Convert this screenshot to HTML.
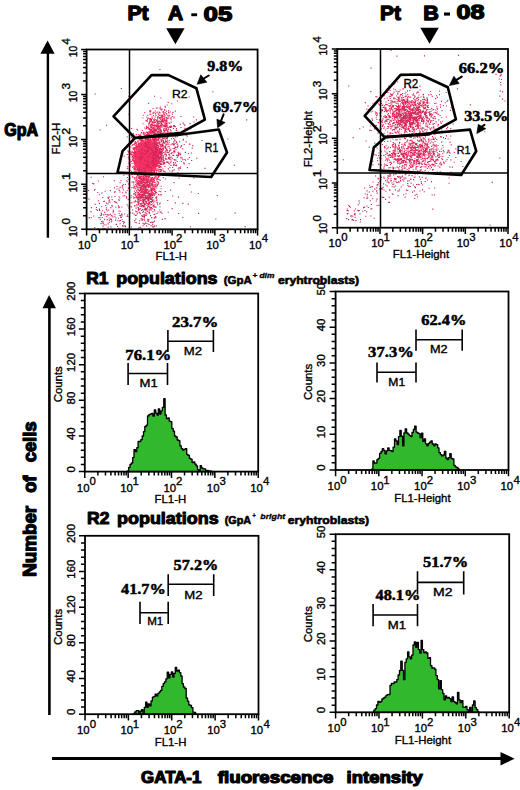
<!DOCTYPE html>
<html><head><meta charset="utf-8"><style>
html,body{margin:0;padding:0;background:#fff;overflow:hidden}
svg{display:block}
</style></head><body>
<svg width="520" height="790" viewBox="0 0 520 790">
<rect width="520" height="790" fill="#fff"/>
<text x="127.43" y="20.35" font-size="19.91" font-family='"Liberation Sans", sans-serif' fill="#000" font-weight="bold" stroke="#000" stroke-width="1.3" stroke-linejoin="round" textLength="21.17" lengthAdjust="spacingAndGlyphs">Pt</text>
<text x="168.03" y="20.35" font-size="20.64" font-family='"Liberation Sans", sans-serif' fill="#000" font-weight="bold" stroke="#000" stroke-width="1.3" stroke-linejoin="round" textLength="15.18" lengthAdjust="spacingAndGlyphs">A</text>
<rect x="191.3" y="13.3" width="5.8" height="2.9" fill="#000"/>
<text x="203.63" y="20.65" font-size="20.77" font-family='"Liberation Sans", sans-serif' fill="#000" font-weight="bold" stroke="#000" stroke-width="1.3" stroke-linejoin="round" textLength="28.74" lengthAdjust="spacingAndGlyphs">05</text>
<text x="380.06" y="19.55" font-size="20.49" font-family='"Liberation Sans", sans-serif' fill="#000" font-weight="bold" stroke="#000" stroke-width="1.3" stroke-linejoin="round" textLength="20.85" lengthAdjust="spacingAndGlyphs">Pt</text>
<text x="423.20" y="19.55" font-size="20.49" font-family='"Liberation Sans", sans-serif' fill="#000" font-weight="bold" stroke="#000" stroke-width="1.3" stroke-linejoin="round" textLength="15.63" lengthAdjust="spacingAndGlyphs">B</text>
<rect x="444" y="12.5" width="6" height="3.1" fill="#000"/>
<text x="456.56" y="19.15" font-size="19.91" font-family='"Liberation Sans", sans-serif' fill="#000" font-weight="bold" stroke="#000" stroke-width="1.3" stroke-linejoin="round" textLength="27.97" lengthAdjust="spacingAndGlyphs">08</text>
<polygon points="166.2,28.2 184.6,28.2 175.4,44.3" fill="#000"/>
<polygon points="420.3,27.7 438.8,27.7 429.5,43.8" fill="#000"/>
<line x1="47.90" y1="52.00" x2="47.90" y2="237.70" stroke="#000" stroke-width="2.4" stroke-linecap="butt"/>
<polygon points="40.4,53.7 54.6,53.7 47.6,40.6" fill="#000"/>
<text x="4.34" y="136.20" font-size="17.62" font-family='"Liberation Sans", sans-serif' fill="#000" font-weight="bold" stroke="#000" stroke-width="1.2" stroke-linejoin="round" textLength="33.88" lengthAdjust="spacingAndGlyphs">GpA</text>
<line x1="49.40" y1="306.00" x2="49.40" y2="715.00" stroke="#000" stroke-width="2.6" stroke-linecap="butt"/>
<polygon points="42.5,308.3 56,308.3 49.1,295" fill="#000"/>
<text transform="translate(36.15,576.81) rotate(-90)" font-size="18.90" font-family='"Liberation Sans", sans-serif' fill="#000" font-weight="bold" stroke="#000" stroke-width="1.3" stroke-linejoin="round" textLength="70.94" lengthAdjust="spacingAndGlyphs">Number</text>
<text transform="translate(36.15,492.76) rotate(-90)" font-size="18.90" font-family='"Liberation Sans", sans-serif' fill="#000" font-weight="bold" stroke="#000" stroke-width="1.3" stroke-linejoin="round" textLength="17.07" lengthAdjust="spacingAndGlyphs">of</text>
<text transform="translate(36.15,462.37) rotate(-90)" font-size="18.90" font-family='"Liberation Sans", sans-serif' fill="#000" font-weight="bold" stroke="#000" stroke-width="1.3" stroke-linejoin="round" textLength="40.98" lengthAdjust="spacingAndGlyphs">cells</text>
<line x1="52.00" y1="758.50" x2="502.00" y2="758.50" stroke="#000" stroke-width="2.8" stroke-linecap="butt"/>
<polygon points="500.5,752 500.5,765.4 514.6,758.7" fill="#000"/>
<text x="141.14" y="783.40" font-size="16.61" font-family='"Liberation Sans", sans-serif' fill="#000" font-weight="bold" stroke="#000" stroke-width="1.2" stroke-linejoin="round" textLength="60.21" lengthAdjust="spacingAndGlyphs">GATA-1</text>
<text x="217.78" y="783.40" font-size="16.61" font-family='"Liberation Sans", sans-serif' fill="#000" font-weight="bold" stroke="#000" stroke-width="1.2" stroke-linejoin="round" textLength="115.56" lengthAdjust="spacingAndGlyphs">fluorescence</text>
<text x="346.61" y="783.40" font-size="16.61" font-family='"Liberation Sans", sans-serif' fill="#000" font-weight="bold" stroke="#000" stroke-width="1.2" stroke-linejoin="round" textLength="76.19" lengthAdjust="spacingAndGlyphs">intensity</text>
<defs><filter id="bl" x="-50%" y="-50%" width="200%" height="200%"><feGaussianBlur stdDeviation="1.6"/></filter></defs><ellipse cx="146.5" cy="157" rx="12" ry="15" transform="rotate(8 146.5 157)" fill="rgb(246,48,100)" filter="url(#bl)"/>
<path d="M147.5 164.3h1.1v1.1h-1.1zM150.5 146.5h1.1v1.1h-1.1zM151.6 161.8h1.1v1.1h-1.1zM142.2 161.3h1.1v1.1h-1.1zM148.4 159.9h1.1v1.1h-1.1zM145.9 161.6h1.1v1.1h-1.1zM142.0 154.8h1.1v1.1h-1.1zM142.5 161.5h1.1v1.1h-1.1zM147.2 154.6h1.1v1.1h-1.1zM141.9 154.0h1.1v1.1h-1.1zM147.0 154.7h1.1v1.1h-1.1zM153.3 166.9h1.1v1.1h-1.1zM131.9 138.1h1.1v1.1h-1.1zM146.0 153.3h1.1v1.1h-1.1zM147.5 159.1h1.1v1.1h-1.1zM161.7 150.1h1.1v1.1h-1.1zM141.1 173.7h1.1v1.1h-1.1zM149.7 163.3h1.1v1.1h-1.1zM145.6 142.6h1.1v1.1h-1.1zM147.4 158.1h1.1v1.1h-1.1zM139.7 149.9h1.1v1.1h-1.1zM147.4 149.0h1.1v1.1h-1.1zM145.7 157.7h1.1v1.1h-1.1zM147.5 152.8h1.1v1.1h-1.1zM149.0 165.1h1.1v1.1h-1.1zM149.8 150.5h1.1v1.1h-1.1zM151.9 153.6h1.1v1.1h-1.1zM153.7 149.0h1.1v1.1h-1.1zM152.4 157.9h1.1v1.1h-1.1zM139.0 153.0h1.1v1.1h-1.1zM146.4 159.3h1.1v1.1h-1.1zM141.8 146.6h1.1v1.1h-1.1zM148.5 153.3h1.1v1.1h-1.1zM146.9 163.6h1.1v1.1h-1.1zM135.6 157.3h1.1v1.1h-1.1zM154.8 155.9h1.1v1.1h-1.1zM140.2 162.4h1.1v1.1h-1.1zM146.8 164.8h1.1v1.1h-1.1zM146.5 144.2h1.1v1.1h-1.1zM146.5 153.1h1.1v1.1h-1.1zM151.2 159.5h1.1v1.1h-1.1zM137.8 145.2h1.1v1.1h-1.1zM151.2 163.7h1.1v1.1h-1.1zM142.4 156.3h1.1v1.1h-1.1zM148.7 161.4h1.1v1.1h-1.1zM151.7 160.1h1.1v1.1h-1.1zM146.3 154.7h1.1v1.1h-1.1zM156.6 139.4h1.1v1.1h-1.1zM145.6 157.1h1.1v1.1h-1.1zM136.9 158.2h1.1v1.1h-1.1zM141.1 163.5h1.1v1.1h-1.1zM144.7 162.5h1.1v1.1h-1.1zM153.7 161.6h1.1v1.1h-1.1zM143.1 143.3h1.1v1.1h-1.1zM157.9 158.0h1.1v1.1h-1.1zM141.9 157.4h1.1v1.1h-1.1zM144.0 163.9h1.1v1.1h-1.1zM146.7 157.2h1.1v1.1h-1.1zM141.2 160.1h1.1v1.1h-1.1zM138.9 161.4h1.1v1.1h-1.1zM158.5 146.0h1.1v1.1h-1.1zM129.8 159.4h1.1v1.1h-1.1zM164.3 151.5h1.1v1.1h-1.1zM137.6 160.5h1.1v1.1h-1.1zM141.9 151.8h1.1v1.1h-1.1zM143.5 161.1h1.1v1.1h-1.1zM143.5 158.9h1.1v1.1h-1.1zM146.6 149.7h1.1v1.1h-1.1zM145.9 148.7h1.1v1.1h-1.1zM148.2 147.6h1.1v1.1h-1.1zM137.4 168.0h1.1v1.1h-1.1zM146.2 156.5h1.1v1.1h-1.1zM150.4 154.1h1.1v1.1h-1.1zM144.4 160.3h1.1v1.1h-1.1zM150.0 147.6h1.1v1.1h-1.1zM152.7 153.0h1.1v1.1h-1.1zM141.1 148.3h1.1v1.1h-1.1zM141.6 170.2h1.1v1.1h-1.1zM138.7 157.0h1.1v1.1h-1.1zM132.8 154.6h1.1v1.1h-1.1zM152.6 156.0h1.1v1.1h-1.1zM142.1 158.2h1.1v1.1h-1.1zM150.0 163.3h1.1v1.1h-1.1zM158.8 161.0h1.1v1.1h-1.1zM142.9 155.3h1.1v1.1h-1.1zM145.9 157.8h1.1v1.1h-1.1zM146.1 158.4h1.1v1.1h-1.1zM134.6 162.1h1.1v1.1h-1.1zM144.6 146.5h1.1v1.1h-1.1zM148.6 168.7h1.1v1.1h-1.1zM149.4 158.9h1.1v1.1h-1.1zM136.3 180.0h1.1v1.1h-1.1zM153.8 148.5h1.1v1.1h-1.1zM141.4 156.8h1.1v1.1h-1.1zM136.3 156.7h1.1v1.1h-1.1zM141.8 166.7h1.1v1.1h-1.1zM156.7 135.4h1.1v1.1h-1.1zM149.2 143.5h1.1v1.1h-1.1zM153.4 159.7h1.1v1.1h-1.1zM151.6 148.7h1.1v1.1h-1.1zM155.2 176.0h1.1v1.1h-1.1zM139.1 158.9h1.1v1.1h-1.1zM142.2 156.0h1.1v1.1h-1.1zM135.6 171.2h1.1v1.1h-1.1zM140.7 153.4h1.1v1.1h-1.1zM150.7 152.1h1.1v1.1h-1.1zM145.8 152.0h1.1v1.1h-1.1zM147.4 147.1h1.1v1.1h-1.1zM144.0 154.8h1.1v1.1h-1.1zM144.3 157.1h1.1v1.1h-1.1zM143.5 163.0h1.1v1.1h-1.1zM144.6 155.5h1.1v1.1h-1.1zM143.0 151.8h1.1v1.1h-1.1zM137.6 159.9h1.1v1.1h-1.1zM140.3 149.5h1.1v1.1h-1.1zM148.2 160.8h1.1v1.1h-1.1zM146.9 139.6h1.1v1.1h-1.1zM148.8 159.6h1.1v1.1h-1.1zM136.3 161.9h1.1v1.1h-1.1zM143.7 146.8h1.1v1.1h-1.1zM147.4 155.6h1.1v1.1h-1.1zM150.2 143.8h1.1v1.1h-1.1zM159.0 154.0h1.1v1.1h-1.1zM135.7 160.4h1.1v1.1h-1.1zM143.7 159.3h1.1v1.1h-1.1zM144.4 156.1h1.1v1.1h-1.1zM149.2 151.0h1.1v1.1h-1.1zM151.5 153.8h1.1v1.1h-1.1zM140.8 156.7h1.1v1.1h-1.1zM149.7 155.6h1.1v1.1h-1.1zM140.1 161.2h1.1v1.1h-1.1zM136.8 146.4h1.1v1.1h-1.1zM148.8 145.7h1.1v1.1h-1.1zM146.8 156.6h1.1v1.1h-1.1zM153.6 150.4h1.1v1.1h-1.1zM142.0 159.1h1.1v1.1h-1.1zM126.2 180.2h1.1v1.1h-1.1zM143.1 150.1h1.1v1.1h-1.1zM152.1 157.6h1.1v1.1h-1.1zM134.2 160.2h1.1v1.1h-1.1zM152.6 154.2h1.1v1.1h-1.1zM144.0 160.8h1.1v1.1h-1.1zM140.0 159.6h1.1v1.1h-1.1zM148.8 151.6h1.1v1.1h-1.1zM137.9 153.5h1.1v1.1h-1.1zM139.4 164.4h1.1v1.1h-1.1zM146.3 163.7h1.1v1.1h-1.1zM147.0 159.4h1.1v1.1h-1.1zM140.5 161.7h1.1v1.1h-1.1zM158.4 156.4h1.1v1.1h-1.1zM142.9 155.0h1.1v1.1h-1.1zM144.5 150.6h1.1v1.1h-1.1zM147.8 154.7h1.1v1.1h-1.1zM155.7 158.6h1.1v1.1h-1.1zM147.2 165.3h1.1v1.1h-1.1zM142.5 168.7h1.1v1.1h-1.1zM143.6 149.5h1.1v1.1h-1.1zM144.3 155.6h1.1v1.1h-1.1zM137.6 155.1h1.1v1.1h-1.1zM133.8 166.8h1.1v1.1h-1.1zM146.9 151.5h1.1v1.1h-1.1zM141.3 152.8h1.1v1.1h-1.1zM146.6 148.0h1.1v1.1h-1.1zM140.9 154.4h1.1v1.1h-1.1zM141.8 164.3h1.1v1.1h-1.1zM153.8 158.4h1.1v1.1h-1.1zM151.5 146.4h1.1v1.1h-1.1zM150.6 157.5h1.1v1.1h-1.1zM147.2 170.9h1.1v1.1h-1.1zM131.5 156.6h1.1v1.1h-1.1zM138.6 160.7h1.1v1.1h-1.1zM138.8 151.4h1.1v1.1h-1.1zM146.9 162.4h1.1v1.1h-1.1zM148.1 150.4h1.1v1.1h-1.1zM141.7 163.8h1.1v1.1h-1.1zM149.0 142.9h1.1v1.1h-1.1zM151.3 161.4h1.1v1.1h-1.1zM152.6 155.2h1.1v1.1h-1.1zM153.4 149.1h1.1v1.1h-1.1zM150.9 153.5h1.1v1.1h-1.1zM149.3 166.2h1.1v1.1h-1.1zM141.9 155.7h1.1v1.1h-1.1zM145.0 167.0h1.1v1.1h-1.1zM152.8 147.6h1.1v1.1h-1.1zM148.3 163.8h1.1v1.1h-1.1zM162.6 145.3h1.1v1.1h-1.1zM141.1 167.6h1.1v1.1h-1.1zM139.6 145.4h1.1v1.1h-1.1zM148.3 166.1h1.1v1.1h-1.1zM141.4 160.8h1.1v1.1h-1.1zM145.0 169.8h1.1v1.1h-1.1zM145.0 165.3h1.1v1.1h-1.1zM141.0 154.4h1.1v1.1h-1.1zM144.2 166.4h1.1v1.1h-1.1zM151.3 151.4h1.1v1.1h-1.1zM149.7 164.2h1.1v1.1h-1.1zM146.2 154.7h1.1v1.1h-1.1zM147.8 142.6h1.1v1.1h-1.1zM147.4 159.2h1.1v1.1h-1.1zM139.9 162.2h1.1v1.1h-1.1zM138.5 150.8h1.1v1.1h-1.1zM140.5 173.1h1.1v1.1h-1.1zM135.4 159.9h1.1v1.1h-1.1zM152.0 161.2h1.1v1.1h-1.1zM155.5 149.9h1.1v1.1h-1.1zM130.8 160.8h1.1v1.1h-1.1zM139.3 152.9h1.1v1.1h-1.1zM137.4 164.5h1.1v1.1h-1.1zM153.1 151.9h1.1v1.1h-1.1zM152.1 159.0h1.1v1.1h-1.1zM145.5 157.3h1.1v1.1h-1.1zM144.3 161.9h1.1v1.1h-1.1zM149.0 154.4h1.1v1.1h-1.1zM153.8 153.0h1.1v1.1h-1.1zM147.7 160.9h1.1v1.1h-1.1zM156.7 154.4h1.1v1.1h-1.1zM157.4 160.4h1.1v1.1h-1.1zM146.3 151.2h1.1v1.1h-1.1zM150.2 158.1h1.1v1.1h-1.1zM141.1 146.3h1.1v1.1h-1.1zM143.9 150.7h1.1v1.1h-1.1zM151.4 169.7h1.1v1.1h-1.1zM151.5 161.0h1.1v1.1h-1.1zM143.7 157.0h1.1v1.1h-1.1zM149.0 175.8h1.1v1.1h-1.1zM152.8 155.7h1.1v1.1h-1.1zM147.5 153.0h1.1v1.1h-1.1zM141.8 154.6h1.1v1.1h-1.1zM145.0 172.6h1.1v1.1h-1.1zM144.8 168.4h1.1v1.1h-1.1zM157.7 159.7h1.1v1.1h-1.1zM155.7 164.8h1.1v1.1h-1.1zM143.4 158.7h1.1v1.1h-1.1zM147.0 155.1h1.1v1.1h-1.1zM145.0 158.0h1.1v1.1h-1.1zM150.6 150.1h1.1v1.1h-1.1zM148.7 144.2h1.1v1.1h-1.1zM147.2 162.5h1.1v1.1h-1.1zM147.1 159.6h1.1v1.1h-1.1zM151.3 152.1h1.1v1.1h-1.1zM144.2 161.0h1.1v1.1h-1.1zM152.3 161.4h1.1v1.1h-1.1zM163.0 159.1h1.1v1.1h-1.1zM151.0 168.7h1.1v1.1h-1.1zM146.9 150.0h1.1v1.1h-1.1zM138.7 157.0h1.1v1.1h-1.1zM153.2 160.5h1.1v1.1h-1.1zM148.2 154.0h1.1v1.1h-1.1zM153.2 139.8h1.1v1.1h-1.1zM147.9 157.5h1.1v1.1h-1.1zM134.5 173.7h1.1v1.1h-1.1zM139.2 146.4h1.1v1.1h-1.1zM137.2 164.9h1.1v1.1h-1.1zM139.8 161.6h1.1v1.1h-1.1zM149.9 159.8h1.1v1.1h-1.1zM139.0 150.4h1.1v1.1h-1.1zM159.1 148.1h1.1v1.1h-1.1zM141.4 154.7h1.1v1.1h-1.1zM151.3 160.0h1.1v1.1h-1.1zM152.8 148.9h1.1v1.1h-1.1zM151.7 162.8h1.1v1.1h-1.1zM134.0 168.1h1.1v1.1h-1.1zM162.3 153.2h1.1v1.1h-1.1zM144.8 168.8h1.1v1.1h-1.1zM140.0 138.7h1.1v1.1h-1.1zM139.0 150.8h1.1v1.1h-1.1zM141.9 161.4h1.1v1.1h-1.1zM150.1 146.9h1.1v1.1h-1.1zM147.4 173.3h1.1v1.1h-1.1zM152.7 166.6h1.1v1.1h-1.1zM145.2 165.3h1.1v1.1h-1.1zM139.2 162.2h1.1v1.1h-1.1zM144.3 166.4h1.1v1.1h-1.1zM151.1 148.4h1.1v1.1h-1.1zM145.5 167.3h1.1v1.1h-1.1zM140.1 151.0h1.1v1.1h-1.1zM143.8 143.6h1.1v1.1h-1.1zM150.7 169.1h1.1v1.1h-1.1zM151.3 159.9h1.1v1.1h-1.1zM145.8 158.9h1.1v1.1h-1.1zM140.5 163.7h1.1v1.1h-1.1zM151.8 166.0h1.1v1.1h-1.1zM143.0 157.1h1.1v1.1h-1.1zM142.8 171.8h1.1v1.1h-1.1zM150.4 141.4h1.1v1.1h-1.1zM146.3 173.2h1.1v1.1h-1.1zM149.6 165.1h1.1v1.1h-1.1zM149.6 140.5h1.1v1.1h-1.1zM136.8 144.5h1.1v1.1h-1.1zM145.2 159.5h1.1v1.1h-1.1zM151.4 154.9h1.1v1.1h-1.1zM153.0 155.7h1.1v1.1h-1.1zM140.7 163.3h1.1v1.1h-1.1zM144.7 133.1h1.1v1.1h-1.1zM139.6 156.6h1.1v1.1h-1.1zM127.3 150.5h1.1v1.1h-1.1zM146.5 144.7h1.1v1.1h-1.1zM137.7 151.5h1.1v1.1h-1.1zM141.1 166.9h1.1v1.1h-1.1zM151.2 144.2h1.1v1.1h-1.1zM140.0 161.9h1.1v1.1h-1.1zM158.1 162.4h1.1v1.1h-1.1zM145.7 172.9h1.1v1.1h-1.1zM146.8 154.4h1.1v1.1h-1.1zM138.2 151.1h1.1v1.1h-1.1zM162.5 147.6h1.1v1.1h-1.1zM148.7 145.2h1.1v1.1h-1.1zM146.0 164.6h1.1v1.1h-1.1zM143.9 162.8h1.1v1.1h-1.1zM150.5 161.6h1.1v1.1h-1.1zM156.3 165.5h1.1v1.1h-1.1zM145.6 151.0h1.1v1.1h-1.1zM140.4 160.0h1.1v1.1h-1.1zM140.4 179.5h1.1v1.1h-1.1zM158.6 157.3h1.1v1.1h-1.1zM141.9 170.8h1.1v1.1h-1.1zM135.1 151.1h1.1v1.1h-1.1zM153.9 150.4h1.1v1.1h-1.1zM144.0 153.5h1.1v1.1h-1.1zM150.5 158.9h1.1v1.1h-1.1zM148.2 162.4h1.1v1.1h-1.1zM145.1 166.3h1.1v1.1h-1.1zM144.0 144.2h1.1v1.1h-1.1zM137.5 141.4h1.1v1.1h-1.1zM141.5 165.0h1.1v1.1h-1.1zM148.5 152.2h1.1v1.1h-1.1zM140.4 151.4h1.1v1.1h-1.1zM144.8 151.8h1.1v1.1h-1.1zM138.0 151.4h1.1v1.1h-1.1zM156.2 139.9h1.1v1.1h-1.1zM148.1 139.0h1.1v1.1h-1.1zM148.8 150.9h1.1v1.1h-1.1zM133.0 155.5h1.1v1.1h-1.1zM158.0 160.0h1.1v1.1h-1.1zM154.0 157.7h1.1v1.1h-1.1zM132.0 158.7h1.1v1.1h-1.1zM146.0 144.3h1.1v1.1h-1.1zM151.1 160.3h1.1v1.1h-1.1zM141.9 163.7h1.1v1.1h-1.1zM140.0 161.4h1.1v1.1h-1.1zM139.7 160.4h1.1v1.1h-1.1zM137.3 168.2h1.1v1.1h-1.1zM146.0 169.3h1.1v1.1h-1.1zM141.9 152.1h1.1v1.1h-1.1zM155.9 135.0h1.1v1.1h-1.1zM138.1 164.4h1.1v1.1h-1.1zM148.0 165.7h1.1v1.1h-1.1zM143.7 161.4h1.1v1.1h-1.1zM143.8 144.7h1.1v1.1h-1.1zM136.5 150.5h1.1v1.1h-1.1zM143.9 151.1h1.1v1.1h-1.1zM126.7 136.3h1.1v1.1h-1.1zM142.7 158.8h1.1v1.1h-1.1zM144.1 149.0h1.1v1.1h-1.1zM128.7 171.3h1.1v1.1h-1.1zM137.0 169.8h1.1v1.1h-1.1zM156.1 161.1h1.1v1.1h-1.1zM142.6 157.5h1.1v1.1h-1.1zM138.7 157.9h1.1v1.1h-1.1zM145.7 161.5h1.1v1.1h-1.1zM150.0 172.6h1.1v1.1h-1.1zM142.5 165.3h1.1v1.1h-1.1zM142.8 148.6h1.1v1.1h-1.1zM144.0 148.1h1.1v1.1h-1.1zM151.4 165.8h1.1v1.1h-1.1zM154.7 158.2h1.1v1.1h-1.1zM149.1 152.5h1.1v1.1h-1.1zM138.5 159.4h1.1v1.1h-1.1zM149.9 148.0h1.1v1.1h-1.1zM152.8 143.1h1.1v1.1h-1.1zM146.3 151.5h1.1v1.1h-1.1zM144.7 147.3h1.1v1.1h-1.1zM151.8 162.8h1.1v1.1h-1.1zM153.9 159.4h1.1v1.1h-1.1zM138.8 152.4h1.1v1.1h-1.1zM138.2 159.4h1.1v1.1h-1.1zM153.7 161.0h1.1v1.1h-1.1zM143.1 153.1h1.1v1.1h-1.1zM149.9 145.0h1.1v1.1h-1.1zM147.1 158.7h1.1v1.1h-1.1zM143.6 152.7h1.1v1.1h-1.1zM148.7 150.2h1.1v1.1h-1.1zM140.0 162.4h1.1v1.1h-1.1zM145.4 171.1h1.1v1.1h-1.1zM142.7 140.8h1.1v1.1h-1.1zM151.0 165.9h1.1v1.1h-1.1zM143.8 143.6h1.1v1.1h-1.1zM148.7 142.0h1.1v1.1h-1.1zM147.4 138.1h1.1v1.1h-1.1zM148.0 138.7h1.1v1.1h-1.1zM142.6 169.1h1.1v1.1h-1.1zM143.5 162.8h1.1v1.1h-1.1zM143.5 148.5h1.1v1.1h-1.1zM135.2 163.7h1.1v1.1h-1.1zM143.5 170.1h1.1v1.1h-1.1zM139.1 153.4h1.1v1.1h-1.1zM144.7 168.5h1.1v1.1h-1.1zM158.9 153.2h1.1v1.1h-1.1zM141.6 140.7h1.1v1.1h-1.1zM155.0 157.3h1.1v1.1h-1.1zM142.2 155.4h1.1v1.1h-1.1zM132.4 139.2h1.1v1.1h-1.1zM151.6 160.9h1.1v1.1h-1.1zM148.7 148.3h1.1v1.1h-1.1zM147.4 172.1h1.1v1.1h-1.1zM138.4 155.2h1.1v1.1h-1.1zM142.9 159.0h1.1v1.1h-1.1zM146.5 155.3h1.1v1.1h-1.1zM140.6 155.4h1.1v1.1h-1.1zM142.5 154.6h1.1v1.1h-1.1zM144.9 161.9h1.1v1.1h-1.1zM143.0 153.1h1.1v1.1h-1.1zM153.4 155.9h1.1v1.1h-1.1zM143.3 163.4h1.1v1.1h-1.1zM147.8 157.6h1.1v1.1h-1.1zM149.5 146.4h1.1v1.1h-1.1zM147.2 168.1h1.1v1.1h-1.1zM152.3 144.2h1.1v1.1h-1.1zM149.4 149.3h1.1v1.1h-1.1zM144.6 157.4h1.1v1.1h-1.1zM136.7 166.4h1.1v1.1h-1.1zM144.7 163.2h1.1v1.1h-1.1zM148.4 168.6h1.1v1.1h-1.1zM156.1 145.6h1.1v1.1h-1.1zM149.7 138.8h1.1v1.1h-1.1zM142.4 162.1h1.1v1.1h-1.1zM150.3 168.5h1.1v1.1h-1.1zM143.4 158.9h1.1v1.1h-1.1zM145.1 167.4h1.1v1.1h-1.1zM157.0 155.5h1.1v1.1h-1.1zM170.6 160.9h1.1v1.1h-1.1zM143.1 161.3h1.1v1.1h-1.1zM150.4 162.1h1.1v1.1h-1.1zM140.0 168.3h1.1v1.1h-1.1zM144.4 169.7h1.1v1.1h-1.1zM157.2 147.7h1.1v1.1h-1.1zM141.6 147.3h1.1v1.1h-1.1zM147.9 157.5h1.1v1.1h-1.1zM149.3 150.3h1.1v1.1h-1.1zM147.1 169.1h1.1v1.1h-1.1zM138.2 153.7h1.1v1.1h-1.1zM148.2 156.0h1.1v1.1h-1.1zM142.5 171.4h1.1v1.1h-1.1zM153.4 165.4h1.1v1.1h-1.1zM138.2 174.8h1.1v1.1h-1.1zM149.6 152.4h1.1v1.1h-1.1zM145.0 152.4h1.1v1.1h-1.1zM159.7 161.0h1.1v1.1h-1.1zM150.0 138.9h1.1v1.1h-1.1zM152.7 148.8h1.1v1.1h-1.1zM138.3 160.7h1.1v1.1h-1.1zM139.7 162.9h1.1v1.1h-1.1zM156.3 143.2h1.1v1.1h-1.1zM147.9 143.5h1.1v1.1h-1.1zM144.7 164.4h1.1v1.1h-1.1zM135.0 170.4h1.1v1.1h-1.1zM146.2 146.6h1.1v1.1h-1.1zM144.5 163.3h1.1v1.1h-1.1zM137.6 155.3h1.1v1.1h-1.1zM135.9 165.4h1.1v1.1h-1.1zM148.0 153.4h1.1v1.1h-1.1zM154.9 147.2h1.1v1.1h-1.1zM141.2 171.8h1.1v1.1h-1.1zM143.6 168.0h1.1v1.1h-1.1zM148.7 151.2h1.1v1.1h-1.1zM144.7 157.2h1.1v1.1h-1.1zM145.0 149.4h1.1v1.1h-1.1zM143.6 143.5h1.1v1.1h-1.1zM146.5 160.2h1.1v1.1h-1.1zM153.9 142.5h1.1v1.1h-1.1zM151.6 157.6h1.1v1.1h-1.1zM137.1 156.0h1.1v1.1h-1.1zM150.8 162.1h1.1v1.1h-1.1zM149.6 165.5h1.1v1.1h-1.1zM152.2 157.5h1.1v1.1h-1.1zM134.2 148.1h1.1v1.1h-1.1zM149.4 153.3h1.1v1.1h-1.1zM149.6 164.3h1.1v1.1h-1.1zM143.9 172.6h1.1v1.1h-1.1zM138.8 163.5h1.1v1.1h-1.1zM144.5 149.7h1.1v1.1h-1.1zM151.1 152.3h1.1v1.1h-1.1zM153.6 148.0h1.1v1.1h-1.1zM147.9 149.8h1.1v1.1h-1.1zM145.4 153.4h1.1v1.1h-1.1zM138.2 161.0h1.1v1.1h-1.1zM139.9 147.2h1.1v1.1h-1.1zM150.7 166.0h1.1v1.1h-1.1zM150.2 160.4h1.1v1.1h-1.1zM162.8 149.3h1.1v1.1h-1.1zM143.1 147.7h1.1v1.1h-1.1zM151.7 160.3h1.1v1.1h-1.1zM152.1 166.2h1.1v1.1h-1.1zM146.2 149.7h1.1v1.1h-1.1zM136.8 174.2h1.1v1.1h-1.1zM151.7 162.9h1.1v1.1h-1.1zM144.5 154.8h1.1v1.1h-1.1zM144.7 153.8h1.1v1.1h-1.1zM131.1 153.6h1.1v1.1h-1.1zM143.6 158.9h1.1v1.1h-1.1zM146.5 164.2h1.1v1.1h-1.1zM145.2 163.5h1.1v1.1h-1.1zM131.7 144.8h1.1v1.1h-1.1zM159.3 148.6h1.1v1.1h-1.1zM143.6 162.5h1.1v1.1h-1.1zM139.7 161.9h1.1v1.1h-1.1zM140.1 139.2h1.1v1.1h-1.1zM140.4 141.5h1.1v1.1h-1.1zM146.8 154.2h1.1v1.1h-1.1zM150.1 148.6h1.1v1.1h-1.1zM162.8 158.9h1.1v1.1h-1.1zM145.5 160.6h1.1v1.1h-1.1zM145.8 151.3h1.1v1.1h-1.1zM145.6 164.7h1.1v1.1h-1.1zM149.3 165.5h1.1v1.1h-1.1zM144.0 149.7h1.1v1.1h-1.1zM159.6 157.1h1.1v1.1h-1.1zM148.4 163.6h1.1v1.1h-1.1zM157.5 147.2h1.1v1.1h-1.1zM144.0 152.7h1.1v1.1h-1.1zM148.1 136.4h1.1v1.1h-1.1zM150.1 132.6h1.1v1.1h-1.1zM147.6 161.7h1.1v1.1h-1.1zM152.1 147.5h1.1v1.1h-1.1zM153.8 150.8h1.1v1.1h-1.1zM140.0 147.3h1.1v1.1h-1.1zM140.8 157.4h1.1v1.1h-1.1zM154.8 140.3h1.1v1.1h-1.1zM141.7 163.9h1.1v1.1h-1.1zM147.0 161.4h1.1v1.1h-1.1zM135.5 163.2h1.1v1.1h-1.1zM136.2 156.8h1.1v1.1h-1.1zM152.4 174.3h1.1v1.1h-1.1zM148.5 165.0h1.1v1.1h-1.1zM143.3 152.3h1.1v1.1h-1.1zM154.0 158.3h1.1v1.1h-1.1zM147.8 145.0h1.1v1.1h-1.1zM146.5 162.6h1.1v1.1h-1.1zM142.2 151.9h1.1v1.1h-1.1zM156.4 160.3h1.1v1.1h-1.1zM146.3 147.2h1.1v1.1h-1.1zM142.9 154.2h1.1v1.1h-1.1zM156.2 153.4h1.1v1.1h-1.1zM159.4 151.3h1.1v1.1h-1.1zM143.0 163.7h1.1v1.1h-1.1zM146.2 149.8h1.1v1.1h-1.1zM145.0 160.6h1.1v1.1h-1.1zM135.9 153.0h1.1v1.1h-1.1zM146.4 153.5h1.1v1.1h-1.1zM152.0 153.1h1.1v1.1h-1.1zM144.1 156.9h1.1v1.1h-1.1zM151.5 156.0h1.1v1.1h-1.1zM157.5 151.1h1.1v1.1h-1.1zM156.0 151.3h1.1v1.1h-1.1zM144.9 159.9h1.1v1.1h-1.1zM158.3 166.8h1.1v1.1h-1.1zM142.0 167.4h1.1v1.1h-1.1zM146.3 150.1h1.1v1.1h-1.1zM149.2 158.3h1.1v1.1h-1.1zM153.4 153.5h1.1v1.1h-1.1zM148.0 162.7h1.1v1.1h-1.1zM148.3 157.1h1.1v1.1h-1.1zM140.7 163.8h1.1v1.1h-1.1zM146.6 161.3h1.1v1.1h-1.1zM144.2 156.7h1.1v1.1h-1.1zM139.7 156.5h1.1v1.1h-1.1zM151.3 158.6h1.1v1.1h-1.1zM151.5 160.6h1.1v1.1h-1.1zM155.5 156.9h1.1v1.1h-1.1zM135.4 158.8h1.1v1.1h-1.1zM146.9 148.7h1.1v1.1h-1.1zM150.3 159.9h1.1v1.1h-1.1zM149.8 154.7h1.1v1.1h-1.1zM147.4 159.4h1.1v1.1h-1.1zM158.9 153.3h1.1v1.1h-1.1zM145.9 160.0h1.1v1.1h-1.1zM137.8 141.6h1.1v1.1h-1.1zM163.0 144.7h1.1v1.1h-1.1zM151.4 150.5h1.1v1.1h-1.1zM144.5 139.5h1.1v1.1h-1.1zM139.6 162.5h1.1v1.1h-1.1zM136.7 160.4h1.1v1.1h-1.1zM145.5 174.2h1.1v1.1h-1.1zM141.6 167.0h1.1v1.1h-1.1zM152.6 155.6h1.1v1.1h-1.1zM133.6 167.8h1.1v1.1h-1.1zM138.5 151.5h1.1v1.1h-1.1zM150.5 167.3h1.1v1.1h-1.1zM141.1 155.8h1.1v1.1h-1.1zM143.1 166.6h1.1v1.1h-1.1zM165.2 144.5h1.1v1.1h-1.1zM156.6 134.1h1.1v1.1h-1.1zM148.2 147.7h1.1v1.1h-1.1zM159.0 160.6h1.1v1.1h-1.1zM142.5 152.0h1.1v1.1h-1.1zM142.5 157.9h1.1v1.1h-1.1zM144.5 162.3h1.1v1.1h-1.1zM155.3 164.6h1.1v1.1h-1.1zM141.0 142.0h1.1v1.1h-1.1zM140.1 165.0h1.1v1.1h-1.1zM145.3 151.0h1.1v1.1h-1.1zM149.5 145.3h1.1v1.1h-1.1zM138.5 160.0h1.1v1.1h-1.1zM145.2 152.9h1.1v1.1h-1.1zM149.4 152.5h1.1v1.1h-1.1zM142.8 152.4h1.1v1.1h-1.1zM150.3 158.2h1.1v1.1h-1.1zM139.3 153.1h1.1v1.1h-1.1zM147.9 173.4h1.1v1.1h-1.1zM138.7 158.5h1.1v1.1h-1.1zM143.6 163.6h1.1v1.1h-1.1zM147.2 169.8h1.1v1.1h-1.1zM150.6 153.0h1.1v1.1h-1.1zM142.5 159.8h1.1v1.1h-1.1zM145.5 177.5h1.1v1.1h-1.1zM159.0 149.1h1.1v1.1h-1.1zM150.7 146.3h1.1v1.1h-1.1zM134.8 161.4h1.1v1.1h-1.1zM151.6 148.9h1.1v1.1h-1.1zM158.5 150.7h1.1v1.1h-1.1zM138.1 161.1h1.1v1.1h-1.1zM148.2 155.9h1.1v1.1h-1.1zM145.7 158.8h1.1v1.1h-1.1zM145.9 155.4h1.1v1.1h-1.1zM136.3 143.6h1.1v1.1h-1.1zM151.5 151.8h1.1v1.1h-1.1zM148.2 168.0h1.1v1.1h-1.1zM143.8 159.0h1.1v1.1h-1.1zM158.8 165.2h1.1v1.1h-1.1zM156.0 171.9h1.1v1.1h-1.1zM151.5 156.9h1.1v1.1h-1.1zM142.8 146.7h1.1v1.1h-1.1zM148.9 161.5h1.1v1.1h-1.1zM144.1 163.9h1.1v1.1h-1.1zM141.0 165.6h1.1v1.1h-1.1zM146.8 156.7h1.1v1.1h-1.1zM146.6 156.2h1.1v1.1h-1.1zM164.8 146.3h1.1v1.1h-1.1zM145.8 167.6h1.1v1.1h-1.1zM151.5 155.3h1.1v1.1h-1.1zM159.2 150.0h1.1v1.1h-1.1zM137.3 160.3h1.1v1.1h-1.1zM140.7 135.5h1.1v1.1h-1.1zM151.0 164.4h1.1v1.1h-1.1zM151.9 153.7h1.1v1.1h-1.1zM149.1 149.1h1.1v1.1h-1.1zM156.4 165.6h1.1v1.1h-1.1zM154.1 141.5h1.1v1.1h-1.1zM149.5 170.4h1.1v1.1h-1.1zM153.1 165.0h1.1v1.1h-1.1zM147.0 154.1h1.1v1.1h-1.1zM149.8 160.9h1.1v1.1h-1.1zM148.5 154.7h1.1v1.1h-1.1zM159.0 149.1h1.1v1.1h-1.1zM147.2 152.1h1.1v1.1h-1.1zM151.0 170.1h1.1v1.1h-1.1zM153.3 164.7h1.1v1.1h-1.1zM134.4 172.8h1.1v1.1h-1.1zM150.0 156.7h1.1v1.1h-1.1zM147.1 154.2h1.1v1.1h-1.1zM148.8 160.1h1.1v1.1h-1.1zM148.0 135.1h1.1v1.1h-1.1zM145.6 161.0h1.1v1.1h-1.1zM150.1 156.3h1.1v1.1h-1.1zM147.9 166.1h1.1v1.1h-1.1zM141.3 168.7h1.1v1.1h-1.1zM135.8 144.2h1.1v1.1h-1.1zM144.3 135.5h1.1v1.1h-1.1zM138.3 166.3h1.1v1.1h-1.1zM154.3 159.2h1.1v1.1h-1.1zM157.2 160.9h1.1v1.1h-1.1zM143.0 158.5h1.1v1.1h-1.1zM144.5 163.0h1.1v1.1h-1.1zM135.4 163.7h1.1v1.1h-1.1zM142.3 163.6h1.1v1.1h-1.1zM137.3 151.8h1.1v1.1h-1.1zM145.7 164.6h1.1v1.1h-1.1zM136.2 169.6h1.1v1.1h-1.1zM150.4 153.1h1.1v1.1h-1.1zM154.1 159.2h1.1v1.1h-1.1zM150.5 177.8h1.1v1.1h-1.1zM152.2 153.5h1.1v1.1h-1.1zM142.9 161.4h1.1v1.1h-1.1zM149.6 150.4h1.1v1.1h-1.1zM141.2 161.8h1.1v1.1h-1.1zM165.4 137.6h1.1v1.1h-1.1zM151.4 156.1h1.1v1.1h-1.1zM150.2 165.1h1.1v1.1h-1.1zM148.3 148.6h1.1v1.1h-1.1zM140.3 139.7h1.1v1.1h-1.1zM154.6 156.6h1.1v1.1h-1.1zM143.5 154.1h1.1v1.1h-1.1zM137.5 158.0h1.1v1.1h-1.1zM153.3 168.0h1.1v1.1h-1.1zM134.5 166.6h1.1v1.1h-1.1zM144.4 140.1h1.1v1.1h-1.1zM140.1 147.5h1.1v1.1h-1.1zM148.0 148.4h1.1v1.1h-1.1zM137.2 153.1h1.1v1.1h-1.1zM159.9 153.3h1.1v1.1h-1.1zM149.4 158.2h1.1v1.1h-1.1zM166.3 144.1h1.1v1.1h-1.1zM155.4 147.5h1.1v1.1h-1.1zM142.9 155.5h1.1v1.1h-1.1zM168.0 154.2h1.1v1.1h-1.1zM132.5 165.7h1.1v1.1h-1.1zM141.5 154.0h1.1v1.1h-1.1zM146.2 157.8h1.1v1.1h-1.1zM145.0 159.0h1.1v1.1h-1.1zM147.7 164.6h1.1v1.1h-1.1zM144.9 150.3h1.1v1.1h-1.1zM138.8 160.8h1.1v1.1h-1.1zM145.4 161.6h1.1v1.1h-1.1zM147.5 171.7h1.1v1.1h-1.1zM146.7 163.5h1.1v1.1h-1.1zM140.4 146.6h1.1v1.1h-1.1zM146.3 146.5h1.1v1.1h-1.1zM152.9 146.6h1.1v1.1h-1.1zM150.6 136.5h1.1v1.1h-1.1zM139.9 152.9h1.1v1.1h-1.1zM147.5 141.7h1.1v1.1h-1.1zM145.8 165.3h1.1v1.1h-1.1zM151.6 152.2h1.1v1.1h-1.1zM144.5 146.4h1.1v1.1h-1.1zM148.4 169.8h1.1v1.1h-1.1zM145.6 142.2h1.1v1.1h-1.1zM146.7 163.2h1.1v1.1h-1.1zM128.9 155.1h1.1v1.1h-1.1zM159.1 166.3h1.1v1.1h-1.1zM149.4 161.0h1.1v1.1h-1.1zM154.7 150.3h1.1v1.1h-1.1zM140.5 159.5h1.1v1.1h-1.1zM141.7 158.4h1.1v1.1h-1.1zM133.1 161.2h1.1v1.1h-1.1zM151.9 158.3h1.1v1.1h-1.1zM145.2 170.8h1.1v1.1h-1.1zM140.9 148.1h1.1v1.1h-1.1zM140.1 152.2h1.1v1.1h-1.1zM140.0 156.2h1.1v1.1h-1.1zM144.5 144.1h1.1v1.1h-1.1zM134.8 165.4h1.1v1.1h-1.1zM146.4 155.0h1.1v1.1h-1.1zM146.8 156.3h1.1v1.1h-1.1zM150.5 162.6h1.1v1.1h-1.1zM143.9 149.4h1.1v1.1h-1.1zM141.4 145.3h1.1v1.1h-1.1zM156.8 150.9h1.1v1.1h-1.1zM134.8 147.7h1.1v1.1h-1.1zM141.0 158.9h1.1v1.1h-1.1zM140.0 160.5h1.1v1.1h-1.1zM147.1 168.0h1.1v1.1h-1.1zM156.2 183.3h1.1v1.1h-1.1zM156.9 148.8h1.1v1.1h-1.1zM143.5 158.6h1.1v1.1h-1.1zM158.7 165.0h1.1v1.1h-1.1zM154.5 156.9h1.1v1.1h-1.1zM149.2 163.7h1.1v1.1h-1.1zM142.4 163.0h1.1v1.1h-1.1zM153.6 156.9h1.1v1.1h-1.1zM150.6 171.9h1.1v1.1h-1.1zM146.9 157.1h1.1v1.1h-1.1zM145.4 151.5h1.1v1.1h-1.1zM148.1 153.7h1.1v1.1h-1.1zM145.6 150.2h1.1v1.1h-1.1zM138.1 147.4h1.1v1.1h-1.1zM150.4 147.5h1.1v1.1h-1.1zM139.9 170.0h1.1v1.1h-1.1zM154.7 152.5h1.1v1.1h-1.1zM151.3 152.2h1.1v1.1h-1.1zM157.8 153.9h1.1v1.1h-1.1zM145.0 168.7h1.1v1.1h-1.1zM139.3 167.0h1.1v1.1h-1.1zM140.9 158.1h1.1v1.1h-1.1zM144.7 155.9h1.1v1.1h-1.1zM147.6 156.6h1.1v1.1h-1.1zM138.7 163.1h1.1v1.1h-1.1zM149.2 168.6h1.1v1.1h-1.1zM157.3 147.3h1.1v1.1h-1.1zM152.8 169.3h1.1v1.1h-1.1zM141.6 165.1h1.1v1.1h-1.1zM156.7 154.1h1.1v1.1h-1.1zM138.2 152.4h1.1v1.1h-1.1zM164.0 162.1h1.1v1.1h-1.1zM139.1 153.5h1.1v1.1h-1.1zM140.7 152.5h1.1v1.1h-1.1zM150.9 135.7h1.1v1.1h-1.1zM146.7 169.2h1.1v1.1h-1.1zM145.8 153.6h1.1v1.1h-1.1zM155.4 147.6h1.1v1.1h-1.1zM140.6 144.0h1.1v1.1h-1.1zM144.9 160.1h1.1v1.1h-1.1zM145.1 161.5h1.1v1.1h-1.1zM151.1 162.1h1.1v1.1h-1.1zM141.7 153.8h1.1v1.1h-1.1zM156.0 149.6h1.1v1.1h-1.1zM145.5 153.2h1.1v1.1h-1.1zM146.9 147.8h1.1v1.1h-1.1zM134.1 176.9h1.1v1.1h-1.1zM153.6 152.1h1.1v1.1h-1.1zM145.1 162.6h1.1v1.1h-1.1zM143.4 161.8h1.1v1.1h-1.1zM143.1 153.3h1.1v1.1h-1.1zM146.6 153.1h1.1v1.1h-1.1zM130.8 154.4h1.1v1.1h-1.1zM147.5 161.3h1.1v1.1h-1.1zM139.6 158.8h1.1v1.1h-1.1zM150.5 142.4h1.1v1.1h-1.1zM131.7 158.5h1.1v1.1h-1.1zM138.9 164.3h1.1v1.1h-1.1zM161.1 154.5h1.1v1.1h-1.1zM142.1 156.1h1.1v1.1h-1.1zM152.5 148.3h1.1v1.1h-1.1zM153.0 166.7h1.1v1.1h-1.1zM151.5 153.2h1.1v1.1h-1.1zM151.1 165.2h1.1v1.1h-1.1zM135.7 173.1h1.1v1.1h-1.1zM144.0 159.8h1.1v1.1h-1.1zM142.6 159.6h1.1v1.1h-1.1zM155.1 151.6h1.1v1.1h-1.1zM136.6 151.4h1.1v1.1h-1.1zM139.3 149.2h1.1v1.1h-1.1zM145.8 156.3h1.1v1.1h-1.1zM156.3 150.0h1.1v1.1h-1.1zM149.5 153.1h1.1v1.1h-1.1zM151.5 179.7h1.1v1.1h-1.1zM146.0 171.4h1.1v1.1h-1.1zM145.5 143.0h1.1v1.1h-1.1zM140.7 142.3h1.1v1.1h-1.1zM140.7 153.9h1.1v1.1h-1.1zM152.8 164.2h1.1v1.1h-1.1zM150.1 154.0h1.1v1.1h-1.1zM141.8 156.5h1.1v1.1h-1.1zM147.0 159.3h1.1v1.1h-1.1zM149.1 156.4h1.1v1.1h-1.1zM135.8 145.5h1.1v1.1h-1.1zM138.7 170.3h1.1v1.1h-1.1zM142.8 162.2h1.1v1.1h-1.1zM155.4 161.4h1.1v1.1h-1.1zM144.4 154.1h1.1v1.1h-1.1zM139.5 158.4h1.1v1.1h-1.1zM152.9 163.0h1.1v1.1h-1.1zM150.4 163.9h1.1v1.1h-1.1zM160.3 154.0h1.1v1.1h-1.1zM146.5 163.1h1.1v1.1h-1.1zM158.1 138.1h1.1v1.1h-1.1zM143.5 154.7h1.1v1.1h-1.1zM138.7 162.9h1.1v1.1h-1.1zM148.5 153.9h1.1v1.1h-1.1zM138.0 144.1h1.1v1.1h-1.1zM139.5 159.7h1.1v1.1h-1.1zM141.7 138.3h1.1v1.1h-1.1zM138.1 150.4h1.1v1.1h-1.1zM153.5 179.8h1.1v1.1h-1.1zM142.0 164.4h1.1v1.1h-1.1zM153.6 169.3h1.1v1.1h-1.1zM147.7 146.0h1.1v1.1h-1.1zM146.1 140.9h1.1v1.1h-1.1zM146.9 163.8h1.1v1.1h-1.1zM134.5 154.4h1.1v1.1h-1.1zM146.5 167.8h1.1v1.1h-1.1zM154.1 165.3h1.1v1.1h-1.1zM142.6 153.1h1.1v1.1h-1.1zM155.1 153.3h1.1v1.1h-1.1zM143.9 170.0h1.1v1.1h-1.1zM149.3 145.6h1.1v1.1h-1.1zM143.7 162.0h1.1v1.1h-1.1zM143.6 166.5h1.1v1.1h-1.1zM155.7 153.0h1.1v1.1h-1.1zM143.4 155.6h1.1v1.1h-1.1zM138.2 158.8h1.1v1.1h-1.1zM144.2 163.4h1.1v1.1h-1.1zM144.0 149.0h1.1v1.1h-1.1zM159.6 151.7h1.1v1.1h-1.1zM143.8 150.2h1.1v1.1h-1.1zM145.9 149.0h1.1v1.1h-1.1zM147.3 151.0h1.1v1.1h-1.1zM143.3 159.6h1.1v1.1h-1.1zM150.3 161.7h1.1v1.1h-1.1zM141.2 159.5h1.1v1.1h-1.1zM145.9 156.0h1.1v1.1h-1.1zM134.5 160.7h1.1v1.1h-1.1zM143.1 171.1h1.1v1.1h-1.1zM152.2 148.4h1.1v1.1h-1.1zM136.0 165.1h1.1v1.1h-1.1zM139.9 161.7h1.1v1.1h-1.1zM141.5 174.3h1.1v1.1h-1.1zM144.8 169.8h1.1v1.1h-1.1zM155.7 154.6h1.1v1.1h-1.1zM142.2 169.1h1.1v1.1h-1.1zM147.8 149.8h1.1v1.1h-1.1zM150.5 180.0h1.1v1.1h-1.1zM144.3 168.8h1.1v1.1h-1.1zM143.6 168.4h1.1v1.1h-1.1zM143.1 168.2h1.1v1.1h-1.1zM150.4 156.4h1.1v1.1h-1.1zM149.0 153.1h1.1v1.1h-1.1zM141.1 147.3h1.1v1.1h-1.1zM147.9 148.6h1.1v1.1h-1.1zM148.8 162.5h1.1v1.1h-1.1zM150.5 153.9h1.1v1.1h-1.1zM147.2 157.4h1.1v1.1h-1.1zM156.5 152.4h1.1v1.1h-1.1zM144.7 155.2h1.1v1.1h-1.1zM147.0 151.2h1.1v1.1h-1.1zM141.3 165.5h1.1v1.1h-1.1zM141.4 164.6h1.1v1.1h-1.1zM158.0 170.7h1.1v1.1h-1.1zM134.1 162.1h1.1v1.1h-1.1zM149.1 162.8h1.1v1.1h-1.1zM135.3 162.2h1.1v1.1h-1.1zM138.0 167.3h1.1v1.1h-1.1zM149.9 180.2h1.1v1.1h-1.1zM146.6 144.4h1.1v1.1h-1.1zM152.2 166.1h1.1v1.1h-1.1zM142.4 168.6h1.1v1.1h-1.1zM153.1 147.6h1.1v1.1h-1.1zM145.2 153.5h1.1v1.1h-1.1zM145.8 159.1h1.1v1.1h-1.1zM142.6 155.1h1.1v1.1h-1.1zM150.7 157.6h1.1v1.1h-1.1zM145.5 154.7h1.1v1.1h-1.1zM149.0 141.4h1.1v1.1h-1.1zM149.3 149.1h1.1v1.1h-1.1zM149.7 145.4h1.1v1.1h-1.1zM152.4 160.6h1.1v1.1h-1.1zM137.8 158.0h1.1v1.1h-1.1zM139.3 171.8h1.1v1.1h-1.1zM151.1 151.5h1.1v1.1h-1.1zM148.3 157.6h1.1v1.1h-1.1zM153.9 161.9h1.1v1.1h-1.1zM151.8 148.8h1.1v1.1h-1.1zM148.8 176.0h1.1v1.1h-1.1zM151.0 158.0h1.1v1.1h-1.1zM149.3 149.8h1.1v1.1h-1.1zM149.6 148.7h1.1v1.1h-1.1zM147.7 154.4h1.1v1.1h-1.1zM140.7 161.6h1.1v1.1h-1.1zM137.4 155.6h1.1v1.1h-1.1zM135.7 171.5h1.1v1.1h-1.1zM158.2 167.0h1.1v1.1h-1.1zM158.1 164.8h1.1v1.1h-1.1zM150.9 154.7h1.1v1.1h-1.1zM140.9 157.7h1.1v1.1h-1.1zM144.1 153.4h1.1v1.1h-1.1zM151.7 157.4h1.1v1.1h-1.1zM137.2 154.1h1.1v1.1h-1.1zM142.4 154.3h1.1v1.1h-1.1zM138.0 166.4h1.1v1.1h-1.1zM160.6 150.5h1.1v1.1h-1.1zM150.1 163.4h1.1v1.1h-1.1zM139.8 157.2h1.1v1.1h-1.1zM154.6 166.3h1.1v1.1h-1.1zM158.9 149.6h1.1v1.1h-1.1zM141.6 159.2h1.1v1.1h-1.1zM149.0 158.2h1.1v1.1h-1.1zM144.9 153.7h1.1v1.1h-1.1zM142.2 160.6h1.1v1.1h-1.1zM126.7 167.8h1.1v1.1h-1.1zM145.5 144.9h1.1v1.1h-1.1zM152.3 146.3h1.1v1.1h-1.1zM149.8 154.5h1.1v1.1h-1.1zM149.3 164.7h1.1v1.1h-1.1zM155.7 154.7h1.1v1.1h-1.1zM144.9 157.0h1.1v1.1h-1.1zM136.8 160.8h1.1v1.1h-1.1zM149.5 146.3h1.1v1.1h-1.1zM152.4 170.2h1.1v1.1h-1.1zM137.4 160.7h1.1v1.1h-1.1zM153.4 165.8h1.1v1.1h-1.1zM142.5 144.5h1.1v1.1h-1.1zM146.7 153.0h1.1v1.1h-1.1zM146.8 156.4h1.1v1.1h-1.1zM150.9 153.2h1.1v1.1h-1.1zM141.2 182.0h1.1v1.1h-1.1zM144.7 163.3h1.1v1.1h-1.1zM148.2 159.4h1.1v1.1h-1.1zM140.0 160.6h1.1v1.1h-1.1zM145.1 164.0h1.1v1.1h-1.1zM159.5 161.1h1.1v1.1h-1.1zM153.0 149.5h1.1v1.1h-1.1zM145.1 170.3h1.1v1.1h-1.1zM147.2 151.8h1.1v1.1h-1.1zM148.2 155.9h1.1v1.1h-1.1zM145.6 153.8h1.1v1.1h-1.1zM160.6 152.2h1.1v1.1h-1.1zM144.8 152.0h1.1v1.1h-1.1zM155.0 156.3h1.1v1.1h-1.1zM154.7 160.1h1.1v1.1h-1.1zM148.6 145.0h1.1v1.1h-1.1zM153.6 163.1h1.1v1.1h-1.1zM149.4 156.7h1.1v1.1h-1.1zM145.8 146.1h1.1v1.1h-1.1zM152.3 160.5h1.1v1.1h-1.1zM145.2 151.5h1.1v1.1h-1.1zM147.5 156.6h1.1v1.1h-1.1zM156.0 165.5h1.1v1.1h-1.1zM144.4 147.3h1.1v1.1h-1.1zM146.4 149.3h1.1v1.1h-1.1zM146.5 160.7h1.1v1.1h-1.1zM150.1 161.4h1.1v1.1h-1.1zM144.5 162.0h1.1v1.1h-1.1zM141.0 155.6h1.1v1.1h-1.1zM151.4 160.6h1.1v1.1h-1.1zM140.2 146.2h1.1v1.1h-1.1zM133.6 170.6h1.1v1.1h-1.1zM136.9 154.4h1.1v1.1h-1.1zM156.8 168.4h1.1v1.1h-1.1zM155.8 154.6h1.1v1.1h-1.1zM146.9 183.6h1.1v1.1h-1.1zM145.8 160.7h1.1v1.1h-1.1zM144.7 156.9h1.1v1.1h-1.1zM147.0 169.4h1.1v1.1h-1.1zM143.0 144.4h1.1v1.1h-1.1zM146.5 159.1h1.1v1.1h-1.1zM154.7 164.9h1.1v1.1h-1.1zM141.8 161.4h1.1v1.1h-1.1zM153.4 161.0h1.1v1.1h-1.1zM143.5 162.6h1.1v1.1h-1.1zM147.2 141.3h1.1v1.1h-1.1zM157.1 148.0h1.1v1.1h-1.1zM145.0 154.3h1.1v1.1h-1.1zM144.9 154.6h1.1v1.1h-1.1zM136.7 160.1h1.1v1.1h-1.1zM146.8 157.6h1.1v1.1h-1.1zM151.9 167.7h1.1v1.1h-1.1zM152.5 174.3h1.1v1.1h-1.1zM151.8 144.9h1.1v1.1h-1.1zM148.0 157.6h1.1v1.1h-1.1zM148.0 152.3h1.1v1.1h-1.1zM139.8 162.9h1.1v1.1h-1.1zM154.5 149.0h1.1v1.1h-1.1zM150.3 156.5h1.1v1.1h-1.1zM143.1 162.6h1.1v1.1h-1.1zM147.1 152.6h1.1v1.1h-1.1zM149.9 140.6h1.1v1.1h-1.1zM143.5 152.9h1.1v1.1h-1.1zM137.4 157.1h1.1v1.1h-1.1zM149.2 152.5h1.1v1.1h-1.1zM144.5 162.6h1.1v1.1h-1.1zM154.5 152.0h1.1v1.1h-1.1zM147.2 166.2h1.1v1.1h-1.1zM147.5 150.6h1.1v1.1h-1.1zM142.1 153.5h1.1v1.1h-1.1zM137.0 172.8h1.1v1.1h-1.1zM142.3 159.6h1.1v1.1h-1.1zM146.8 162.6h1.1v1.1h-1.1zM146.0 145.7h1.1v1.1h-1.1zM157.1 158.2h1.1v1.1h-1.1zM147.0 158.8h1.1v1.1h-1.1zM153.4 164.9h1.1v1.1h-1.1zM152.8 165.2h1.1v1.1h-1.1zM147.1 159.3h1.1v1.1h-1.1zM144.6 139.9h1.1v1.1h-1.1zM146.6 147.8h1.1v1.1h-1.1zM160.8 173.0h1.1v1.1h-1.1zM154.8 153.7h1.1v1.1h-1.1zM162.2 145.1h1.1v1.1h-1.1zM139.9 149.1h1.1v1.1h-1.1zM140.2 157.0h1.1v1.1h-1.1zM144.9 173.2h1.1v1.1h-1.1zM151.1 168.4h1.1v1.1h-1.1zM149.4 156.3h1.1v1.1h-1.1zM144.3 143.6h1.1v1.1h-1.1zM141.5 152.8h1.1v1.1h-1.1zM153.9 143.8h1.1v1.1h-1.1zM137.4 157.3h1.1v1.1h-1.1zM139.3 158.6h1.1v1.1h-1.1zM145.0 150.3h1.1v1.1h-1.1zM138.1 154.7h1.1v1.1h-1.1zM142.7 151.1h1.1v1.1h-1.1zM142.2 157.9h1.1v1.1h-1.1zM150.0 142.8h1.1v1.1h-1.1zM144.9 160.2h1.1v1.1h-1.1zM152.0 164.7h1.1v1.1h-1.1zM149.5 147.7h1.1v1.1h-1.1zM140.2 163.8h1.1v1.1h-1.1zM140.5 164.8h1.1v1.1h-1.1zM156.2 149.5h1.1v1.1h-1.1zM149.5 156.6h1.1v1.1h-1.1zM158.2 166.3h1.1v1.1h-1.1zM142.6 159.8h1.1v1.1h-1.1zM140.8 154.7h1.1v1.1h-1.1zM147.6 158.5h1.1v1.1h-1.1zM149.8 149.8h1.1v1.1h-1.1zM135.2 151.9h1.1v1.1h-1.1zM141.8 150.1h1.1v1.1h-1.1zM158.5 169.1h1.1v1.1h-1.1zM147.5 144.8h1.1v1.1h-1.1zM137.7 158.6h1.1v1.1h-1.1zM153.8 155.8h1.1v1.1h-1.1zM147.0 159.3h1.1v1.1h-1.1zM156.1 142.5h1.1v1.1h-1.1zM146.9 160.6h1.1v1.1h-1.1zM152.0 161.4h1.1v1.1h-1.1zM140.3 150.9h1.1v1.1h-1.1zM136.5 156.9h1.1v1.1h-1.1zM147.0 161.5h1.1v1.1h-1.1zM142.0 146.4h1.1v1.1h-1.1zM156.0 160.2h1.1v1.1h-1.1zM157.0 162.6h1.1v1.1h-1.1zM136.0 162.1h1.1v1.1h-1.1zM155.1 154.6h1.1v1.1h-1.1zM133.2 160.4h1.1v1.1h-1.1zM145.2 159.2h1.1v1.1h-1.1zM128.6 157.8h1.1v1.1h-1.1zM130.2 146.6h1.1v1.1h-1.1zM154.9 142.7h1.1v1.1h-1.1zM135.2 151.1h1.1v1.1h-1.1zM154.7 172.4h1.1v1.1h-1.1zM141.1 164.7h1.1v1.1h-1.1zM149.8 159.8h1.1v1.1h-1.1zM149.8 151.3h1.1v1.1h-1.1zM150.1 166.8h1.1v1.1h-1.1zM162.4 167.7h1.1v1.1h-1.1zM132.6 144.1h1.1v1.1h-1.1zM148.5 157.9h1.1v1.1h-1.1zM134.8 153.7h1.1v1.1h-1.1zM144.3 156.1h1.1v1.1h-1.1zM144.3 164.5h1.1v1.1h-1.1zM154.8 164.3h1.1v1.1h-1.1zM140.6 148.5h1.1v1.1h-1.1zM142.3 155.7h1.1v1.1h-1.1zM144.3 153.5h1.1v1.1h-1.1zM139.2 163.9h1.1v1.1h-1.1zM150.5 165.9h1.1v1.1h-1.1zM145.3 160.7h1.1v1.1h-1.1zM142.1 147.5h1.1v1.1h-1.1zM142.1 161.2h1.1v1.1h-1.1zM147.2 147.2h1.1v1.1h-1.1zM146.5 160.6h1.1v1.1h-1.1zM148.5 151.6h1.1v1.1h-1.1zM147.5 153.5h1.1v1.1h-1.1zM144.5 155.9h1.1v1.1h-1.1zM148.6 173.1h1.1v1.1h-1.1zM155.5 164.0h1.1v1.1h-1.1zM144.4 154.0h1.1v1.1h-1.1zM143.1 166.3h1.1v1.1h-1.1zM128.4 156.0h1.1v1.1h-1.1zM133.8 154.7h1.1v1.1h-1.1zM156.3 150.9h1.1v1.1h-1.1zM130.0 165.3h1.1v1.1h-1.1zM155.4 162.9h1.1v1.1h-1.1zM155.7 151.7h1.1v1.1h-1.1zM151.5 172.6h1.1v1.1h-1.1zM150.2 160.1h1.1v1.1h-1.1zM153.0 167.9h1.1v1.1h-1.1zM139.7 167.5h1.1v1.1h-1.1zM151.0 159.2h1.1v1.1h-1.1zM153.5 166.2h1.1v1.1h-1.1zM152.0 153.6h1.1v1.1h-1.1zM153.5 148.7h1.1v1.1h-1.1zM148.2 142.7h1.1v1.1h-1.1zM134.9 158.8h1.1v1.1h-1.1zM145.8 157.6h1.1v1.1h-1.1zM149.8 160.6h1.1v1.1h-1.1zM140.7 156.6h1.1v1.1h-1.1zM146.8 152.6h1.1v1.1h-1.1zM146.2 153.8h1.1v1.1h-1.1zM142.8 153.5h1.1v1.1h-1.1zM145.0 174.5h1.1v1.1h-1.1zM140.5 160.4h1.1v1.1h-1.1zM134.8 168.7h1.1v1.1h-1.1zM144.2 157.8h1.1v1.1h-1.1zM153.2 166.7h1.1v1.1h-1.1zM136.1 160.0h1.1v1.1h-1.1zM144.1 161.9h1.1v1.1h-1.1zM146.4 163.3h1.1v1.1h-1.1zM148.6 156.2h1.1v1.1h-1.1zM156.3 145.4h1.1v1.1h-1.1zM145.1 148.5h1.1v1.1h-1.1zM146.2 153.2h1.1v1.1h-1.1zM146.3 152.7h1.1v1.1h-1.1zM145.9 142.7h1.1v1.1h-1.1zM145.8 159.5h1.1v1.1h-1.1zM143.7 150.8h1.1v1.1h-1.1zM139.9 170.3h1.1v1.1h-1.1zM147.1 160.5h1.1v1.1h-1.1zM145.3 152.5h1.1v1.1h-1.1zM138.6 168.9h1.1v1.1h-1.1zM135.2 157.6h1.1v1.1h-1.1zM146.7 154.8h1.1v1.1h-1.1zM138.3 144.9h1.1v1.1h-1.1zM153.8 152.3h1.1v1.1h-1.1zM151.1 163.6h1.1v1.1h-1.1zM149.1 164.0h1.1v1.1h-1.1zM139.5 151.7h1.1v1.1h-1.1zM152.7 147.2h1.1v1.1h-1.1zM158.0 154.2h1.1v1.1h-1.1zM147.6 148.3h1.1v1.1h-1.1zM149.9 151.3h1.1v1.1h-1.1zM146.6 147.2h1.1v1.1h-1.1zM156.5 144.7h1.1v1.1h-1.1zM149.0 159.5h1.1v1.1h-1.1zM150.8 149.0h1.1v1.1h-1.1zM151.7 166.2h1.1v1.1h-1.1zM147.1 159.8h1.1v1.1h-1.1zM144.5 162.2h1.1v1.1h-1.1zM140.4 160.7h1.1v1.1h-1.1zM151.2 145.7h1.1v1.1h-1.1zM129.9 153.1h1.1v1.1h-1.1zM143.7 167.0h1.1v1.1h-1.1zM147.6 152.9h1.1v1.1h-1.1zM137.9 154.7h1.1v1.1h-1.1zM144.4 147.1h1.1v1.1h-1.1zM144.2 165.7h1.1v1.1h-1.1zM148.6 148.3h1.1v1.1h-1.1zM150.2 148.2h1.1v1.1h-1.1zM135.7 159.4h1.1v1.1h-1.1zM141.3 165.7h1.1v1.1h-1.1zM149.7 150.6h1.1v1.1h-1.1zM146.0 168.1h1.1v1.1h-1.1zM146.9 147.9h1.1v1.1h-1.1zM143.5 149.4h1.1v1.1h-1.1zM140.8 144.8h1.1v1.1h-1.1zM147.6 166.8h1.1v1.1h-1.1zM143.0 163.2h1.1v1.1h-1.1zM149.8 172.1h1.1v1.1h-1.1zM145.8 153.9h1.1v1.1h-1.1zM149.1 158.3h1.1v1.1h-1.1zM146.5 168.2h1.1v1.1h-1.1zM143.4 158.3h1.1v1.1h-1.1zM140.5 154.6h1.1v1.1h-1.1zM143.3 149.9h1.1v1.1h-1.1zM145.8 153.0h1.1v1.1h-1.1zM147.7 164.1h1.1v1.1h-1.1zM135.5 163.7h1.1v1.1h-1.1zM131.9 156.6h1.1v1.1h-1.1zM152.0 152.4h1.1v1.1h-1.1zM146.2 150.2h1.1v1.1h-1.1zM156.9 131.5h1.1v1.1h-1.1zM143.1 139.7h1.1v1.1h-1.1zM145.8 168.1h1.1v1.1h-1.1zM153.1 163.9h1.1v1.1h-1.1zM149.2 150.9h1.1v1.1h-1.1zM153.4 163.6h1.1v1.1h-1.1zM143.0 145.3h1.1v1.1h-1.1zM140.9 165.3h1.1v1.1h-1.1zM152.1 171.9h1.1v1.1h-1.1zM142.1 153.1h1.1v1.1h-1.1zM155.0 160.4h1.1v1.1h-1.1zM153.3 146.8h1.1v1.1h-1.1zM144.2 156.5h1.1v1.1h-1.1zM144.8 153.1h1.1v1.1h-1.1zM133.6 168.8h1.1v1.1h-1.1zM149.6 145.0h1.1v1.1h-1.1zM153.3 158.8h1.1v1.1h-1.1zM151.4 156.3h1.1v1.1h-1.1zM142.7 149.9h1.1v1.1h-1.1zM147.6 164.0h1.1v1.1h-1.1zM148.8 163.1h1.1v1.1h-1.1zM153.9 160.9h1.1v1.1h-1.1zM151.4 167.6h1.1v1.1h-1.1zM148.6 156.9h1.1v1.1h-1.1zM145.6 146.7h1.1v1.1h-1.1zM134.7 166.5h1.1v1.1h-1.1zM147.4 152.7h1.1v1.1h-1.1zM155.3 167.3h1.1v1.1h-1.1zM145.6 165.9h1.1v1.1h-1.1zM145.0 160.2h1.1v1.1h-1.1zM156.8 168.4h1.1v1.1h-1.1zM144.0 163.0h1.1v1.1h-1.1zM154.5 157.9h1.1v1.1h-1.1zM141.3 172.8h1.1v1.1h-1.1zM146.9 146.2h1.1v1.1h-1.1zM144.4 177.0h1.1v1.1h-1.1zM149.5 166.5h1.1v1.1h-1.1zM133.9 150.9h1.1v1.1h-1.1zM155.3 156.0h1.1v1.1h-1.1zM154.8 163.6h1.1v1.1h-1.1zM147.2 172.7h1.1v1.1h-1.1zM144.6 153.7h1.1v1.1h-1.1zM147.5 160.2h1.1v1.1h-1.1zM134.5 166.6h1.1v1.1h-1.1zM148.9 157.1h1.1v1.1h-1.1zM151.7 155.7h1.1v1.1h-1.1zM154.8 160.2h1.1v1.1h-1.1zM153.1 151.7h1.1v1.1h-1.1zM144.8 161.1h1.1v1.1h-1.1zM142.1 151.7h1.1v1.1h-1.1zM145.2 167.5h1.1v1.1h-1.1zM150.7 166.7h1.1v1.1h-1.1zM147.7 166.1h1.1v1.1h-1.1zM156.7 161.4h1.1v1.1h-1.1zM149.1 163.6h1.1v1.1h-1.1zM134.5 155.1h1.1v1.1h-1.1zM148.7 165.0h1.1v1.1h-1.1zM143.6 166.0h1.1v1.1h-1.1zM143.3 155.9h1.1v1.1h-1.1zM159.8 148.7h1.1v1.1h-1.1zM146.8 156.7h1.1v1.1h-1.1zM147.3 153.5h1.1v1.1h-1.1zM152.8 149.8h1.1v1.1h-1.1zM137.8 160.5h1.1v1.1h-1.1zM138.8 159.7h1.1v1.1h-1.1zM148.1 152.2h1.1v1.1h-1.1zM144.9 156.6h1.1v1.1h-1.1zM150.7 153.0h1.1v1.1h-1.1zM147.7 145.5h1.1v1.1h-1.1zM148.0 141.3h1.1v1.1h-1.1zM147.2 153.8h1.1v1.1h-1.1zM158.3 170.7h1.1v1.1h-1.1zM144.4 165.3h1.1v1.1h-1.1zM150.3 148.2h1.1v1.1h-1.1zM129.6 164.0h1.1v1.1h-1.1zM152.1 141.5h1.1v1.1h-1.1zM149.4 165.8h1.1v1.1h-1.1zM141.2 163.2h1.1v1.1h-1.1zM136.0 153.6h1.1v1.1h-1.1zM145.7 163.9h1.1v1.1h-1.1zM148.9 159.6h1.1v1.1h-1.1zM151.2 152.5h1.1v1.1h-1.1zM156.6 156.1h1.1v1.1h-1.1zM151.7 158.1h1.1v1.1h-1.1zM144.2 161.9h1.1v1.1h-1.1zM147.5 169.0h1.1v1.1h-1.1zM154.3 153.7h1.1v1.1h-1.1zM149.7 158.7h1.1v1.1h-1.1zM143.2 147.1h1.1v1.1h-1.1zM149.1 153.1h1.1v1.1h-1.1zM137.9 154.9h1.1v1.1h-1.1zM147.9 158.3h1.1v1.1h-1.1zM139.8 151.0h1.1v1.1h-1.1zM156.5 152.3h1.1v1.1h-1.1zM141.1 176.1h1.1v1.1h-1.1zM149.6 153.4h1.1v1.1h-1.1zM133.7 157.6h1.1v1.1h-1.1zM137.7 155.4h1.1v1.1h-1.1zM143.5 142.2h1.1v1.1h-1.1zM157.3 158.1h1.1v1.1h-1.1zM151.4 164.3h1.1v1.1h-1.1zM141.7 157.0h1.1v1.1h-1.1zM142.8 164.7h1.1v1.1h-1.1zM149.8 154.6h1.1v1.1h-1.1zM156.4 163.3h1.1v1.1h-1.1zM150.6 151.0h1.1v1.1h-1.1zM151.3 145.2h1.1v1.1h-1.1zM150.9 149.7h1.1v1.1h-1.1zM148.1 154.9h1.1v1.1h-1.1zM147.5 160.3h1.1v1.1h-1.1zM146.2 156.5h1.1v1.1h-1.1zM139.8 139.4h1.1v1.1h-1.1zM153.7 163.2h1.1v1.1h-1.1zM134.2 171.3h1.1v1.1h-1.1zM141.2 160.5h1.1v1.1h-1.1zM149.1 158.4h1.1v1.1h-1.1zM152.4 146.2h1.1v1.1h-1.1zM146.6 154.8h1.1v1.1h-1.1zM147.5 154.8h1.1v1.1h-1.1zM143.5 150.2h1.1v1.1h-1.1zM153.4 150.9h1.1v1.1h-1.1zM148.3 160.3h1.1v1.1h-1.1zM145.2 160.4h1.1v1.1h-1.1zM150.8 153.2h1.1v1.1h-1.1zM145.8 173.3h1.1v1.1h-1.1zM140.1 153.3h1.1v1.1h-1.1zM138.7 172.8h1.1v1.1h-1.1zM137.5 155.5h1.1v1.1h-1.1zM153.7 150.8h1.1v1.1h-1.1zM146.7 150.9h1.1v1.1h-1.1zM138.0 154.9h1.1v1.1h-1.1zM150.2 154.2h1.1v1.1h-1.1zM146.5 162.9h1.1v1.1h-1.1zM156.0 148.0h1.1v1.1h-1.1zM151.3 152.5h1.1v1.1h-1.1zM135.6 148.4h1.1v1.1h-1.1zM150.1 160.3h1.1v1.1h-1.1zM137.1 169.2h1.1v1.1h-1.1zM149.2 156.9h1.1v1.1h-1.1zM142.4 159.9h1.1v1.1h-1.1zM142.3 166.0h1.1v1.1h-1.1zM147.6 162.5h1.1v1.1h-1.1zM146.7 144.3h1.1v1.1h-1.1zM151.4 149.2h1.1v1.1h-1.1zM145.8 156.8h1.1v1.1h-1.1zM140.2 163.5h1.1v1.1h-1.1zM135.2 167.8h1.1v1.1h-1.1zM141.3 164.4h1.1v1.1h-1.1zM156.0 151.3h1.1v1.1h-1.1zM140.4 164.0h1.1v1.1h-1.1zM147.6 157.9h1.1v1.1h-1.1zM137.3 141.3h1.1v1.1h-1.1zM147.8 169.6h1.1v1.1h-1.1zM143.3 149.0h1.1v1.1h-1.1zM147.2 161.1h1.1v1.1h-1.1zM150.7 154.0h1.1v1.1h-1.1zM132.0 167.0h1.1v1.1h-1.1zM141.5 166.9h1.1v1.1h-1.1zM133.3 157.9h1.1v1.1h-1.1zM144.9 147.4h1.1v1.1h-1.1zM150.8 168.8h1.1v1.1h-1.1zM141.8 161.7h1.1v1.1h-1.1zM140.6 150.7h1.1v1.1h-1.1zM145.4 153.8h1.1v1.1h-1.1zM152.3 147.7h1.1v1.1h-1.1zM151.2 166.1h1.1v1.1h-1.1zM146.9 146.9h1.1v1.1h-1.1zM131.5 153.8h1.1v1.1h-1.1zM141.8 157.0h1.1v1.1h-1.1zM139.8 155.8h1.1v1.1h-1.1zM146.1 157.0h1.1v1.1h-1.1zM147.9 159.7h1.1v1.1h-1.1zM153.8 151.6h1.1v1.1h-1.1zM150.8 159.1h1.1v1.1h-1.1zM145.3 148.3h1.1v1.1h-1.1zM155.4 160.6h1.1v1.1h-1.1zM143.1 157.0h1.1v1.1h-1.1zM147.3 152.7h1.1v1.1h-1.1zM137.5 156.8h1.1v1.1h-1.1zM145.9 154.5h1.1v1.1h-1.1zM154.7 147.3h1.1v1.1h-1.1zM140.2 157.3h1.1v1.1h-1.1zM150.9 163.0h1.1v1.1h-1.1zM154.3 139.6h1.1v1.1h-1.1zM149.1 161.0h1.1v1.1h-1.1zM151.8 152.1h1.1v1.1h-1.1zM148.3 165.9h1.1v1.1h-1.1zM156.3 160.9h1.1v1.1h-1.1zM138.0 156.0h1.1v1.1h-1.1zM149.9 162.0h1.1v1.1h-1.1zM158.9 157.5h1.1v1.1h-1.1zM141.0 150.7h1.1v1.1h-1.1zM151.9 151.2h1.1v1.1h-1.1zM141.2 149.0h1.1v1.1h-1.1zM153.8 160.4h1.1v1.1h-1.1zM143.2 163.7h1.1v1.1h-1.1zM152.3 149.8h1.1v1.1h-1.1zM151.5 160.0h1.1v1.1h-1.1zM135.2 145.0h1.1v1.1h-1.1zM147.5 161.4h1.1v1.1h-1.1zM146.2 148.5h1.1v1.1h-1.1zM150.8 142.3h1.1v1.1h-1.1zM150.3 156.5h1.1v1.1h-1.1zM147.3 151.7h1.1v1.1h-1.1zM155.2 138.8h1.1v1.1h-1.1zM140.2 161.0h1.1v1.1h-1.1zM140.0 168.5h1.1v1.1h-1.1zM150.4 151.3h1.1v1.1h-1.1zM153.7 157.7h1.1v1.1h-1.1zM151.2 152.8h1.1v1.1h-1.1zM141.8 162.5h1.1v1.1h-1.1zM148.4 151.2h1.1v1.1h-1.1zM140.2 161.7h1.1v1.1h-1.1zM159.0 152.4h1.1v1.1h-1.1zM155.2 134.1h1.1v1.1h-1.1zM137.0 161.5h1.1v1.1h-1.1zM156.7 159.7h1.1v1.1h-1.1zM149.8 160.2h1.1v1.1h-1.1zM154.7 149.6h1.1v1.1h-1.1zM151.4 154.6h1.1v1.1h-1.1zM144.6 157.0h1.1v1.1h-1.1zM146.6 150.9h1.1v1.1h-1.1zM146.5 149.4h1.1v1.1h-1.1zM155.1 164.9h1.1v1.1h-1.1zM141.8 170.2h1.1v1.1h-1.1zM154.2 163.0h1.1v1.1h-1.1zM143.0 159.0h1.1v1.1h-1.1zM148.3 169.6h1.1v1.1h-1.1zM146.4 152.6h1.1v1.1h-1.1zM159.2 171.5h1.1v1.1h-1.1zM150.1 150.2h1.1v1.1h-1.1zM148.2 167.3h1.1v1.1h-1.1zM150.3 165.2h1.1v1.1h-1.1zM145.4 167.0h1.1v1.1h-1.1zM143.6 153.2h1.1v1.1h-1.1zM144.5 151.6h1.1v1.1h-1.1zM161.6 145.6h1.1v1.1h-1.1zM149.7 149.6h1.1v1.1h-1.1zM138.7 156.9h1.1v1.1h-1.1zM136.9 154.9h1.1v1.1h-1.1zM161.4 159.1h1.1v1.1h-1.1zM150.9 150.9h1.1v1.1h-1.1zM151.9 145.6h1.1v1.1h-1.1zM148.1 156.5h1.1v1.1h-1.1zM160.6 159.0h1.1v1.1h-1.1zM145.2 152.2h1.1v1.1h-1.1zM137.9 162.3h1.1v1.1h-1.1zM156.4 155.7h1.1v1.1h-1.1zM151.6 155.0h1.1v1.1h-1.1zM148.5 161.4h1.1v1.1h-1.1zM138.6 149.1h1.1v1.1h-1.1zM155.3 142.3h1.1v1.1h-1.1zM147.1 154.3h1.1v1.1h-1.1zM140.6 156.5h1.1v1.1h-1.1zM147.7 162.0h1.1v1.1h-1.1zM127.3 168.2h1.1v1.1h-1.1zM142.0 165.3h1.1v1.1h-1.1zM146.6 152.1h1.1v1.1h-1.1zM141.5 183.5h1.1v1.1h-1.1zM157.0 155.9h1.1v1.1h-1.1zM146.3 166.7h1.1v1.1h-1.1zM150.1 158.4h1.1v1.1h-1.1zM146.9 147.9h1.1v1.1h-1.1zM149.7 167.1h1.1v1.1h-1.1zM161.6 155.0h1.1v1.1h-1.1zM150.7 157.5h1.1v1.1h-1.1zM154.7 157.6h1.1v1.1h-1.1zM144.9 142.2h1.1v1.1h-1.1zM150.9 159.2h1.1v1.1h-1.1zM154.5 153.7h1.1v1.1h-1.1zM164.2 154.0h1.1v1.1h-1.1zM149.2 161.1h1.1v1.1h-1.1zM153.8 156.9h1.1v1.1h-1.1zM142.1 147.7h1.1v1.1h-1.1zM151.6 158.8h1.1v1.1h-1.1zM149.9 150.6h1.1v1.1h-1.1zM147.1 159.0h1.1v1.1h-1.1zM152.6 145.5h1.1v1.1h-1.1zM139.0 170.6h1.1v1.1h-1.1zM144.1 155.9h1.1v1.1h-1.1zM146.2 144.0h1.1v1.1h-1.1zM139.1 158.9h1.1v1.1h-1.1zM139.2 173.2h1.1v1.1h-1.1zM139.8 139.0h1.1v1.1h-1.1zM145.8 146.4h1.1v1.1h-1.1zM156.0 155.0h1.1v1.1h-1.1zM151.9 145.7h1.1v1.1h-1.1zM149.8 163.0h1.1v1.1h-1.1zM154.1 160.2h1.1v1.1h-1.1zM149.5 158.9h1.1v1.1h-1.1zM153.0 154.5h1.1v1.1h-1.1zM150.8 152.8h1.1v1.1h-1.1zM151.4 155.4h1.1v1.1h-1.1zM143.3 150.5h1.1v1.1h-1.1zM158.2 145.5h1.1v1.1h-1.1zM136.0 160.6h1.1v1.1h-1.1zM140.8 151.9h1.1v1.1h-1.1zM139.9 175.4h1.1v1.1h-1.1zM143.2 150.1h1.1v1.1h-1.1zM143.6 158.4h1.1v1.1h-1.1zM151.8 145.2h1.1v1.1h-1.1zM146.4 173.8h1.1v1.1h-1.1zM134.2 159.7h1.1v1.1h-1.1zM151.2 159.1h1.1v1.1h-1.1zM148.7 137.0h1.1v1.1h-1.1zM154.6 155.6h1.1v1.1h-1.1zM143.3 167.0h1.1v1.1h-1.1zM131.6 153.7h1.1v1.1h-1.1zM149.2 163.6h1.1v1.1h-1.1zM147.4 174.7h1.1v1.1h-1.1zM146.8 165.8h1.1v1.1h-1.1zM153.6 145.4h1.1v1.1h-1.1zM138.5 173.5h1.1v1.1h-1.1zM144.8 156.1h1.1v1.1h-1.1zM138.6 152.6h1.1v1.1h-1.1zM139.0 150.4h1.1v1.1h-1.1zM151.3 150.7h1.1v1.1h-1.1zM140.6 167.5h1.1v1.1h-1.1zM148.7 161.8h1.1v1.1h-1.1zM153.7 153.5h1.1v1.1h-1.1zM147.0 139.3h1.1v1.1h-1.1zM151.5 156.1h1.1v1.1h-1.1zM148.1 147.9h1.1v1.1h-1.1zM149.5 162.9h1.1v1.1h-1.1zM150.0 143.9h1.1v1.1h-1.1zM141.2 155.8h1.1v1.1h-1.1zM140.6 159.3h1.1v1.1h-1.1zM154.1 151.8h1.1v1.1h-1.1zM146.3 151.1h1.1v1.1h-1.1zM151.8 165.7h1.1v1.1h-1.1zM163.5 160.1h1.1v1.1h-1.1zM139.9 159.4h1.1v1.1h-1.1zM144.7 158.3h1.1v1.1h-1.1zM154.9 156.0h1.1v1.1h-1.1zM154.3 140.1h1.1v1.1h-1.1zM153.1 159.3h1.1v1.1h-1.1zM145.7 152.6h1.1v1.1h-1.1zM156.3 154.4h1.1v1.1h-1.1zM155.4 154.2h1.1v1.1h-1.1zM146.3 160.1h1.1v1.1h-1.1zM159.1 161.4h1.1v1.1h-1.1zM148.2 156.8h1.1v1.1h-1.1zM145.5 151.7h1.1v1.1h-1.1zM156.0 171.5h1.1v1.1h-1.1zM141.9 157.7h1.1v1.1h-1.1zM137.6 163.7h1.1v1.1h-1.1zM150.8 158.9h1.1v1.1h-1.1zM140.3 162.6h1.1v1.1h-1.1zM150.8 156.3h1.1v1.1h-1.1zM153.3 146.7h1.1v1.1h-1.1zM144.1 148.5h1.1v1.1h-1.1zM144.8 171.2h1.1v1.1h-1.1zM145.2 166.7h1.1v1.1h-1.1zM147.0 153.7h1.1v1.1h-1.1zM152.2 162.8h1.1v1.1h-1.1zM154.2 166.9h1.1v1.1h-1.1zM145.1 134.9h1.1v1.1h-1.1zM149.2 147.4h1.1v1.1h-1.1zM139.7 143.1h1.1v1.1h-1.1zM142.7 154.7h1.1v1.1h-1.1zM143.6 174.2h1.1v1.1h-1.1zM138.8 155.6h1.1v1.1h-1.1zM140.0 147.3h1.1v1.1h-1.1zM146.3 160.6h1.1v1.1h-1.1zM136.6 165.2h1.1v1.1h-1.1zM139.2 164.0h1.1v1.1h-1.1zM144.9 164.6h1.1v1.1h-1.1zM150.6 155.3h1.1v1.1h-1.1zM151.6 146.3h1.1v1.1h-1.1zM138.7 152.6h1.1v1.1h-1.1zM156.4 152.3h1.1v1.1h-1.1zM140.2 170.3h1.1v1.1h-1.1zM146.8 157.1h1.1v1.1h-1.1zM139.7 156.3h1.1v1.1h-1.1zM150.4 157.2h1.1v1.1h-1.1zM150.9 160.6h1.1v1.1h-1.1zM152.0 165.1h1.1v1.1h-1.1zM144.4 164.2h1.1v1.1h-1.1zM157.6 161.6h1.1v1.1h-1.1zM138.4 157.2h1.1v1.1h-1.1zM141.4 178.5h1.1v1.1h-1.1zM153.0 148.6h1.1v1.1h-1.1zM143.1 169.0h1.1v1.1h-1.1zM139.8 151.5h1.1v1.1h-1.1zM146.7 155.7h1.1v1.1h-1.1zM142.5 157.4h1.1v1.1h-1.1zM138.3 150.5h1.1v1.1h-1.1zM143.1 153.7h1.1v1.1h-1.1zM144.5 156.5h1.1v1.1h-1.1zM144.8 153.0h1.1v1.1h-1.1zM147.4 164.8h1.1v1.1h-1.1zM154.3 148.3h1.1v1.1h-1.1zM146.9 163.4h1.1v1.1h-1.1zM144.0 160.4h1.1v1.1h-1.1zM144.4 159.7h1.1v1.1h-1.1zM136.0 158.9h1.1v1.1h-1.1zM144.4 150.1h1.1v1.1h-1.1zM143.0 164.7h1.1v1.1h-1.1zM152.1 159.9h1.1v1.1h-1.1zM152.5 154.3h1.1v1.1h-1.1zM141.2 139.8h1.1v1.1h-1.1zM146.4 155.5h1.1v1.1h-1.1zM146.5 157.4h1.1v1.1h-1.1zM155.5 150.4h1.1v1.1h-1.1zM138.6 171.9h1.1v1.1h-1.1zM151.7 155.1h1.1v1.1h-1.1zM134.6 147.3h1.1v1.1h-1.1zM144.2 155.6h1.1v1.1h-1.1zM147.9 155.0h1.1v1.1h-1.1zM155.4 148.1h1.1v1.1h-1.1zM145.5 150.7h1.1v1.1h-1.1zM151.0 159.0h1.1v1.1h-1.1zM151.3 158.2h1.1v1.1h-1.1zM169.3 166.9h1.1v1.1h-1.1zM141.5 155.8h1.1v1.1h-1.1zM142.6 162.6h1.1v1.1h-1.1zM152.0 161.0h1.1v1.1h-1.1zM146.2 150.9h1.1v1.1h-1.1zM155.0 167.9h1.1v1.1h-1.1zM127.5 154.0h1.1v1.1h-1.1zM141.6 152.7h1.1v1.1h-1.1zM158.9 149.2h1.1v1.1h-1.1zM136.1 176.2h1.1v1.1h-1.1zM143.7 154.4h1.1v1.1h-1.1zM154.5 153.9h1.1v1.1h-1.1zM146.3 159.0h1.1v1.1h-1.1zM157.9 145.0h1.1v1.1h-1.1zM141.3 155.0h1.1v1.1h-1.1zM153.3 152.6h1.1v1.1h-1.1zM150.2 153.2h1.1v1.1h-1.1zM142.1 167.2h1.1v1.1h-1.1zM140.6 181.5h1.1v1.1h-1.1zM147.1 166.8h1.1v1.1h-1.1zM153.5 144.8h1.1v1.1h-1.1zM135.9 159.3h1.1v1.1h-1.1zM140.2 151.2h1.1v1.1h-1.1zM145.7 148.9h1.1v1.1h-1.1zM152.9 164.9h1.1v1.1h-1.1zM146.8 161.9h1.1v1.1h-1.1zM139.4 163.3h1.1v1.1h-1.1zM138.8 169.1h1.1v1.1h-1.1zM143.0 151.6h1.1v1.1h-1.1zM153.0 163.7h1.1v1.1h-1.1zM139.5 161.0h1.1v1.1h-1.1zM146.5 157.2h1.1v1.1h-1.1zM149.6 162.9h1.1v1.1h-1.1zM152.3 162.2h1.1v1.1h-1.1zM148.8 156.5h1.1v1.1h-1.1zM157.2 152.2h1.1v1.1h-1.1zM155.5 177.5h1.1v1.1h-1.1zM160.6 158.3h1.1v1.1h-1.1zM158.3 169.0h1.1v1.1h-1.1zM148.5 185.8h1.1v1.1h-1.1zM147.0 162.1h1.1v1.1h-1.1zM141.8 137.1h1.1v1.1h-1.1zM147.8 161.0h1.1v1.1h-1.1zM150.6 160.4h1.1v1.1h-1.1zM133.2 158.0h1.1v1.1h-1.1zM151.4 171.5h1.1v1.1h-1.1zM141.8 148.6h1.1v1.1h-1.1zM143.0 150.9h1.1v1.1h-1.1zM137.2 149.5h1.1v1.1h-1.1zM158.2 150.0h1.1v1.1h-1.1zM134.9 152.6h1.1v1.1h-1.1zM142.3 162.1h1.1v1.1h-1.1zM142.0 154.6h1.1v1.1h-1.1zM142.6 147.9h1.1v1.1h-1.1zM148.7 158.4h1.1v1.1h-1.1zM145.4 161.3h1.1v1.1h-1.1zM141.2 156.2h1.1v1.1h-1.1zM146.0 167.1h1.1v1.1h-1.1zM134.9 151.9h1.1v1.1h-1.1zM150.2 152.6h1.1v1.1h-1.1zM146.0 162.8h1.1v1.1h-1.1zM152.1 143.0h1.1v1.1h-1.1zM142.9 131.9h1.1v1.1h-1.1zM150.3 159.5h1.1v1.1h-1.1zM155.0 158.9h1.1v1.1h-1.1zM137.5 164.6h1.1v1.1h-1.1zM138.0 155.4h1.1v1.1h-1.1zM144.0 163.2h1.1v1.1h-1.1zM152.9 154.4h1.1v1.1h-1.1zM141.8 155.7h1.1v1.1h-1.1zM141.3 164.3h1.1v1.1h-1.1zM146.8 169.1h1.1v1.1h-1.1zM164.5 152.6h1.1v1.1h-1.1zM141.9 160.3h1.1v1.1h-1.1zM149.6 154.5h1.1v1.1h-1.1zM131.7 176.4h1.1v1.1h-1.1zM148.7 147.2h1.1v1.1h-1.1zM129.0 166.0h1.1v1.1h-1.1zM148.6 157.4h1.1v1.1h-1.1zM139.9 154.9h1.1v1.1h-1.1zM147.7 135.5h1.1v1.1h-1.1zM163.0 163.7h1.1v1.1h-1.1zM145.7 148.4h1.1v1.1h-1.1zM139.0 176.7h1.1v1.1h-1.1zM151.0 146.1h1.1v1.1h-1.1zM151.5 162.1h1.1v1.1h-1.1zM150.1 156.4h1.1v1.1h-1.1zM145.0 158.5h1.1v1.1h-1.1zM147.2 144.8h1.1v1.1h-1.1zM140.0 155.8h1.1v1.1h-1.1zM136.3 153.9h1.1v1.1h-1.1zM143.3 162.7h1.1v1.1h-1.1zM147.9 154.6h1.1v1.1h-1.1zM143.9 160.2h1.1v1.1h-1.1zM154.1 148.9h1.1v1.1h-1.1zM137.7 148.9h1.1v1.1h-1.1zM132.7 147.6h1.1v1.1h-1.1zM150.4 166.1h1.1v1.1h-1.1zM156.3 159.2h1.1v1.1h-1.1zM148.3 152.1h1.1v1.1h-1.1zM142.6 158.7h1.1v1.1h-1.1zM151.7 161.6h1.1v1.1h-1.1zM132.6 158.8h1.1v1.1h-1.1zM147.3 151.9h1.1v1.1h-1.1zM146.0 164.6h1.1v1.1h-1.1zM148.4 150.9h1.1v1.1h-1.1zM169.0 155.3h1.1v1.1h-1.1zM147.5 168.0h1.1v1.1h-1.1zM140.0 160.5h1.1v1.1h-1.1zM141.3 153.6h1.1v1.1h-1.1zM138.9 170.8h1.1v1.1h-1.1zM136.7 159.6h1.1v1.1h-1.1zM149.6 140.1h1.1v1.1h-1.1zM158.5 154.0h1.1v1.1h-1.1zM144.4 158.3h1.1v1.1h-1.1zM141.7 149.2h1.1v1.1h-1.1zM147.5 149.3h1.1v1.1h-1.1zM145.1 167.6h1.1v1.1h-1.1zM142.2 142.3h1.1v1.1h-1.1zM144.9 160.0h1.1v1.1h-1.1zM152.4 148.3h1.1v1.1h-1.1zM129.9 161.5h1.1v1.1h-1.1zM148.7 170.4h1.1v1.1h-1.1zM139.3 160.4h1.1v1.1h-1.1zM155.6 142.4h1.1v1.1h-1.1zM151.1 170.0h1.1v1.1h-1.1zM149.3 162.0h1.1v1.1h-1.1zM151.6 155.4h1.1v1.1h-1.1zM138.5 147.4h1.1v1.1h-1.1zM146.5 149.4h1.1v1.1h-1.1zM153.6 154.5h1.1v1.1h-1.1zM148.3 141.8h1.1v1.1h-1.1zM150.0 151.3h1.1v1.1h-1.1zM158.7 144.0h1.1v1.1h-1.1zM149.1 153.7h1.1v1.1h-1.1zM141.5 170.7h1.1v1.1h-1.1zM153.8 150.7h1.1v1.1h-1.1zM156.3 152.9h1.1v1.1h-1.1zM154.1 143.1h1.1v1.1h-1.1zM144.7 154.0h1.1v1.1h-1.1zM146.6 143.1h1.1v1.1h-1.1zM134.2 154.5h1.1v1.1h-1.1zM150.2 157.8h1.1v1.1h-1.1zM146.4 143.8h1.1v1.1h-1.1zM145.5 151.8h1.1v1.1h-1.1zM141.5 157.5h1.1v1.1h-1.1zM146.9 160.4h1.1v1.1h-1.1zM146.0 149.5h1.1v1.1h-1.1zM145.6 154.0h1.1v1.1h-1.1zM136.4 152.0h1.1v1.1h-1.1zM138.7 138.4h1.1v1.1h-1.1zM142.1 150.5h1.1v1.1h-1.1zM151.3 155.0h1.1v1.1h-1.1zM147.6 169.5h1.1v1.1h-1.1zM146.6 160.1h1.1v1.1h-1.1zM140.7 162.9h1.1v1.1h-1.1zM146.7 157.4h1.1v1.1h-1.1zM140.5 147.6h1.1v1.1h-1.1zM141.9 156.9h1.1v1.1h-1.1zM155.6 145.3h1.1v1.1h-1.1zM144.5 153.7h1.1v1.1h-1.1zM161.2 157.6h1.1v1.1h-1.1zM141.8 162.4h1.1v1.1h-1.1zM138.5 160.0h1.1v1.1h-1.1zM132.6 171.8h1.1v1.1h-1.1zM146.7 153.1h1.1v1.1h-1.1zM138.2 154.0h1.1v1.1h-1.1zM148.0 150.7h1.1v1.1h-1.1zM154.5 155.3h1.1v1.1h-1.1zM146.5 159.2h1.1v1.1h-1.1zM155.6 155.1h1.1v1.1h-1.1zM146.4 159.3h1.1v1.1h-1.1zM153.0 142.1h1.1v1.1h-1.1zM153.9 157.1h1.1v1.1h-1.1zM141.8 155.7h1.1v1.1h-1.1zM135.2 148.2h1.1v1.1h-1.1zM145.6 168.4h1.1v1.1h-1.1zM145.3 160.0h1.1v1.1h-1.1zM143.3 163.7h1.1v1.1h-1.1zM143.2 160.2h1.1v1.1h-1.1zM145.7 148.4h1.1v1.1h-1.1zM141.0 150.3h1.1v1.1h-1.1zM149.1 184.9h1.1v1.1h-1.1zM146.2 150.5h1.1v1.1h-1.1zM149.1 161.6h1.1v1.1h-1.1zM140.2 172.4h1.1v1.1h-1.1zM150.7 165.8h1.1v1.1h-1.1zM146.7 158.1h1.1v1.1h-1.1zM154.8 146.4h1.1v1.1h-1.1zM141.2 156.8h1.1v1.1h-1.1zM134.7 169.1h1.1v1.1h-1.1zM143.1 152.7h1.1v1.1h-1.1zM146.3 170.0h1.1v1.1h-1.1zM147.4 150.5h1.1v1.1h-1.1zM140.2 157.9h1.1v1.1h-1.1zM139.3 176.2h1.1v1.1h-1.1zM159.2 131.9h1.1v1.1h-1.1zM140.0 158.9h1.1v1.1h-1.1zM164.3 142.7h1.1v1.1h-1.1zM141.9 166.6h1.1v1.1h-1.1zM142.0 156.8h1.1v1.1h-1.1zM142.3 162.1h1.1v1.1h-1.1zM139.4 156.0h1.1v1.1h-1.1zM135.7 163.5h1.1v1.1h-1.1zM150.4 157.4h1.1v1.1h-1.1zM146.7 157.3h1.1v1.1h-1.1zM143.9 157.9h1.1v1.1h-1.1zM148.9 156.8h1.1v1.1h-1.1zM143.3 152.9h1.1v1.1h-1.1zM142.9 160.3h1.1v1.1h-1.1zM144.6 173.7h1.1v1.1h-1.1zM145.3 157.4h1.1v1.1h-1.1zM142.3 157.1h1.1v1.1h-1.1zM144.9 149.3h1.1v1.1h-1.1zM145.2 170.5h1.1v1.1h-1.1zM141.9 150.6h1.1v1.1h-1.1zM145.9 159.1h1.1v1.1h-1.1zM155.8 153.0h1.1v1.1h-1.1zM146.8 150.2h1.1v1.1h-1.1zM141.6 152.0h1.1v1.1h-1.1zM138.7 159.4h1.1v1.1h-1.1zM153.9 153.7h1.1v1.1h-1.1zM140.0 167.1h1.1v1.1h-1.1zM142.8 169.0h1.1v1.1h-1.1zM128.1 152.1h1.1v1.1h-1.1zM140.7 151.2h1.1v1.1h-1.1zM149.9 166.7h1.1v1.1h-1.1zM143.9 164.4h1.1v1.1h-1.1zM138.8 157.8h1.1v1.1h-1.1zM147.9 142.3h1.1v1.1h-1.1zM153.1 152.1h1.1v1.1h-1.1zM150.3 150.8h1.1v1.1h-1.1zM146.6 162.1h1.1v1.1h-1.1zM147.1 152.8h1.1v1.1h-1.1zM149.9 159.2h1.1v1.1h-1.1zM143.6 156.7h1.1v1.1h-1.1zM146.4 153.9h1.1v1.1h-1.1zM149.6 172.4h1.1v1.1h-1.1zM143.3 155.3h1.1v1.1h-1.1zM142.4 144.6h1.1v1.1h-1.1zM154.7 152.5h1.1v1.1h-1.1zM150.6 145.9h1.1v1.1h-1.1zM141.6 160.1h1.1v1.1h-1.1zM149.1 159.3h1.1v1.1h-1.1zM148.7 159.1h1.1v1.1h-1.1zM150.3 172.2h1.1v1.1h-1.1zM150.2 156.5h1.1v1.1h-1.1zM140.6 151.6h1.1v1.1h-1.1zM142.2 168.5h1.1v1.1h-1.1zM137.7 148.4h1.1v1.1h-1.1zM138.5 162.9h1.1v1.1h-1.1zM144.7 140.7h1.1v1.1h-1.1zM132.8 157.1h1.1v1.1h-1.1zM134.3 164.1h1.1v1.1h-1.1zM154.8 148.4h1.1v1.1h-1.1zM144.2 156.5h1.1v1.1h-1.1zM138.6 144.7h1.1v1.1h-1.1zM142.3 155.6h1.1v1.1h-1.1zM150.8 141.2h1.1v1.1h-1.1zM148.0 155.9h1.1v1.1h-1.1zM145.3 152.4h1.1v1.1h-1.1zM150.6 170.8h1.1v1.1h-1.1zM143.6 154.6h1.1v1.1h-1.1zM136.7 151.4h1.1v1.1h-1.1zM150.8 156.5h1.1v1.1h-1.1zM148.7 156.1h1.1v1.1h-1.1zM145.9 162.3h1.1v1.1h-1.1zM154.1 141.2h1.1v1.1h-1.1zM149.3 132.1h1.1v1.1h-1.1zM147.3 152.2h1.1v1.1h-1.1zM140.3 169.2h1.1v1.1h-1.1zM147.0 166.7h1.1v1.1h-1.1zM148.0 171.7h1.1v1.1h-1.1zM145.3 154.5h1.1v1.1h-1.1zM142.3 177.3h1.1v1.1h-1.1zM143.6 156.7h1.1v1.1h-1.1zM153.9 166.3h1.1v1.1h-1.1zM140.7 171.0h1.1v1.1h-1.1zM147.4 169.6h1.1v1.1h-1.1zM149.2 164.2h1.1v1.1h-1.1zM139.7 168.0h1.1v1.1h-1.1zM141.9 156.9h1.1v1.1h-1.1zM154.0 155.4h1.1v1.1h-1.1zM147.3 157.2h1.1v1.1h-1.1zM146.6 162.1h1.1v1.1h-1.1zM137.7 150.9h1.1v1.1h-1.1zM162.6 143.0h1.1v1.1h-1.1zM141.2 163.0h1.1v1.1h-1.1zM136.0 147.7h1.1v1.1h-1.1zM139.0 169.2h1.1v1.1h-1.1zM140.0 161.3h1.1v1.1h-1.1zM142.5 156.4h1.1v1.1h-1.1zM141.4 143.4h1.1v1.1h-1.1zM145.5 145.0h1.1v1.1h-1.1zM145.2 157.8h1.1v1.1h-1.1zM146.9 170.2h1.1v1.1h-1.1zM157.2 149.4h1.1v1.1h-1.1zM139.2 170.3h1.1v1.1h-1.1zM146.7 153.7h1.1v1.1h-1.1zM154.3 153.0h1.1v1.1h-1.1zM152.9 155.5h1.1v1.1h-1.1zM155.0 157.2h1.1v1.1h-1.1zM150.2 166.8h1.1v1.1h-1.1zM158.0 152.1h1.1v1.1h-1.1zM146.1 144.7h1.1v1.1h-1.1zM136.2 150.9h1.1v1.1h-1.1zM145.7 167.7h1.1v1.1h-1.1zM141.0 172.5h1.1v1.1h-1.1zM146.4 164.6h1.1v1.1h-1.1zM146.7 146.2h1.1v1.1h-1.1zM157.1 156.3h1.1v1.1h-1.1zM154.2 155.1h1.1v1.1h-1.1zM150.5 156.3h1.1v1.1h-1.1zM144.5 155.3h1.1v1.1h-1.1zM152.6 147.6h1.1v1.1h-1.1zM138.8 164.1h1.1v1.1h-1.1zM141.5 157.6h1.1v1.1h-1.1zM138.2 153.6h1.1v1.1h-1.1zM153.4 158.9h1.1v1.1h-1.1zM148.4 153.8h1.1v1.1h-1.1zM149.7 142.1h1.1v1.1h-1.1zM135.4 158.4h1.1v1.1h-1.1zM133.2 165.8h1.1v1.1h-1.1zM153.6 147.7h1.1v1.1h-1.1zM136.0 134.1h1.1v1.1h-1.1zM148.5 156.4h1.1v1.1h-1.1zM154.3 162.3h1.1v1.1h-1.1zM155.1 165.9h1.1v1.1h-1.1zM140.6 154.2h1.1v1.1h-1.1zM141.4 153.2h1.1v1.1h-1.1zM143.4 154.2h1.1v1.1h-1.1zM155.9 153.6h1.1v1.1h-1.1zM139.6 150.1h1.1v1.1h-1.1zM144.2 151.3h1.1v1.1h-1.1zM145.9 152.9h1.1v1.1h-1.1zM152.2 165.7h1.1v1.1h-1.1zM140.0 164.2h1.1v1.1h-1.1zM155.4 158.4h1.1v1.1h-1.1zM140.4 159.5h1.1v1.1h-1.1zM145.4 159.6h1.1v1.1h-1.1zM136.5 173.2h1.1v1.1h-1.1zM144.4 161.1h1.1v1.1h-1.1zM142.4 157.5h1.1v1.1h-1.1zM133.7 143.5h1.1v1.1h-1.1zM129.2 162.5h1.1v1.1h-1.1zM139.9 142.4h1.1v1.1h-1.1zM154.4 154.2h1.1v1.1h-1.1zM143.9 165.9h1.1v1.1h-1.1zM149.2 160.3h1.1v1.1h-1.1zM153.6 141.5h1.1v1.1h-1.1zM152.9 169.7h1.1v1.1h-1.1zM161.5 141.7h1.1v1.1h-1.1zM142.0 151.5h1.1v1.1h-1.1zM156.7 163.8h1.1v1.1h-1.1zM157.3 163.0h1.1v1.1h-1.1zM144.4 145.6h1.1v1.1h-1.1zM140.9 168.3h1.1v1.1h-1.1zM143.8 141.4h1.1v1.1h-1.1zM146.4 169.1h1.1v1.1h-1.1zM160.4 170.5h1.1v1.1h-1.1zM155.5 143.4h1.1v1.1h-1.1zM144.8 153.7h1.1v1.1h-1.1zM148.9 149.6h1.1v1.1h-1.1zM149.9 168.6h1.1v1.1h-1.1zM147.8 154.9h1.1v1.1h-1.1zM147.3 160.6h1.1v1.1h-1.1zM153.0 150.9h1.1v1.1h-1.1zM155.8 159.1h1.1v1.1h-1.1zM144.5 162.8h1.1v1.1h-1.1zM140.8 163.7h1.1v1.1h-1.1zM159.7 163.2h1.1v1.1h-1.1zM148.6 153.4h1.1v1.1h-1.1zM154.5 168.3h1.1v1.1h-1.1zM135.4 163.6h1.1v1.1h-1.1zM144.0 146.4h1.1v1.1h-1.1zM147.0 151.4h1.1v1.1h-1.1zM155.8 147.7h1.1v1.1h-1.1zM139.6 147.6h1.1v1.1h-1.1zM144.7 161.8h1.1v1.1h-1.1zM140.6 149.7h1.1v1.1h-1.1zM136.7 153.5h1.1v1.1h-1.1zM136.7 174.0h1.1v1.1h-1.1zM160.2 151.3h1.1v1.1h-1.1zM146.7 160.6h1.1v1.1h-1.1zM143.5 153.0h1.1v1.1h-1.1zM151.0 155.4h1.1v1.1h-1.1zM144.6 156.3h1.1v1.1h-1.1zM154.7 156.1h1.1v1.1h-1.1zM148.6 159.3h1.1v1.1h-1.1zM151.3 156.1h1.1v1.1h-1.1zM144.3 150.6h1.1v1.1h-1.1zM147.8 158.3h1.1v1.1h-1.1zM144.5 158.5h1.1v1.1h-1.1zM160.4 166.2h1.1v1.1h-1.1zM132.8 165.7h1.1v1.1h-1.1zM148.9 148.6h1.1v1.1h-1.1zM155.2 157.8h1.1v1.1h-1.1zM153.9 152.9h1.1v1.1h-1.1zM153.6 155.8h1.1v1.1h-1.1zM151.4 164.9h1.1v1.1h-1.1zM138.5 158.7h1.1v1.1h-1.1zM149.6 157.0h1.1v1.1h-1.1zM134.6 157.3h1.1v1.1h-1.1zM142.6 166.6h1.1v1.1h-1.1zM138.2 163.9h1.1v1.1h-1.1zM143.6 178.4h1.1v1.1h-1.1zM138.6 163.8h1.1v1.1h-1.1zM144.4 148.4h1.1v1.1h-1.1zM152.5 163.2h1.1v1.1h-1.1zM155.5 144.6h1.1v1.1h-1.1zM137.9 160.5h1.1v1.1h-1.1zM139.1 167.0h1.1v1.1h-1.1zM157.3 157.8h1.1v1.1h-1.1zM146.7 157.2h1.1v1.1h-1.1zM144.7 156.4h1.1v1.1h-1.1zM144.4 160.3h1.1v1.1h-1.1zM145.1 152.3h1.1v1.1h-1.1zM145.5 151.5h1.1v1.1h-1.1zM145.2 161.4h1.1v1.1h-1.1zM162.1 145.7h1.1v1.1h-1.1zM137.8 154.9h1.1v1.1h-1.1zM146.8 156.7h1.1v1.1h-1.1zM161.2 143.8h1.1v1.1h-1.1zM147.4 146.2h1.1v1.1h-1.1zM143.8 161.0h1.1v1.1h-1.1zM135.7 163.9h1.1v1.1h-1.1zM142.6 147.3h1.1v1.1h-1.1zM137.0 149.3h1.1v1.1h-1.1zM140.5 163.1h1.1v1.1h-1.1zM136.2 157.0h1.1v1.1h-1.1zM152.3 155.8h1.1v1.1h-1.1zM152.4 152.1h1.1v1.1h-1.1zM149.6 154.7h1.1v1.1h-1.1zM160.7 157.1h1.1v1.1h-1.1zM144.0 160.0h1.1v1.1h-1.1zM143.4 154.8h1.1v1.1h-1.1zM147.4 164.7h1.1v1.1h-1.1zM142.6 156.8h1.1v1.1h-1.1zM144.4 162.6h1.1v1.1h-1.1zM151.2 161.3h1.1v1.1h-1.1zM145.6 172.3h1.1v1.1h-1.1zM138.5 169.7h1.1v1.1h-1.1zM152.2 144.8h1.1v1.1h-1.1zM149.4 145.3h1.1v1.1h-1.1zM148.7 139.9h1.1v1.1h-1.1zM152.3 151.2h1.1v1.1h-1.1zM158.1 152.8h1.1v1.1h-1.1zM148.9 145.7h1.1v1.1h-1.1zM145.6 157.2h1.1v1.1h-1.1zM146.1 178.3h1.1v1.1h-1.1zM155.9 165.5h1.1v1.1h-1.1zM144.9 154.3h1.1v1.1h-1.1zM145.8 149.6h1.1v1.1h-1.1zM150.9 157.4h1.1v1.1h-1.1zM150.3 155.7h1.1v1.1h-1.1zM146.4 172.4h1.1v1.1h-1.1zM147.5 165.4h1.1v1.1h-1.1zM141.4 155.1h1.1v1.1h-1.1zM143.5 161.1h1.1v1.1h-1.1zM149.6 152.1h1.1v1.1h-1.1zM148.8 158.9h1.1v1.1h-1.1zM136.8 155.6h1.1v1.1h-1.1zM155.7 151.5h1.1v1.1h-1.1zM152.8 164.8h1.1v1.1h-1.1zM147.3 161.7h1.1v1.1h-1.1zM140.7 162.8h1.1v1.1h-1.1zM139.5 146.8h1.1v1.1h-1.1zM152.0 149.2h1.1v1.1h-1.1zM159.3 163.0h1.1v1.1h-1.1zM151.3 167.1h1.1v1.1h-1.1zM144.4 157.7h1.1v1.1h-1.1zM150.0 158.6h1.1v1.1h-1.1zM155.6 168.5h1.1v1.1h-1.1zM146.6 168.9h1.1v1.1h-1.1zM146.4 164.7h1.1v1.1h-1.1zM148.5 156.0h1.1v1.1h-1.1zM142.1 151.0h1.1v1.1h-1.1zM146.7 161.6h1.1v1.1h-1.1zM134.0 152.1h1.1v1.1h-1.1zM150.9 157.2h1.1v1.1h-1.1zM141.4 148.1h1.1v1.1h-1.1zM160.0 146.3h1.1v1.1h-1.1zM143.5 164.3h1.1v1.1h-1.1zM133.1 161.1h1.1v1.1h-1.1zM135.4 164.3h1.1v1.1h-1.1zM165.7 150.2h1.1v1.1h-1.1zM145.9 160.6h1.1v1.1h-1.1zM142.4 161.6h1.1v1.1h-1.1zM143.1 152.1h1.1v1.1h-1.1zM141.7 156.3h1.1v1.1h-1.1zM148.4 166.3h1.1v1.1h-1.1zM147.7 148.5h1.1v1.1h-1.1zM144.5 152.7h1.1v1.1h-1.1zM143.4 162.0h1.1v1.1h-1.1zM145.8 158.2h1.1v1.1h-1.1zM147.2 156.8h1.1v1.1h-1.1zM142.7 163.1h1.1v1.1h-1.1zM146.3 156.4h1.1v1.1h-1.1zM140.6 150.3h1.1v1.1h-1.1zM142.0 161.5h1.1v1.1h-1.1zM134.4 161.5h1.1v1.1h-1.1zM148.5 151.5h1.1v1.1h-1.1zM140.4 160.6h1.1v1.1h-1.1zM150.9 140.9h1.1v1.1h-1.1zM143.6 148.8h1.1v1.1h-1.1zM147.1 151.8h1.1v1.1h-1.1zM150.3 153.4h1.1v1.1h-1.1zM143.0 167.3h1.1v1.1h-1.1zM145.8 152.8h1.1v1.1h-1.1zM148.8 146.4h1.1v1.1h-1.1zM136.4 155.2h1.1v1.1h-1.1zM144.9 144.5h1.1v1.1h-1.1zM151.5 163.9h1.1v1.1h-1.1zM148.8 152.9h1.1v1.1h-1.1zM146.1 152.0h1.1v1.1h-1.1zM154.1 146.0h1.1v1.1h-1.1zM148.2 157.5h1.1v1.1h-1.1zM138.4 160.9h1.1v1.1h-1.1zM141.6 172.3h1.1v1.1h-1.1zM154.1 157.9h1.1v1.1h-1.1zM145.1 150.9h1.1v1.1h-1.1zM141.4 158.8h1.1v1.1h-1.1zM135.9 163.5h1.1v1.1h-1.1zM151.2 156.7h1.1v1.1h-1.1zM147.9 177.1h1.1v1.1h-1.1zM145.9 171.7h1.1v1.1h-1.1zM145.5 151.6h1.1v1.1h-1.1zM155.7 142.1h1.1v1.1h-1.1zM152.6 158.1h1.1v1.1h-1.1zM143.3 157.2h1.1v1.1h-1.1zM145.4 167.6h1.1v1.1h-1.1zM151.6 159.6h1.1v1.1h-1.1zM146.5 148.8h1.1v1.1h-1.1zM151.6 135.7h1.1v1.1h-1.1zM152.7 158.1h1.1v1.1h-1.1zM135.0 159.9h1.1v1.1h-1.1zM141.5 152.1h1.1v1.1h-1.1zM136.2 148.7h1.1v1.1h-1.1zM147.6 156.5h1.1v1.1h-1.1zM149.4 151.2h1.1v1.1h-1.1zM152.3 145.2h1.1v1.1h-1.1zM146.7 134.1h1.1v1.1h-1.1zM145.3 152.0h1.1v1.1h-1.1zM144.4 161.5h1.1v1.1h-1.1zM156.6 148.5h1.1v1.1h-1.1zM147.8 140.2h1.1v1.1h-1.1zM156.2 169.8h1.1v1.1h-1.1zM147.6 167.6h1.1v1.1h-1.1zM152.9 152.6h1.1v1.1h-1.1zM149.3 167.6h1.1v1.1h-1.1zM151.8 157.2h1.1v1.1h-1.1zM140.5 176.4h1.1v1.1h-1.1zM147.4 161.9h1.1v1.1h-1.1zM136.5 161.1h1.1v1.1h-1.1zM149.4 150.1h1.1v1.1h-1.1zM154.8 158.4h1.1v1.1h-1.1zM150.0 161.6h1.1v1.1h-1.1zM141.6 158.6h1.1v1.1h-1.1zM157.0 149.3h1.1v1.1h-1.1zM141.2 148.2h1.1v1.1h-1.1zM151.9 154.0h1.1v1.1h-1.1zM146.7 166.9h1.1v1.1h-1.1zM137.1 168.1h1.1v1.1h-1.1zM146.9 155.6h1.1v1.1h-1.1zM155.6 162.5h1.1v1.1h-1.1zM138.2 155.0h1.1v1.1h-1.1zM141.2 158.3h1.1v1.1h-1.1zM144.0 153.6h1.1v1.1h-1.1zM155.1 143.9h1.1v1.1h-1.1zM148.6 155.3h1.1v1.1h-1.1zM152.1 137.5h1.1v1.1h-1.1zM141.0 152.5h1.1v1.1h-1.1zM158.9 148.3h1.1v1.1h-1.1zM139.6 154.1h1.1v1.1h-1.1zM149.4 152.2h1.1v1.1h-1.1zM149.5 143.4h1.1v1.1h-1.1zM157.8 156.1h1.1v1.1h-1.1zM143.3 179.8h1.1v1.1h-1.1zM144.7 146.0h1.1v1.1h-1.1zM137.7 169.9h1.1v1.1h-1.1zM146.4 150.2h1.1v1.1h-1.1zM146.3 156.5h1.1v1.1h-1.1zM151.9 164.2h1.1v1.1h-1.1zM148.2 161.5h1.1v1.1h-1.1zM143.2 145.6h1.1v1.1h-1.1zM148.3 161.9h1.1v1.1h-1.1zM147.2 159.6h1.1v1.1h-1.1zM152.2 148.2h1.1v1.1h-1.1zM145.6 149.4h1.1v1.1h-1.1zM133.8 159.4h1.1v1.1h-1.1zM144.4 160.2h1.1v1.1h-1.1zM151.9 150.2h1.1v1.1h-1.1zM155.7 161.3h1.1v1.1h-1.1zM150.5 172.3h1.1v1.1h-1.1zM144.4 151.3h1.1v1.1h-1.1zM146.0 166.5h1.1v1.1h-1.1zM156.7 141.8h1.1v1.1h-1.1zM156.4 154.9h1.1v1.1h-1.1zM151.6 146.5h1.1v1.1h-1.1zM140.3 159.1h1.1v1.1h-1.1zM133.9 161.7h1.1v1.1h-1.1zM142.6 158.7h1.1v1.1h-1.1zM148.3 152.5h1.1v1.1h-1.1zM151.5 178.1h1.1v1.1h-1.1zM153.1 143.4h1.1v1.1h-1.1zM147.6 155.2h1.1v1.1h-1.1zM152.2 158.5h1.1v1.1h-1.1zM159.2 165.2h1.1v1.1h-1.1zM150.8 154.8h1.1v1.1h-1.1zM140.9 155.3h1.1v1.1h-1.1zM147.1 161.2h1.1v1.1h-1.1zM148.2 154.9h1.1v1.1h-1.1zM147.5 153.2h1.1v1.1h-1.1zM141.4 148.6h1.1v1.1h-1.1zM148.6 163.6h1.1v1.1h-1.1zM145.3 155.6h1.1v1.1h-1.1zM150.2 156.5h1.1v1.1h-1.1zM166.4 161.6h1.1v1.1h-1.1zM145.8 141.3h1.1v1.1h-1.1zM146.3 165.8h1.1v1.1h-1.1zM144.3 167.3h1.1v1.1h-1.1zM142.9 155.5h1.1v1.1h-1.1zM146.4 150.5h1.1v1.1h-1.1zM138.4 147.4h1.1v1.1h-1.1zM133.2 161.2h1.1v1.1h-1.1zM145.6 155.9h1.1v1.1h-1.1zM141.4 164.3h1.1v1.1h-1.1zM138.6 170.1h1.1v1.1h-1.1zM154.5 152.4h1.1v1.1h-1.1zM144.3 162.0h1.1v1.1h-1.1zM155.7 151.8h1.1v1.1h-1.1zM139.6 177.4h1.1v1.1h-1.1zM151.1 165.5h1.1v1.1h-1.1zM158.2 162.9h1.1v1.1h-1.1zM146.1 142.0h1.1v1.1h-1.1zM153.7 148.5h1.1v1.1h-1.1zM153.7 141.2h1.1v1.1h-1.1zM143.5 156.3h1.1v1.1h-1.1zM139.3 151.0h1.1v1.1h-1.1zM141.0 157.1h1.1v1.1h-1.1zM138.8 153.4h1.1v1.1h-1.1zM153.2 170.3h1.1v1.1h-1.1zM158.0 162.6h1.1v1.1h-1.1zM143.4 159.3h1.1v1.1h-1.1zM150.6 160.1h1.1v1.1h-1.1zM156.8 153.1h1.1v1.1h-1.1zM147.4 144.0h1.1v1.1h-1.1zM142.0 166.9h1.1v1.1h-1.1zM145.7 163.3h1.1v1.1h-1.1zM147.8 165.6h1.1v1.1h-1.1zM140.4 160.5h1.1v1.1h-1.1zM149.1 167.5h1.1v1.1h-1.1zM156.2 154.4h1.1v1.1h-1.1zM138.3 150.0h1.1v1.1h-1.1zM156.4 150.2h1.1v1.1h-1.1zM139.6 144.5h1.1v1.1h-1.1zM137.1 161.6h1.1v1.1h-1.1zM142.5 150.9h1.1v1.1h-1.1zM152.4 166.1h1.1v1.1h-1.1zM153.3 151.6h1.1v1.1h-1.1zM135.1 158.0h1.1v1.1h-1.1zM158.3 156.0h1.1v1.1h-1.1zM149.6 129.5h1.1v1.1h-1.1zM157.9 157.3h1.1v1.1h-1.1zM135.4 154.5h1.1v1.1h-1.1zM141.8 161.6h1.1v1.1h-1.1zM161.5 152.7h1.1v1.1h-1.1zM148.1 154.0h1.1v1.1h-1.1zM141.6 160.1h1.1v1.1h-1.1zM155.8 162.4h1.1v1.1h-1.1zM143.0 160.9h1.1v1.1h-1.1zM146.8 164.1h1.1v1.1h-1.1zM142.8 157.5h1.1v1.1h-1.1zM157.0 159.0h1.1v1.1h-1.1zM152.8 158.0h1.1v1.1h-1.1zM148.0 150.9h1.1v1.1h-1.1zM163.0 170.2h1.1v1.1h-1.1zM152.3 168.0h1.1v1.1h-1.1zM141.1 149.5h1.1v1.1h-1.1zM147.8 142.7h1.1v1.1h-1.1zM139.5 162.9h1.1v1.1h-1.1zM134.2 147.1h1.1v1.1h-1.1zM146.0 156.1h1.1v1.1h-1.1zM147.4 150.5h1.1v1.1h-1.1zM155.8 138.2h1.1v1.1h-1.1zM151.4 144.8h1.1v1.1h-1.1zM141.9 155.5h1.1v1.1h-1.1zM158.1 151.1h1.1v1.1h-1.1zM135.8 163.5h1.1v1.1h-1.1zM145.9 157.0h1.1v1.1h-1.1zM148.6 166.0h1.1v1.1h-1.1zM150.6 139.5h1.1v1.1h-1.1zM145.1 156.9h1.1v1.1h-1.1zM140.6 147.1h1.1v1.1h-1.1zM150.2 159.8h1.1v1.1h-1.1zM139.9 160.7h1.1v1.1h-1.1zM149.3 146.3h1.1v1.1h-1.1zM146.7 145.7h1.1v1.1h-1.1zM140.5 158.5h1.1v1.1h-1.1zM140.5 145.1h1.1v1.1h-1.1zM150.4 148.9h1.1v1.1h-1.1zM145.1 154.6h1.1v1.1h-1.1zM144.9 160.0h1.1v1.1h-1.1zM144.9 150.0h1.1v1.1h-1.1zM141.8 166.2h1.1v1.1h-1.1zM152.5 157.6h1.1v1.1h-1.1zM153.3 164.3h1.1v1.1h-1.1zM137.4 168.5h1.1v1.1h-1.1zM163.9 163.2h1.1v1.1h-1.1zM133.9 167.8h1.1v1.1h-1.1zM150.6 156.8h1.1v1.1h-1.1zM133.6 153.8h1.1v1.1h-1.1zM145.0 154.0h1.1v1.1h-1.1zM142.4 164.6h1.1v1.1h-1.1zM143.2 160.1h1.1v1.1h-1.1zM135.7 146.6h1.1v1.1h-1.1zM147.8 149.5h1.1v1.1h-1.1zM146.8 156.6h1.1v1.1h-1.1zM148.2 154.5h1.1v1.1h-1.1zM152.6 146.3h1.1v1.1h-1.1zM141.7 169.4h1.1v1.1h-1.1zM141.6 169.4h1.1v1.1h-1.1zM149.1 155.4h1.1v1.1h-1.1zM144.7 170.6h1.1v1.1h-1.1zM146.1 147.4h1.1v1.1h-1.1zM148.7 163.6h1.1v1.1h-1.1zM154.3 145.2h1.1v1.1h-1.1zM149.0 158.1h1.1v1.1h-1.1zM145.6 152.8h1.1v1.1h-1.1zM149.6 157.0h1.1v1.1h-1.1zM143.3 173.7h1.1v1.1h-1.1zM148.6 147.4h1.1v1.1h-1.1zM141.7 149.6h1.1v1.1h-1.1zM134.6 164.3h1.1v1.1h-1.1zM159.3 153.8h1.1v1.1h-1.1zM153.4 151.7h1.1v1.1h-1.1zM144.7 141.5h1.1v1.1h-1.1zM144.3 167.2h1.1v1.1h-1.1zM153.8 162.8h1.1v1.1h-1.1zM143.0 166.8h1.1v1.1h-1.1zM158.8 152.5h1.1v1.1h-1.1zM148.3 156.9h1.1v1.1h-1.1zM144.1 146.4h1.1v1.1h-1.1zM141.0 157.0h1.1v1.1h-1.1zM147.9 158.5h1.1v1.1h-1.1zM155.7 152.7h1.1v1.1h-1.1zM140.2 145.7h1.1v1.1h-1.1zM149.8 152.9h1.1v1.1h-1.1zM134.6 162.9h1.1v1.1h-1.1zM155.2 160.1h1.1v1.1h-1.1zM152.7 146.0h1.1v1.1h-1.1zM137.2 156.8h1.1v1.1h-1.1zM148.1 155.6h1.1v1.1h-1.1zM145.6 151.4h1.1v1.1h-1.1zM157.0 151.5h1.1v1.1h-1.1zM144.1 165.5h1.1v1.1h-1.1zM139.8 157.1h1.1v1.1h-1.1zM144.9 162.0h1.1v1.1h-1.1zM131.3 151.8h1.1v1.1h-1.1zM139.9 165.2h1.1v1.1h-1.1zM147.0 152.2h1.1v1.1h-1.1zM151.2 163.4h1.1v1.1h-1.1zM151.4 167.2h1.1v1.1h-1.1zM152.3 153.1h1.1v1.1h-1.1zM148.0 159.8h1.1v1.1h-1.1zM148.3 160.2h1.1v1.1h-1.1zM147.7 153.6h1.1v1.1h-1.1zM147.5 148.7h1.1v1.1h-1.1zM139.7 162.0h1.1v1.1h-1.1zM144.3 157.4h1.1v1.1h-1.1zM145.5 142.7h1.1v1.1h-1.1zM141.5 170.1h1.1v1.1h-1.1zM146.8 151.2h1.1v1.1h-1.1zM151.7 153.7h1.1v1.1h-1.1zM144.9 143.2h1.1v1.1h-1.1zM134.9 158.5h1.1v1.1h-1.1zM147.3 157.5h1.1v1.1h-1.1zM151.6 153.9h1.1v1.1h-1.1zM147.9 149.7h1.1v1.1h-1.1zM142.1 149.7h1.1v1.1h-1.1zM151.6 164.0h1.1v1.1h-1.1zM140.5 153.2h1.1v1.1h-1.1zM148.4 150.4h1.1v1.1h-1.1zM152.0 151.2h1.1v1.1h-1.1zM144.8 153.8h1.1v1.1h-1.1zM137.3 140.2h1.1v1.1h-1.1zM139.2 165.9h1.1v1.1h-1.1zM149.5 161.4h1.1v1.1h-1.1zM143.2 152.3h1.1v1.1h-1.1zM146.4 159.3h1.1v1.1h-1.1zM137.8 149.3h1.1v1.1h-1.1zM139.6 167.1h1.1v1.1h-1.1zM144.2 149.5h1.1v1.1h-1.1zM152.3 154.2h1.1v1.1h-1.1zM153.8 149.9h1.1v1.1h-1.1zM158.6 158.4h1.1v1.1h-1.1zM147.7 155.1h1.1v1.1h-1.1zM146.1 157.0h1.1v1.1h-1.1zM142.5 166.9h1.1v1.1h-1.1zM133.8 144.2h1.1v1.1h-1.1zM144.3 155.4h1.1v1.1h-1.1zM154.9 163.2h1.1v1.1h-1.1zM147.6 150.2h1.1v1.1h-1.1zM157.7 166.4h1.1v1.1h-1.1zM165.0 147.3h1.1v1.1h-1.1zM157.6 158.1h1.1v1.1h-1.1zM140.8 157.1h1.1v1.1h-1.1zM147.7 154.5h1.1v1.1h-1.1zM137.7 152.4h1.1v1.1h-1.1zM138.1 156.3h1.1v1.1h-1.1zM137.4 157.3h1.1v1.1h-1.1zM142.4 164.5h1.1v1.1h-1.1zM143.4 144.7h1.1v1.1h-1.1zM137.1 157.5h1.1v1.1h-1.1zM173.7 149.8h1.1v1.1h-1.1zM140.2 169.1h1.1v1.1h-1.1zM148.7 168.2h1.1v1.1h-1.1zM147.7 161.2h1.1v1.1h-1.1zM148.4 147.5h1.1v1.1h-1.1zM149.2 148.8h1.1v1.1h-1.1zM154.4 134.5h1.1v1.1h-1.1zM133.2 153.0h1.1v1.1h-1.1zM144.1 172.0h1.1v1.1h-1.1zM140.0 160.7h1.1v1.1h-1.1zM131.1 174.1h1.1v1.1h-1.1zM127.2 165.9h1.1v1.1h-1.1zM146.4 140.4h1.1v1.1h-1.1zM141.0 162.6h1.1v1.1h-1.1zM146.2 148.6h1.1v1.1h-1.1zM147.0 155.9h1.1v1.1h-1.1zM150.7 162.4h1.1v1.1h-1.1zM143.9 148.6h1.1v1.1h-1.1zM146.3 154.3h1.1v1.1h-1.1zM149.0 147.3h1.1v1.1h-1.1zM147.8 148.8h1.1v1.1h-1.1zM149.0 158.4h1.1v1.1h-1.1zM146.5 142.1h1.1v1.1h-1.1zM154.2 149.7h1.1v1.1h-1.1zM142.8 154.3h1.1v1.1h-1.1zM149.2 151.5h1.1v1.1h-1.1zM144.5 143.0h1.1v1.1h-1.1zM153.2 152.7h1.1v1.1h-1.1zM145.9 137.7h1.1v1.1h-1.1zM140.7 162.3h1.1v1.1h-1.1zM154.1 148.2h1.1v1.1h-1.1zM145.3 161.0h1.1v1.1h-1.1zM137.2 150.9h1.1v1.1h-1.1zM148.7 165.7h1.1v1.1h-1.1zM138.2 144.8h1.1v1.1h-1.1zM153.9 153.7h1.1v1.1h-1.1zM149.9 146.4h1.1v1.1h-1.1zM152.7 160.3h1.1v1.1h-1.1zM156.3 149.4h1.1v1.1h-1.1zM144.1 144.9h1.1v1.1h-1.1zM139.9 143.1h1.1v1.1h-1.1zM148.2 147.8h1.1v1.1h-1.1zM146.5 149.3h1.1v1.1h-1.1zM146.6 162.4h1.1v1.1h-1.1zM149.4 163.2h1.1v1.1h-1.1zM143.5 160.8h1.1v1.1h-1.1zM145.0 148.0h1.1v1.1h-1.1zM137.6 153.3h1.1v1.1h-1.1zM144.9 169.2h1.1v1.1h-1.1zM140.3 167.1h1.1v1.1h-1.1zM135.8 152.8h1.1v1.1h-1.1zM161.2 155.3h1.1v1.1h-1.1zM141.4 145.9h1.1v1.1h-1.1zM158.2 168.6h1.1v1.1h-1.1zM142.9 151.2h1.1v1.1h-1.1zM130.1 151.3h1.1v1.1h-1.1zM158.6 141.2h1.1v1.1h-1.1zM151.8 162.2h1.1v1.1h-1.1zM156.8 153.1h1.1v1.1h-1.1zM145.6 167.6h1.1v1.1h-1.1zM148.1 162.5h1.1v1.1h-1.1zM144.2 154.2h1.1v1.1h-1.1zM142.1 156.4h1.1v1.1h-1.1zM146.6 154.0h1.1v1.1h-1.1zM134.4 141.8h1.1v1.1h-1.1zM143.9 165.9h1.1v1.1h-1.1zM141.1 150.7h1.1v1.1h-1.1zM144.3 164.2h1.1v1.1h-1.1zM156.3 160.4h1.1v1.1h-1.1zM147.3 149.5h1.1v1.1h-1.1zM149.0 154.2h1.1v1.1h-1.1zM148.4 148.9h1.1v1.1h-1.1zM153.7 154.0h1.1v1.1h-1.1zM136.2 154.1h1.1v1.1h-1.1zM138.1 159.4h1.1v1.1h-1.1zM153.8 162.3h1.1v1.1h-1.1zM146.3 149.0h1.1v1.1h-1.1zM139.8 173.6h1.1v1.1h-1.1zM154.4 149.0h1.1v1.1h-1.1zM139.5 158.4h1.1v1.1h-1.1zM146.6 157.5h1.1v1.1h-1.1zM151.8 148.1h1.1v1.1h-1.1zM139.6 164.1h1.1v1.1h-1.1zM148.7 154.9h1.1v1.1h-1.1zM144.8 162.0h1.1v1.1h-1.1zM149.3 151.4h1.1v1.1h-1.1zM137.7 162.1h1.1v1.1h-1.1zM135.6 172.5h1.1v1.1h-1.1zM139.9 150.3h1.1v1.1h-1.1zM151.2 170.1h1.1v1.1h-1.1zM150.8 134.5h1.1v1.1h-1.1zM148.7 139.1h1.1v1.1h-1.1zM141.9 163.3h1.1v1.1h-1.1zM151.3 158.7h1.1v1.1h-1.1zM147.1 162.3h1.1v1.1h-1.1zM144.4 153.2h1.1v1.1h-1.1zM153.4 162.2h1.1v1.1h-1.1zM153.6 161.6h1.1v1.1h-1.1zM147.7 164.2h1.1v1.1h-1.1zM148.5 172.0h1.1v1.1h-1.1zM150.9 153.6h1.1v1.1h-1.1zM145.3 148.5h1.1v1.1h-1.1zM148.9 151.2h1.1v1.1h-1.1zM137.1 160.8h1.1v1.1h-1.1zM158.2 145.2h1.1v1.1h-1.1zM152.3 159.7h1.1v1.1h-1.1zM140.9 149.9h1.1v1.1h-1.1zM141.8 175.8h1.1v1.1h-1.1zM145.6 170.4h1.1v1.1h-1.1zM141.0 165.1h1.1v1.1h-1.1zM152.6 152.1h1.1v1.1h-1.1zM142.0 160.3h1.1v1.1h-1.1zM136.4 154.9h1.1v1.1h-1.1zM138.1 155.4h1.1v1.1h-1.1zM148.1 163.1h1.1v1.1h-1.1zM149.3 155.8h1.1v1.1h-1.1zM144.3 149.2h1.1v1.1h-1.1zM143.2 152.6h1.1v1.1h-1.1zM142.9 157.8h1.1v1.1h-1.1zM144.4 142.8h1.1v1.1h-1.1zM151.8 151.3h1.1v1.1h-1.1zM137.1 147.2h1.1v1.1h-1.1zM144.5 154.6h1.1v1.1h-1.1zM144.9 173.1h1.1v1.1h-1.1zM135.6 168.8h1.1v1.1h-1.1zM148.0 154.4h1.1v1.1h-1.1zM132.5 151.9h1.1v1.1h-1.1zM152.1 148.7h1.1v1.1h-1.1zM138.5 144.1h1.1v1.1h-1.1zM147.4 157.3h1.1v1.1h-1.1zM157.3 154.5h1.1v1.1h-1.1zM153.3 147.4h1.1v1.1h-1.1zM143.3 165.7h1.1v1.1h-1.1zM143.7 160.8h1.1v1.1h-1.1zM139.6 147.4h1.1v1.1h-1.1zM144.5 146.6h1.1v1.1h-1.1zM141.2 168.5h1.1v1.1h-1.1zM144.5 158.6h1.1v1.1h-1.1zM156.4 158.7h1.1v1.1h-1.1zM146.2 152.6h1.1v1.1h-1.1zM152.2 165.7h1.1v1.1h-1.1zM156.5 176.5h1.1v1.1h-1.1zM135.7 161.7h1.1v1.1h-1.1zM159.6 162.1h1.1v1.1h-1.1zM149.3 147.6h1.1v1.1h-1.1zM155.4 149.9h1.1v1.1h-1.1zM148.2 154.5h1.1v1.1h-1.1zM150.2 154.0h1.1v1.1h-1.1zM142.3 165.3h1.1v1.1h-1.1zM145.0 164.7h1.1v1.1h-1.1zM140.1 168.8h1.1v1.1h-1.1zM148.1 168.0h1.1v1.1h-1.1zM153.9 144.8h1.1v1.1h-1.1zM128.5 163.1h1.1v1.1h-1.1zM144.1 153.2h1.1v1.1h-1.1zM142.0 151.5h1.1v1.1h-1.1zM147.2 164.8h1.1v1.1h-1.1zM147.9 138.4h1.1v1.1h-1.1zM149.9 160.2h1.1v1.1h-1.1zM144.5 145.4h1.1v1.1h-1.1zM136.1 166.0h1.1v1.1h-1.1zM140.8 166.4h1.1v1.1h-1.1zM143.6 164.1h1.1v1.1h-1.1zM142.4 145.3h1.1v1.1h-1.1zM147.8 142.2h1.1v1.1h-1.1zM137.2 159.4h1.1v1.1h-1.1zM156.3 160.3h1.1v1.1h-1.1zM137.4 146.5h1.1v1.1h-1.1zM147.8 156.0h1.1v1.1h-1.1zM159.1 175.6h1.1v1.1h-1.1zM141.5 174.3h1.1v1.1h-1.1zM141.8 148.0h1.1v1.1h-1.1zM157.3 149.8h1.1v1.1h-1.1zM140.5 169.9h1.1v1.1h-1.1zM141.8 168.0h1.1v1.1h-1.1zM151.7 154.3h1.1v1.1h-1.1zM149.0 167.3h1.1v1.1h-1.1zM153.1 150.9h1.1v1.1h-1.1zM156.1 138.4h1.1v1.1h-1.1zM144.5 157.1h1.1v1.1h-1.1zM150.5 169.6h1.1v1.1h-1.1zM138.6 150.7h1.1v1.1h-1.1zM146.3 152.7h1.1v1.1h-1.1zM147.9 162.7h1.1v1.1h-1.1zM151.4 154.8h1.1v1.1h-1.1zM168.8 150.7h1.1v1.1h-1.1zM142.8 169.9h1.1v1.1h-1.1zM150.6 164.7h1.1v1.1h-1.1zM155.0 157.0h1.1v1.1h-1.1zM145.6 166.9h1.1v1.1h-1.1zM159.0 148.3h1.1v1.1h-1.1zM143.3 156.9h1.1v1.1h-1.1zM154.4 148.1h1.1v1.1h-1.1zM153.8 152.8h1.1v1.1h-1.1zM151.2 160.5h1.1v1.1h-1.1zM157.9 150.6h1.1v1.1h-1.1zM150.9 155.8h1.1v1.1h-1.1zM140.8 164.7h1.1v1.1h-1.1zM139.4 162.6h1.1v1.1h-1.1zM141.8 146.3h1.1v1.1h-1.1zM148.0 176.3h1.1v1.1h-1.1zM151.1 149.9h1.1v1.1h-1.1zM149.3 155.1h1.1v1.1h-1.1zM142.0 158.3h1.1v1.1h-1.1zM148.9 164.7h1.1v1.1h-1.1zM137.6 169.8h1.1v1.1h-1.1zM147.1 143.3h1.1v1.1h-1.1zM140.9 157.2h1.1v1.1h-1.1zM140.7 157.8h1.1v1.1h-1.1zM139.2 164.6h1.1v1.1h-1.1zM148.0 155.0h1.1v1.1h-1.1zM154.2 150.1h1.1v1.1h-1.1zM144.6 161.6h1.1v1.1h-1.1zM148.7 157.7h1.1v1.1h-1.1zM152.8 153.4h1.1v1.1h-1.1zM147.6 149.4h1.1v1.1h-1.1zM147.7 146.9h1.1v1.1h-1.1zM138.9 155.3h1.1v1.1h-1.1zM138.7 162.0h1.1v1.1h-1.1zM151.7 162.7h1.1v1.1h-1.1zM150.4 161.9h1.1v1.1h-1.1zM138.3 145.7h1.1v1.1h-1.1zM150.1 148.0h1.1v1.1h-1.1zM142.0 155.6h1.1v1.1h-1.1zM150.7 143.8h1.1v1.1h-1.1zM145.3 163.9h1.1v1.1h-1.1zM146.6 169.7h1.1v1.1h-1.1zM141.5 166.9h1.1v1.1h-1.1zM159.2 165.2h1.1v1.1h-1.1zM151.3 166.4h1.1v1.1h-1.1zM133.5 148.5h1.1v1.1h-1.1zM155.3 147.3h1.1v1.1h-1.1zM147.5 161.7h1.1v1.1h-1.1zM154.7 157.1h1.1v1.1h-1.1zM152.0 157.6h1.1v1.1h-1.1zM157.5 153.2h1.1v1.1h-1.1zM142.4 159.5h1.1v1.1h-1.1zM156.7 160.8h1.1v1.1h-1.1zM147.1 151.5h1.1v1.1h-1.1zM154.1 152.1h1.1v1.1h-1.1zM145.2 154.1h1.1v1.1h-1.1zM154.8 150.8h1.1v1.1h-1.1zM140.7 157.5h1.1v1.1h-1.1zM148.8 144.4h1.1v1.1h-1.1zM141.6 150.3h1.1v1.1h-1.1zM147.8 149.7h1.1v1.1h-1.1zM158.6 161.2h1.1v1.1h-1.1zM153.6 160.8h1.1v1.1h-1.1zM146.8 163.1h1.1v1.1h-1.1zM146.8 141.1h1.1v1.1h-1.1zM150.3 150.9h1.1v1.1h-1.1zM156.1 150.6h1.1v1.1h-1.1zM147.3 157.1h1.1v1.1h-1.1zM143.3 152.9h1.1v1.1h-1.1zM145.0 158.0h1.1v1.1h-1.1zM147.9 157.4h1.1v1.1h-1.1zM149.6 138.1h1.1v1.1h-1.1zM154.2 164.1h1.1v1.1h-1.1zM139.5 148.3h1.1v1.1h-1.1zM137.1 129.6h1.1v1.1h-1.1zM140.9 170.2h1.1v1.1h-1.1zM147.0 158.8h1.1v1.1h-1.1zM146.0 161.8h1.1v1.1h-1.1zM147.4 149.9h1.1v1.1h-1.1zM141.6 162.0h1.1v1.1h-1.1zM146.7 140.4h1.1v1.1h-1.1zM149.6 159.5h1.1v1.1h-1.1zM154.9 159.3h1.1v1.1h-1.1zM146.7 156.1h1.1v1.1h-1.1zM141.0 158.3h1.1v1.1h-1.1zM144.7 147.7h1.1v1.1h-1.1zM145.7 157.6h1.1v1.1h-1.1zM147.8 163.0h1.1v1.1h-1.1zM160.9 157.2h1.1v1.1h-1.1zM155.1 158.5h1.1v1.1h-1.1zM146.1 163.9h1.1v1.1h-1.1zM141.1 155.3h1.1v1.1h-1.1zM153.0 145.6h1.1v1.1h-1.1zM141.1 152.1h1.1v1.1h-1.1zM145.1 163.3h1.1v1.1h-1.1zM136.2 167.1h1.1v1.1h-1.1zM150.1 162.8h1.1v1.1h-1.1zM133.4 157.4h1.1v1.1h-1.1zM140.4 162.2h1.1v1.1h-1.1zM146.5 153.2h1.1v1.1h-1.1zM140.9 153.9h1.1v1.1h-1.1zM153.2 143.9h1.1v1.1h-1.1zM142.0 153.9h1.1v1.1h-1.1zM145.8 152.7h1.1v1.1h-1.1zM147.6 157.7h1.1v1.1h-1.1zM131.5 163.0h1.1v1.1h-1.1zM135.6 165.0h1.1v1.1h-1.1zM154.0 143.0h1.1v1.1h-1.1zM145.1 168.4h1.1v1.1h-1.1zM155.1 160.0h1.1v1.1h-1.1zM139.7 166.2h1.1v1.1h-1.1zM139.0 142.7h1.1v1.1h-1.1zM153.2 147.6h1.1v1.1h-1.1zM151.6 148.6h1.1v1.1h-1.1zM140.7 165.9h1.1v1.1h-1.1zM145.0 162.2h1.1v1.1h-1.1zM145.9 152.9h1.1v1.1h-1.1zM143.4 148.4h1.1v1.1h-1.1zM148.4 161.2h1.1v1.1h-1.1zM156.7 161.2h1.1v1.1h-1.1zM144.1 160.9h1.1v1.1h-1.1zM157.9 146.5h1.1v1.1h-1.1zM158.4 152.1h1.1v1.1h-1.1zM137.5 177.6h1.1v1.1h-1.1zM154.3 153.7h1.1v1.1h-1.1zM150.0 169.3h1.1v1.1h-1.1zM149.3 167.0h1.1v1.1h-1.1zM148.0 161.8h1.1v1.1h-1.1zM140.7 147.1h1.1v1.1h-1.1zM149.7 146.0h1.1v1.1h-1.1zM150.9 157.1h1.1v1.1h-1.1zM152.8 165.8h1.1v1.1h-1.1zM147.8 134.0h1.1v1.1h-1.1zM137.2 155.4h1.1v1.1h-1.1zM159.6 159.5h1.1v1.1h-1.1zM150.3 157.5h1.1v1.1h-1.1zM128.6 159.1h1.1v1.1h-1.1zM147.1 144.1h1.1v1.1h-1.1zM151.0 157.4h1.1v1.1h-1.1zM168.7 141.7h1.1v1.1h-1.1zM141.3 156.5h1.1v1.1h-1.1zM143.1 162.0h1.1v1.1h-1.1zM151.5 162.0h1.1v1.1h-1.1zM148.0 151.3h1.1v1.1h-1.1zM146.4 164.7h1.1v1.1h-1.1zM150.4 139.6h1.1v1.1h-1.1zM158.0 154.8h1.1v1.1h-1.1zM152.9 153.9h1.1v1.1h-1.1zM153.9 155.5h1.1v1.1h-1.1zM154.1 169.7h1.1v1.1h-1.1zM146.7 131.9h1.1v1.1h-1.1zM150.2 149.2h1.1v1.1h-1.1zM152.3 161.3h1.1v1.1h-1.1zM145.5 148.7h1.1v1.1h-1.1zM138.9 168.4h1.1v1.1h-1.1zM153.0 156.3h1.1v1.1h-1.1zM147.2 165.1h1.1v1.1h-1.1zM148.0 141.7h1.1v1.1h-1.1zM157.6 156.2h1.1v1.1h-1.1zM142.6 156.6h1.1v1.1h-1.1zM142.0 146.9h1.1v1.1h-1.1zM149.0 151.4h1.1v1.1h-1.1zM148.7 161.0h1.1v1.1h-1.1zM159.6 157.1h1.1v1.1h-1.1zM147.9 152.7h1.1v1.1h-1.1zM153.5 162.6h1.1v1.1h-1.1zM146.2 173.4h1.1v1.1h-1.1zM148.0 159.8h1.1v1.1h-1.1zM140.8 141.1h1.1v1.1h-1.1zM143.2 157.4h1.1v1.1h-1.1zM141.0 147.9h1.1v1.1h-1.1zM152.3 153.3h1.1v1.1h-1.1zM143.4 153.7h1.1v1.1h-1.1zM138.3 163.2h1.1v1.1h-1.1zM154.2 167.5h1.1v1.1h-1.1zM159.4 142.4h1.1v1.1h-1.1zM152.6 157.1h1.1v1.1h-1.1zM156.4 153.4h1.1v1.1h-1.1zM149.2 173.1h1.1v1.1h-1.1zM150.4 159.2h1.1v1.1h-1.1zM144.9 161.7h1.1v1.1h-1.1zM147.3 147.5h1.1v1.1h-1.1zM148.3 172.2h1.1v1.1h-1.1zM147.7 167.1h1.1v1.1h-1.1zM154.6 159.4h1.1v1.1h-1.1zM147.6 150.8h1.1v1.1h-1.1zM147.6 162.2h1.1v1.1h-1.1zM141.3 154.2h1.1v1.1h-1.1zM154.6 153.3h1.1v1.1h-1.1zM151.1 161.7h1.1v1.1h-1.1zM143.6 164.8h1.1v1.1h-1.1zM150.9 157.9h1.1v1.1h-1.1zM146.9 161.1h1.1v1.1h-1.1zM149.4 161.9h1.1v1.1h-1.1zM152.2 154.4h1.1v1.1h-1.1zM156.5 158.6h1.1v1.1h-1.1zM143.8 168.5h1.1v1.1h-1.1zM156.0 143.3h1.1v1.1h-1.1zM145.7 164.2h1.1v1.1h-1.1zM152.8 144.4h1.1v1.1h-1.1zM143.5 150.5h1.1v1.1h-1.1zM149.6 165.7h1.1v1.1h-1.1zM149.3 157.9h1.1v1.1h-1.1zM140.1 165.8h1.1v1.1h-1.1zM132.0 159.8h1.1v1.1h-1.1zM150.3 161.0h1.1v1.1h-1.1zM146.6 158.9h1.1v1.1h-1.1zM152.1 152.9h1.1v1.1h-1.1zM151.6 158.6h1.1v1.1h-1.1zM151.4 135.5h1.1v1.1h-1.1zM138.7 154.3h1.1v1.1h-1.1zM141.3 164.5h1.1v1.1h-1.1zM135.5 166.0h1.1v1.1h-1.1zM151.7 160.3h1.1v1.1h-1.1zM145.4 147.3h1.1v1.1h-1.1zM140.1 150.2h1.1v1.1h-1.1zM145.7 163.1h1.1v1.1h-1.1zM149.7 167.4h1.1v1.1h-1.1zM154.4 152.9h1.1v1.1h-1.1zM141.8 165.9h1.1v1.1h-1.1zM140.1 165.2h1.1v1.1h-1.1zM149.2 146.1h1.1v1.1h-1.1zM149.3 160.0h1.1v1.1h-1.1zM145.2 136.6h1.1v1.1h-1.1zM147.9 161.6h1.1v1.1h-1.1zM151.5 162.1h1.1v1.1h-1.1zM144.7 142.8h1.1v1.1h-1.1zM144.6 165.5h1.1v1.1h-1.1zM148.0 147.3h1.1v1.1h-1.1zM140.0 133.7h1.1v1.1h-1.1zM147.4 161.6h1.1v1.1h-1.1zM133.8 150.0h1.1v1.1h-1.1zM159.0 141.3h1.1v1.1h-1.1zM154.6 169.0h1.1v1.1h-1.1zM151.6 162.8h1.1v1.1h-1.1zM149.1 163.6h1.1v1.1h-1.1zM159.0 150.3h1.1v1.1h-1.1zM138.5 139.1h1.1v1.1h-1.1zM146.8 166.5h1.1v1.1h-1.1zM141.6 160.4h1.1v1.1h-1.1zM146.5 167.7h1.1v1.1h-1.1zM150.9 162.0h1.1v1.1h-1.1zM143.2 153.7h1.1v1.1h-1.1zM152.3 160.1h1.1v1.1h-1.1zM156.2 153.9h1.1v1.1h-1.1zM153.2 157.2h1.1v1.1h-1.1zM152.0 143.7h1.1v1.1h-1.1zM152.5 150.8h1.1v1.1h-1.1zM153.1 166.1h1.1v1.1h-1.1zM140.6 169.2h1.1v1.1h-1.1zM153.9 173.9h1.1v1.1h-1.1zM155.3 156.1h1.1v1.1h-1.1zM158.0 149.1h1.1v1.1h-1.1zM144.4 160.3h1.1v1.1h-1.1zM134.9 166.1h1.1v1.1h-1.1zM151.1 157.5h1.1v1.1h-1.1zM134.3 149.9h1.1v1.1h-1.1zM151.1 164.2h1.1v1.1h-1.1zM143.1 146.0h1.1v1.1h-1.1zM148.8 148.2h1.1v1.1h-1.1zM134.4 168.0h1.1v1.1h-1.1zM146.4 160.8h1.1v1.1h-1.1zM143.9 165.4h1.1v1.1h-1.1zM153.3 157.5h1.1v1.1h-1.1zM144.7 153.9h1.1v1.1h-1.1zM152.4 159.8h1.1v1.1h-1.1zM137.3 167.5h1.1v1.1h-1.1zM146.3 161.9h1.1v1.1h-1.1zM155.2 163.5h1.1v1.1h-1.1zM152.2 157.9h1.1v1.1h-1.1zM149.4 165.9h1.1v1.1h-1.1zM149.5 157.4h1.1v1.1h-1.1zM146.2 155.3h1.1v1.1h-1.1zM149.2 154.0h1.1v1.1h-1.1zM151.1 154.5h1.1v1.1h-1.1zM153.0 159.7h1.1v1.1h-1.1zM142.1 160.5h1.1v1.1h-1.1zM135.6 181.3h1.1v1.1h-1.1zM142.6 155.7h1.1v1.1h-1.1zM156.5 154.6h1.1v1.1h-1.1zM142.4 148.5h1.1v1.1h-1.1zM155.6 149.5h1.1v1.1h-1.1zM156.6 164.6h1.1v1.1h-1.1zM144.3 166.8h1.1v1.1h-1.1zM147.2 155.2h1.1v1.1h-1.1zM140.9 144.2h1.1v1.1h-1.1zM151.2 141.0h1.1v1.1h-1.1zM139.1 142.9h1.1v1.1h-1.1zM148.3 145.7h1.1v1.1h-1.1zM141.7 177.8h1.1v1.1h-1.1zM144.1 171.5h1.1v1.1h-1.1zM149.0 147.9h1.1v1.1h-1.1zM143.8 150.7h1.1v1.1h-1.1zM148.1 162.9h1.1v1.1h-1.1zM148.0 153.6h1.1v1.1h-1.1zM142.0 152.3h1.1v1.1h-1.1zM141.8 149.0h1.1v1.1h-1.1zM160.7 166.7h1.1v1.1h-1.1zM139.6 155.5h1.1v1.1h-1.1zM148.4 156.5h1.1v1.1h-1.1zM141.4 158.7h1.1v1.1h-1.1zM146.4 160.6h1.1v1.1h-1.1zM154.1 153.1h1.1v1.1h-1.1zM148.1 152.7h1.1v1.1h-1.1zM141.5 151.0h1.1v1.1h-1.1zM148.3 152.0h1.1v1.1h-1.1zM141.2 149.3h1.1v1.1h-1.1zM145.1 168.4h1.1v1.1h-1.1zM156.7 144.9h1.1v1.1h-1.1zM143.5 161.0h1.1v1.1h-1.1zM143.9 154.9h1.1v1.1h-1.1zM140.1 156.9h1.1v1.1h-1.1zM146.7 149.3h1.1v1.1h-1.1zM148.1 165.8h1.1v1.1h-1.1zM151.0 147.7h1.1v1.1h-1.1zM146.9 163.4h1.1v1.1h-1.1zM151.6 167.9h1.1v1.1h-1.1zM152.5 156.2h1.1v1.1h-1.1zM148.6 163.1h1.1v1.1h-1.1zM146.6 159.6h1.1v1.1h-1.1zM139.5 158.1h1.1v1.1h-1.1zM143.8 155.0h1.1v1.1h-1.1zM156.8 160.5h1.1v1.1h-1.1zM149.2 151.9h1.1v1.1h-1.1zM138.8 145.1h1.1v1.1h-1.1zM144.6 154.5h1.1v1.1h-1.1zM136.0 149.2h1.1v1.1h-1.1zM147.6 150.0h1.1v1.1h-1.1zM143.8 157.3h1.1v1.1h-1.1zM153.5 160.8h1.1v1.1h-1.1zM157.9 147.0h1.1v1.1h-1.1zM154.7 156.7h1.1v1.1h-1.1zM149.7 174.2h1.1v1.1h-1.1zM151.8 161.3h1.1v1.1h-1.1zM157.1 154.6h1.1v1.1h-1.1zM152.4 161.2h1.1v1.1h-1.1zM149.7 152.3h1.1v1.1h-1.1zM148.0 160.2h1.1v1.1h-1.1zM145.8 159.6h1.1v1.1h-1.1zM136.3 163.0h1.1v1.1h-1.1zM144.5 158.6h1.1v1.1h-1.1zM142.9 153.3h1.1v1.1h-1.1zM140.5 166.5h1.1v1.1h-1.1zM142.3 149.8h1.1v1.1h-1.1zM147.1 146.6h1.1v1.1h-1.1zM139.7 157.4h1.1v1.1h-1.1zM147.1 163.4h1.1v1.1h-1.1zM150.5 150.2h1.1v1.1h-1.1zM138.3 164.2h1.1v1.1h-1.1zM132.4 155.6h1.1v1.1h-1.1zM149.0 167.2h1.1v1.1h-1.1zM153.4 167.2h1.1v1.1h-1.1zM161.1 144.0h1.1v1.1h-1.1zM144.1 159.3h1.1v1.1h-1.1zM133.2 148.0h1.1v1.1h-1.1zM154.8 152.7h1.1v1.1h-1.1zM151.8 163.2h1.1v1.1h-1.1zM152.7 165.0h1.1v1.1h-1.1zM148.9 163.2h1.1v1.1h-1.1zM138.5 169.8h1.1v1.1h-1.1zM146.2 150.1h1.1v1.1h-1.1zM151.4 146.0h1.1v1.1h-1.1zM156.2 179.0h1.1v1.1h-1.1zM155.4 150.8h1.1v1.1h-1.1zM149.1 160.0h1.1v1.1h-1.1zM143.7 154.3h1.1v1.1h-1.1zM150.2 153.7h1.1v1.1h-1.1zM146.4 157.7h1.1v1.1h-1.1zM139.2 153.4h1.1v1.1h-1.1zM141.8 170.5h1.1v1.1h-1.1zM147.1 161.3h1.1v1.1h-1.1zM148.4 157.9h1.1v1.1h-1.1zM147.6 156.9h1.1v1.1h-1.1zM133.5 155.7h1.1v1.1h-1.1zM143.4 154.6h1.1v1.1h-1.1zM142.2 149.1h1.1v1.1h-1.1zM147.6 153.9h1.1v1.1h-1.1zM146.9 159.7h1.1v1.1h-1.1zM146.7 158.6h1.1v1.1h-1.1zM143.4 155.2h1.1v1.1h-1.1zM151.1 157.0h1.1v1.1h-1.1zM150.5 158.9h1.1v1.1h-1.1zM154.7 150.8h1.1v1.1h-1.1zM147.4 165.0h1.1v1.1h-1.1zM141.8 158.1h1.1v1.1h-1.1zM149.2 157.1h1.1v1.1h-1.1zM152.2 161.6h1.1v1.1h-1.1zM144.1 164.3h1.1v1.1h-1.1zM145.1 181.4h1.1v1.1h-1.1zM136.7 157.2h1.1v1.1h-1.1zM146.5 157.5h1.1v1.1h-1.1zM134.0 156.0h1.1v1.1h-1.1zM142.1 162.7h1.1v1.1h-1.1zM137.3 170.2h1.1v1.1h-1.1zM147.1 153.2h1.1v1.1h-1.1zM150.7 145.6h1.1v1.1h-1.1zM139.2 160.8h1.1v1.1h-1.1zM144.5 157.4h1.1v1.1h-1.1zM134.3 143.1h1.1v1.1h-1.1zM133.3 168.5h1.1v1.1h-1.1zM143.5 167.0h1.1v1.1h-1.1zM143.0 164.9h1.1v1.1h-1.1zM143.5 152.0h1.1v1.1h-1.1zM145.2 156.9h1.1v1.1h-1.1zM133.5 153.9h1.1v1.1h-1.1zM141.1 149.5h1.1v1.1h-1.1zM144.9 152.5h1.1v1.1h-1.1zM144.1 165.0h1.1v1.1h-1.1zM150.6 171.9h1.1v1.1h-1.1zM142.1 154.6h1.1v1.1h-1.1zM144.9 152.3h1.1v1.1h-1.1zM148.9 163.3h1.1v1.1h-1.1zM145.4 157.7h1.1v1.1h-1.1zM154.4 157.0h1.1v1.1h-1.1zM153.3 158.2h1.1v1.1h-1.1zM146.8 172.9h1.1v1.1h-1.1zM142.6 159.6h1.1v1.1h-1.1zM154.3 159.9h1.1v1.1h-1.1zM151.3 180.0h1.1v1.1h-1.1zM155.8 158.7h1.1v1.1h-1.1zM141.5 158.5h1.1v1.1h-1.1zM144.5 150.8h1.1v1.1h-1.1zM150.5 164.0h1.1v1.1h-1.1zM137.3 151.6h1.1v1.1h-1.1zM139.5 162.0h1.1v1.1h-1.1zM147.9 166.0h1.1v1.1h-1.1zM146.0 162.1h1.1v1.1h-1.1zM151.4 158.2h1.1v1.1h-1.1zM155.1 143.9h1.1v1.1h-1.1zM155.3 147.9h1.1v1.1h-1.1zM144.3 159.3h1.1v1.1h-1.1zM149.7 146.4h1.1v1.1h-1.1zM150.2 139.4h1.1v1.1h-1.1zM145.9 153.2h1.1v1.1h-1.1zM156.6 156.4h1.1v1.1h-1.1zM143.0 150.5h1.1v1.1h-1.1zM141.2 156.1h1.1v1.1h-1.1zM145.5 170.6h1.1v1.1h-1.1zM137.6 160.4h1.1v1.1h-1.1zM138.1 153.0h1.1v1.1h-1.1zM151.8 168.3h1.1v1.1h-1.1zM152.7 153.3h1.1v1.1h-1.1zM150.4 170.6h1.1v1.1h-1.1zM138.7 151.0h1.1v1.1h-1.1zM146.8 159.3h1.1v1.1h-1.1zM148.9 155.9h1.1v1.1h-1.1zM141.7 160.8h1.1v1.1h-1.1zM142.3 155.0h1.1v1.1h-1.1zM148.9 161.5h1.1v1.1h-1.1zM150.8 165.9h1.1v1.1h-1.1zM148.9 170.7h1.1v1.1h-1.1zM138.0 157.7h1.1v1.1h-1.1zM148.4 155.9h1.1v1.1h-1.1zM146.2 160.6h1.1v1.1h-1.1zM141.7 174.0h1.1v1.1h-1.1zM160.1 155.9h1.1v1.1h-1.1zM152.2 165.8h1.1v1.1h-1.1zM148.6 156.5h1.1v1.1h-1.1zM149.9 159.6h1.1v1.1h-1.1zM142.2 164.4h1.1v1.1h-1.1zM146.4 167.2h1.1v1.1h-1.1zM139.9 149.9h1.1v1.1h-1.1zM127.9 150.8h1.1v1.1h-1.1zM138.8 161.1h1.1v1.1h-1.1zM153.0 159.5h1.1v1.1h-1.1zM153.5 152.7h1.1v1.1h-1.1zM137.0 167.4h1.1v1.1h-1.1zM151.9 164.6h1.1v1.1h-1.1zM143.1 165.5h1.1v1.1h-1.1zM146.8 179.8h1.1v1.1h-1.1zM131.7 144.4h1.1v1.1h-1.1zM151.0 164.5h1.1v1.1h-1.1zM149.0 156.3h1.1v1.1h-1.1zM140.2 170.2h1.1v1.1h-1.1zM153.4 161.5h1.1v1.1h-1.1zM146.9 171.9h1.1v1.1h-1.1zM142.1 146.8h1.1v1.1h-1.1zM147.5 148.8h1.1v1.1h-1.1zM151.2 164.3h1.1v1.1h-1.1zM151.6 156.3h1.1v1.1h-1.1zM142.4 160.2h1.1v1.1h-1.1zM135.8 142.3h1.1v1.1h-1.1zM142.3 144.7h1.1v1.1h-1.1zM148.4 147.8h1.1v1.1h-1.1zM151.0 157.1h1.1v1.1h-1.1zM139.7 134.9h1.1v1.1h-1.1zM157.9 161.7h1.1v1.1h-1.1zM150.0 153.4h1.1v1.1h-1.1zM138.4 167.0h1.1v1.1h-1.1zM139.6 152.2h1.1v1.1h-1.1zM147.8 149.6h1.1v1.1h-1.1zM143.8 151.8h1.1v1.1h-1.1zM141.0 169.1h1.1v1.1h-1.1zM145.3 165.2h1.1v1.1h-1.1zM141.7 151.3h1.1v1.1h-1.1zM144.7 143.0h1.1v1.1h-1.1zM148.6 145.0h1.1v1.1h-1.1zM139.0 155.5h1.1v1.1h-1.1zM149.4 150.5h1.1v1.1h-1.1zM145.6 166.9h1.1v1.1h-1.1zM154.3 166.0h1.1v1.1h-1.1zM142.6 167.1h1.1v1.1h-1.1zM145.1 154.0h1.1v1.1h-1.1zM152.0 161.1h1.1v1.1h-1.1zM150.9 150.6h1.1v1.1h-1.1zM144.3 159.3h1.1v1.1h-1.1zM149.0 162.2h1.1v1.1h-1.1zM131.9 173.7h1.1v1.1h-1.1zM152.8 151.1h1.1v1.1h-1.1zM154.2 157.3h1.1v1.1h-1.1zM141.7 170.4h1.1v1.1h-1.1zM141.0 147.5h1.1v1.1h-1.1zM141.9 151.4h1.1v1.1h-1.1zM167.9 157.1h1.1v1.1h-1.1zM139.9 157.5h1.1v1.1h-1.1zM149.5 168.6h1.1v1.1h-1.1zM138.3 172.6h1.1v1.1h-1.1zM149.1 150.3h1.1v1.1h-1.1zM141.0 160.5h1.1v1.1h-1.1zM147.4 153.8h1.1v1.1h-1.1zM144.2 177.0h1.1v1.1h-1.1zM156.6 154.8h1.1v1.1h-1.1zM140.7 164.9h1.1v1.1h-1.1zM142.6 140.7h1.1v1.1h-1.1zM142.4 145.0h1.1v1.1h-1.1zM137.5 153.4h1.1v1.1h-1.1zM141.9 153.2h1.1v1.1h-1.1zM149.6 152.9h1.1v1.1h-1.1zM138.5 147.5h1.1v1.1h-1.1zM153.5 148.8h1.1v1.1h-1.1zM138.6 159.2h1.1v1.1h-1.1zM141.9 148.0h1.1v1.1h-1.1zM148.3 156.1h1.1v1.1h-1.1zM143.5 152.8h1.1v1.1h-1.1zM152.9 161.0h1.1v1.1h-1.1zM142.6 152.6h1.1v1.1h-1.1zM157.0 156.9h1.1v1.1h-1.1zM148.3 160.0h1.1v1.1h-1.1zM143.0 157.9h1.1v1.1h-1.1zM140.9 153.8h1.1v1.1h-1.1zM154.2 157.1h1.1v1.1h-1.1zM156.1 160.6h1.1v1.1h-1.1zM149.7 158.8h1.1v1.1h-1.1zM139.4 165.2h1.1v1.1h-1.1zM155.2 161.4h1.1v1.1h-1.1zM147.0 155.2h1.1v1.1h-1.1zM148.2 166.8h1.1v1.1h-1.1zM152.0 160.5h1.1v1.1h-1.1zM146.6 158.5h1.1v1.1h-1.1zM147.2 148.1h1.1v1.1h-1.1zM160.8 152.7h1.1v1.1h-1.1zM138.4 168.1h1.1v1.1h-1.1zM149.0 162.3h1.1v1.1h-1.1zM143.2 156.5h1.1v1.1h-1.1zM147.5 181.2h1.1v1.1h-1.1zM149.8 159.0h1.1v1.1h-1.1zM150.8 158.4h1.1v1.1h-1.1zM144.2 141.4h1.1v1.1h-1.1zM151.9 145.6h1.1v1.1h-1.1zM155.0 154.0h1.1v1.1h-1.1zM145.3 146.4h1.1v1.1h-1.1zM140.6 150.1h1.1v1.1h-1.1zM149.0 152.9h1.1v1.1h-1.1zM146.1 151.9h1.1v1.1h-1.1zM149.0 160.4h1.1v1.1h-1.1zM150.8 148.5h1.1v1.1h-1.1zM143.1 144.6h1.1v1.1h-1.1zM154.6 135.2h1.1v1.1h-1.1zM156.4 155.6h1.1v1.1h-1.1zM141.8 157.2h1.1v1.1h-1.1zM145.0 153.1h1.1v1.1h-1.1zM147.8 161.8h1.1v1.1h-1.1zM140.5 169.3h1.1v1.1h-1.1zM136.5 162.1h1.1v1.1h-1.1zM149.4 148.2h1.1v1.1h-1.1zM149.8 168.5h1.1v1.1h-1.1zM135.3 159.7h1.1v1.1h-1.1zM145.3 158.3h1.1v1.1h-1.1zM134.7 159.8h1.1v1.1h-1.1zM153.3 160.2h1.1v1.1h-1.1zM142.4 152.9h1.1v1.1h-1.1zM148.6 155.2h1.1v1.1h-1.1zM139.3 145.1h1.1v1.1h-1.1zM136.7 155.2h1.1v1.1h-1.1zM156.1 169.7h1.1v1.1h-1.1zM145.1 154.6h1.1v1.1h-1.1zM151.2 163.3h1.1v1.1h-1.1zM153.7 161.7h1.1v1.1h-1.1zM142.9 161.1h1.1v1.1h-1.1zM157.1 160.9h1.1v1.1h-1.1zM160.8 151.7h1.1v1.1h-1.1zM144.1 158.3h1.1v1.1h-1.1zM144.3 164.3h1.1v1.1h-1.1zM147.4 162.6h1.1v1.1h-1.1zM157.7 148.5h1.1v1.1h-1.1zM141.6 173.1h1.1v1.1h-1.1zM145.8 147.5h1.1v1.1h-1.1zM142.7 146.1h1.1v1.1h-1.1zM145.0 158.7h1.1v1.1h-1.1zM147.4 163.4h1.1v1.1h-1.1zM144.2 163.3h1.1v1.1h-1.1zM155.5 146.3h1.1v1.1h-1.1zM139.3 159.5h1.1v1.1h-1.1zM137.2 164.4h1.1v1.1h-1.1zM143.4 150.7h1.1v1.1h-1.1zM143.8 176.3h1.1v1.1h-1.1zM139.2 155.0h1.1v1.1h-1.1zM140.7 160.6h1.1v1.1h-1.1zM145.5 156.0h1.1v1.1h-1.1zM149.6 155.2h1.1v1.1h-1.1zM145.7 161.0h1.1v1.1h-1.1zM146.5 154.5h1.1v1.1h-1.1zM140.1 159.2h1.1v1.1h-1.1zM147.3 155.6h1.1v1.1h-1.1zM143.0 151.9h1.1v1.1h-1.1zM137.5 170.3h1.1v1.1h-1.1zM147.3 174.1h1.1v1.1h-1.1zM137.7 141.4h1.1v1.1h-1.1zM148.4 155.4h1.1v1.1h-1.1zM144.2 151.0h1.1v1.1h-1.1zM148.5 134.8h1.1v1.1h-1.1zM162.4 156.6h1.1v1.1h-1.1zM143.6 164.3h1.1v1.1h-1.1zM144.7 159.3h1.1v1.1h-1.1zM149.8 164.1h1.1v1.1h-1.1zM148.2 166.7h1.1v1.1h-1.1zM153.4 159.5h1.1v1.1h-1.1zM150.9 153.6h1.1v1.1h-1.1zM153.8 147.5h1.1v1.1h-1.1zM139.0 149.5h1.1v1.1h-1.1zM150.8 153.2h1.1v1.1h-1.1zM142.9 167.7h1.1v1.1h-1.1zM154.1 177.7h1.1v1.1h-1.1zM153.0 164.7h1.1v1.1h-1.1zM151.9 149.6h1.1v1.1h-1.1zM148.1 157.3h1.1v1.1h-1.1zM153.0 163.7h1.1v1.1h-1.1zM141.5 154.5h1.1v1.1h-1.1zM150.2 160.1h1.1v1.1h-1.1zM141.8 164.4h1.1v1.1h-1.1zM134.1 160.4h1.1v1.1h-1.1zM143.6 144.4h1.1v1.1h-1.1zM143.0 166.6h1.1v1.1h-1.1zM136.9 154.1h1.1v1.1h-1.1zM147.3 153.5h1.1v1.1h-1.1zM144.2 155.7h1.1v1.1h-1.1zM145.7 169.5h1.1v1.1h-1.1zM128.7 156.2h1.1v1.1h-1.1zM154.8 143.5h1.1v1.1h-1.1zM149.1 165.8h1.1v1.1h-1.1zM143.6 158.7h1.1v1.1h-1.1zM144.6 146.1h1.1v1.1h-1.1zM144.1 150.7h1.1v1.1h-1.1zM153.4 152.8h1.1v1.1h-1.1zM149.4 165.2h1.1v1.1h-1.1zM154.0 158.8h1.1v1.1h-1.1zM150.9 151.1h1.1v1.1h-1.1zM137.7 169.2h1.1v1.1h-1.1zM154.9 149.8h1.1v1.1h-1.1zM138.5 170.4h1.1v1.1h-1.1zM146.7 167.2h1.1v1.1h-1.1zM156.3 157.6h1.1v1.1h-1.1zM154.1 148.5h1.1v1.1h-1.1zM145.2 163.7h1.1v1.1h-1.1zM155.4 158.8h1.1v1.1h-1.1zM151.2 150.8h1.1v1.1h-1.1zM154.4 147.3h1.1v1.1h-1.1zM144.5 155.5h1.1v1.1h-1.1zM141.5 151.0h1.1v1.1h-1.1zM143.2 164.7h1.1v1.1h-1.1zM150.1 160.6h1.1v1.1h-1.1zM148.3 160.7h1.1v1.1h-1.1zM141.0 153.2h1.1v1.1h-1.1zM144.0 163.1h1.1v1.1h-1.1zM147.7 162.0h1.1v1.1h-1.1zM136.8 168.9h1.1v1.1h-1.1zM143.9 148.1h1.1v1.1h-1.1zM146.3 159.3h1.1v1.1h-1.1zM143.1 169.0h1.1v1.1h-1.1zM143.7 152.3h1.1v1.1h-1.1zM136.1 166.3h1.1v1.1h-1.1zM144.7 153.2h1.1v1.1h-1.1zM136.1 147.7h1.1v1.1h-1.1zM142.5 159.4h1.1v1.1h-1.1zM150.6 167.1h1.1v1.1h-1.1zM141.3 157.7h1.1v1.1h-1.1zM155.1 163.9h1.1v1.1h-1.1zM149.8 168.6h1.1v1.1h-1.1zM149.9 158.6h1.1v1.1h-1.1zM164.8 147.9h1.1v1.1h-1.1zM147.2 163.3h1.1v1.1h-1.1zM147.5 157.8h1.1v1.1h-1.1zM142.7 166.3h1.1v1.1h-1.1zM137.1 146.1h1.1v1.1h-1.1zM138.9 150.1h1.1v1.1h-1.1zM142.7 159.8h1.1v1.1h-1.1zM154.2 151.6h1.1v1.1h-1.1zM143.9 174.8h1.1v1.1h-1.1zM154.0 145.1h1.1v1.1h-1.1zM151.4 159.1h1.1v1.1h-1.1zM146.6 160.5h1.1v1.1h-1.1zM151.7 160.9h1.1v1.1h-1.1zM152.6 161.7h1.1v1.1h-1.1zM151.7 163.3h1.1v1.1h-1.1zM143.5 144.2h1.1v1.1h-1.1zM160.0 152.5h1.1v1.1h-1.1zM138.3 164.9h1.1v1.1h-1.1zM154.1 157.2h1.1v1.1h-1.1zM155.7 154.5h1.1v1.1h-1.1zM146.3 145.7h1.1v1.1h-1.1zM159.6 160.8h1.1v1.1h-1.1zM153.7 145.0h1.1v1.1h-1.1zM152.6 143.2h1.1v1.1h-1.1zM141.5 162.5h1.1v1.1h-1.1zM153.7 172.7h1.1v1.1h-1.1zM148.6 146.9h1.1v1.1h-1.1zM150.0 154.5h1.1v1.1h-1.1zM150.8 162.7h1.1v1.1h-1.1zM157.2 165.2h1.1v1.1h-1.1zM145.4 161.6h1.1v1.1h-1.1zM145.8 153.7h1.1v1.1h-1.1zM143.6 155.2h1.1v1.1h-1.1zM142.9 157.5h1.1v1.1h-1.1zM138.1 152.2h1.1v1.1h-1.1zM151.8 151.9h1.1v1.1h-1.1zM137.7 171.5h1.1v1.1h-1.1zM140.9 171.7h1.1v1.1h-1.1zM145.6 161.7h1.1v1.1h-1.1zM153.4 153.3h1.1v1.1h-1.1zM141.7 157.4h1.1v1.1h-1.1zM145.3 163.9h1.1v1.1h-1.1zM144.8 151.6h1.1v1.1h-1.1zM149.4 151.7h1.1v1.1h-1.1zM140.5 159.0h1.1v1.1h-1.1zM146.2 146.0h1.1v1.1h-1.1zM152.6 156.5h1.1v1.1h-1.1zM133.6 148.5h1.1v1.1h-1.1zM153.1 158.5h1.1v1.1h-1.1zM142.1 158.4h1.1v1.1h-1.1zM142.9 153.6h1.1v1.1h-1.1zM150.5 149.7h1.1v1.1h-1.1zM162.0 137.6h1.1v1.1h-1.1zM135.4 162.9h1.1v1.1h-1.1zM146.0 173.3h1.1v1.1h-1.1zM149.1 167.5h1.1v1.1h-1.1zM151.3 156.5h1.1v1.1h-1.1zM135.7 153.0h1.1v1.1h-1.1zM149.1 160.0h1.1v1.1h-1.1zM139.4 164.3h1.1v1.1h-1.1zM145.5 148.7h1.1v1.1h-1.1zM147.3 157.0h1.1v1.1h-1.1zM140.6 148.0h1.1v1.1h-1.1zM145.2 172.3h1.1v1.1h-1.1zM134.4 134.5h1.1v1.1h-1.1zM142.8 152.9h1.1v1.1h-1.1zM154.2 144.7h1.1v1.1h-1.1zM147.9 160.5h1.1v1.1h-1.1zM153.4 153.2h1.1v1.1h-1.1zM141.9 154.5h1.1v1.1h-1.1zM144.1 152.6h1.1v1.1h-1.1zM142.5 162.9h1.1v1.1h-1.1zM145.5 155.6h1.1v1.1h-1.1zM151.0 156.0h1.1v1.1h-1.1zM150.4 145.6h1.1v1.1h-1.1zM147.3 158.1h1.1v1.1h-1.1zM143.6 152.4h1.1v1.1h-1.1zM139.8 166.5h1.1v1.1h-1.1zM147.0 151.7h1.1v1.1h-1.1zM144.2 149.0h1.1v1.1h-1.1zM148.0 159.0h1.1v1.1h-1.1zM142.7 150.6h1.1v1.1h-1.1zM150.1 148.3h1.1v1.1h-1.1zM155.8 160.1h1.1v1.1h-1.1zM142.9 158.8h1.1v1.1h-1.1zM134.4 159.9h1.1v1.1h-1.1zM141.5 164.6h1.1v1.1h-1.1zM153.4 151.9h1.1v1.1h-1.1zM156.4 156.5h1.1v1.1h-1.1zM143.4 165.8h1.1v1.1h-1.1zM153.7 153.3h1.1v1.1h-1.1zM148.7 152.7h1.1v1.1h-1.1zM141.8 150.8h1.1v1.1h-1.1zM151.8 142.9h1.1v1.1h-1.1zM149.3 151.0h1.1v1.1h-1.1zM143.1 167.1h1.1v1.1h-1.1zM149.9 154.7h1.1v1.1h-1.1zM160.2 146.2h1.1v1.1h-1.1zM145.5 165.1h1.1v1.1h-1.1zM137.6 159.6h1.1v1.1h-1.1zM142.6 170.4h1.1v1.1h-1.1zM151.3 162.7h1.1v1.1h-1.1zM137.5 153.2h1.1v1.1h-1.1zM155.9 165.6h1.1v1.1h-1.1zM142.4 154.6h1.1v1.1h-1.1zM135.1 156.1h1.1v1.1h-1.1zM142.3 144.2h1.1v1.1h-1.1zM139.1 162.4h1.1v1.1h-1.1zM140.9 132.0h1.1v1.1h-1.1zM160.7 155.6h1.1v1.1h-1.1zM145.3 146.9h1.1v1.1h-1.1zM152.8 164.0h1.1v1.1h-1.1zM150.6 161.8h1.1v1.1h-1.1zM151.6 161.5h1.1v1.1h-1.1zM143.9 165.2h1.1v1.1h-1.1zM148.8 152.8h1.1v1.1h-1.1zM151.6 141.5h1.1v1.1h-1.1zM148.4 151.6h1.1v1.1h-1.1zM136.2 160.1h1.1v1.1h-1.1zM157.3 169.7h1.1v1.1h-1.1zM151.5 151.3h1.1v1.1h-1.1zM138.1 152.6h1.1v1.1h-1.1zM141.8 158.2h1.1v1.1h-1.1zM156.3 165.9h1.1v1.1h-1.1zM148.3 160.7h1.1v1.1h-1.1zM135.8 161.4h1.1v1.1h-1.1zM148.8 151.2h1.1v1.1h-1.1zM146.4 155.4h1.1v1.1h-1.1zM151.1 153.7h1.1v1.1h-1.1zM153.7 158.8h1.1v1.1h-1.1zM141.4 168.3h1.1v1.1h-1.1zM145.6 157.0h1.1v1.1h-1.1zM138.2 165.8h1.1v1.1h-1.1zM145.6 161.7h1.1v1.1h-1.1zM144.4 159.2h1.1v1.1h-1.1zM139.1 151.9h1.1v1.1h-1.1zM138.9 153.1h1.1v1.1h-1.1zM152.0 153.7h1.1v1.1h-1.1zM145.8 158.6h1.1v1.1h-1.1zM156.0 165.7h1.1v1.1h-1.1zM134.2 166.4h1.1v1.1h-1.1zM138.0 142.9h1.1v1.1h-1.1zM145.6 170.2h1.1v1.1h-1.1zM143.2 146.1h1.1v1.1h-1.1zM144.2 157.9h1.1v1.1h-1.1zM155.0 159.1h1.1v1.1h-1.1zM144.6 153.0h1.1v1.1h-1.1zM146.6 161.0h1.1v1.1h-1.1zM140.4 154.2h1.1v1.1h-1.1zM147.9 176.1h1.1v1.1h-1.1zM152.7 138.9h1.1v1.1h-1.1zM142.1 159.5h1.1v1.1h-1.1zM142.5 166.2h1.1v1.1h-1.1zM143.9 161.0h1.1v1.1h-1.1zM150.2 153.5h1.1v1.1h-1.1zM143.6 153.2h1.1v1.1h-1.1zM139.4 155.9h1.1v1.1h-1.1zM142.0 156.0h1.1v1.1h-1.1zM137.2 168.9h1.1v1.1h-1.1zM147.7 168.9h1.1v1.1h-1.1zM142.9 153.0h1.1v1.1h-1.1zM149.0 160.2h1.1v1.1h-1.1zM147.2 163.9h1.1v1.1h-1.1zM147.9 166.9h1.1v1.1h-1.1zM141.6 164.6h1.1v1.1h-1.1zM123.6 155.6h1.1v1.1h-1.1zM145.5 152.5h1.1v1.1h-1.1zM146.4 156.0h1.1v1.1h-1.1zM150.3 148.9h1.1v1.1h-1.1zM142.1 159.3h1.1v1.1h-1.1zM143.7 152.7h1.1v1.1h-1.1zM149.4 159.1h1.1v1.1h-1.1zM144.0 149.7h1.1v1.1h-1.1zM148.7 163.7h1.1v1.1h-1.1zM149.6 161.8h1.1v1.1h-1.1zM145.8 149.8h1.1v1.1h-1.1zM146.2 155.4h1.1v1.1h-1.1zM142.1 158.1h1.1v1.1h-1.1zM165.4 155.8h1.1v1.1h-1.1zM143.2 162.2h1.1v1.1h-1.1zM142.4 152.5h1.1v1.1h-1.1zM143.7 155.7h1.1v1.1h-1.1zM150.8 162.0h1.1v1.1h-1.1zM137.8 152.5h1.1v1.1h-1.1zM139.6 158.2h1.1v1.1h-1.1zM141.7 165.0h1.1v1.1h-1.1zM159.0 156.4h1.1v1.1h-1.1zM146.4 163.2h1.1v1.1h-1.1zM144.2 143.8h1.1v1.1h-1.1zM148.9 159.8h1.1v1.1h-1.1zM134.6 153.8h1.1v1.1h-1.1zM144.0 150.7h1.1v1.1h-1.1zM148.5 144.6h1.1v1.1h-1.1zM135.6 165.2h1.1v1.1h-1.1zM150.3 156.5h1.1v1.1h-1.1zM146.5 159.1h1.1v1.1h-1.1zM143.0 175.9h1.1v1.1h-1.1zM141.7 160.8h1.1v1.1h-1.1zM138.1 160.4h1.1v1.1h-1.1zM157.4 158.0h1.1v1.1h-1.1zM143.8 142.4h1.1v1.1h-1.1zM154.3 152.2h1.1v1.1h-1.1zM146.7 162.6h1.1v1.1h-1.1zM140.3 156.1h1.1v1.1h-1.1zM156.0 151.3h1.1v1.1h-1.1zM144.5 156.6h1.1v1.1h-1.1zM136.8 151.4h1.1v1.1h-1.1zM149.1 174.4h1.1v1.1h-1.1zM140.4 156.2h1.1v1.1h-1.1zM149.1 154.8h1.1v1.1h-1.1zM142.9 154.4h1.1v1.1h-1.1zM144.8 149.5h1.1v1.1h-1.1zM145.1 155.4h1.1v1.1h-1.1zM131.9 155.4h1.1v1.1h-1.1zM145.1 157.2h1.1v1.1h-1.1zM131.0 170.9h1.1v1.1h-1.1zM148.8 143.5h1.1v1.1h-1.1zM152.3 163.2h1.1v1.1h-1.1zM141.2 166.4h1.1v1.1h-1.1zM151.4 149.2h1.1v1.1h-1.1zM141.6 159.6h1.1v1.1h-1.1zM157.4 155.1h1.1v1.1h-1.1zM155.1 159.9h1.1v1.1h-1.1zM140.0 167.1h1.1v1.1h-1.1zM141.1 154.3h1.1v1.1h-1.1zM133.6 151.8h1.1v1.1h-1.1zM153.4 147.4h1.1v1.1h-1.1zM134.5 168.1h1.1v1.1h-1.1zM151.6 151.5h1.1v1.1h-1.1zM143.2 172.8h1.1v1.1h-1.1zM137.6 163.7h1.1v1.1h-1.1zM149.4 160.6h1.1v1.1h-1.1zM144.8 163.4h1.1v1.1h-1.1zM140.5 156.7h1.1v1.1h-1.1zM155.4 157.2h1.1v1.1h-1.1zM146.2 164.6h1.1v1.1h-1.1zM139.1 137.7h1.1v1.1h-1.1zM154.9 161.2h1.1v1.1h-1.1zM150.3 154.0h1.1v1.1h-1.1zM145.8 163.7h1.1v1.1h-1.1zM146.8 152.3h1.1v1.1h-1.1zM143.0 143.4h1.1v1.1h-1.1zM131.6 150.8h1.1v1.1h-1.1zM140.0 176.9h1.1v1.1h-1.1zM144.1 146.7h1.1v1.1h-1.1zM159.5 152.9h1.1v1.1h-1.1zM142.8 164.8h1.1v1.1h-1.1zM151.4 166.6h1.1v1.1h-1.1zM152.2 150.0h1.1v1.1h-1.1zM143.1 152.6h1.1v1.1h-1.1zM151.0 155.8h1.1v1.1h-1.1zM153.2 160.7h1.1v1.1h-1.1zM152.1 139.3h1.1v1.1h-1.1zM149.3 149.0h1.1v1.1h-1.1zM152.7 157.1h1.1v1.1h-1.1zM150.5 163.9h1.1v1.1h-1.1zM144.3 151.0h1.1v1.1h-1.1zM151.7 170.0h1.1v1.1h-1.1zM144.1 143.3h1.1v1.1h-1.1zM154.5 146.6h1.1v1.1h-1.1zM149.6 140.3h1.1v1.1h-1.1zM153.2 162.1h1.1v1.1h-1.1zM146.1 146.9h1.1v1.1h-1.1zM129.1 153.8h1.1v1.1h-1.1zM150.8 160.3h1.1v1.1h-1.1zM137.4 162.4h1.1v1.1h-1.1zM151.4 144.8h1.1v1.1h-1.1zM137.4 147.6h1.1v1.1h-1.1zM155.6 153.8h1.1v1.1h-1.1zM156.3 170.2h1.1v1.1h-1.1zM136.5 153.7h1.1v1.1h-1.1zM168.2 161.5h1.1v1.1h-1.1zM151.0 161.7h1.1v1.1h-1.1zM146.3 151.3h1.1v1.1h-1.1zM148.1 161.8h1.1v1.1h-1.1zM149.5 165.6h1.1v1.1h-1.1zM141.2 148.7h1.1v1.1h-1.1zM151.6 160.0h1.1v1.1h-1.1zM136.0 147.5h1.1v1.1h-1.1zM162.7 157.4h1.1v1.1h-1.1zM144.6 160.4h1.1v1.1h-1.1zM152.0 146.5h1.1v1.1h-1.1zM140.0 169.9h1.1v1.1h-1.1zM140.5 157.0h1.1v1.1h-1.1zM156.2 158.4h1.1v1.1h-1.1zM147.7 149.9h1.1v1.1h-1.1zM140.2 166.3h1.1v1.1h-1.1zM150.2 160.5h1.1v1.1h-1.1zM141.2 170.9h1.1v1.1h-1.1zM158.0 161.0h1.1v1.1h-1.1zM143.0 147.5h1.1v1.1h-1.1zM157.6 182.0h1.1v1.1h-1.1zM142.3 158.5h1.1v1.1h-1.1zM135.0 148.4h1.1v1.1h-1.1zM158.0 166.4h1.1v1.1h-1.1zM152.7 155.7h1.1v1.1h-1.1zM140.6 153.7h1.1v1.1h-1.1zM153.4 162.1h1.1v1.1h-1.1zM150.0 163.8h1.1v1.1h-1.1zM141.8 157.7h1.1v1.1h-1.1zM142.5 147.5h1.1v1.1h-1.1zM151.9 146.9h1.1v1.1h-1.1zM156.1 161.0h1.1v1.1h-1.1zM138.9 151.0h1.1v1.1h-1.1zM138.3 164.2h1.1v1.1h-1.1zM150.3 158.5h1.1v1.1h-1.1zM157.4 159.8h1.1v1.1h-1.1zM146.5 149.4h1.1v1.1h-1.1zM138.4 159.3h1.1v1.1h-1.1zM152.1 157.6h1.1v1.1h-1.1zM148.5 158.3h1.1v1.1h-1.1zM157.4 161.3h1.1v1.1h-1.1zM154.5 157.3h1.1v1.1h-1.1zM143.5 143.3h1.1v1.1h-1.1zM139.0 159.6h1.1v1.1h-1.1zM138.6 165.3h1.1v1.1h-1.1zM146.9 141.0h1.1v1.1h-1.1zM148.4 153.1h1.1v1.1h-1.1zM157.6 165.0h1.1v1.1h-1.1zM139.9 156.7h1.1v1.1h-1.1zM139.6 142.3h1.1v1.1h-1.1zM145.2 161.4h1.1v1.1h-1.1zM141.6 166.1h1.1v1.1h-1.1zM133.9 159.6h1.1v1.1h-1.1zM150.3 144.7h1.1v1.1h-1.1zM149.7 154.9h1.1v1.1h-1.1zM156.5 145.2h1.1v1.1h-1.1zM151.3 155.3h1.1v1.1h-1.1zM152.5 180.4h1.1v1.1h-1.1zM144.5 154.2h1.1v1.1h-1.1zM146.0 156.2h1.1v1.1h-1.1zM153.8 153.4h1.1v1.1h-1.1zM141.7 155.6h1.1v1.1h-1.1zM144.3 169.1h1.1v1.1h-1.1zM143.9 151.2h1.1v1.1h-1.1zM149.4 162.0h1.1v1.1h-1.1zM140.4 152.7h1.1v1.1h-1.1zM136.5 161.7h1.1v1.1h-1.1zM142.1 150.1h1.1v1.1h-1.1zM145.1 148.5h1.1v1.1h-1.1zM145.4 164.1h1.1v1.1h-1.1zM145.0 174.9h1.1v1.1h-1.1zM149.7 142.7h1.1v1.1h-1.1zM147.0 151.5h1.1v1.1h-1.1zM152.7 155.9h1.1v1.1h-1.1zM150.7 145.3h1.1v1.1h-1.1zM141.5 157.0h1.1v1.1h-1.1zM144.1 156.4h1.1v1.1h-1.1zM158.6 148.0h1.1v1.1h-1.1zM136.6 166.3h1.1v1.1h-1.1zM148.8 151.1h1.1v1.1h-1.1zM147.4 164.9h1.1v1.1h-1.1zM140.3 163.7h1.1v1.1h-1.1zM143.3 168.4h1.1v1.1h-1.1zM129.5 170.0h1.1v1.1h-1.1zM144.0 166.6h1.1v1.1h-1.1zM141.9 160.4h1.1v1.1h-1.1zM153.4 159.0h1.1v1.1h-1.1zM145.0 150.4h1.1v1.1h-1.1zM140.7 162.8h1.1v1.1h-1.1zM139.3 161.8h1.1v1.1h-1.1zM147.1 155.1h1.1v1.1h-1.1zM142.7 152.3h1.1v1.1h-1.1zM132.6 159.9h1.1v1.1h-1.1zM141.7 166.7h1.1v1.1h-1.1zM142.7 149.2h1.1v1.1h-1.1zM146.7 153.5h1.1v1.1h-1.1zM142.1 138.5h1.1v1.1h-1.1zM141.9 150.6h1.1v1.1h-1.1zM149.8 163.9h1.1v1.1h-1.1zM138.7 162.2h1.1v1.1h-1.1zM140.9 149.9h1.1v1.1h-1.1zM145.0 148.9h1.1v1.1h-1.1zM149.0 170.8h1.1v1.1h-1.1zM139.3 159.0h1.1v1.1h-1.1zM145.7 161.0h1.1v1.1h-1.1zM140.9 166.8h1.1v1.1h-1.1zM149.9 162.3h1.1v1.1h-1.1zM160.8 153.5h1.1v1.1h-1.1zM145.1 162.9h1.1v1.1h-1.1zM153.0 158.9h1.1v1.1h-1.1zM148.7 170.1h1.1v1.1h-1.1zM145.7 154.8h1.1v1.1h-1.1zM150.7 136.5h1.1v1.1h-1.1zM149.5 162.4h1.1v1.1h-1.1zM161.3 147.8h1.1v1.1h-1.1zM147.9 161.0h1.1v1.1h-1.1zM152.8 147.9h1.1v1.1h-1.1zM126.7 154.0h1.1v1.1h-1.1zM147.8 159.6h1.1v1.1h-1.1zM143.4 149.3h1.1v1.1h-1.1zM147.3 149.0h1.1v1.1h-1.1zM140.1 158.2h1.1v1.1h-1.1zM151.7 148.4h1.1v1.1h-1.1zM136.3 146.4h1.1v1.1h-1.1zM151.4 155.1h1.1v1.1h-1.1zM150.0 163.0h1.1v1.1h-1.1zM154.5 155.4h1.1v1.1h-1.1zM146.0 164.4h1.1v1.1h-1.1zM145.2 148.3h1.1v1.1h-1.1zM151.3 170.9h1.1v1.1h-1.1zM140.2 160.5h1.1v1.1h-1.1zM149.1 159.4h1.1v1.1h-1.1zM145.3 149.6h1.1v1.1h-1.1zM137.5 163.8h1.1v1.1h-1.1zM145.6 161.9h1.1v1.1h-1.1zM133.4 163.2h1.1v1.1h-1.1zM152.2 160.6h1.1v1.1h-1.1zM159.4 161.1h1.1v1.1h-1.1zM148.9 149.3h1.1v1.1h-1.1zM141.7 160.3h1.1v1.1h-1.1zM146.8 167.2h1.1v1.1h-1.1zM142.0 160.5h1.1v1.1h-1.1zM140.9 154.4h1.1v1.1h-1.1zM145.7 137.6h1.1v1.1h-1.1zM152.8 150.2h1.1v1.1h-1.1zM140.6 157.1h1.1v1.1h-1.1zM140.4 147.6h1.1v1.1h-1.1zM130.0 153.7h1.1v1.1h-1.1zM151.1 153.8h1.1v1.1h-1.1zM151.3 170.3h1.1v1.1h-1.1zM151.2 154.9h1.1v1.1h-1.1zM149.9 163.7h1.1v1.1h-1.1zM145.6 166.3h1.1v1.1h-1.1zM151.0 147.2h1.1v1.1h-1.1zM144.6 157.3h1.1v1.1h-1.1zM140.6 143.3h1.1v1.1h-1.1zM146.1 160.9h1.1v1.1h-1.1zM139.1 159.8h1.1v1.1h-1.1zM142.0 145.3h1.1v1.1h-1.1zM151.9 158.9h1.1v1.1h-1.1zM137.1 140.9h1.1v1.1h-1.1zM148.1 149.3h1.1v1.1h-1.1zM142.8 143.9h1.1v1.1h-1.1zM141.1 175.5h1.1v1.1h-1.1zM133.3 168.5h1.1v1.1h-1.1zM142.3 145.4h1.1v1.1h-1.1zM152.1 155.4h1.1v1.1h-1.1zM142.8 165.5h1.1v1.1h-1.1zM158.4 161.9h1.1v1.1h-1.1zM140.9 146.1h1.1v1.1h-1.1zM144.0 164.6h1.1v1.1h-1.1zM148.4 159.2h1.1v1.1h-1.1zM156.6 139.1h1.1v1.1h-1.1zM151.7 158.0h1.1v1.1h-1.1zM145.6 159.9h1.1v1.1h-1.1zM145.9 147.0h1.1v1.1h-1.1zM132.8 157.0h1.1v1.1h-1.1zM138.5 154.3h1.1v1.1h-1.1zM135.3 154.2h1.1v1.1h-1.1zM149.9 153.8h1.1v1.1h-1.1zM149.9 150.8h1.1v1.1h-1.1zM142.8 157.6h1.1v1.1h-1.1zM145.6 160.6h1.1v1.1h-1.1zM145.7 165.1h1.1v1.1h-1.1zM156.0 164.1h1.1v1.1h-1.1zM152.0 161.0h1.1v1.1h-1.1zM138.5 162.9h1.1v1.1h-1.1zM153.7 148.7h1.1v1.1h-1.1zM147.7 143.8h1.1v1.1h-1.1zM146.4 169.9h1.1v1.1h-1.1zM148.5 151.3h1.1v1.1h-1.1zM152.7 162.7h1.1v1.1h-1.1zM146.6 164.2h1.1v1.1h-1.1zM143.5 165.9h1.1v1.1h-1.1zM132.2 159.1h1.1v1.1h-1.1zM140.7 159.2h1.1v1.1h-1.1zM143.9 142.4h1.1v1.1h-1.1zM151.7 146.2h1.1v1.1h-1.1zM131.2 152.2h1.1v1.1h-1.1z" fill="rgb(246,48,100)"/>
<path d="M159.6 146.4h1.1v1.1h-1.1zM172.4 111.8h1.1v1.1h-1.1zM159.6 117.3h1.1v1.1h-1.1zM164.1 109.0h1.1v1.1h-1.1zM160.2 129.9h1.1v1.1h-1.1zM161.1 140.9h1.1v1.1h-1.1zM162.5 111.6h1.1v1.1h-1.1zM162.6 121.6h1.1v1.1h-1.1zM153.5 138.1h1.1v1.1h-1.1zM145.9 120.1h1.1v1.1h-1.1zM150.1 126.8h1.1v1.1h-1.1zM158.7 130.7h1.1v1.1h-1.1zM162.0 119.8h1.1v1.1h-1.1zM153.5 124.6h1.1v1.1h-1.1zM158.5 126.0h1.1v1.1h-1.1zM152.1 121.6h1.1v1.1h-1.1zM161.5 116.1h1.1v1.1h-1.1zM149.6 129.4h1.1v1.1h-1.1zM170.6 132.8h1.1v1.1h-1.1zM145.1 139.6h1.1v1.1h-1.1zM163.5 118.0h1.1v1.1h-1.1zM157.4 131.2h1.1v1.1h-1.1zM166.2 119.9h1.1v1.1h-1.1zM164.7 125.1h1.1v1.1h-1.1zM162.5 115.7h1.1v1.1h-1.1zM163.9 131.3h1.1v1.1h-1.1zM150.1 129.1h1.1v1.1h-1.1zM158.4 137.3h1.1v1.1h-1.1zM168.0 110.4h1.1v1.1h-1.1zM150.4 123.7h1.1v1.1h-1.1zM161.9 115.1h1.1v1.1h-1.1zM162.1 133.1h1.1v1.1h-1.1zM149.5 111.1h1.1v1.1h-1.1zM169.9 111.4h1.1v1.1h-1.1zM164.7 146.3h1.1v1.1h-1.1zM147.8 127.7h1.1v1.1h-1.1zM167.6 115.1h1.1v1.1h-1.1zM140.2 136.8h1.1v1.1h-1.1zM160.5 109.2h1.1v1.1h-1.1zM160.2 138.5h1.1v1.1h-1.1zM159.6 125.9h1.1v1.1h-1.1zM155.8 107.6h1.1v1.1h-1.1zM159.9 131.9h1.1v1.1h-1.1zM150.4 113.7h1.1v1.1h-1.1zM152.9 119.3h1.1v1.1h-1.1zM151.4 139.2h1.1v1.1h-1.1zM153.5 136.1h1.1v1.1h-1.1zM154.1 135.1h1.1v1.1h-1.1zM152.8 134.1h1.1v1.1h-1.1zM157.3 107.4h1.1v1.1h-1.1zM167.2 115.2h1.1v1.1h-1.1zM144.7 137.5h1.1v1.1h-1.1zM154.2 125.6h1.1v1.1h-1.1zM156.7 131.0h1.1v1.1h-1.1zM163.7 125.0h1.1v1.1h-1.1zM147.6 133.0h1.1v1.1h-1.1zM157.5 120.4h1.1v1.1h-1.1zM158.4 133.7h1.1v1.1h-1.1zM164.5 105.8h1.1v1.1h-1.1zM169.8 129.3h1.1v1.1h-1.1zM146.0 128.0h1.1v1.1h-1.1zM161.2 139.6h1.1v1.1h-1.1zM157.6 131.1h1.1v1.1h-1.1zM154.0 95.7h1.1v1.1h-1.1zM163.8 130.5h1.1v1.1h-1.1zM162.9 111.1h1.1v1.1h-1.1zM169.1 123.0h1.1v1.1h-1.1zM166.2 113.5h1.1v1.1h-1.1zM142.4 123.2h1.1v1.1h-1.1zM163.4 115.6h1.1v1.1h-1.1zM173.6 125.4h1.1v1.1h-1.1zM161.8 139.4h1.1v1.1h-1.1zM146.1 127.4h1.1v1.1h-1.1zM150.6 126.1h1.1v1.1h-1.1zM152.8 135.3h1.1v1.1h-1.1zM150.4 129.9h1.1v1.1h-1.1zM158.0 138.6h1.1v1.1h-1.1zM149.5 131.4h1.1v1.1h-1.1zM158.1 138.2h1.1v1.1h-1.1zM148.1 102.8h1.1v1.1h-1.1zM146.1 116.7h1.1v1.1h-1.1zM150.1 119.0h1.1v1.1h-1.1zM151.7 135.4h1.1v1.1h-1.1zM164.0 122.7h1.1v1.1h-1.1zM161.2 108.4h1.1v1.1h-1.1zM153.5 122.4h1.1v1.1h-1.1zM147.3 143.5h1.1v1.1h-1.1zM142.7 114.7h1.1v1.1h-1.1zM153.8 133.8h1.1v1.1h-1.1zM164.2 109.9h1.1v1.1h-1.1zM149.0 128.3h1.1v1.1h-1.1zM153.9 136.6h1.1v1.1h-1.1zM160.9 124.8h1.1v1.1h-1.1zM152.2 131.8h1.1v1.1h-1.1zM153.1 121.7h1.1v1.1h-1.1zM165.2 123.9h1.1v1.1h-1.1zM167.6 101.8h1.1v1.1h-1.1zM151.6 124.1h1.1v1.1h-1.1zM160.5 125.3h1.1v1.1h-1.1zM159.7 117.7h1.1v1.1h-1.1zM153.8 133.0h1.1v1.1h-1.1zM155.0 110.5h1.1v1.1h-1.1zM157.2 145.2h1.1v1.1h-1.1zM167.5 122.3h1.1v1.1h-1.1zM156.3 121.2h1.1v1.1h-1.1zM157.7 134.7h1.1v1.1h-1.1zM150.2 130.4h1.1v1.1h-1.1zM154.5 140.9h1.1v1.1h-1.1zM154.7 128.9h1.1v1.1h-1.1zM147.1 118.4h1.1v1.1h-1.1zM164.7 115.2h1.1v1.1h-1.1zM151.7 123.9h1.1v1.1h-1.1zM157.5 116.5h1.1v1.1h-1.1zM151.6 130.1h1.1v1.1h-1.1zM162.7 137.8h1.1v1.1h-1.1zM154.4 139.8h1.1v1.1h-1.1zM143.7 134.0h1.1v1.1h-1.1zM157.6 125.5h1.1v1.1h-1.1zM152.8 124.8h1.1v1.1h-1.1zM161.6 120.8h1.1v1.1h-1.1zM149.6 128.4h1.1v1.1h-1.1zM162.8 140.3h1.1v1.1h-1.1zM165.8 122.2h1.1v1.1h-1.1zM155.0 121.6h1.1v1.1h-1.1zM170.0 125.8h1.1v1.1h-1.1zM161.6 136.6h1.1v1.1h-1.1zM150.2 129.0h1.1v1.1h-1.1zM163.2 135.9h1.1v1.1h-1.1zM155.1 137.6h1.1v1.1h-1.1zM149.7 118.9h1.1v1.1h-1.1zM154.9 133.7h1.1v1.1h-1.1zM166.6 123.3h1.1v1.1h-1.1zM153.5 138.5h1.1v1.1h-1.1zM166.0 123.2h1.1v1.1h-1.1zM152.3 121.4h1.1v1.1h-1.1zM166.6 104.4h1.1v1.1h-1.1zM166.3 127.5h1.1v1.1h-1.1zM158.7 142.9h1.1v1.1h-1.1zM158.9 111.8h1.1v1.1h-1.1zM141.3 139.0h1.1v1.1h-1.1zM152.9 124.9h1.1v1.1h-1.1zM150.0 118.8h1.1v1.1h-1.1zM157.0 132.1h1.1v1.1h-1.1zM159.9 116.7h1.1v1.1h-1.1zM156.4 123.4h1.1v1.1h-1.1zM166.2 123.3h1.1v1.1h-1.1zM147.9 127.9h1.1v1.1h-1.1zM147.2 137.2h1.1v1.1h-1.1zM166.2 125.6h1.1v1.1h-1.1zM152.4 132.0h1.1v1.1h-1.1zM143.5 133.2h1.1v1.1h-1.1zM164.4 131.5h1.1v1.1h-1.1zM159.5 120.7h1.1v1.1h-1.1zM150.4 128.6h1.1v1.1h-1.1zM160.6 121.8h1.1v1.1h-1.1zM164.3 125.3h1.1v1.1h-1.1zM166.0 119.3h1.1v1.1h-1.1zM157.0 133.4h1.1v1.1h-1.1zM164.0 126.0h1.1v1.1h-1.1zM156.8 128.1h1.1v1.1h-1.1zM166.6 120.6h1.1v1.1h-1.1zM161.1 109.4h1.1v1.1h-1.1zM166.5 132.0h1.1v1.1h-1.1zM155.2 125.0h1.1v1.1h-1.1zM162.7 125.3h1.1v1.1h-1.1zM163.1 113.6h1.1v1.1h-1.1zM145.5 135.4h1.1v1.1h-1.1zM162.3 111.5h1.1v1.1h-1.1zM155.2 134.4h1.1v1.1h-1.1zM169.0 122.4h1.1v1.1h-1.1zM160.5 119.4h1.1v1.1h-1.1zM149.5 113.8h1.1v1.1h-1.1zM158.2 121.5h1.1v1.1h-1.1zM156.9 121.3h1.1v1.1h-1.1zM151.2 148.5h1.1v1.1h-1.1zM157.3 137.5h1.1v1.1h-1.1zM173.5 117.4h1.1v1.1h-1.1zM151.9 116.5h1.1v1.1h-1.1zM145.5 134.4h1.1v1.1h-1.1zM151.6 117.9h1.1v1.1h-1.1zM165.5 120.6h1.1v1.1h-1.1zM156.0 135.1h1.1v1.1h-1.1zM149.1 136.8h1.1v1.1h-1.1zM159.7 132.2h1.1v1.1h-1.1zM159.1 117.3h1.1v1.1h-1.1zM170.7 125.4h1.1v1.1h-1.1zM155.7 125.3h1.1v1.1h-1.1zM154.2 132.0h1.1v1.1h-1.1zM152.3 125.1h1.1v1.1h-1.1zM166.3 118.6h1.1v1.1h-1.1zM160.7 114.8h1.1v1.1h-1.1zM155.3 128.8h1.1v1.1h-1.1zM145.9 143.2h1.1v1.1h-1.1zM144.6 135.2h1.1v1.1h-1.1zM155.0 129.6h1.1v1.1h-1.1zM149.0 130.7h1.1v1.1h-1.1zM164.7 112.1h1.1v1.1h-1.1zM156.6 124.3h1.1v1.1h-1.1zM166.0 116.9h1.1v1.1h-1.1zM160.5 131.5h1.1v1.1h-1.1zM170.6 117.3h1.1v1.1h-1.1zM171.3 103.2h1.1v1.1h-1.1zM149.9 121.1h1.1v1.1h-1.1zM147.5 131.6h1.1v1.1h-1.1zM153.5 126.6h1.1v1.1h-1.1zM154.5 133.3h1.1v1.1h-1.1zM149.4 135.1h1.1v1.1h-1.1zM154.4 130.5h1.1v1.1h-1.1zM159.1 133.0h1.1v1.1h-1.1zM153.8 120.0h1.1v1.1h-1.1zM152.6 128.0h1.1v1.1h-1.1zM164.9 106.6h1.1v1.1h-1.1zM141.8 130.0h1.1v1.1h-1.1zM148.5 128.8h1.1v1.1h-1.1zM150.8 128.9h1.1v1.1h-1.1zM161.9 117.3h1.1v1.1h-1.1zM160.5 140.4h1.1v1.1h-1.1zM166.0 110.6h1.1v1.1h-1.1zM150.9 130.0h1.1v1.1h-1.1zM165.3 120.9h1.1v1.1h-1.1zM144.2 111.9h1.1v1.1h-1.1zM163.6 120.5h1.1v1.1h-1.1zM166.9 126.7h1.1v1.1h-1.1zM170.5 119.2h1.1v1.1h-1.1zM154.3 134.0h1.1v1.1h-1.1zM140.8 157.9h1.1v1.1h-1.1zM165.9 125.3h1.1v1.1h-1.1zM161.0 124.6h1.1v1.1h-1.1zM151.6 139.0h1.1v1.1h-1.1zM152.9 143.4h1.1v1.1h-1.1zM153.9 135.2h1.1v1.1h-1.1zM157.1 139.4h1.1v1.1h-1.1zM153.6 130.6h1.1v1.1h-1.1zM164.0 113.9h1.1v1.1h-1.1zM161.1 131.5h1.1v1.1h-1.1zM149.9 132.0h1.1v1.1h-1.1zM164.1 124.8h1.1v1.1h-1.1zM155.7 141.2h1.1v1.1h-1.1zM159.0 128.3h1.1v1.1h-1.1zM158.8 117.6h1.1v1.1h-1.1zM163.9 127.7h1.1v1.1h-1.1zM160.3 97.4h1.1v1.1h-1.1zM158.9 120.5h1.1v1.1h-1.1zM155.6 126.4h1.1v1.1h-1.1zM154.2 130.3h1.1v1.1h-1.1zM164.4 124.7h1.1v1.1h-1.1zM160.5 122.3h1.1v1.1h-1.1zM162.6 126.2h1.1v1.1h-1.1zM154.4 129.2h1.1v1.1h-1.1zM158.9 121.2h1.1v1.1h-1.1zM156.3 133.9h1.1v1.1h-1.1zM158.3 121.3h1.1v1.1h-1.1zM164.0 129.9h1.1v1.1h-1.1zM154.6 116.4h1.1v1.1h-1.1zM152.1 137.3h1.1v1.1h-1.1zM162.3 135.9h1.1v1.1h-1.1zM150.7 120.9h1.1v1.1h-1.1zM162.5 137.3h1.1v1.1h-1.1zM156.0 135.1h1.1v1.1h-1.1zM154.2 129.9h1.1v1.1h-1.1zM162.5 120.4h1.1v1.1h-1.1zM164.4 125.6h1.1v1.1h-1.1zM164.1 119.2h1.1v1.1h-1.1zM159.1 150.9h1.1v1.1h-1.1zM151.5 132.7h1.1v1.1h-1.1zM145.6 143.1h1.1v1.1h-1.1zM150.0 121.4h1.1v1.1h-1.1zM148.7 142.4h1.1v1.1h-1.1zM149.6 128.5h1.1v1.1h-1.1zM162.8 132.2h1.1v1.1h-1.1zM153.3 129.1h1.1v1.1h-1.1zM151.9 132.3h1.1v1.1h-1.1zM159.8 130.4h1.1v1.1h-1.1zM164.0 124.8h1.1v1.1h-1.1zM154.4 128.8h1.1v1.1h-1.1zM161.7 123.9h1.1v1.1h-1.1zM158.6 133.9h1.1v1.1h-1.1zM157.9 125.7h1.1v1.1h-1.1zM150.1 138.3h1.1v1.1h-1.1zM147.5 140.8h1.1v1.1h-1.1zM159.5 112.3h1.1v1.1h-1.1zM160.6 129.6h1.1v1.1h-1.1zM154.6 124.6h1.1v1.1h-1.1zM153.5 132.7h1.1v1.1h-1.1zM152.9 114.9h1.1v1.1h-1.1zM162.7 134.3h1.1v1.1h-1.1zM151.1 140.6h1.1v1.1h-1.1zM147.4 145.5h1.1v1.1h-1.1zM151.6 128.2h1.1v1.1h-1.1zM153.8 141.4h1.1v1.1h-1.1zM159.3 132.9h1.1v1.1h-1.1zM158.0 137.4h1.1v1.1h-1.1zM165.3 123.5h1.1v1.1h-1.1zM153.1 128.4h1.1v1.1h-1.1zM152.5 108.0h1.1v1.1h-1.1zM157.6 131.4h1.1v1.1h-1.1zM157.1 118.7h1.1v1.1h-1.1zM150.9 126.8h1.1v1.1h-1.1zM168.6 126.8h1.1v1.1h-1.1zM159.7 126.7h1.1v1.1h-1.1zM152.9 133.6h1.1v1.1h-1.1zM149.1 118.4h1.1v1.1h-1.1zM158.6 128.4h1.1v1.1h-1.1zM141.9 139.9h1.1v1.1h-1.1zM173.6 125.8h1.1v1.1h-1.1zM161.2 133.1h1.1v1.1h-1.1zM161.6 114.4h1.1v1.1h-1.1zM160.2 131.6h1.1v1.1h-1.1zM148.3 134.2h1.1v1.1h-1.1zM149.8 136.1h1.1v1.1h-1.1zM159.1 123.1h1.1v1.1h-1.1zM165.3 144.5h1.1v1.1h-1.1zM164.1 119.8h1.1v1.1h-1.1zM152.9 131.5h1.1v1.1h-1.1zM155.7 119.8h1.1v1.1h-1.1zM158.8 130.6h1.1v1.1h-1.1zM146.5 132.2h1.1v1.1h-1.1zM150.9 146.5h1.1v1.1h-1.1zM157.1 125.7h1.1v1.1h-1.1zM150.7 131.5h1.1v1.1h-1.1zM154.6 127.4h1.1v1.1h-1.1zM159.3 142.3h1.1v1.1h-1.1zM159.4 125.0h1.1v1.1h-1.1zM159.3 117.0h1.1v1.1h-1.1zM163.4 135.7h1.1v1.1h-1.1zM152.7 113.2h1.1v1.1h-1.1zM148.2 140.7h1.1v1.1h-1.1zM148.7 123.3h1.1v1.1h-1.1zM161.2 117.1h1.1v1.1h-1.1zM150.5 140.6h1.1v1.1h-1.1zM168.5 115.7h1.1v1.1h-1.1zM159.5 127.7h1.1v1.1h-1.1zM167.5 117.6h1.1v1.1h-1.1zM155.4 133.6h1.1v1.1h-1.1zM150.3 124.2h1.1v1.1h-1.1zM155.3 130.7h1.1v1.1h-1.1zM145.3 150.3h1.1v1.1h-1.1zM164.2 118.2h1.1v1.1h-1.1zM155.5 115.0h1.1v1.1h-1.1zM157.4 127.6h1.1v1.1h-1.1zM160.5 131.3h1.1v1.1h-1.1zM154.2 121.3h1.1v1.1h-1.1zM158.3 135.1h1.1v1.1h-1.1zM150.6 119.6h1.1v1.1h-1.1zM164.0 122.7h1.1v1.1h-1.1zM160.3 119.1h1.1v1.1h-1.1zM164.9 126.3h1.1v1.1h-1.1zM152.8 130.5h1.1v1.1h-1.1zM155.3 129.5h1.1v1.1h-1.1zM164.6 129.7h1.1v1.1h-1.1zM153.0 141.9h1.1v1.1h-1.1zM156.8 125.4h1.1v1.1h-1.1zM166.5 117.8h1.1v1.1h-1.1zM164.9 128.5h1.1v1.1h-1.1zM154.5 122.0h1.1v1.1h-1.1zM150.5 132.7h1.1v1.1h-1.1zM159.8 106.6h1.1v1.1h-1.1zM151.0 132.3h1.1v1.1h-1.1zM157.5 120.5h1.1v1.1h-1.1zM146.9 135.6h1.1v1.1h-1.1zM151.6 131.4h1.1v1.1h-1.1zM145.6 120.1h1.1v1.1h-1.1zM152.4 122.4h1.1v1.1h-1.1zM159.2 123.1h1.1v1.1h-1.1zM155.9 138.2h1.1v1.1h-1.1zM161.1 116.1h1.1v1.1h-1.1zM165.1 122.2h1.1v1.1h-1.1zM153.6 136.9h1.1v1.1h-1.1zM158.1 125.6h1.1v1.1h-1.1zM159.4 114.9h1.1v1.1h-1.1zM158.2 114.4h1.1v1.1h-1.1zM161.0 123.3h1.1v1.1h-1.1zM153.7 136.7h1.1v1.1h-1.1zM161.0 131.4h1.1v1.1h-1.1zM159.9 135.3h1.1v1.1h-1.1zM155.0 132.9h1.1v1.1h-1.1zM166.3 127.2h1.1v1.1h-1.1zM163.4 112.5h1.1v1.1h-1.1zM151.5 126.3h1.1v1.1h-1.1zM153.7 128.3h1.1v1.1h-1.1zM155.8 124.7h1.1v1.1h-1.1zM158.6 121.0h1.1v1.1h-1.1zM163.3 121.5h1.1v1.1h-1.1zM153.4 139.0h1.1v1.1h-1.1zM159.6 121.4h1.1v1.1h-1.1zM152.1 131.3h1.1v1.1h-1.1zM163.3 121.7h1.1v1.1h-1.1zM147.0 144.6h1.1v1.1h-1.1zM147.2 139.6h1.1v1.1h-1.1zM160.1 121.3h1.1v1.1h-1.1zM156.6 123.1h1.1v1.1h-1.1zM153.7 129.8h1.1v1.1h-1.1zM143.3 133.6h1.1v1.1h-1.1zM162.3 120.3h1.1v1.1h-1.1zM142.2 139.8h1.1v1.1h-1.1zM146.2 126.6h1.1v1.1h-1.1zM164.1 116.7h1.1v1.1h-1.1zM169.1 114.7h1.1v1.1h-1.1zM149.9 111.4h1.1v1.1h-1.1zM147.5 138.4h1.1v1.1h-1.1zM143.6 142.3h1.1v1.1h-1.1zM155.0 136.7h1.1v1.1h-1.1zM162.5 120.7h1.1v1.1h-1.1zM153.7 130.6h1.1v1.1h-1.1zM153.4 146.6h1.1v1.1h-1.1zM155.5 112.2h1.1v1.1h-1.1zM153.5 111.8h1.1v1.1h-1.1zM154.8 129.5h1.1v1.1h-1.1zM168.6 131.7h1.1v1.1h-1.1zM152.7 126.9h1.1v1.1h-1.1zM170.9 126.0h1.1v1.1h-1.1zM150.0 129.7h1.1v1.1h-1.1zM159.2 135.3h1.1v1.1h-1.1zM157.7 137.7h1.1v1.1h-1.1zM162.6 148.2h1.1v1.1h-1.1zM162.2 132.7h1.1v1.1h-1.1zM153.9 119.4h1.1v1.1h-1.1zM150.3 118.7h1.1v1.1h-1.1zM155.4 135.2h1.1v1.1h-1.1zM145.3 137.5h1.1v1.1h-1.1zM161.6 108.7h1.1v1.1h-1.1zM161.9 118.7h1.1v1.1h-1.1zM151.8 124.4h1.1v1.1h-1.1zM149.9 125.1h1.1v1.1h-1.1zM154.6 137.8h1.1v1.1h-1.1zM154.9 113.3h1.1v1.1h-1.1zM174.8 126.1h1.1v1.1h-1.1zM165.6 128.2h1.1v1.1h-1.1zM148.0 146.6h1.1v1.1h-1.1zM163.6 124.5h1.1v1.1h-1.1zM153.2 133.4h1.1v1.1h-1.1zM154.4 131.8h1.1v1.1h-1.1zM155.4 125.0h1.1v1.1h-1.1zM159.2 125.9h1.1v1.1h-1.1zM148.3 125.3h1.1v1.1h-1.1zM152.1 121.3h1.1v1.1h-1.1zM157.5 116.0h1.1v1.1h-1.1zM173.5 116.4h1.1v1.1h-1.1zM168.2 117.5h1.1v1.1h-1.1zM151.2 134.4h1.1v1.1h-1.1zM156.5 128.9h1.1v1.1h-1.1zM166.7 137.1h1.1v1.1h-1.1zM164.1 131.4h1.1v1.1h-1.1zM157.3 127.5h1.1v1.1h-1.1zM176.9 100.4h1.1v1.1h-1.1zM157.9 132.7h1.1v1.1h-1.1zM145.8 125.8h1.1v1.1h-1.1zM158.5 117.3h1.1v1.1h-1.1zM161.7 116.5h1.1v1.1h-1.1zM170.1 117.6h1.1v1.1h-1.1zM150.9 120.2h1.1v1.1h-1.1zM154.9 133.0h1.1v1.1h-1.1zM158.6 128.1h1.1v1.1h-1.1zM142.3 117.4h1.1v1.1h-1.1zM153.5 135.6h1.1v1.1h-1.1zM149.3 128.4h1.1v1.1h-1.1zM157.0 118.4h1.1v1.1h-1.1zM157.5 124.7h1.1v1.1h-1.1zM158.0 126.4h1.1v1.1h-1.1zM160.0 136.3h1.1v1.1h-1.1zM145.7 139.1h1.1v1.1h-1.1zM162.8 137.9h1.1v1.1h-1.1zM152.2 145.7h1.1v1.1h-1.1zM154.0 128.6h1.1v1.1h-1.1zM150.5 127.0h1.1v1.1h-1.1zM165.6 125.5h1.1v1.1h-1.1zM164.9 119.7h1.1v1.1h-1.1zM155.1 144.0h1.1v1.1h-1.1zM155.8 125.9h1.1v1.1h-1.1zM160.7 139.2h1.1v1.1h-1.1zM156.0 129.4h1.1v1.1h-1.1zM154.4 136.4h1.1v1.1h-1.1zM160.2 131.3h1.1v1.1h-1.1zM157.2 111.6h1.1v1.1h-1.1zM144.1 127.5h1.1v1.1h-1.1zM174.0 139.3h1.1v1.1h-1.1zM162.9 128.6h1.1v1.1h-1.1zM162.8 118.2h1.1v1.1h-1.1zM161.4 116.3h1.1v1.1h-1.1zM164.6 116.7h1.1v1.1h-1.1zM163.4 129.4h1.1v1.1h-1.1zM160.1 132.8h1.1v1.1h-1.1zM152.4 112.6h1.1v1.1h-1.1zM162.4 133.7h1.1v1.1h-1.1zM155.8 149.1h1.1v1.1h-1.1zM156.5 144.6h1.1v1.1h-1.1zM158.2 121.3h1.1v1.1h-1.1zM158.0 129.3h1.1v1.1h-1.1zM156.7 136.0h1.1v1.1h-1.1zM158.5 141.8h1.1v1.1h-1.1zM156.8 120.8h1.1v1.1h-1.1zM157.6 136.6h1.1v1.1h-1.1zM158.3 131.2h1.1v1.1h-1.1zM167.3 136.4h1.1v1.1h-1.1zM152.3 120.9h1.1v1.1h-1.1zM164.8 139.2h1.1v1.1h-1.1zM151.3 116.4h1.1v1.1h-1.1zM160.6 125.1h1.1v1.1h-1.1zM163.5 118.3h1.1v1.1h-1.1zM156.1 130.4h1.1v1.1h-1.1zM160.7 129.8h1.1v1.1h-1.1zM157.1 126.7h1.1v1.1h-1.1zM158.4 135.2h1.1v1.1h-1.1zM155.3 119.0h1.1v1.1h-1.1zM161.2 117.4h1.1v1.1h-1.1zM148.2 149.5h1.1v1.1h-1.1zM161.6 124.0h1.1v1.1h-1.1zM156.0 119.9h1.1v1.1h-1.1zM151.4 122.5h1.1v1.1h-1.1zM158.7 137.7h1.1v1.1h-1.1zM168.1 110.1h1.1v1.1h-1.1zM161.0 120.4h1.1v1.1h-1.1zM158.2 126.6h1.1v1.1h-1.1zM158.7 114.5h1.1v1.1h-1.1zM156.5 126.5h1.1v1.1h-1.1zM159.8 128.4h1.1v1.1h-1.1zM146.8 139.4h1.1v1.1h-1.1zM168.0 127.4h1.1v1.1h-1.1zM141.7 146.4h1.1v1.1h-1.1zM164.7 137.5h1.1v1.1h-1.1zM142.0 140.3h1.1v1.1h-1.1zM165.8 123.3h1.1v1.1h-1.1zM137.7 136.1h1.1v1.1h-1.1zM152.8 127.2h1.1v1.1h-1.1zM157.8 139.4h1.1v1.1h-1.1zM153.7 133.2h1.1v1.1h-1.1zM159.5 126.6h1.1v1.1h-1.1zM161.2 126.6h1.1v1.1h-1.1zM156.3 125.6h1.1v1.1h-1.1zM149.5 118.0h1.1v1.1h-1.1zM148.0 131.6h1.1v1.1h-1.1zM141.6 142.4h1.1v1.1h-1.1zM158.1 127.1h1.1v1.1h-1.1zM150.7 119.7h1.1v1.1h-1.1zM167.0 130.9h1.1v1.1h-1.1zM144.5 132.0h1.1v1.1h-1.1zM168.7 125.8h1.1v1.1h-1.1zM151.9 141.6h1.1v1.1h-1.1zM138.2 133.9h1.1v1.1h-1.1zM151.6 129.6h1.1v1.1h-1.1zM162.1 137.4h1.1v1.1h-1.1zM156.3 140.5h1.1v1.1h-1.1zM152.4 127.6h1.1v1.1h-1.1zM151.3 128.9h1.1v1.1h-1.1zM156.9 117.2h1.1v1.1h-1.1zM148.3 134.3h1.1v1.1h-1.1zM150.3 110.6h1.1v1.1h-1.1zM149.3 111.1h1.1v1.1h-1.1zM149.5 109.9h1.1v1.1h-1.1zM144.6 138.5h1.1v1.1h-1.1zM159.7 118.4h1.1v1.1h-1.1zM147.2 114.9h1.1v1.1h-1.1zM166.5 124.8h1.1v1.1h-1.1zM161.0 130.8h1.1v1.1h-1.1zM157.9 123.3h1.1v1.1h-1.1zM156.9 122.0h1.1v1.1h-1.1zM152.2 124.8h1.1v1.1h-1.1zM161.3 133.2h1.1v1.1h-1.1zM145.3 128.4h1.1v1.1h-1.1zM160.8 121.3h1.1v1.1h-1.1zM149.6 193.3h1.1v1.1h-1.1zM155.7 165.7h1.1v1.1h-1.1zM149.0 176.2h1.1v1.1h-1.1zM145.3 192.4h1.1v1.1h-1.1zM153.4 189.3h1.1v1.1h-1.1zM139.7 195.4h1.1v1.1h-1.1zM147.6 198.9h1.1v1.1h-1.1zM128.4 187.8h1.1v1.1h-1.1zM126.6 189.9h1.1v1.1h-1.1zM144.3 178.9h1.1v1.1h-1.1zM147.1 189.3h1.1v1.1h-1.1zM151.0 201.6h1.1v1.1h-1.1zM145.3 185.3h1.1v1.1h-1.1zM140.0 199.9h1.1v1.1h-1.1zM144.2 185.2h1.1v1.1h-1.1zM148.5 181.5h1.1v1.1h-1.1zM143.3 187.5h1.1v1.1h-1.1zM150.5 176.9h1.1v1.1h-1.1zM137.6 181.3h1.1v1.1h-1.1zM140.5 179.5h1.1v1.1h-1.1zM149.1 182.4h1.1v1.1h-1.1zM155.6 197.2h1.1v1.1h-1.1zM144.9 186.3h1.1v1.1h-1.1zM148.8 211.6h1.1v1.1h-1.1zM147.4 178.0h1.1v1.1h-1.1zM145.0 221.5h1.1v1.1h-1.1zM139.2 184.7h1.1v1.1h-1.1zM145.1 182.1h1.1v1.1h-1.1zM152.9 181.1h1.1v1.1h-1.1zM144.2 192.8h1.1v1.1h-1.1zM148.3 185.3h1.1v1.1h-1.1zM145.7 186.9h1.1v1.1h-1.1zM124.2 195.1h1.1v1.1h-1.1zM146.1 186.2h1.1v1.1h-1.1zM150.3 169.7h1.1v1.1h-1.1zM152.4 181.8h1.1v1.1h-1.1zM139.0 177.3h1.1v1.1h-1.1zM147.1 181.3h1.1v1.1h-1.1zM149.2 173.4h1.1v1.1h-1.1zM152.1 185.6h1.1v1.1h-1.1zM155.9 191.9h1.1v1.1h-1.1zM142.3 185.1h1.1v1.1h-1.1zM133.4 185.3h1.1v1.1h-1.1zM137.2 181.0h1.1v1.1h-1.1zM157.7 177.0h1.1v1.1h-1.1zM148.3 193.1h1.1v1.1h-1.1zM143.0 186.6h1.1v1.1h-1.1zM140.8 206.0h1.1v1.1h-1.1zM148.3 198.2h1.1v1.1h-1.1zM134.1 186.1h1.1v1.1h-1.1zM138.1 198.9h1.1v1.1h-1.1zM143.1 179.9h1.1v1.1h-1.1zM145.4 189.4h1.1v1.1h-1.1zM144.3 203.8h1.1v1.1h-1.1zM150.8 189.8h1.1v1.1h-1.1zM148.5 184.2h1.1v1.1h-1.1zM136.3 187.5h1.1v1.1h-1.1zM130.4 197.1h1.1v1.1h-1.1zM142.2 168.4h1.1v1.1h-1.1zM145.6 214.7h1.1v1.1h-1.1zM140.7 186.4h1.1v1.1h-1.1zM147.8 175.7h1.1v1.1h-1.1zM154.2 183.9h1.1v1.1h-1.1zM146.9 196.5h1.1v1.1h-1.1zM144.2 195.2h1.1v1.1h-1.1zM135.4 173.7h1.1v1.1h-1.1zM146.1 181.0h1.1v1.1h-1.1zM141.1 188.0h1.1v1.1h-1.1zM148.7 201.3h1.1v1.1h-1.1zM156.7 202.6h1.1v1.1h-1.1zM150.9 179.7h1.1v1.1h-1.1zM139.8 175.8h1.1v1.1h-1.1zM142.7 190.9h1.1v1.1h-1.1zM157.5 181.2h1.1v1.1h-1.1zM149.3 183.1h1.1v1.1h-1.1zM145.0 170.6h1.1v1.1h-1.1zM160.2 191.1h1.1v1.1h-1.1zM145.3 189.3h1.1v1.1h-1.1zM136.7 197.6h1.1v1.1h-1.1zM147.8 198.1h1.1v1.1h-1.1zM155.4 197.1h1.1v1.1h-1.1zM142.7 186.1h1.1v1.1h-1.1zM136.9 213.2h1.1v1.1h-1.1zM137.2 201.7h1.1v1.1h-1.1zM140.3 192.0h1.1v1.1h-1.1zM145.7 179.3h1.1v1.1h-1.1zM151.4 196.9h1.1v1.1h-1.1zM146.6 198.3h1.1v1.1h-1.1zM156.6 177.7h1.1v1.1h-1.1zM142.7 175.5h1.1v1.1h-1.1zM141.1 186.2h1.1v1.1h-1.1zM144.0 189.9h1.1v1.1h-1.1zM155.7 198.1h1.1v1.1h-1.1zM143.3 194.7h1.1v1.1h-1.1zM142.1 199.0h1.1v1.1h-1.1zM143.0 187.5h1.1v1.1h-1.1zM137.0 183.6h1.1v1.1h-1.1zM157.7 162.8h1.1v1.1h-1.1zM144.7 181.9h1.1v1.1h-1.1zM141.9 201.2h1.1v1.1h-1.1zM140.5 172.4h1.1v1.1h-1.1zM143.8 186.7h1.1v1.1h-1.1zM149.0 202.3h1.1v1.1h-1.1zM149.4 196.7h1.1v1.1h-1.1zM141.0 179.1h1.1v1.1h-1.1zM146.7 193.4h1.1v1.1h-1.1zM150.0 193.2h1.1v1.1h-1.1zM141.5 180.7h1.1v1.1h-1.1zM152.3 196.9h1.1v1.1h-1.1zM133.5 193.1h1.1v1.1h-1.1zM147.6 179.6h1.1v1.1h-1.1zM137.3 196.5h1.1v1.1h-1.1zM147.6 174.0h1.1v1.1h-1.1zM144.5 200.1h1.1v1.1h-1.1zM142.3 205.0h1.1v1.1h-1.1zM136.6 201.2h1.1v1.1h-1.1zM143.6 178.2h1.1v1.1h-1.1zM143.0 196.7h1.1v1.1h-1.1zM137.0 199.3h1.1v1.1h-1.1zM149.2 163.8h1.1v1.1h-1.1zM146.7 200.2h1.1v1.1h-1.1zM140.5 160.8h1.1v1.1h-1.1zM149.9 198.6h1.1v1.1h-1.1zM154.3 178.0h1.1v1.1h-1.1zM138.3 182.0h1.1v1.1h-1.1zM152.7 177.9h1.1v1.1h-1.1zM145.3 170.7h1.1v1.1h-1.1zM154.0 187.6h1.1v1.1h-1.1zM145.6 222.8h1.1v1.1h-1.1zM151.3 193.9h1.1v1.1h-1.1zM145.0 186.0h1.1v1.1h-1.1zM135.6 197.1h1.1v1.1h-1.1zM143.6 185.9h1.1v1.1h-1.1zM135.2 200.9h1.1v1.1h-1.1zM145.9 189.8h1.1v1.1h-1.1zM142.0 193.9h1.1v1.1h-1.1zM150.5 194.2h1.1v1.1h-1.1zM138.4 169.9h1.1v1.1h-1.1zM144.3 193.1h1.1v1.1h-1.1zM129.4 178.3h1.1v1.1h-1.1zM141.6 188.2h1.1v1.1h-1.1zM151.8 183.5h1.1v1.1h-1.1zM150.5 184.5h1.1v1.1h-1.1zM150.9 181.1h1.1v1.1h-1.1zM144.8 196.9h1.1v1.1h-1.1zM144.8 162.9h1.1v1.1h-1.1zM142.8 192.4h1.1v1.1h-1.1zM145.0 176.4h1.1v1.1h-1.1zM141.6 195.1h1.1v1.1h-1.1zM150.3 192.5h1.1v1.1h-1.1zM140.4 178.0h1.1v1.1h-1.1zM158.0 176.0h1.1v1.1h-1.1zM152.2 189.0h1.1v1.1h-1.1zM148.4 191.5h1.1v1.1h-1.1zM143.2 194.3h1.1v1.1h-1.1zM138.9 183.9h1.1v1.1h-1.1zM146.0 160.7h1.1v1.1h-1.1zM153.2 185.8h1.1v1.1h-1.1zM143.0 176.5h1.1v1.1h-1.1zM143.4 172.7h1.1v1.1h-1.1zM138.0 179.9h1.1v1.1h-1.1zM144.5 186.6h1.1v1.1h-1.1zM140.2 181.8h1.1v1.1h-1.1zM148.1 179.4h1.1v1.1h-1.1zM153.8 193.7h1.1v1.1h-1.1zM140.4 173.2h1.1v1.1h-1.1zM145.2 197.8h1.1v1.1h-1.1zM145.3 188.1h1.1v1.1h-1.1zM135.3 195.4h1.1v1.1h-1.1zM137.7 203.1h1.1v1.1h-1.1zM144.8 204.0h1.1v1.1h-1.1zM148.7 167.0h1.1v1.1h-1.1zM144.0 193.4h1.1v1.1h-1.1zM153.3 185.9h1.1v1.1h-1.1zM147.7 170.0h1.1v1.1h-1.1zM145.8 185.2h1.1v1.1h-1.1zM148.4 186.4h1.1v1.1h-1.1zM143.2 186.0h1.1v1.1h-1.1zM148.5 202.1h1.1v1.1h-1.1zM150.3 198.9h1.1v1.1h-1.1zM138.6 173.0h1.1v1.1h-1.1zM138.0 176.5h1.1v1.1h-1.1zM148.0 186.2h1.1v1.1h-1.1zM143.0 210.9h1.1v1.1h-1.1zM143.1 196.8h1.1v1.1h-1.1zM145.1 176.5h1.1v1.1h-1.1zM134.4 181.5h1.1v1.1h-1.1zM147.4 193.2h1.1v1.1h-1.1zM152.7 193.3h1.1v1.1h-1.1zM156.4 180.6h1.1v1.1h-1.1zM140.6 196.1h1.1v1.1h-1.1zM144.1 199.0h1.1v1.1h-1.1zM154.9 191.9h1.1v1.1h-1.1zM143.0 162.6h1.1v1.1h-1.1zM143.5 191.1h1.1v1.1h-1.1zM136.8 192.6h1.1v1.1h-1.1zM146.7 190.1h1.1v1.1h-1.1zM150.9 204.1h1.1v1.1h-1.1zM138.8 186.6h1.1v1.1h-1.1zM147.1 204.4h1.1v1.1h-1.1zM145.7 195.0h1.1v1.1h-1.1zM146.0 190.7h1.1v1.1h-1.1zM146.8 200.2h1.1v1.1h-1.1zM148.6 198.0h1.1v1.1h-1.1zM146.1 185.5h1.1v1.1h-1.1zM144.9 198.6h1.1v1.1h-1.1zM145.9 172.6h1.1v1.1h-1.1zM148.1 176.3h1.1v1.1h-1.1zM131.3 187.1h1.1v1.1h-1.1zM155.5 196.8h1.1v1.1h-1.1zM148.8 179.5h1.1v1.1h-1.1zM138.2 177.2h1.1v1.1h-1.1zM142.4 180.1h1.1v1.1h-1.1zM145.4 190.1h1.1v1.1h-1.1zM139.3 193.1h1.1v1.1h-1.1zM131.4 181.6h1.1v1.1h-1.1zM141.4 179.9h1.1v1.1h-1.1zM143.4 185.2h1.1v1.1h-1.1zM146.3 191.7h1.1v1.1h-1.1zM134.1 196.9h1.1v1.1h-1.1zM147.5 200.5h1.1v1.1h-1.1zM153.7 205.8h1.1v1.1h-1.1zM152.9 187.9h1.1v1.1h-1.1zM154.1 188.5h1.1v1.1h-1.1zM142.9 189.2h1.1v1.1h-1.1zM156.4 199.3h1.1v1.1h-1.1zM146.3 188.7h1.1v1.1h-1.1zM139.9 197.8h1.1v1.1h-1.1zM123.0 189.5h1.1v1.1h-1.1zM143.1 182.0h1.1v1.1h-1.1zM150.5 185.3h1.1v1.1h-1.1zM154.4 175.4h1.1v1.1h-1.1zM158.2 182.2h1.1v1.1h-1.1zM149.6 182.5h1.1v1.1h-1.1zM141.5 188.6h1.1v1.1h-1.1zM149.7 182.9h1.1v1.1h-1.1zM140.7 182.7h1.1v1.1h-1.1zM136.9 175.0h1.1v1.1h-1.1zM146.1 196.5h1.1v1.1h-1.1zM149.9 187.3h1.1v1.1h-1.1zM146.1 162.1h1.1v1.1h-1.1zM139.8 183.2h1.1v1.1h-1.1zM147.4 192.2h1.1v1.1h-1.1zM144.2 188.2h1.1v1.1h-1.1zM158.3 179.1h1.1v1.1h-1.1zM145.4 183.2h1.1v1.1h-1.1zM140.9 184.5h1.1v1.1h-1.1zM145.8 180.2h1.1v1.1h-1.1zM156.3 186.0h1.1v1.1h-1.1zM143.8 203.7h1.1v1.1h-1.1zM154.3 201.2h1.1v1.1h-1.1zM152.0 168.9h1.1v1.1h-1.1zM141.7 185.0h1.1v1.1h-1.1zM140.3 203.0h1.1v1.1h-1.1zM150.7 178.9h1.1v1.1h-1.1zM136.4 171.5h1.1v1.1h-1.1zM137.1 189.2h1.1v1.1h-1.1zM148.5 181.8h1.1v1.1h-1.1zM154.0 185.4h1.1v1.1h-1.1zM147.3 175.9h1.1v1.1h-1.1zM143.0 174.5h1.1v1.1h-1.1zM144.9 195.9h1.1v1.1h-1.1zM143.6 186.3h1.1v1.1h-1.1zM152.0 183.3h1.1v1.1h-1.1zM151.6 191.0h1.1v1.1h-1.1zM140.8 178.8h1.1v1.1h-1.1zM146.1 197.3h1.1v1.1h-1.1zM143.6 174.5h1.1v1.1h-1.1zM141.6 197.3h1.1v1.1h-1.1zM146.8 185.5h1.1v1.1h-1.1zM144.5 208.1h1.1v1.1h-1.1zM128.7 174.8h1.1v1.1h-1.1zM151.5 194.5h1.1v1.1h-1.1zM147.4 179.5h1.1v1.1h-1.1zM150.5 179.7h1.1v1.1h-1.1zM141.3 178.6h1.1v1.1h-1.1zM148.3 175.2h1.1v1.1h-1.1zM148.2 182.0h1.1v1.1h-1.1zM148.9 183.1h1.1v1.1h-1.1zM154.9 184.6h1.1v1.1h-1.1zM144.1 182.1h1.1v1.1h-1.1zM141.3 187.0h1.1v1.1h-1.1zM145.7 171.3h1.1v1.1h-1.1zM140.3 188.6h1.1v1.1h-1.1zM140.0 187.1h1.1v1.1h-1.1zM149.8 196.7h1.1v1.1h-1.1zM152.3 193.4h1.1v1.1h-1.1zM153.3 171.2h1.1v1.1h-1.1zM140.9 177.7h1.1v1.1h-1.1zM141.2 195.1h1.1v1.1h-1.1zM144.2 167.8h1.1v1.1h-1.1zM156.2 196.7h1.1v1.1h-1.1zM145.2 182.7h1.1v1.1h-1.1zM139.0 176.2h1.1v1.1h-1.1zM137.5 194.6h1.1v1.1h-1.1zM135.3 193.9h1.1v1.1h-1.1zM152.4 186.9h1.1v1.1h-1.1zM152.1 194.8h1.1v1.1h-1.1zM144.9 187.5h1.1v1.1h-1.1zM155.3 206.2h1.1v1.1h-1.1zM137.2 189.2h1.1v1.1h-1.1zM135.2 183.9h1.1v1.1h-1.1zM152.6 190.0h1.1v1.1h-1.1zM140.6 195.8h1.1v1.1h-1.1zM149.3 194.3h1.1v1.1h-1.1zM150.9 190.8h1.1v1.1h-1.1zM146.6 193.2h1.1v1.1h-1.1zM149.0 213.0h1.1v1.1h-1.1zM138.4 178.2h1.1v1.1h-1.1zM139.2 169.0h1.1v1.1h-1.1zM138.7 175.4h1.1v1.1h-1.1zM149.2 196.9h1.1v1.1h-1.1zM135.9 185.8h1.1v1.1h-1.1zM136.2 179.5h1.1v1.1h-1.1zM145.6 184.1h1.1v1.1h-1.1zM142.8 201.1h1.1v1.1h-1.1zM147.1 179.1h1.1v1.1h-1.1zM139.2 171.5h1.1v1.1h-1.1zM143.4 200.3h1.1v1.1h-1.1zM150.8 184.0h1.1v1.1h-1.1zM137.5 181.2h1.1v1.1h-1.1zM135.2 160.8h1.1v1.1h-1.1zM128.6 187.9h1.1v1.1h-1.1zM139.3 170.5h1.1v1.1h-1.1zM148.7 193.9h1.1v1.1h-1.1zM152.5 186.9h1.1v1.1h-1.1zM139.9 193.9h1.1v1.1h-1.1zM137.4 182.7h1.1v1.1h-1.1zM151.1 175.0h1.1v1.1h-1.1zM144.6 182.6h1.1v1.1h-1.1zM136.4 204.0h1.1v1.1h-1.1zM136.6 179.2h1.1v1.1h-1.1zM143.4 197.4h1.1v1.1h-1.1zM146.6 178.7h1.1v1.1h-1.1zM139.0 193.9h1.1v1.1h-1.1zM143.7 184.9h1.1v1.1h-1.1zM144.4 189.7h1.1v1.1h-1.1zM142.7 199.6h1.1v1.1h-1.1zM156.8 178.1h1.1v1.1h-1.1zM142.1 195.0h1.1v1.1h-1.1zM146.8 182.2h1.1v1.1h-1.1zM139.0 180.5h1.1v1.1h-1.1zM148.6 196.1h1.1v1.1h-1.1zM138.8 190.0h1.1v1.1h-1.1zM137.6 199.4h1.1v1.1h-1.1zM142.3 181.6h1.1v1.1h-1.1zM138.4 192.9h1.1v1.1h-1.1zM150.4 173.3h1.1v1.1h-1.1zM151.4 179.1h1.1v1.1h-1.1zM142.1 179.6h1.1v1.1h-1.1zM150.6 206.7h1.1v1.1h-1.1zM140.3 197.6h1.1v1.1h-1.1zM143.1 204.9h1.1v1.1h-1.1zM146.3 182.1h1.1v1.1h-1.1zM154.4 189.6h1.1v1.1h-1.1zM147.3 197.3h1.1v1.1h-1.1zM142.4 191.6h1.1v1.1h-1.1zM147.6 191.8h1.1v1.1h-1.1zM134.2 187.5h1.1v1.1h-1.1zM150.1 196.2h1.1v1.1h-1.1zM142.2 188.8h1.1v1.1h-1.1zM141.3 181.8h1.1v1.1h-1.1zM137.3 189.1h1.1v1.1h-1.1zM149.4 189.6h1.1v1.1h-1.1zM149.5 189.6h1.1v1.1h-1.1zM146.9 188.8h1.1v1.1h-1.1zM146.2 176.9h1.1v1.1h-1.1zM143.4 177.3h1.1v1.1h-1.1zM137.9 207.2h1.1v1.1h-1.1zM140.0 177.1h1.1v1.1h-1.1zM122.0 186.4h1.1v1.1h-1.1zM144.8 166.4h1.1v1.1h-1.1zM143.4 192.8h1.1v1.1h-1.1zM138.0 196.9h1.1v1.1h-1.1zM144.0 192.4h1.1v1.1h-1.1zM139.7 188.5h1.1v1.1h-1.1zM148.0 195.5h1.1v1.1h-1.1zM141.2 182.3h1.1v1.1h-1.1zM151.8 181.7h1.1v1.1h-1.1zM141.4 187.1h1.1v1.1h-1.1zM138.5 198.5h1.1v1.1h-1.1zM135.5 180.2h1.1v1.1h-1.1zM147.8 187.1h1.1v1.1h-1.1zM138.4 194.3h1.1v1.1h-1.1zM147.3 188.9h1.1v1.1h-1.1zM139.4 191.0h1.1v1.1h-1.1zM132.8 196.3h1.1v1.1h-1.1zM148.7 169.5h1.1v1.1h-1.1zM135.7 178.0h1.1v1.1h-1.1zM144.1 203.3h1.1v1.1h-1.1zM143.0 200.0h1.1v1.1h-1.1zM147.6 186.6h1.1v1.1h-1.1zM138.6 197.2h1.1v1.1h-1.1zM147.9 173.6h1.1v1.1h-1.1zM140.5 199.8h1.1v1.1h-1.1zM139.9 197.1h1.1v1.1h-1.1zM146.9 191.7h1.1v1.1h-1.1zM142.8 188.2h1.1v1.1h-1.1zM152.5 194.7h1.1v1.1h-1.1zM127.6 179.0h1.1v1.1h-1.1zM151.5 174.3h1.1v1.1h-1.1zM141.9 179.5h1.1v1.1h-1.1zM152.3 177.3h1.1v1.1h-1.1zM148.4 193.2h1.1v1.1h-1.1zM155.4 193.5h1.1v1.1h-1.1zM145.9 191.4h1.1v1.1h-1.1zM144.7 186.8h1.1v1.1h-1.1zM150.4 168.1h1.1v1.1h-1.1zM138.0 191.9h1.1v1.1h-1.1zM154.3 188.7h1.1v1.1h-1.1zM142.6 184.7h1.1v1.1h-1.1zM136.4 190.9h1.1v1.1h-1.1zM151.4 195.3h1.1v1.1h-1.1zM148.0 200.0h1.1v1.1h-1.1zM143.9 193.7h1.1v1.1h-1.1zM145.7 178.3h1.1v1.1h-1.1zM143.3 187.4h1.1v1.1h-1.1zM154.0 190.9h1.1v1.1h-1.1zM145.9 202.1h1.1v1.1h-1.1zM135.9 172.2h1.1v1.1h-1.1zM144.8 192.9h1.1v1.1h-1.1zM146.8 193.2h1.1v1.1h-1.1zM147.2 164.2h1.1v1.1h-1.1zM144.4 177.7h1.1v1.1h-1.1zM150.1 195.8h1.1v1.1h-1.1zM138.6 183.8h1.1v1.1h-1.1zM138.6 205.2h1.1v1.1h-1.1zM147.5 203.1h1.1v1.1h-1.1zM151.5 187.4h1.1v1.1h-1.1zM146.5 176.0h1.1v1.1h-1.1zM144.8 185.5h1.1v1.1h-1.1zM139.8 171.3h1.1v1.1h-1.1zM147.8 178.5h1.1v1.1h-1.1zM124.8 184.0h1.1v1.1h-1.1zM151.3 198.3h1.1v1.1h-1.1zM147.0 181.7h1.1v1.1h-1.1zM144.7 191.8h1.1v1.1h-1.1zM139.3 178.4h1.1v1.1h-1.1zM140.2 185.4h1.1v1.1h-1.1zM143.4 179.1h1.1v1.1h-1.1zM146.7 188.8h1.1v1.1h-1.1zM149.6 173.4h1.1v1.1h-1.1zM152.9 164.7h1.1v1.1h-1.1zM145.2 192.9h1.1v1.1h-1.1zM150.5 193.7h1.1v1.1h-1.1zM156.9 184.9h1.1v1.1h-1.1zM135.4 162.5h1.1v1.1h-1.1zM142.1 184.5h1.1v1.1h-1.1zM135.9 195.8h1.1v1.1h-1.1zM150.7 188.9h1.1v1.1h-1.1zM145.4 174.4h1.1v1.1h-1.1zM147.5 199.0h1.1v1.1h-1.1zM142.3 184.5h1.1v1.1h-1.1zM138.2 193.2h1.1v1.1h-1.1zM139.2 190.7h1.1v1.1h-1.1zM138.0 183.2h1.1v1.1h-1.1zM147.0 184.6h1.1v1.1h-1.1zM145.0 183.0h1.1v1.1h-1.1zM136.3 196.1h1.1v1.1h-1.1zM133.3 183.5h1.1v1.1h-1.1zM148.5 184.1h1.1v1.1h-1.1zM146.6 176.1h1.1v1.1h-1.1zM147.8 200.2h1.1v1.1h-1.1zM145.9 174.2h1.1v1.1h-1.1zM140.1 203.6h1.1v1.1h-1.1zM149.0 183.7h1.1v1.1h-1.1zM141.7 189.4h1.1v1.1h-1.1zM144.9 195.6h1.1v1.1h-1.1zM146.9 193.1h1.1v1.1h-1.1zM154.6 183.8h1.1v1.1h-1.1zM136.5 182.3h1.1v1.1h-1.1zM151.6 188.1h1.1v1.1h-1.1zM142.8 184.7h1.1v1.1h-1.1zM133.0 187.3h1.1v1.1h-1.1zM138.0 203.8h1.1v1.1h-1.1zM139.0 177.6h1.1v1.1h-1.1zM141.2 194.5h1.1v1.1h-1.1zM137.9 188.7h1.1v1.1h-1.1zM138.7 211.8h1.1v1.1h-1.1zM150.1 186.4h1.1v1.1h-1.1zM143.0 191.2h1.1v1.1h-1.1zM136.0 189.7h1.1v1.1h-1.1zM154.1 172.7h1.1v1.1h-1.1zM136.9 174.5h1.1v1.1h-1.1zM146.3 181.8h1.1v1.1h-1.1zM145.7 200.9h1.1v1.1h-1.1zM147.2 184.1h1.1v1.1h-1.1zM151.8 174.2h1.1v1.1h-1.1zM141.6 196.1h1.1v1.1h-1.1zM144.6 208.0h1.1v1.1h-1.1zM135.4 177.3h1.1v1.1h-1.1zM144.9 188.5h1.1v1.1h-1.1zM150.7 192.1h1.1v1.1h-1.1zM149.4 194.3h1.1v1.1h-1.1zM138.2 185.0h1.1v1.1h-1.1zM141.9 208.9h1.1v1.1h-1.1zM145.7 198.5h1.1v1.1h-1.1zM143.8 190.5h1.1v1.1h-1.1zM148.4 180.5h1.1v1.1h-1.1zM141.2 192.2h1.1v1.1h-1.1zM147.8 199.0h1.1v1.1h-1.1zM141.8 196.4h1.1v1.1h-1.1zM151.1 184.1h1.1v1.1h-1.1zM140.4 180.8h1.1v1.1h-1.1zM147.3 167.3h1.1v1.1h-1.1zM153.5 166.6h1.1v1.1h-1.1zM139.7 183.2h1.1v1.1h-1.1zM144.6 180.4h1.1v1.1h-1.1zM136.2 183.5h1.1v1.1h-1.1zM154.7 185.9h1.1v1.1h-1.1zM150.7 177.7h1.1v1.1h-1.1zM147.9 204.3h1.1v1.1h-1.1zM146.2 177.3h1.1v1.1h-1.1zM151.7 200.8h1.1v1.1h-1.1zM151.5 184.6h1.1v1.1h-1.1zM144.1 184.1h1.1v1.1h-1.1zM141.8 163.9h1.1v1.1h-1.1zM148.6 186.7h1.1v1.1h-1.1zM135.0 194.2h1.1v1.1h-1.1zM134.9 192.3h1.1v1.1h-1.1zM149.1 201.9h1.1v1.1h-1.1zM135.6 185.9h1.1v1.1h-1.1zM147.4 178.6h1.1v1.1h-1.1zM149.5 182.1h1.1v1.1h-1.1zM151.6 189.2h1.1v1.1h-1.1zM150.9 193.2h1.1v1.1h-1.1zM141.1 190.4h1.1v1.1h-1.1zM147.8 191.6h1.1v1.1h-1.1zM150.9 192.8h1.1v1.1h-1.1zM150.9 181.0h1.1v1.1h-1.1zM153.1 193.0h1.1v1.1h-1.1zM142.6 188.8h1.1v1.1h-1.1zM139.3 181.0h1.1v1.1h-1.1zM150.2 198.1h1.1v1.1h-1.1zM143.5 168.1h1.1v1.1h-1.1zM138.9 194.9h1.1v1.1h-1.1zM147.4 192.3h1.1v1.1h-1.1zM138.1 184.6h1.1v1.1h-1.1zM146.8 192.9h1.1v1.1h-1.1zM142.3 185.7h1.1v1.1h-1.1zM147.0 180.4h1.1v1.1h-1.1zM139.0 194.5h1.1v1.1h-1.1zM145.4 175.2h1.1v1.1h-1.1zM152.1 203.4h1.1v1.1h-1.1zM148.3 185.6h1.1v1.1h-1.1zM145.8 192.5h1.1v1.1h-1.1zM142.1 191.7h1.1v1.1h-1.1zM139.9 186.9h1.1v1.1h-1.1zM136.8 182.2h1.1v1.1h-1.1zM142.7 166.9h1.1v1.1h-1.1zM145.1 190.9h1.1v1.1h-1.1zM149.0 193.3h1.1v1.1h-1.1zM145.0 175.8h1.1v1.1h-1.1zM152.1 185.0h1.1v1.1h-1.1zM133.9 178.3h1.1v1.1h-1.1zM143.6 191.0h1.1v1.1h-1.1zM145.4 201.5h1.1v1.1h-1.1zM135.6 185.3h1.1v1.1h-1.1zM136.4 176.3h1.1v1.1h-1.1zM150.8 187.8h1.1v1.1h-1.1zM155.7 200.1h1.1v1.1h-1.1zM150.2 194.9h1.1v1.1h-1.1zM140.2 182.0h1.1v1.1h-1.1zM143.2 181.2h1.1v1.1h-1.1zM144.2 205.8h1.1v1.1h-1.1zM147.2 184.8h1.1v1.1h-1.1zM142.0 189.4h1.1v1.1h-1.1zM153.0 189.3h1.1v1.1h-1.1zM142.8 202.4h1.1v1.1h-1.1zM143.0 178.8h1.1v1.1h-1.1zM141.4 182.9h1.1v1.1h-1.1zM139.7 189.8h1.1v1.1h-1.1zM154.9 186.3h1.1v1.1h-1.1zM134.8 192.1h1.1v1.1h-1.1zM148.8 180.5h1.1v1.1h-1.1zM139.7 195.7h1.1v1.1h-1.1zM157.7 183.3h1.1v1.1h-1.1zM157.1 204.1h1.1v1.1h-1.1zM147.5 184.4h1.1v1.1h-1.1zM133.9 190.6h1.1v1.1h-1.1zM139.1 200.2h1.1v1.1h-1.1zM142.8 198.6h1.1v1.1h-1.1zM141.2 194.4h1.1v1.1h-1.1zM142.5 196.6h1.1v1.1h-1.1zM137.5 181.8h1.1v1.1h-1.1zM140.2 187.0h1.1v1.1h-1.1zM158.6 190.8h1.1v1.1h-1.1zM142.9 179.6h1.1v1.1h-1.1zM159.2 209.4h1.1v1.1h-1.1zM145.1 176.5h1.1v1.1h-1.1zM133.3 198.0h1.1v1.1h-1.1zM153.4 179.0h1.1v1.1h-1.1zM144.9 192.0h1.1v1.1h-1.1zM149.0 177.5h1.1v1.1h-1.1zM141.7 181.3h1.1v1.1h-1.1zM136.5 191.9h1.1v1.1h-1.1zM141.4 202.8h1.1v1.1h-1.1zM147.5 183.8h1.1v1.1h-1.1zM144.0 183.5h1.1v1.1h-1.1zM160.7 185.7h1.1v1.1h-1.1zM139.6 184.5h1.1v1.1h-1.1zM141.7 179.5h1.1v1.1h-1.1zM148.8 191.0h1.1v1.1h-1.1zM146.2 197.6h1.1v1.1h-1.1zM151.3 183.9h1.1v1.1h-1.1zM152.0 192.1h1.1v1.1h-1.1zM144.4 192.4h1.1v1.1h-1.1zM145.3 176.1h1.1v1.1h-1.1zM143.9 170.9h1.1v1.1h-1.1zM148.2 176.8h1.1v1.1h-1.1zM145.7 189.6h1.1v1.1h-1.1zM139.2 198.4h1.1v1.1h-1.1zM141.7 190.2h1.1v1.1h-1.1zM140.2 196.8h1.1v1.1h-1.1zM154.4 192.9h1.1v1.1h-1.1zM148.5 181.1h1.1v1.1h-1.1zM147.0 184.7h1.1v1.1h-1.1zM154.0 181.8h1.1v1.1h-1.1zM148.6 190.4h1.1v1.1h-1.1zM153.8 194.9h1.1v1.1h-1.1zM133.5 201.6h1.1v1.1h-1.1zM139.3 196.3h1.1v1.1h-1.1zM134.9 188.3h1.1v1.1h-1.1zM148.5 162.9h1.1v1.1h-1.1zM135.8 211.2h1.1v1.1h-1.1zM143.4 206.6h1.1v1.1h-1.1zM146.2 181.9h1.1v1.1h-1.1zM142.4 184.6h1.1v1.1h-1.1zM144.2 193.8h1.1v1.1h-1.1zM145.0 201.1h1.1v1.1h-1.1zM145.0 179.6h1.1v1.1h-1.1zM147.9 184.7h1.1v1.1h-1.1zM151.4 190.4h1.1v1.1h-1.1zM141.6 192.2h1.1v1.1h-1.1zM140.8 187.8h1.1v1.1h-1.1zM138.1 210.0h1.1v1.1h-1.1zM143.2 177.2h1.1v1.1h-1.1zM131.4 202.2h1.1v1.1h-1.1zM154.6 191.0h1.1v1.1h-1.1zM140.4 189.9h1.1v1.1h-1.1zM141.5 179.1h1.1v1.1h-1.1zM147.9 194.8h1.1v1.1h-1.1zM140.0 197.9h1.1v1.1h-1.1zM142.0 157.1h1.1v1.1h-1.1zM136.9 194.7h1.1v1.1h-1.1zM146.0 197.0h1.1v1.1h-1.1zM148.2 201.9h1.1v1.1h-1.1zM138.9 196.6h1.1v1.1h-1.1zM157.1 184.0h1.1v1.1h-1.1zM137.4 187.1h1.1v1.1h-1.1zM147.8 194.9h1.1v1.1h-1.1zM148.4 218.9h1.1v1.1h-1.1zM139.9 180.6h1.1v1.1h-1.1zM149.3 182.6h1.1v1.1h-1.1zM142.3 189.1h1.1v1.1h-1.1zM154.7 181.9h1.1v1.1h-1.1zM136.6 191.8h1.1v1.1h-1.1zM147.8 203.6h1.1v1.1h-1.1zM144.9 187.0h1.1v1.1h-1.1zM143.2 187.4h1.1v1.1h-1.1zM139.6 187.6h1.1v1.1h-1.1zM137.5 194.1h1.1v1.1h-1.1zM144.5 191.0h1.1v1.1h-1.1zM141.0 187.8h1.1v1.1h-1.1zM141.5 206.1h1.1v1.1h-1.1zM148.4 185.6h1.1v1.1h-1.1zM148.2 194.7h1.1v1.1h-1.1zM145.8 175.6h1.1v1.1h-1.1zM156.1 187.5h1.1v1.1h-1.1zM142.6 183.6h1.1v1.1h-1.1zM149.8 184.7h1.1v1.1h-1.1zM148.3 190.6h1.1v1.1h-1.1zM148.0 198.3h1.1v1.1h-1.1zM141.6 171.2h1.1v1.1h-1.1zM142.2 189.8h1.1v1.1h-1.1zM147.8 192.5h1.1v1.1h-1.1zM138.9 183.6h1.1v1.1h-1.1zM143.1 171.9h1.1v1.1h-1.1zM134.7 201.2h1.1v1.1h-1.1zM137.6 186.7h1.1v1.1h-1.1zM140.7 186.8h1.1v1.1h-1.1zM143.9 180.4h1.1v1.1h-1.1zM136.7 185.3h1.1v1.1h-1.1zM160.8 194.1h1.1v1.1h-1.1zM141.2 195.5h1.1v1.1h-1.1zM152.6 179.0h1.1v1.1h-1.1zM144.6 193.4h1.1v1.1h-1.1zM143.5 183.6h1.1v1.1h-1.1zM148.9 186.4h1.1v1.1h-1.1zM143.0 184.3h1.1v1.1h-1.1zM147.1 196.6h1.1v1.1h-1.1zM142.1 200.5h1.1v1.1h-1.1zM129.0 188.6h1.1v1.1h-1.1zM149.0 206.5h1.1v1.1h-1.1zM153.6 170.1h1.1v1.1h-1.1zM144.1 188.9h1.1v1.1h-1.1zM136.9 174.7h1.1v1.1h-1.1zM139.9 181.5h1.1v1.1h-1.1zM147.4 189.3h1.1v1.1h-1.1zM135.2 179.4h1.1v1.1h-1.1z" fill="rgb(232,40,92)"/>
<path d="M134.6 221.9h1.1v1.1h-1.1zM142.6 200.3h1.1v1.1h-1.1zM146.1 197.9h1.1v1.1h-1.1zM154.2 210.3h1.1v1.1h-1.1zM151.1 201.4h1.1v1.1h-1.1zM149.6 195.6h1.1v1.1h-1.1zM150.3 206.9h1.1v1.1h-1.1zM152.0 196.9h1.1v1.1h-1.1zM146.8 173.2h1.1v1.1h-1.1zM136.4 205.3h1.1v1.1h-1.1zM139.5 203.0h1.1v1.1h-1.1zM158.0 194.1h1.1v1.1h-1.1zM152.0 194.5h1.1v1.1h-1.1zM145.5 210.5h1.1v1.1h-1.1zM143.9 197.5h1.1v1.1h-1.1zM151.9 221.8h1.1v1.1h-1.1zM137.4 197.6h1.1v1.1h-1.1zM148.5 224.0h1.1v1.1h-1.1zM159.6 202.4h1.1v1.1h-1.1zM153.1 221.7h1.1v1.1h-1.1zM142.1 204.8h1.1v1.1h-1.1zM142.7 214.2h1.1v1.1h-1.1zM144.6 212.2h1.1v1.1h-1.1zM141.0 190.7h1.1v1.1h-1.1zM147.2 203.4h1.1v1.1h-1.1zM156.4 212.9h1.1v1.1h-1.1zM155.1 215.9h1.1v1.1h-1.1zM152.0 176.9h1.1v1.1h-1.1zM140.8 194.5h1.1v1.1h-1.1zM145.3 207.8h1.1v1.1h-1.1zM151.1 207.3h1.1v1.1h-1.1zM131.0 226.4h1.1v1.1h-1.1zM145.8 209.0h1.1v1.1h-1.1zM143.7 217.4h1.1v1.1h-1.1zM150.5 189.3h1.1v1.1h-1.1zM144.1 213.9h1.1v1.1h-1.1zM150.6 221.7h1.1v1.1h-1.1zM144.5 209.3h1.1v1.1h-1.1zM145.7 207.9h1.1v1.1h-1.1zM143.5 218.9h1.1v1.1h-1.1zM139.8 207.9h1.1v1.1h-1.1zM139.7 213.1h1.1v1.1h-1.1zM144.0 215.8h1.1v1.1h-1.1zM150.5 190.5h1.1v1.1h-1.1zM147.3 219.2h1.1v1.1h-1.1zM138.7 222.8h1.1v1.1h-1.1zM136.7 211.5h1.1v1.1h-1.1zM140.8 195.1h1.1v1.1h-1.1zM151.2 217.1h1.1v1.1h-1.1zM150.3 201.0h1.1v1.1h-1.1zM149.2 203.1h1.1v1.1h-1.1zM152.2 181.3h1.1v1.1h-1.1zM147.5 220.8h1.1v1.1h-1.1zM143.6 198.9h1.1v1.1h-1.1zM139.5 206.0h1.1v1.1h-1.1zM143.8 215.2h1.1v1.1h-1.1zM138.6 209.0h1.1v1.1h-1.1zM141.9 185.9h1.1v1.1h-1.1zM138.9 181.3h1.1v1.1h-1.1zM130.6 195.1h1.1v1.1h-1.1zM159.6 194.3h1.1v1.1h-1.1zM147.6 198.9h1.1v1.1h-1.1zM137.8 208.8h1.1v1.1h-1.1zM135.3 218.6h1.1v1.1h-1.1zM139.5 226.8h1.1v1.1h-1.1zM151.6 208.1h1.1v1.1h-1.1zM145.2 201.1h1.1v1.1h-1.1zM144.7 209.1h1.1v1.1h-1.1zM149.8 207.7h1.1v1.1h-1.1zM143.6 208.9h1.1v1.1h-1.1zM141.8 219.5h1.1v1.1h-1.1zM141.8 215.9h1.1v1.1h-1.1zM142.3 212.0h1.1v1.1h-1.1zM146.7 209.4h1.1v1.1h-1.1zM152.9 201.5h1.1v1.1h-1.1zM141.3 204.5h1.1v1.1h-1.1zM143.2 179.7h1.1v1.1h-1.1zM140.5 218.3h1.1v1.1h-1.1zM150.5 225.1h1.1v1.1h-1.1zM153.5 214.0h1.1v1.1h-1.1zM159.5 211.5h1.1v1.1h-1.1zM148.0 220.6h1.1v1.1h-1.1zM138.2 198.5h1.1v1.1h-1.1zM142.7 210.4h1.1v1.1h-1.1zM147.9 185.7h1.1v1.1h-1.1zM154.6 213.5h1.1v1.1h-1.1zM130.1 212.3h1.1v1.1h-1.1zM139.8 189.1h1.1v1.1h-1.1zM141.4 215.1h1.1v1.1h-1.1zM148.4 197.9h1.1v1.1h-1.1zM152.5 226.3h1.1v1.1h-1.1zM147.3 218.7h1.1v1.1h-1.1zM140.2 188.7h1.1v1.1h-1.1zM153.2 205.1h1.1v1.1h-1.1zM149.9 198.2h1.1v1.1h-1.1zM140.2 199.6h1.1v1.1h-1.1zM143.1 201.2h1.1v1.1h-1.1zM143.3 195.7h1.1v1.1h-1.1zM149.1 193.1h1.1v1.1h-1.1zM129.4 206.2h1.1v1.1h-1.1zM154.4 217.2h1.1v1.1h-1.1zM150.9 198.7h1.1v1.1h-1.1zM139.2 185.0h1.1v1.1h-1.1zM145.7 203.0h1.1v1.1h-1.1zM152.2 224.1h1.1v1.1h-1.1zM137.7 200.4h1.1v1.1h-1.1zM141.1 209.8h1.1v1.1h-1.1zM148.9 202.8h1.1v1.1h-1.1zM150.6 195.5h1.1v1.1h-1.1zM155.4 217.2h1.1v1.1h-1.1zM154.0 220.6h1.1v1.1h-1.1zM146.2 175.7h1.1v1.1h-1.1zM160.6 188.2h1.1v1.1h-1.1zM142.5 225.2h1.1v1.1h-1.1zM147.1 207.1h1.1v1.1h-1.1zM153.9 180.2h1.1v1.1h-1.1zM151.2 182.9h1.1v1.1h-1.1zM143.6 223.8h1.1v1.1h-1.1zM148.7 209.6h1.1v1.1h-1.1zM138.1 207.9h1.1v1.1h-1.1zM141.4 196.4h1.1v1.1h-1.1zM153.5 203.7h1.1v1.1h-1.1zM148.8 199.5h1.1v1.1h-1.1zM152.3 183.8h1.1v1.1h-1.1zM137.9 201.8h1.1v1.1h-1.1zM135.5 207.6h1.1v1.1h-1.1zM148.9 202.3h1.1v1.1h-1.1zM148.0 205.7h1.1v1.1h-1.1zM161.5 212.7h1.1v1.1h-1.1zM135.7 214.6h1.1v1.1h-1.1zM136.1 222.2h1.1v1.1h-1.1zM156.4 184.7h1.1v1.1h-1.1zM145.3 196.7h1.1v1.1h-1.1zM142.8 194.7h1.1v1.1h-1.1zM149.7 208.3h1.1v1.1h-1.1zM141.0 173.2h1.1v1.1h-1.1zM145.0 195.1h1.1v1.1h-1.1zM159.2 203.3h1.1v1.1h-1.1zM149.0 194.9h1.1v1.1h-1.1zM130.5 202.1h1.1v1.1h-1.1zM134.2 220.1h1.1v1.1h-1.1zM148.7 227.9h1.1v1.1h-1.1zM143.0 202.3h1.1v1.1h-1.1zM157.5 211.4h1.1v1.1h-1.1zM146.9 207.6h1.1v1.1h-1.1zM142.7 192.5h1.1v1.1h-1.1zM145.5 197.4h1.1v1.1h-1.1zM138.3 196.2h1.1v1.1h-1.1zM142.0 186.0h1.1v1.1h-1.1zM145.2 214.9h1.1v1.1h-1.1zM139.7 208.2h1.1v1.1h-1.1zM142.6 194.3h1.1v1.1h-1.1zM146.4 183.8h1.1v1.1h-1.1zM148.1 197.8h1.1v1.1h-1.1zM142.5 205.1h1.1v1.1h-1.1zM156.6 201.9h1.1v1.1h-1.1zM149.4 197.0h1.1v1.1h-1.1zM138.7 201.3h1.1v1.1h-1.1zM150.6 209.6h1.1v1.1h-1.1zM144.4 222.9h1.1v1.1h-1.1zM146.0 225.3h1.1v1.1h-1.1zM141.0 204.3h1.1v1.1h-1.1zM143.8 204.6h1.1v1.1h-1.1zM148.4 209.4h1.1v1.1h-1.1zM140.8 186.7h1.1v1.1h-1.1zM141.5 197.4h1.1v1.1h-1.1zM144.9 207.4h1.1v1.1h-1.1zM143.7 216.0h1.1v1.1h-1.1zM143.1 184.2h1.1v1.1h-1.1zM154.3 216.7h1.1v1.1h-1.1zM143.7 216.7h1.1v1.1h-1.1zM127.7 198.9h1.1v1.1h-1.1zM134.1 205.3h1.1v1.1h-1.1zM144.2 203.2h1.1v1.1h-1.1zM145.2 197.6h1.1v1.1h-1.1zM144.2 191.9h1.1v1.1h-1.1zM146.3 204.7h1.1v1.1h-1.1zM138.0 227.5h1.1v1.1h-1.1zM137.3 197.2h1.1v1.1h-1.1zM137.1 174.8h1.1v1.1h-1.1zM143.9 219.7h1.1v1.1h-1.1zM153.2 199.6h1.1v1.1h-1.1zM153.8 209.0h1.1v1.1h-1.1zM143.8 185.5h1.1v1.1h-1.1zM154.0 225.6h1.1v1.1h-1.1zM149.9 198.2h1.1v1.1h-1.1zM149.5 208.4h1.1v1.1h-1.1zM143.8 202.8h1.1v1.1h-1.1zM142.4 215.8h1.1v1.1h-1.1zM140.2 178.6h1.1v1.1h-1.1zM149.1 206.3h1.1v1.1h-1.1zM151.6 198.7h1.1v1.1h-1.1zM147.5 219.9h1.1v1.1h-1.1zM142.7 190.9h1.1v1.1h-1.1zM141.6 219.9h1.1v1.1h-1.1zM140.5 204.8h1.1v1.1h-1.1zM145.4 212.6h1.1v1.1h-1.1zM146.4 213.6h1.1v1.1h-1.1zM140.1 227.2h1.1v1.1h-1.1zM171.6 208.1h1.1v1.1h-1.1zM144.8 185.9h1.1v1.1h-1.1zM153.1 192.4h1.1v1.1h-1.1zM152.3 226.0h1.1v1.1h-1.1zM153.3 226.5h1.1v1.1h-1.1zM137.9 183.2h1.1v1.1h-1.1zM155.3 207.0h1.1v1.1h-1.1zM148.4 194.3h1.1v1.1h-1.1zM140.3 191.7h1.1v1.1h-1.1zM134.8 214.9h1.1v1.1h-1.1zM152.4 211.2h1.1v1.1h-1.1zM151.6 199.7h1.1v1.1h-1.1zM133.3 193.7h1.1v1.1h-1.1zM153.6 217.7h1.1v1.1h-1.1zM142.6 205.1h1.1v1.1h-1.1zM152.4 205.6h1.1v1.1h-1.1zM140.3 196.2h1.1v1.1h-1.1zM148.0 197.0h1.1v1.1h-1.1zM150.0 201.1h1.1v1.1h-1.1zM148.4 197.6h1.1v1.1h-1.1zM147.1 211.0h1.1v1.1h-1.1zM150.0 215.1h1.1v1.1h-1.1zM160.5 211.6h1.1v1.1h-1.1zM144.9 208.5h1.1v1.1h-1.1zM134.8 200.2h1.1v1.1h-1.1zM141.5 218.3h1.1v1.1h-1.1zM147.3 223.2h1.1v1.1h-1.1zM148.3 197.1h1.1v1.1h-1.1zM147.4 195.0h1.1v1.1h-1.1zM148.5 212.1h1.1v1.1h-1.1zM144.8 197.7h1.1v1.1h-1.1zM139.4 212.2h1.1v1.1h-1.1zM139.0 220.2h1.1v1.1h-1.1zM153.5 206.6h1.1v1.1h-1.1zM149.8 222.0h1.1v1.1h-1.1zM149.6 204.3h1.1v1.1h-1.1zM142.9 206.0h1.1v1.1h-1.1zM147.6 205.9h1.1v1.1h-1.1zM149.7 181.2h1.1v1.1h-1.1zM138.4 190.1h1.1v1.1h-1.1zM146.8 195.9h1.1v1.1h-1.1zM142.5 222.8h1.1v1.1h-1.1zM159.4 206.2h1.1v1.1h-1.1zM141.3 193.4h1.1v1.1h-1.1zM146.8 182.1h1.1v1.1h-1.1zM167.7 134.4h1.1v1.1h-1.1zM183.6 144.0h1.1v1.1h-1.1zM159.9 133.6h1.1v1.1h-1.1zM176.4 130.1h1.1v1.1h-1.1zM161.6 144.1h1.1v1.1h-1.1zM159.5 148.4h1.1v1.1h-1.1zM157.9 156.1h1.1v1.1h-1.1zM161.4 151.1h1.1v1.1h-1.1zM154.1 132.0h1.1v1.1h-1.1zM149.4 134.7h1.1v1.1h-1.1zM134.7 141.1h1.1v1.1h-1.1zM154.2 143.6h1.1v1.1h-1.1zM163.2 162.2h1.1v1.1h-1.1zM152.8 139.2h1.1v1.1h-1.1zM147.9 166.2h1.1v1.1h-1.1zM159.6 129.9h1.1v1.1h-1.1zM147.4 165.5h1.1v1.1h-1.1zM166.5 151.9h1.1v1.1h-1.1zM166.8 129.7h1.1v1.1h-1.1zM146.2 173.1h1.1v1.1h-1.1zM148.9 146.8h1.1v1.1h-1.1zM173.2 138.0h1.1v1.1h-1.1zM171.7 116.0h1.1v1.1h-1.1zM156.2 132.6h1.1v1.1h-1.1zM147.1 132.9h1.1v1.1h-1.1zM159.6 108.1h1.1v1.1h-1.1zM172.5 136.1h1.1v1.1h-1.1zM180.4 157.4h1.1v1.1h-1.1zM159.6 168.8h1.1v1.1h-1.1zM152.7 162.5h1.1v1.1h-1.1zM139.6 158.0h1.1v1.1h-1.1zM145.5 153.6h1.1v1.1h-1.1zM170.4 159.4h1.1v1.1h-1.1zM148.3 160.9h1.1v1.1h-1.1zM145.7 153.4h1.1v1.1h-1.1zM156.8 162.7h1.1v1.1h-1.1zM174.6 151.5h1.1v1.1h-1.1zM150.1 134.4h1.1v1.1h-1.1zM154.2 141.9h1.1v1.1h-1.1zM156.2 145.8h1.1v1.1h-1.1zM152.1 132.0h1.1v1.1h-1.1zM132.5 135.4h1.1v1.1h-1.1zM182.1 132.1h1.1v1.1h-1.1zM158.6 136.8h1.1v1.1h-1.1zM138.5 145.2h1.1v1.1h-1.1zM155.2 155.6h1.1v1.1h-1.1zM185.8 132.6h1.1v1.1h-1.1zM204.4 167.8h1.1v1.1h-1.1zM163.1 162.6h1.1v1.1h-1.1zM159.4 169.2h1.1v1.1h-1.1zM151.3 123.6h1.1v1.1h-1.1zM144.1 145.7h1.1v1.1h-1.1zM162.9 141.9h1.1v1.1h-1.1zM176.0 165.2h1.1v1.1h-1.1zM167.1 161.8h1.1v1.1h-1.1zM159.6 179.8h1.1v1.1h-1.1zM140.9 169.7h1.1v1.1h-1.1zM179.7 123.8h1.1v1.1h-1.1zM155.7 149.8h1.1v1.1h-1.1zM177.6 154.1h1.1v1.1h-1.1zM162.1 143.4h1.1v1.1h-1.1zM154.2 169.7h1.1v1.1h-1.1zM157.9 134.7h1.1v1.1h-1.1zM156.3 145.6h1.1v1.1h-1.1zM139.6 134.7h1.1v1.1h-1.1zM159.5 155.4h1.1v1.1h-1.1zM155.9 163.2h1.1v1.1h-1.1zM146.0 151.2h1.1v1.1h-1.1zM168.3 112.3h1.1v1.1h-1.1zM170.5 156.4h1.1v1.1h-1.1zM160.6 160.6h1.1v1.1h-1.1zM146.7 121.0h1.1v1.1h-1.1zM141.1 132.5h1.1v1.1h-1.1zM173.8 163.7h1.1v1.1h-1.1zM160.8 140.2h1.1v1.1h-1.1zM173.9 125.1h1.1v1.1h-1.1zM176.4 143.5h1.1v1.1h-1.1zM166.5 148.7h1.1v1.1h-1.1zM142.1 156.0h1.1v1.1h-1.1zM189.0 157.0h1.1v1.1h-1.1zM159.8 136.4h1.1v1.1h-1.1zM155.3 164.5h1.1v1.1h-1.1zM135.0 151.5h1.1v1.1h-1.1zM140.9 155.8h1.1v1.1h-1.1zM176.6 147.2h1.1v1.1h-1.1zM141.3 139.8h1.1v1.1h-1.1zM173.0 143.5h1.1v1.1h-1.1zM154.5 140.2h1.1v1.1h-1.1zM173.1 154.9h1.1v1.1h-1.1zM166.0 128.5h1.1v1.1h-1.1zM178.3 169.4h1.1v1.1h-1.1zM147.7 117.6h1.1v1.1h-1.1zM160.3 145.0h1.1v1.1h-1.1zM169.5 149.6h1.1v1.1h-1.1zM177.4 172.2h1.1v1.1h-1.1zM159.9 147.9h1.1v1.1h-1.1zM178.0 155.2h1.1v1.1h-1.1zM159.2 157.6h1.1v1.1h-1.1zM163.1 173.8h1.1v1.1h-1.1zM138.6 135.1h1.1v1.1h-1.1zM143.0 178.0h1.1v1.1h-1.1zM168.2 152.1h1.1v1.1h-1.1zM180.4 115.9h1.1v1.1h-1.1zM157.2 142.9h1.1v1.1h-1.1zM134.7 142.9h1.1v1.1h-1.1zM148.4 134.9h1.1v1.1h-1.1zM167.8 168.3h1.1v1.1h-1.1zM160.6 157.3h1.1v1.1h-1.1zM147.3 160.8h1.1v1.1h-1.1zM168.7 139.9h1.1v1.1h-1.1zM139.7 159.1h1.1v1.1h-1.1zM153.6 146.3h1.1v1.1h-1.1zM173.0 150.7h1.1v1.1h-1.1zM185.0 151.8h1.1v1.1h-1.1zM119.5 158.6h1.1v1.1h-1.1zM160.9 123.0h1.1v1.1h-1.1zM161.1 145.7h1.1v1.1h-1.1zM149.9 179.2h1.1v1.1h-1.1zM140.1 137.5h1.1v1.1h-1.1zM148.1 126.7h1.1v1.1h-1.1zM160.9 160.6h1.1v1.1h-1.1zM170.7 152.9h1.1v1.1h-1.1zM135.5 146.3h1.1v1.1h-1.1zM165.7 128.7h1.1v1.1h-1.1zM155.2 173.3h1.1v1.1h-1.1zM175.4 149.2h1.1v1.1h-1.1zM155.7 147.8h1.1v1.1h-1.1zM152.3 161.6h1.1v1.1h-1.1zM140.9 144.0h1.1v1.1h-1.1zM164.3 135.0h1.1v1.1h-1.1zM173.6 159.0h1.1v1.1h-1.1zM173.8 159.5h1.1v1.1h-1.1zM150.8 135.9h1.1v1.1h-1.1zM177.0 143.6h1.1v1.1h-1.1zM174.9 162.3h1.1v1.1h-1.1zM155.8 150.5h1.1v1.1h-1.1zM171.3 152.5h1.1v1.1h-1.1zM150.1 166.8h1.1v1.1h-1.1zM162.2 163.7h1.1v1.1h-1.1zM156.5 154.1h1.1v1.1h-1.1zM153.7 135.1h1.1v1.1h-1.1zM155.0 129.0h1.1v1.1h-1.1zM165.2 153.4h1.1v1.1h-1.1zM176.0 164.4h1.1v1.1h-1.1zM144.0 150.1h1.1v1.1h-1.1zM174.7 110.6h1.1v1.1h-1.1zM155.3 147.1h1.1v1.1h-1.1zM151.1 172.6h1.1v1.1h-1.1zM152.2 165.0h1.1v1.1h-1.1zM146.6 150.3h1.1v1.1h-1.1zM154.5 169.8h1.1v1.1h-1.1zM156.7 127.9h1.1v1.1h-1.1zM190.1 128.1h1.1v1.1h-1.1zM166.0 141.0h1.1v1.1h-1.1zM158.3 158.4h1.1v1.1h-1.1zM127.7 157.2h1.1v1.1h-1.1zM155.4 164.7h1.1v1.1h-1.1zM152.9 172.4h1.1v1.1h-1.1zM166.8 139.7h1.1v1.1h-1.1zM165.2 158.6h1.1v1.1h-1.1zM160.8 133.5h1.1v1.1h-1.1zM147.7 134.7h1.1v1.1h-1.1zM152.1 138.0h1.1v1.1h-1.1zM147.6 138.7h1.1v1.1h-1.1zM144.7 169.8h1.1v1.1h-1.1zM147.1 145.6h1.1v1.1h-1.1zM139.2 167.3h1.1v1.1h-1.1zM155.2 165.1h1.1v1.1h-1.1zM144.7 142.2h1.1v1.1h-1.1zM138.9 169.5h1.1v1.1h-1.1zM190.9 152.4h1.1v1.1h-1.1zM169.0 150.4h1.1v1.1h-1.1zM182.2 148.3h1.1v1.1h-1.1zM167.1 137.1h1.1v1.1h-1.1zM156.6 146.9h1.1v1.1h-1.1zM171.7 157.8h1.1v1.1h-1.1zM151.5 156.7h1.1v1.1h-1.1zM166.8 138.2h1.1v1.1h-1.1zM152.9 159.5h1.1v1.1h-1.1zM156.3 139.2h1.1v1.1h-1.1zM177.9 152.7h1.1v1.1h-1.1zM154.4 176.9h1.1v1.1h-1.1zM151.0 152.7h1.1v1.1h-1.1zM140.4 158.6h1.1v1.1h-1.1zM148.2 123.4h1.1v1.1h-1.1zM160.9 152.4h1.1v1.1h-1.1zM184.4 158.9h1.1v1.1h-1.1zM155.7 143.8h1.1v1.1h-1.1zM152.1 157.4h1.1v1.1h-1.1zM153.9 139.1h1.1v1.1h-1.1zM152.6 162.6h1.1v1.1h-1.1zM153.4 152.5h1.1v1.1h-1.1zM132.6 148.3h1.1v1.1h-1.1zM172.6 134.8h1.1v1.1h-1.1zM133.9 167.5h1.1v1.1h-1.1zM172.9 127.8h1.1v1.1h-1.1zM156.4 151.5h1.1v1.1h-1.1zM172.2 169.9h1.1v1.1h-1.1zM167.8 174.9h1.1v1.1h-1.1zM156.0 151.1h1.1v1.1h-1.1zM151.3 160.8h1.1v1.1h-1.1zM191.1 160.0h1.1v1.1h-1.1zM157.6 123.2h1.1v1.1h-1.1zM173.5 169.3h1.1v1.1h-1.1zM184.4 127.8h1.1v1.1h-1.1zM171.2 126.2h1.1v1.1h-1.1zM131.0 137.0h1.1v1.1h-1.1zM153.9 139.0h1.1v1.1h-1.1zM156.7 149.3h1.1v1.1h-1.1zM182.6 139.6h1.1v1.1h-1.1zM146.9 126.8h1.1v1.1h-1.1zM162.4 119.3h1.1v1.1h-1.1zM172.4 133.8h1.1v1.1h-1.1zM151.9 131.0h1.1v1.1h-1.1zM162.2 133.0h1.1v1.1h-1.1zM153.7 158.3h1.1v1.1h-1.1zM171.5 171.3h1.1v1.1h-1.1zM150.4 152.9h1.1v1.1h-1.1zM141.4 152.1h1.1v1.1h-1.1zM160.1 144.1h1.1v1.1h-1.1zM169.3 170.5h1.1v1.1h-1.1zM138.7 150.9h1.1v1.1h-1.1zM152.7 155.5h1.1v1.1h-1.1zM153.4 151.4h1.1v1.1h-1.1zM179.9 166.4h1.1v1.1h-1.1zM136.3 172.3h1.1v1.1h-1.1zM136.5 128.8h1.1v1.1h-1.1zM150.7 147.7h1.1v1.1h-1.1zM166.0 154.6h1.1v1.1h-1.1zM160.9 149.1h1.1v1.1h-1.1zM152.9 155.7h1.1v1.1h-1.1zM144.1 174.4h1.1v1.1h-1.1zM143.5 137.1h1.1v1.1h-1.1zM182.3 159.1h1.1v1.1h-1.1zM144.2 159.4h1.1v1.1h-1.1zM170.6 153.1h1.1v1.1h-1.1zM155.8 173.6h1.1v1.1h-1.1zM145.7 152.9h1.1v1.1h-1.1zM165.8 120.6h1.1v1.1h-1.1zM162.0 134.8h1.1v1.1h-1.1zM164.5 162.5h1.1v1.1h-1.1zM185.6 141.3h1.1v1.1h-1.1zM183.6 124.0h1.1v1.1h-1.1zM138.2 172.4h1.1v1.1h-1.1zM153.3 154.3h1.1v1.1h-1.1zM156.6 120.2h1.1v1.1h-1.1zM174.5 142.9h1.1v1.1h-1.1zM174.0 150.8h1.1v1.1h-1.1zM164.7 190.9h1.1v1.1h-1.1zM162.7 156.7h1.1v1.1h-1.1zM139.0 157.0h1.1v1.1h-1.1zM142.7 133.2h1.1v1.1h-1.1zM151.0 149.3h1.1v1.1h-1.1zM140.5 156.7h1.1v1.1h-1.1zM136.0 172.3h1.1v1.1h-1.1zM162.8 148.3h1.1v1.1h-1.1zM161.4 145.8h1.1v1.1h-1.1zM165.5 130.0h1.1v1.1h-1.1zM160.4 168.9h1.1v1.1h-1.1zM128.5 113.8h1.1v1.1h-1.1zM183.2 162.3h1.1v1.1h-1.1zM148.3 133.2h1.1v1.1h-1.1zM151.4 131.7h1.1v1.1h-1.1zM171.6 143.2h1.1v1.1h-1.1zM148.6 122.7h1.1v1.1h-1.1zM156.9 154.8h1.1v1.1h-1.1zM189.5 123.1h1.1v1.1h-1.1zM166.2 125.4h1.1v1.1h-1.1zM182.8 122.4h1.1v1.1h-1.1zM160.5 162.6h1.1v1.1h-1.1zM156.9 136.1h1.1v1.1h-1.1zM161.1 170.0h1.1v1.1h-1.1zM169.2 158.7h1.1v1.1h-1.1zM187.4 158.7h1.1v1.1h-1.1zM166.2 137.2h1.1v1.1h-1.1zM155.6 160.9h1.1v1.1h-1.1zM149.8 143.9h1.1v1.1h-1.1zM166.7 143.5h1.1v1.1h-1.1zM132.7 147.6h1.1v1.1h-1.1zM172.6 147.9h1.1v1.1h-1.1zM169.8 126.8h1.1v1.1h-1.1zM173.8 144.3h1.1v1.1h-1.1zM162.3 135.5h1.1v1.1h-1.1zM181.7 157.5h1.1v1.1h-1.1zM191.7 147.6h1.1v1.1h-1.1zM164.8 157.8h1.1v1.1h-1.1zM137.6 137.7h1.1v1.1h-1.1zM149.6 174.6h1.1v1.1h-1.1zM166.8 137.1h1.1v1.1h-1.1zM170.6 121.6h1.1v1.1h-1.1zM162.7 152.0h1.1v1.1h-1.1zM179.4 152.5h1.1v1.1h-1.1zM134.8 155.5h1.1v1.1h-1.1zM192.3 145.1h1.1v1.1h-1.1zM163.3 138.2h1.1v1.1h-1.1zM166.0 125.7h1.1v1.1h-1.1zM170.1 189.6h1.1v1.1h-1.1zM145.5 153.0h1.1v1.1h-1.1zM152.3 150.3h1.1v1.1h-1.1zM173.2 164.9h1.1v1.1h-1.1zM180.8 160.9h1.1v1.1h-1.1zM156.1 196.3h1.1v1.1h-1.1zM175.4 159.6h1.1v1.1h-1.1zM153.0 157.9h1.1v1.1h-1.1zM174.8 164.9h1.1v1.1h-1.1zM160.3 151.4h1.1v1.1h-1.1zM163.9 137.4h1.1v1.1h-1.1zM151.0 124.3h1.1v1.1h-1.1zM148.9 171.4h1.1v1.1h-1.1zM165.0 132.7h1.1v1.1h-1.1zM154.1 118.4h1.1v1.1h-1.1zM159.9 166.0h1.1v1.1h-1.1zM149.1 133.6h1.1v1.1h-1.1zM155.8 156.6h1.1v1.1h-1.1zM165.1 150.6h1.1v1.1h-1.1zM169.2 147.6h1.1v1.1h-1.1zM159.2 174.0h1.1v1.1h-1.1zM155.0 143.3h1.1v1.1h-1.1zM174.5 147.3h1.1v1.1h-1.1zM164.4 126.0h1.1v1.1h-1.1zM151.4 148.7h1.1v1.1h-1.1zM162.5 162.2h1.1v1.1h-1.1zM170.4 159.3h1.1v1.1h-1.1zM160.6 160.0h1.1v1.1h-1.1zM164.5 174.6h1.1v1.1h-1.1zM158.6 152.6h1.1v1.1h-1.1zM179.7 168.0h1.1v1.1h-1.1zM145.8 143.9h1.1v1.1h-1.1zM159.3 152.0h1.1v1.1h-1.1zM148.9 121.6h1.1v1.1h-1.1zM171.5 152.0h1.1v1.1h-1.1zM164.9 140.5h1.1v1.1h-1.1zM176.0 141.8h1.1v1.1h-1.1zM188.0 152.9h1.1v1.1h-1.1zM185.0 159.7h1.1v1.1h-1.1zM159.9 171.0h1.1v1.1h-1.1zM158.0 155.3h1.1v1.1h-1.1zM175.9 128.1h1.1v1.1h-1.1zM164.0 146.5h1.1v1.1h-1.1zM173.0 144.4h1.1v1.1h-1.1zM172.4 143.3h1.1v1.1h-1.1zM148.7 141.7h1.1v1.1h-1.1zM185.6 134.7h1.1v1.1h-1.1zM147.3 156.5h1.1v1.1h-1.1zM139.6 158.7h1.1v1.1h-1.1zM153.8 140.2h1.1v1.1h-1.1zM139.6 139.6h1.1v1.1h-1.1zM175.2 146.6h1.1v1.1h-1.1zM162.5 158.2h1.1v1.1h-1.1zM173.3 141.3h1.1v1.1h-1.1zM165.0 173.7h1.1v1.1h-1.1zM164.0 137.4h1.1v1.1h-1.1zM163.2 130.1h1.1v1.1h-1.1zM170.5 130.3h1.1v1.1h-1.1zM152.3 161.5h1.1v1.1h-1.1zM145.1 143.0h1.1v1.1h-1.1zM175.6 132.7h1.1v1.1h-1.1zM154.5 146.6h1.1v1.1h-1.1zM140.1 153.0h1.1v1.1h-1.1zM170.4 164.8h1.1v1.1h-1.1zM146.1 165.4h1.1v1.1h-1.1zM170.2 149.3h1.1v1.1h-1.1zM168.5 145.8h1.1v1.1h-1.1zM159.2 166.9h1.1v1.1h-1.1zM161.4 169.5h1.1v1.1h-1.1zM155.2 147.6h1.1v1.1h-1.1zM147.7 149.9h1.1v1.1h-1.1zM171.9 113.6h1.1v1.1h-1.1zM141.0 150.0h1.1v1.1h-1.1zM161.3 122.5h1.1v1.1h-1.1zM150.5 171.9h1.1v1.1h-1.1zM168.1 128.7h1.1v1.1h-1.1zM162.5 120.2h1.1v1.1h-1.1zM158.1 142.5h1.1v1.1h-1.1zM171.8 143.4h1.1v1.1h-1.1zM147.5 147.7h1.1v1.1h-1.1zM189.3 143.6h1.1v1.1h-1.1zM170.9 138.2h1.1v1.1h-1.1zM146.5 151.4h1.1v1.1h-1.1zM152.4 160.0h1.1v1.1h-1.1zM166.1 161.3h1.1v1.1h-1.1zM157.2 163.5h1.1v1.1h-1.1zM158.3 158.7h1.1v1.1h-1.1zM137.2 145.8h1.1v1.1h-1.1zM160.7 157.9h1.1v1.1h-1.1zM157.8 160.6h1.1v1.1h-1.1zM155.0 133.7h1.1v1.1h-1.1zM162.8 146.4h1.1v1.1h-1.1zM165.5 123.3h1.1v1.1h-1.1zM137.4 168.3h1.1v1.1h-1.1zM168.6 157.6h1.1v1.1h-1.1zM180.1 154.1h1.1v1.1h-1.1zM176.8 146.2h1.1v1.1h-1.1zM195.9 119.3h1.1v1.1h-1.1zM166.0 113.1h1.1v1.1h-1.1zM160.8 163.8h1.1v1.1h-1.1zM165.5 154.2h1.1v1.1h-1.1zM162.0 144.7h1.1v1.1h-1.1zM152.3 152.0h1.1v1.1h-1.1zM158.7 173.9h1.1v1.1h-1.1zM163.3 160.2h1.1v1.1h-1.1zM166.4 142.2h1.1v1.1h-1.1zM145.4 166.7h1.1v1.1h-1.1zM143.8 153.8h1.1v1.1h-1.1zM173.2 141.4h1.1v1.1h-1.1zM183.5 162.8h1.1v1.1h-1.1zM160.3 144.6h1.1v1.1h-1.1zM184.1 132.3h1.1v1.1h-1.1zM167.3 146.5h1.1v1.1h-1.1zM180.4 156.7h1.1v1.1h-1.1zM151.0 167.4h1.1v1.1h-1.1zM151.2 169.8h1.1v1.1h-1.1zM169.5 157.1h1.1v1.1h-1.1zM174.4 146.7h1.1v1.1h-1.1zM170.4 144.2h1.1v1.1h-1.1zM167.6 131.3h1.1v1.1h-1.1zM182.6 122.7h1.1v1.1h-1.1zM142.9 153.5h1.1v1.1h-1.1zM159.7 163.8h1.1v1.1h-1.1zM140.8 138.3h1.1v1.1h-1.1zM165.1 146.4h1.1v1.1h-1.1zM158.9 157.1h1.1v1.1h-1.1zM163.1 135.0h1.1v1.1h-1.1zM138.0 136.8h1.1v1.1h-1.1zM149.5 120.1h1.1v1.1h-1.1zM164.4 165.9h1.1v1.1h-1.1zM154.0 171.1h1.1v1.1h-1.1zM176.7 160.9h1.1v1.1h-1.1zM135.5 141.9h1.1v1.1h-1.1zM181.1 145.7h1.1v1.1h-1.1zM170.2 162.2h1.1v1.1h-1.1zM153.1 140.2h1.1v1.1h-1.1zM167.4 129.3h1.1v1.1h-1.1zM162.1 151.4h1.1v1.1h-1.1zM152.7 140.3h1.1v1.1h-1.1zM146.9 119.3h1.1v1.1h-1.1zM138.8 183.3h1.1v1.1h-1.1zM159.6 150.3h1.1v1.1h-1.1zM152.8 154.6h1.1v1.1h-1.1zM180.8 145.1h1.1v1.1h-1.1zM153.4 157.5h1.1v1.1h-1.1zM162.3 160.4h1.1v1.1h-1.1zM132.9 133.3h1.1v1.1h-1.1zM188.9 143.6h1.1v1.1h-1.1zM164.5 171.3h1.1v1.1h-1.1zM168.3 163.0h1.1v1.1h-1.1zM157.7 113.3h1.1v1.1h-1.1zM155.4 159.8h1.1v1.1h-1.1zM160.4 155.3h1.1v1.1h-1.1zM154.1 138.9h1.1v1.1h-1.1zM154.9 157.6h1.1v1.1h-1.1zM196.2 157.7h1.1v1.1h-1.1zM155.0 151.7h1.1v1.1h-1.1zM168.0 158.2h1.1v1.1h-1.1zM162.4 139.7h1.1v1.1h-1.1zM153.5 163.8h1.1v1.1h-1.1zM176.6 136.1h1.1v1.1h-1.1zM174.9 136.3h1.1v1.1h-1.1zM188.6 163.1h1.1v1.1h-1.1zM173.4 152.2h1.1v1.1h-1.1zM158.2 174.4h1.1v1.1h-1.1zM132.8 139.5h1.1v1.1h-1.1zM180.0 146.7h1.1v1.1h-1.1zM164.3 136.3h1.1v1.1h-1.1zM184.3 124.7h1.1v1.1h-1.1zM126.2 146.8h1.1v1.1h-1.1zM167.1 141.5h1.1v1.1h-1.1zM133.6 149.0h1.1v1.1h-1.1zM159.4 148.8h1.1v1.1h-1.1zM151.6 136.9h1.1v1.1h-1.1zM172.1 166.8h1.1v1.1h-1.1zM160.0 152.3h1.1v1.1h-1.1zM165.0 178.5h1.1v1.1h-1.1zM128.7 162.1h1.1v1.1h-1.1zM160.2 134.3h1.1v1.1h-1.1zM154.9 153.9h1.1v1.1h-1.1zM155.2 149.2h1.1v1.1h-1.1zM161.9 135.6h1.1v1.1h-1.1zM162.1 149.3h1.1v1.1h-1.1zM159.2 158.3h1.1v1.1h-1.1zM166.7 150.1h1.1v1.1h-1.1zM162.4 161.5h1.1v1.1h-1.1zM160.3 170.8h1.1v1.1h-1.1zM153.0 134.0h1.1v1.1h-1.1zM131.9 156.0h1.1v1.1h-1.1zM156.7 143.7h1.1v1.1h-1.1zM177.8 167.6h1.1v1.1h-1.1zM156.2 145.3h1.1v1.1h-1.1zM159.7 168.8h1.1v1.1h-1.1zM158.8 152.2h1.1v1.1h-1.1zM134.5 153.2h1.1v1.1h-1.1zM160.2 132.4h1.1v1.1h-1.1zM136.9 156.4h1.1v1.1h-1.1zM132.9 181.6h1.1v1.1h-1.1zM131.5 136.3h1.1v1.1h-1.1zM139.6 138.3h1.1v1.1h-1.1zM182.8 138.8h1.1v1.1h-1.1zM134.6 151.9h1.1v1.1h-1.1zM168.9 153.7h1.1v1.1h-1.1zM133.3 152.1h1.1v1.1h-1.1zM144.9 145.0h1.1v1.1h-1.1zM186.6 135.6h1.1v1.1h-1.1zM174.3 159.2h1.1v1.1h-1.1zM132.4 176.5h1.1v1.1h-1.1zM145.2 144.8h1.1v1.1h-1.1zM151.0 162.6h1.1v1.1h-1.1zM153.3 129.7h1.1v1.1h-1.1zM177.4 145.3h1.1v1.1h-1.1zM162.7 156.6h1.1v1.1h-1.1zM173.9 147.9h1.1v1.1h-1.1zM154.7 147.0h1.1v1.1h-1.1zM155.0 157.7h1.1v1.1h-1.1zM160.0 132.9h1.1v1.1h-1.1zM148.4 148.5h1.1v1.1h-1.1zM162.9 141.7h1.1v1.1h-1.1zM154.9 151.0h1.1v1.1h-1.1zM164.8 141.3h1.1v1.1h-1.1zM147.5 166.1h1.1v1.1h-1.1zM145.4 145.8h1.1v1.1h-1.1zM165.7 140.7h1.1v1.1h-1.1zM172.2 134.5h1.1v1.1h-1.1zM173.2 163.8h1.1v1.1h-1.1zM157.2 156.5h1.1v1.1h-1.1zM152.1 160.0h1.1v1.1h-1.1zM175.8 141.2h1.1v1.1h-1.1zM165.6 148.2h1.1v1.1h-1.1zM179.0 141.2h1.1v1.1h-1.1zM172.4 154.8h1.1v1.1h-1.1zM164.2 142.3h1.1v1.1h-1.1zM166.3 175.0h1.1v1.1h-1.1zM147.6 164.3h1.1v1.1h-1.1zM193.5 121.4h1.1v1.1h-1.1zM176.8 156.9h1.1v1.1h-1.1zM156.7 128.2h1.1v1.1h-1.1zM154.8 147.9h1.1v1.1h-1.1zM175.5 129.7h1.1v1.1h-1.1zM174.4 140.1h1.1v1.1h-1.1zM177.6 151.8h1.1v1.1h-1.1zM146.3 146.9h1.1v1.1h-1.1zM148.3 165.4h1.1v1.1h-1.1zM158.0 139.7h1.1v1.1h-1.1zM157.4 178.6h1.1v1.1h-1.1zM157.2 142.5h1.1v1.1h-1.1zM139.5 161.5h1.1v1.1h-1.1zM147.1 137.5h1.1v1.1h-1.1zM153.0 153.1h1.1v1.1h-1.1zM175.2 132.5h1.1v1.1h-1.1zM147.6 156.2h1.1v1.1h-1.1zM166.4 158.6h1.1v1.1h-1.1zM173.4 182.1h1.1v1.1h-1.1zM159.5 128.9h1.1v1.1h-1.1zM146.0 138.9h1.1v1.1h-1.1zM170.1 131.9h1.1v1.1h-1.1zM155.6 152.1h1.1v1.1h-1.1zM162.7 177.1h1.1v1.1h-1.1zM193.2 116.5h1.1v1.1h-1.1zM145.9 164.5h1.1v1.1h-1.1zM179.5 153.6h1.1v1.1h-1.1zM163.0 155.2h1.1v1.1h-1.1zM152.4 164.5h1.1v1.1h-1.1zM146.1 131.5h1.1v1.1h-1.1zM177.2 155.3h1.1v1.1h-1.1zM149.7 118.5h1.1v1.1h-1.1zM183.6 163.4h1.1v1.1h-1.1zM146.2 133.9h1.1v1.1h-1.1zM154.1 163.5h1.1v1.1h-1.1zM173.0 125.3h1.1v1.1h-1.1zM179.2 167.3h1.1v1.1h-1.1zM160.2 124.4h1.1v1.1h-1.1zM154.4 160.7h1.1v1.1h-1.1zM144.2 160.3h1.1v1.1h-1.1zM168.2 143.6h1.1v1.1h-1.1zM163.3 171.0h1.1v1.1h-1.1zM166.1 137.9h1.1v1.1h-1.1zM158.3 139.4h1.1v1.1h-1.1zM154.0 172.0h1.1v1.1h-1.1zM140.7 182.9h1.1v1.1h-1.1zM134.7 194.4h1.1v1.1h-1.1zM178.3 153.5h1.1v1.1h-1.1zM148.9 155.3h1.1v1.1h-1.1zM131.1 128.0h1.1v1.1h-1.1zM184.8 151.8h1.1v1.1h-1.1zM168.1 111.9h1.1v1.1h-1.1zM158.0 122.8h1.1v1.1h-1.1zM151.2 135.5h1.1v1.1h-1.1zM141.3 172.2h1.1v1.1h-1.1zM147.7 150.3h1.1v1.1h-1.1zM169.1 173.5h1.1v1.1h-1.1zM170.6 126.7h1.1v1.1h-1.1zM176.0 154.8h1.1v1.1h-1.1zM172.9 162.1h1.1v1.1h-1.1zM167.0 151.7h1.1v1.1h-1.1zM162.3 124.5h1.1v1.1h-1.1zM141.5 149.2h1.1v1.1h-1.1zM161.3 154.3h1.1v1.1h-1.1zM166.1 149.1h1.1v1.1h-1.1zM152.9 131.6h1.1v1.1h-1.1zM163.0 141.1h1.1v1.1h-1.1zM148.4 141.9h1.1v1.1h-1.1zM165.5 133.4h1.1v1.1h-1.1zM105.5 224.5h1.1v1.1h-1.1zM115.3 206.7h1.1v1.1h-1.1zM133.6 213.7h1.1v1.1h-1.1zM108.5 214.4h1.1v1.1h-1.1zM110.9 218.8h1.1v1.1h-1.1zM114.4 213.8h1.1v1.1h-1.1zM104.0 227.9h1.1v1.1h-1.1zM109.4 201.7h1.1v1.1h-1.1zM106.7 219.1h1.1v1.1h-1.1zM112.8 209.8h1.1v1.1h-1.1zM105.9 202.6h1.1v1.1h-1.1zM111.3 220.4h1.1v1.1h-1.1zM130.9 206.3h1.1v1.1h-1.1zM111.3 214.8h1.1v1.1h-1.1zM121.6 218.9h1.1v1.1h-1.1zM112.6 212.2h1.1v1.1h-1.1zM112.3 216.3h1.1v1.1h-1.1zM111.3 204.9h1.1v1.1h-1.1zM121.5 213.8h1.1v1.1h-1.1zM93.1 215.5h1.1v1.1h-1.1zM99.4 217.2h1.1v1.1h-1.1zM109.2 201.4h1.1v1.1h-1.1zM117.3 220.2h1.1v1.1h-1.1zM119.3 215.0h1.1v1.1h-1.1zM102.4 225.6h1.1v1.1h-1.1zM108.7 221.8h1.1v1.1h-1.1zM107.4 203.3h1.1v1.1h-1.1zM103.1 201.0h1.1v1.1h-1.1zM97.0 209.7h1.1v1.1h-1.1zM96.9 210.0h1.1v1.1h-1.1zM108.8 219.8h1.1v1.1h-1.1zM105.3 204.9h1.1v1.1h-1.1zM100.4 223.1h1.1v1.1h-1.1zM106.7 214.3h1.1v1.1h-1.1zM107.6 226.6h1.1v1.1h-1.1zM127.0 214.5h1.1v1.1h-1.1zM102.1 210.2h1.1v1.1h-1.1zM90.5 211.1h1.1v1.1h-1.1zM115.1 219.6h1.1v1.1h-1.1zM101.1 213.8h1.1v1.1h-1.1zM103.2 214.4h1.1v1.1h-1.1zM120.0 216.6h1.1v1.1h-1.1zM99.2 210.0h1.1v1.1h-1.1zM99.8 215.2h1.1v1.1h-1.1zM104.0 200.7h1.1v1.1h-1.1zM100.9 220.9h1.1v1.1h-1.1zM94.6 203.8h1.1v1.1h-1.1zM111.7 205.6h1.1v1.1h-1.1zM104.1 218.8h1.1v1.1h-1.1zM95.8 209.0h1.1v1.1h-1.1zM105.1 214.0h1.1v1.1h-1.1zM115.4 217.4h1.1v1.1h-1.1zM109.0 199.6h1.1v1.1h-1.1zM108.1 209.4h1.1v1.1h-1.1zM114.0 201.1h1.1v1.1h-1.1zM109.8 218.6h1.1v1.1h-1.1zM102.9 222.6h1.1v1.1h-1.1zM102.3 220.8h1.1v1.1h-1.1zM101.2 206.0h1.1v1.1h-1.1zM118.2 199.3h1.1v1.1h-1.1zM132.3 212.6h1.1v1.1h-1.1zM97.3 192.0h1.1v1.1h-1.1zM99.7 218.9h1.1v1.1h-1.1zM132.1 209.5h1.1v1.1h-1.1zM116.0 223.8h1.1v1.1h-1.1zM88.6 217.1h1.1v1.1h-1.1zM121.4 215.3h1.1v1.1h-1.1zM110.4 226.3h1.1v1.1h-1.1zM124.1 213.4h1.1v1.1h-1.1zM107.5 214.3h1.1v1.1h-1.1zM110.3 207.1h1.1v1.1h-1.1zM108.5 199.7h1.1v1.1h-1.1zM135.2 210.7h1.1v1.1h-1.1zM102.7 227.7h1.1v1.1h-1.1zM106.2 216.1h1.1v1.1h-1.1zM134.4 205.1h1.1v1.1h-1.1zM108.5 217.5h1.1v1.1h-1.1zM118.8 206.6h1.1v1.1h-1.1zM102.2 197.0h1.1v1.1h-1.1zM118.4 210.4h1.1v1.1h-1.1zM101.6 217.0h1.1v1.1h-1.1zM121.3 206.5h1.1v1.1h-1.1zM114.3 216.2h1.1v1.1h-1.1zM98.2 217.2h1.1v1.1h-1.1zM103.3 214.2h1.1v1.1h-1.1zM97.9 200.2h1.1v1.1h-1.1zM110.3 218.5h1.1v1.1h-1.1zM107.9 197.8h1.1v1.1h-1.1zM115.6 223.9h1.1v1.1h-1.1zM100.8 212.6h1.1v1.1h-1.1zM106.7 210.4h1.1v1.1h-1.1zM107.6 223.3h1.1v1.1h-1.1zM114.5 196.0h1.1v1.1h-1.1zM104.1 211.8h1.1v1.1h-1.1zM94.5 188.7h1.1v1.1h-1.1zM117.9 217.7h1.1v1.1h-1.1zM112.8 210.9h1.1v1.1h-1.1zM122.2 220.9h1.1v1.1h-1.1zM127.3 216.0h1.1v1.1h-1.1zM115.1 201.7h1.1v1.1h-1.1zM103.6 224.2h1.1v1.1h-1.1zM118.8 220.5h1.1v1.1h-1.1zM107.3 197.2h1.1v1.1h-1.1zM101.8 222.4h1.1v1.1h-1.1zM88.7 217.3h1.1v1.1h-1.1zM98.9 208.6h1.1v1.1h-1.1zM94.1 227.1h1.1v1.1h-1.1zM109.9 213.7h1.1v1.1h-1.1zM137.5 207.0h1.1v1.1h-1.1zM110.9 221.1h1.1v1.1h-1.1zM110.6 215.4h1.1v1.1h-1.1zM90.9 207.1h1.1v1.1h-1.1zM98.9 202.8h1.1v1.1h-1.1zM111.6 199.1h1.1v1.1h-1.1zM119.6 223.2h1.1v1.1h-1.1zM88.4 198.6h1.1v1.1h-1.1zM88.1 190.0h1.1v1.1h-1.1zM111.2 196.4h1.1v1.1h-1.1zM105.8 209.1h1.1v1.1h-1.1zM98.8 194.2h1.1v1.1h-1.1zM101.3 192.6h1.1v1.1h-1.1zM115.6 201.7h1.1v1.1h-1.1zM122.2 192.2h1.1v1.1h-1.1zM102.9 176.2h1.1v1.1h-1.1zM93.9 189.7h1.1v1.1h-1.1zM114.5 191.1h1.1v1.1h-1.1zM97.6 228.0h1.1v1.1h-1.1zM113.9 187.3h1.1v1.1h-1.1zM121.9 184.9h1.1v1.1h-1.1zM127.8 187.6h1.1v1.1h-1.1zM120.4 180.2h1.1v1.1h-1.1zM90.7 216.9h1.1v1.1h-1.1zM119.9 214.9h1.1v1.1h-1.1zM113.8 180.2h1.1v1.1h-1.1zM120.9 216.9h1.1v1.1h-1.1zM100.8 214.6h1.1v1.1h-1.1zM97.8 180.4h1.1v1.1h-1.1zM122.9 184.2h1.1v1.1h-1.1zM126.8 181.2h1.1v1.1h-1.1zM128.4 207.6h1.1v1.1h-1.1zM122.6 195.4h1.1v1.1h-1.1zM105.8 207.3h1.1v1.1h-1.1zM109.9 190.1h1.1v1.1h-1.1zM114.3 200.9h1.1v1.1h-1.1zM126.2 197.6h1.1v1.1h-1.1zM93.3 183.3h1.1v1.1h-1.1zM126.9 176.9h1.1v1.1h-1.1zM104.6 190.7h1.1v1.1h-1.1zM120.9 213.6h1.1v1.1h-1.1zM90.6 176.7h1.1v1.1h-1.1zM108.3 201.5h1.1v1.1h-1.1zM99.0 209.8h1.1v1.1h-1.1zM124.1 221.7h1.1v1.1h-1.1zM114.2 191.8h1.1v1.1h-1.1zM108.5 196.3h1.1v1.1h-1.1zM95.9 206.9h1.1v1.1h-1.1zM92.2 183.0h1.1v1.1h-1.1zM118.8 199.7h1.1v1.1h-1.1zM118.6 206.4h1.1v1.1h-1.1zM116.3 202.4h1.1v1.1h-1.1zM124.5 225.3h1.1v1.1h-1.1zM116.9 225.9h1.1v1.1h-1.1zM118.3 227.7h1.1v1.1h-1.1zM128.9 206.3h1.1v1.1h-1.1zM128.0 183.5h1.1v1.1h-1.1zM118.5 188.4h1.1v1.1h-1.1zM122.4 188.2h1.1v1.1h-1.1zM125.0 226.1h1.1v1.1h-1.1zM123.3 221.6h1.1v1.1h-1.1zM119.4 191.4h1.1v1.1h-1.1zM119.7 210.7h1.1v1.1h-1.1zM125.2 191.5h1.1v1.1h-1.1zM119.6 186.8h1.1v1.1h-1.1zM117.8 205.3h1.1v1.1h-1.1zM123.6 225.5h1.1v1.1h-1.1zM122.3 225.7h1.1v1.1h-1.1zM121.1 213.7h1.1v1.1h-1.1zM126.5 215.7h1.1v1.1h-1.1zM118.7 189.9h1.1v1.1h-1.1zM126.0 196.3h1.1v1.1h-1.1zM126.6 204.2h1.1v1.1h-1.1zM118.3 207.1h1.1v1.1h-1.1zM118.5 196.2h1.1v1.1h-1.1zM125.6 192.5h1.1v1.1h-1.1zM116.3 188.4h1.1v1.1h-1.1zM118.7 212.9h1.1v1.1h-1.1zM119.3 197.5h1.1v1.1h-1.1zM123.0 223.2h1.1v1.1h-1.1zM116.4 186.0h1.1v1.1h-1.1zM119.5 182.2h1.1v1.1h-1.1zM119.9 220.0h1.1v1.1h-1.1zM121.6 186.5h1.1v1.1h-1.1zM127.4 205.5h1.1v1.1h-1.1zM122.0 225.2h1.1v1.1h-1.1zM178.5 177.5h1.1v1.1h-1.1zM151.8 222.1h1.1v1.1h-1.1zM190.8 191.5h1.1v1.1h-1.1zM189.9 226.2h1.1v1.1h-1.1zM167.7 211.7h1.1v1.1h-1.1zM198.0 212.8h1.1v1.1h-1.1zM174.8 202.3h1.1v1.1h-1.1zM164.5 218.1h1.1v1.1h-1.1zM178.1 212.9h1.1v1.1h-1.1zM151.9 199.9h1.1v1.1h-1.1zM161.8 218.8h1.1v1.1h-1.1zM182.3 202.8h1.1v1.1h-1.1zM168.8 163.4h1.1v1.1h-1.1zM167.2 199.9h1.1v1.1h-1.1zM155.2 190.6h1.1v1.1h-1.1zM177.9 196.6h1.1v1.1h-1.1zM197.8 192.9h1.1v1.1h-1.1zM172.1 195.4h1.1v1.1h-1.1zM187.7 203.6h1.1v1.1h-1.1zM152.5 184.6h1.1v1.1h-1.1zM182.3 216.9h1.1v1.1h-1.1zM186.9 167.1h1.1v1.1h-1.1zM99.6 129.4h1.1v1.1h-1.1zM188.7 96.5h1.1v1.1h-1.1zM117.8 167.9h1.1v1.1h-1.1zM189.3 184.1h1.1v1.1h-1.1zM216.7 195.0h1.1v1.1h-1.1zM201.5 139.9h1.1v1.1h-1.1zM193.3 177.4h1.1v1.1h-1.1zM234.6 212.6h1.1v1.1h-1.1zM227.4 138.5h1.1v1.1h-1.1zM155.8 225.3h1.1v1.1h-1.1zM244.6 226.1h1.1v1.1h-1.1zM106.0 124.7h1.1v1.1h-1.1zM159.4 69.0h1.1v1.1h-1.1zM120.8 87.9h1.1v1.1h-1.1zM151.0 119.0h1.1v1.1h-1.1zM215.3 218.5h1.1v1.1h-1.1zM233.8 164.7h1.1v1.1h-1.1zM104.2 228.2h1.1v1.1h-1.1zM212.3 91.2h1.1v1.1h-1.1zM128.3 95.8h1.1v1.1h-1.1zM196.3 87.2h1.1v1.1h-1.1zM94.6 93.5h1.1v1.1h-1.1zM180.5 126.9h1.1v1.1h-1.1zM123.3 174.7h1.1v1.1h-1.1zM246.1 119.3h1.1v1.1h-1.1z" fill="rgb(198,36,86)"/>
<path d="M410.6 108.5h1.1v1.1h-1.1zM402.2 88.4h1.1v1.1h-1.1zM433.2 126.0h1.1v1.1h-1.1zM403.4 122.1h1.1v1.1h-1.1zM411.9 108.2h1.1v1.1h-1.1zM421.7 110.7h1.1v1.1h-1.1zM403.4 105.7h1.1v1.1h-1.1zM414.4 113.0h1.1v1.1h-1.1zM415.6 107.6h1.1v1.1h-1.1zM409.8 104.6h1.1v1.1h-1.1zM419.8 116.0h1.1v1.1h-1.1zM412.6 118.3h1.1v1.1h-1.1zM393.8 122.2h1.1v1.1h-1.1zM436.8 96.8h1.1v1.1h-1.1zM383.8 98.2h1.1v1.1h-1.1zM419.8 115.4h1.1v1.1h-1.1zM423.1 121.6h1.1v1.1h-1.1zM410.9 117.0h1.1v1.1h-1.1zM405.6 123.1h1.1v1.1h-1.1zM392.2 109.6h1.1v1.1h-1.1zM411.4 132.9h1.1v1.1h-1.1zM397.3 102.7h1.1v1.1h-1.1zM400.1 124.2h1.1v1.1h-1.1zM404.7 127.9h1.1v1.1h-1.1zM381.8 125.8h1.1v1.1h-1.1zM422.5 99.1h1.1v1.1h-1.1zM410.2 126.8h1.1v1.1h-1.1zM409.2 124.5h1.1v1.1h-1.1zM441.2 116.9h1.1v1.1h-1.1zM404.1 105.9h1.1v1.1h-1.1zM417.1 111.9h1.1v1.1h-1.1zM405.5 112.9h1.1v1.1h-1.1zM417.1 102.8h1.1v1.1h-1.1zM386.6 88.4h1.1v1.1h-1.1zM424.8 114.8h1.1v1.1h-1.1zM429.1 113.9h1.1v1.1h-1.1zM397.6 119.0h1.1v1.1h-1.1zM406.9 100.8h1.1v1.1h-1.1zM395.6 132.6h1.1v1.1h-1.1zM413.0 118.4h1.1v1.1h-1.1zM404.1 106.8h1.1v1.1h-1.1zM420.5 112.9h1.1v1.1h-1.1zM397.4 112.6h1.1v1.1h-1.1zM395.3 116.0h1.1v1.1h-1.1zM423.8 105.2h1.1v1.1h-1.1zM428.0 107.0h1.1v1.1h-1.1zM410.1 105.2h1.1v1.1h-1.1zM404.9 114.5h1.1v1.1h-1.1zM401.9 106.6h1.1v1.1h-1.1zM398.5 105.4h1.1v1.1h-1.1zM386.0 111.2h1.1v1.1h-1.1zM413.6 123.5h1.1v1.1h-1.1zM417.1 139.8h1.1v1.1h-1.1zM412.5 109.2h1.1v1.1h-1.1zM434.2 103.0h1.1v1.1h-1.1zM421.6 104.0h1.1v1.1h-1.1zM413.0 93.3h1.1v1.1h-1.1zM420.6 112.3h1.1v1.1h-1.1zM394.5 131.6h1.1v1.1h-1.1zM418.7 114.5h1.1v1.1h-1.1zM397.6 113.5h1.1v1.1h-1.1zM405.7 121.6h1.1v1.1h-1.1zM419.2 107.0h1.1v1.1h-1.1zM400.3 108.4h1.1v1.1h-1.1zM389.1 107.8h1.1v1.1h-1.1zM406.7 121.3h1.1v1.1h-1.1zM426.5 105.5h1.1v1.1h-1.1zM415.7 109.3h1.1v1.1h-1.1zM437.1 113.5h1.1v1.1h-1.1zM415.0 104.2h1.1v1.1h-1.1zM396.7 116.1h1.1v1.1h-1.1zM402.6 117.7h1.1v1.1h-1.1zM386.1 121.0h1.1v1.1h-1.1zM395.4 132.1h1.1v1.1h-1.1zM404.0 125.5h1.1v1.1h-1.1zM388.5 118.5h1.1v1.1h-1.1zM395.6 108.9h1.1v1.1h-1.1zM408.3 110.7h1.1v1.1h-1.1zM411.7 121.9h1.1v1.1h-1.1zM417.1 113.1h1.1v1.1h-1.1zM388.9 105.6h1.1v1.1h-1.1zM405.3 91.7h1.1v1.1h-1.1zM418.5 111.5h1.1v1.1h-1.1zM404.5 124.0h1.1v1.1h-1.1zM417.4 116.3h1.1v1.1h-1.1zM394.0 117.3h1.1v1.1h-1.1zM412.8 104.7h1.1v1.1h-1.1zM422.6 119.3h1.1v1.1h-1.1zM380.4 115.3h1.1v1.1h-1.1zM390.3 125.9h1.1v1.1h-1.1zM419.3 102.4h1.1v1.1h-1.1zM395.6 115.1h1.1v1.1h-1.1zM404.7 130.0h1.1v1.1h-1.1zM418.4 111.0h1.1v1.1h-1.1zM416.1 92.7h1.1v1.1h-1.1zM412.3 123.1h1.1v1.1h-1.1zM405.5 106.5h1.1v1.1h-1.1zM415.9 134.6h1.1v1.1h-1.1zM410.9 102.2h1.1v1.1h-1.1zM428.2 94.3h1.1v1.1h-1.1zM415.0 107.9h1.1v1.1h-1.1zM421.0 105.1h1.1v1.1h-1.1zM426.5 117.2h1.1v1.1h-1.1zM383.8 93.3h1.1v1.1h-1.1zM403.6 127.6h1.1v1.1h-1.1zM409.8 114.7h1.1v1.1h-1.1zM404.7 121.7h1.1v1.1h-1.1zM413.3 116.9h1.1v1.1h-1.1zM394.2 126.5h1.1v1.1h-1.1zM427.1 100.3h1.1v1.1h-1.1zM440.2 121.6h1.1v1.1h-1.1zM401.2 94.0h1.1v1.1h-1.1zM417.2 119.9h1.1v1.1h-1.1zM399.7 95.2h1.1v1.1h-1.1zM423.7 107.8h1.1v1.1h-1.1zM401.4 143.9h1.1v1.1h-1.1zM437.8 124.0h1.1v1.1h-1.1zM401.6 120.8h1.1v1.1h-1.1zM376.1 115.1h1.1v1.1h-1.1zM397.4 100.5h1.1v1.1h-1.1zM385.8 119.5h1.1v1.1h-1.1zM409.3 115.7h1.1v1.1h-1.1zM419.8 105.1h1.1v1.1h-1.1zM390.7 95.3h1.1v1.1h-1.1zM403.3 122.0h1.1v1.1h-1.1zM405.9 120.7h1.1v1.1h-1.1zM391.5 109.1h1.1v1.1h-1.1zM397.3 100.9h1.1v1.1h-1.1zM434.0 122.9h1.1v1.1h-1.1zM397.3 106.0h1.1v1.1h-1.1zM407.2 98.9h1.1v1.1h-1.1zM414.1 100.4h1.1v1.1h-1.1zM402.8 103.2h1.1v1.1h-1.1zM401.3 100.0h1.1v1.1h-1.1zM386.0 103.9h1.1v1.1h-1.1zM398.5 110.9h1.1v1.1h-1.1zM409.0 130.0h1.1v1.1h-1.1zM419.4 111.3h1.1v1.1h-1.1zM418.2 106.8h1.1v1.1h-1.1zM428.3 119.8h1.1v1.1h-1.1zM389.0 121.9h1.1v1.1h-1.1zM419.4 85.8h1.1v1.1h-1.1zM397.5 109.0h1.1v1.1h-1.1zM381.0 102.8h1.1v1.1h-1.1zM394.7 119.3h1.1v1.1h-1.1zM412.2 141.6h1.1v1.1h-1.1zM402.5 126.1h1.1v1.1h-1.1zM409.1 116.8h1.1v1.1h-1.1zM391.8 93.9h1.1v1.1h-1.1zM397.3 122.0h1.1v1.1h-1.1zM430.2 120.3h1.1v1.1h-1.1zM415.0 105.2h1.1v1.1h-1.1zM429.5 128.1h1.1v1.1h-1.1zM400.6 113.5h1.1v1.1h-1.1zM394.1 129.4h1.1v1.1h-1.1zM413.7 113.0h1.1v1.1h-1.1zM413.7 118.6h1.1v1.1h-1.1zM402.2 101.0h1.1v1.1h-1.1zM390.0 95.7h1.1v1.1h-1.1zM414.5 137.3h1.1v1.1h-1.1zM384.2 115.5h1.1v1.1h-1.1zM413.8 103.7h1.1v1.1h-1.1zM410.9 102.5h1.1v1.1h-1.1zM424.8 107.8h1.1v1.1h-1.1zM409.4 121.2h1.1v1.1h-1.1zM402.0 95.2h1.1v1.1h-1.1zM400.6 122.0h1.1v1.1h-1.1zM406.8 116.4h1.1v1.1h-1.1zM392.9 115.5h1.1v1.1h-1.1zM418.2 114.4h1.1v1.1h-1.1zM434.7 111.8h1.1v1.1h-1.1zM393.4 97.0h1.1v1.1h-1.1zM424.1 113.4h1.1v1.1h-1.1zM422.2 118.8h1.1v1.1h-1.1zM430.8 127.3h1.1v1.1h-1.1zM402.7 116.9h1.1v1.1h-1.1zM423.2 101.0h1.1v1.1h-1.1zM428.3 126.7h1.1v1.1h-1.1zM421.8 111.9h1.1v1.1h-1.1zM412.2 102.3h1.1v1.1h-1.1zM408.8 107.8h1.1v1.1h-1.1zM409.2 108.8h1.1v1.1h-1.1zM412.0 126.4h1.1v1.1h-1.1zM389.7 123.7h1.1v1.1h-1.1zM380.1 91.3h1.1v1.1h-1.1zM406.3 114.1h1.1v1.1h-1.1zM414.2 96.7h1.1v1.1h-1.1zM407.2 115.3h1.1v1.1h-1.1zM425.6 112.9h1.1v1.1h-1.1zM415.4 103.7h1.1v1.1h-1.1zM405.4 109.3h1.1v1.1h-1.1zM417.8 103.6h1.1v1.1h-1.1zM396.3 120.0h1.1v1.1h-1.1zM433.1 118.0h1.1v1.1h-1.1zM412.2 110.4h1.1v1.1h-1.1zM423.2 119.7h1.1v1.1h-1.1zM432.3 117.5h1.1v1.1h-1.1zM394.7 108.0h1.1v1.1h-1.1zM394.2 100.9h1.1v1.1h-1.1zM425.7 122.5h1.1v1.1h-1.1zM390.7 132.7h1.1v1.1h-1.1zM411.4 104.0h1.1v1.1h-1.1zM413.4 113.3h1.1v1.1h-1.1zM397.2 93.6h1.1v1.1h-1.1zM408.5 117.1h1.1v1.1h-1.1zM371.9 119.8h1.1v1.1h-1.1zM416.6 109.1h1.1v1.1h-1.1zM409.6 111.1h1.1v1.1h-1.1zM396.3 110.2h1.1v1.1h-1.1zM426.9 98.8h1.1v1.1h-1.1zM411.3 115.9h1.1v1.1h-1.1zM398.1 109.4h1.1v1.1h-1.1zM388.4 105.1h1.1v1.1h-1.1zM408.2 117.4h1.1v1.1h-1.1zM395.4 146.1h1.1v1.1h-1.1zM400.0 115.3h1.1v1.1h-1.1zM404.8 109.8h1.1v1.1h-1.1zM426.2 109.0h1.1v1.1h-1.1zM426.7 126.0h1.1v1.1h-1.1zM393.4 124.9h1.1v1.1h-1.1zM398.9 142.7h1.1v1.1h-1.1zM402.6 104.1h1.1v1.1h-1.1zM381.2 100.4h1.1v1.1h-1.1zM399.9 103.5h1.1v1.1h-1.1zM390.8 106.7h1.1v1.1h-1.1zM405.1 129.2h1.1v1.1h-1.1zM384.2 108.2h1.1v1.1h-1.1zM394.6 98.1h1.1v1.1h-1.1zM390.3 104.5h1.1v1.1h-1.1zM418.0 112.0h1.1v1.1h-1.1zM400.5 120.4h1.1v1.1h-1.1zM411.9 111.7h1.1v1.1h-1.1zM413.4 105.3h1.1v1.1h-1.1zM416.8 118.9h1.1v1.1h-1.1zM402.2 101.2h1.1v1.1h-1.1zM429.3 115.0h1.1v1.1h-1.1zM450.7 107.1h1.1v1.1h-1.1zM419.9 109.4h1.1v1.1h-1.1zM411.6 122.8h1.1v1.1h-1.1zM396.8 112.9h1.1v1.1h-1.1zM410.3 115.2h1.1v1.1h-1.1zM416.4 124.8h1.1v1.1h-1.1zM419.7 116.8h1.1v1.1h-1.1zM403.1 102.1h1.1v1.1h-1.1zM397.7 108.5h1.1v1.1h-1.1zM417.6 110.2h1.1v1.1h-1.1zM390.6 120.6h1.1v1.1h-1.1zM396.8 106.0h1.1v1.1h-1.1zM404.8 119.0h1.1v1.1h-1.1zM374.2 102.2h1.1v1.1h-1.1zM410.5 110.2h1.1v1.1h-1.1zM395.9 108.3h1.1v1.1h-1.1zM427.4 109.2h1.1v1.1h-1.1zM418.0 122.3h1.1v1.1h-1.1zM401.7 118.7h1.1v1.1h-1.1zM401.7 107.6h1.1v1.1h-1.1zM392.2 123.2h1.1v1.1h-1.1zM402.4 108.2h1.1v1.1h-1.1zM392.2 133.0h1.1v1.1h-1.1zM418.4 112.6h1.1v1.1h-1.1zM398.3 97.9h1.1v1.1h-1.1zM412.1 117.0h1.1v1.1h-1.1zM388.3 126.2h1.1v1.1h-1.1zM418.9 103.9h1.1v1.1h-1.1zM400.2 109.5h1.1v1.1h-1.1zM410.2 112.5h1.1v1.1h-1.1zM385.1 129.5h1.1v1.1h-1.1zM412.4 127.2h1.1v1.1h-1.1zM425.6 111.8h1.1v1.1h-1.1zM412.8 121.7h1.1v1.1h-1.1zM418.8 112.3h1.1v1.1h-1.1zM399.3 114.4h1.1v1.1h-1.1zM396.8 108.2h1.1v1.1h-1.1zM379.6 114.9h1.1v1.1h-1.1zM393.6 108.2h1.1v1.1h-1.1zM407.3 117.3h1.1v1.1h-1.1zM434.4 116.1h1.1v1.1h-1.1zM388.2 115.4h1.1v1.1h-1.1zM399.7 118.2h1.1v1.1h-1.1zM398.4 106.6h1.1v1.1h-1.1zM400.8 107.4h1.1v1.1h-1.1zM382.5 107.0h1.1v1.1h-1.1zM407.8 126.6h1.1v1.1h-1.1zM403.9 110.1h1.1v1.1h-1.1zM416.1 119.7h1.1v1.1h-1.1zM430.4 120.1h1.1v1.1h-1.1zM407.7 128.1h1.1v1.1h-1.1zM429.4 109.0h1.1v1.1h-1.1zM410.2 96.4h1.1v1.1h-1.1zM402.9 104.7h1.1v1.1h-1.1zM405.0 108.9h1.1v1.1h-1.1zM405.7 112.9h1.1v1.1h-1.1zM414.9 116.4h1.1v1.1h-1.1zM400.1 100.5h1.1v1.1h-1.1zM425.3 128.9h1.1v1.1h-1.1zM401.6 119.9h1.1v1.1h-1.1zM386.6 97.6h1.1v1.1h-1.1zM404.2 129.5h1.1v1.1h-1.1zM393.3 105.2h1.1v1.1h-1.1zM430.5 94.1h1.1v1.1h-1.1zM417.0 119.1h1.1v1.1h-1.1zM405.1 116.0h1.1v1.1h-1.1zM444.7 102.2h1.1v1.1h-1.1zM403.6 111.5h1.1v1.1h-1.1zM398.3 99.9h1.1v1.1h-1.1zM430.3 116.3h1.1v1.1h-1.1zM383.4 106.6h1.1v1.1h-1.1zM413.7 118.2h1.1v1.1h-1.1zM387.8 113.0h1.1v1.1h-1.1zM411.7 118.1h1.1v1.1h-1.1zM413.5 94.9h1.1v1.1h-1.1zM433.9 116.2h1.1v1.1h-1.1zM433.3 144.1h1.1v1.1h-1.1zM405.8 101.0h1.1v1.1h-1.1zM420.1 112.1h1.1v1.1h-1.1zM401.7 103.2h1.1v1.1h-1.1zM431.6 109.4h1.1v1.1h-1.1zM388.4 109.3h1.1v1.1h-1.1zM391.8 115.7h1.1v1.1h-1.1zM402.1 102.9h1.1v1.1h-1.1zM416.4 107.2h1.1v1.1h-1.1zM418.1 127.2h1.1v1.1h-1.1zM402.9 107.2h1.1v1.1h-1.1zM410.8 123.4h1.1v1.1h-1.1zM408.0 115.5h1.1v1.1h-1.1zM407.6 117.3h1.1v1.1h-1.1zM416.8 106.6h1.1v1.1h-1.1zM401.2 114.5h1.1v1.1h-1.1zM398.7 115.4h1.1v1.1h-1.1zM415.5 113.8h1.1v1.1h-1.1zM399.6 105.8h1.1v1.1h-1.1zM432.5 123.2h1.1v1.1h-1.1zM392.3 105.2h1.1v1.1h-1.1zM434.2 129.9h1.1v1.1h-1.1zM409.8 126.2h1.1v1.1h-1.1zM387.2 114.0h1.1v1.1h-1.1zM418.4 94.5h1.1v1.1h-1.1zM397.0 122.2h1.1v1.1h-1.1zM423.8 107.8h1.1v1.1h-1.1zM412.1 130.8h1.1v1.1h-1.1zM402.7 100.0h1.1v1.1h-1.1zM407.1 109.9h1.1v1.1h-1.1zM426.2 115.7h1.1v1.1h-1.1zM396.8 139.2h1.1v1.1h-1.1zM401.0 119.0h1.1v1.1h-1.1zM417.5 122.2h1.1v1.1h-1.1zM410.4 120.2h1.1v1.1h-1.1zM407.0 99.1h1.1v1.1h-1.1zM404.9 111.9h1.1v1.1h-1.1zM405.5 115.4h1.1v1.1h-1.1zM399.3 127.9h1.1v1.1h-1.1zM429.9 90.9h1.1v1.1h-1.1zM408.1 106.5h1.1v1.1h-1.1zM371.5 118.3h1.1v1.1h-1.1zM399.3 110.1h1.1v1.1h-1.1zM398.9 125.4h1.1v1.1h-1.1zM425.4 116.9h1.1v1.1h-1.1zM417.7 112.8h1.1v1.1h-1.1zM410.0 106.2h1.1v1.1h-1.1zM408.5 106.5h1.1v1.1h-1.1zM413.2 122.7h1.1v1.1h-1.1zM412.4 126.4h1.1v1.1h-1.1zM445.7 91.9h1.1v1.1h-1.1zM408.2 108.0h1.1v1.1h-1.1zM401.6 99.7h1.1v1.1h-1.1zM408.7 111.3h1.1v1.1h-1.1zM399.1 111.3h1.1v1.1h-1.1zM399.7 89.4h1.1v1.1h-1.1zM423.1 110.8h1.1v1.1h-1.1zM394.7 117.2h1.1v1.1h-1.1zM398.7 91.2h1.1v1.1h-1.1zM420.4 96.4h1.1v1.1h-1.1zM404.9 115.3h1.1v1.1h-1.1zM426.9 126.5h1.1v1.1h-1.1zM410.3 106.0h1.1v1.1h-1.1zM402.2 125.4h1.1v1.1h-1.1zM433.0 119.7h1.1v1.1h-1.1zM399.0 124.8h1.1v1.1h-1.1zM402.7 109.7h1.1v1.1h-1.1zM404.1 120.2h1.1v1.1h-1.1zM411.9 124.4h1.1v1.1h-1.1zM426.1 119.4h1.1v1.1h-1.1zM375.3 96.2h1.1v1.1h-1.1zM410.2 113.3h1.1v1.1h-1.1zM438.2 113.7h1.1v1.1h-1.1zM405.9 123.9h1.1v1.1h-1.1zM422.9 111.5h1.1v1.1h-1.1zM414.6 102.1h1.1v1.1h-1.1zM394.8 126.9h1.1v1.1h-1.1zM388.3 123.7h1.1v1.1h-1.1zM417.5 122.1h1.1v1.1h-1.1zM420.8 119.9h1.1v1.1h-1.1zM378.0 103.5h1.1v1.1h-1.1zM399.6 123.6h1.1v1.1h-1.1zM392.2 106.6h1.1v1.1h-1.1zM402.9 127.8h1.1v1.1h-1.1zM387.8 99.8h1.1v1.1h-1.1zM416.8 91.7h1.1v1.1h-1.1zM412.6 109.2h1.1v1.1h-1.1zM385.9 109.6h1.1v1.1h-1.1zM394.0 115.8h1.1v1.1h-1.1zM413.1 129.6h1.1v1.1h-1.1zM407.8 115.1h1.1v1.1h-1.1zM399.9 113.8h1.1v1.1h-1.1zM422.7 93.8h1.1v1.1h-1.1zM417.2 108.4h1.1v1.1h-1.1zM409.0 117.4h1.1v1.1h-1.1zM419.9 116.5h1.1v1.1h-1.1zM402.5 117.3h1.1v1.1h-1.1zM408.2 111.9h1.1v1.1h-1.1zM410.9 123.2h1.1v1.1h-1.1zM409.9 115.6h1.1v1.1h-1.1zM390.0 112.7h1.1v1.1h-1.1zM382.0 121.6h1.1v1.1h-1.1zM394.9 127.6h1.1v1.1h-1.1zM449.9 109.8h1.1v1.1h-1.1zM426.6 118.2h1.1v1.1h-1.1zM400.2 105.2h1.1v1.1h-1.1zM415.9 128.6h1.1v1.1h-1.1zM413.0 98.1h1.1v1.1h-1.1zM393.4 111.6h1.1v1.1h-1.1zM427.0 117.0h1.1v1.1h-1.1zM412.6 126.7h1.1v1.1h-1.1zM405.1 113.1h1.1v1.1h-1.1zM405.5 95.3h1.1v1.1h-1.1zM414.5 118.3h1.1v1.1h-1.1zM421.7 101.5h1.1v1.1h-1.1zM396.6 123.8h1.1v1.1h-1.1zM412.5 128.4h1.1v1.1h-1.1zM395.9 116.1h1.1v1.1h-1.1zM398.5 117.3h1.1v1.1h-1.1zM401.2 119.6h1.1v1.1h-1.1zM423.1 121.1h1.1v1.1h-1.1zM382.7 123.9h1.1v1.1h-1.1zM414.3 103.0h1.1v1.1h-1.1zM395.6 114.1h1.1v1.1h-1.1zM416.0 109.3h1.1v1.1h-1.1zM385.3 117.0h1.1v1.1h-1.1zM410.4 139.6h1.1v1.1h-1.1zM390.0 140.5h1.1v1.1h-1.1zM432.4 117.2h1.1v1.1h-1.1zM431.2 115.0h1.1v1.1h-1.1zM421.7 106.3h1.1v1.1h-1.1zM409.1 103.3h1.1v1.1h-1.1zM385.9 111.1h1.1v1.1h-1.1zM398.8 120.0h1.1v1.1h-1.1zM425.8 112.2h1.1v1.1h-1.1zM408.8 116.0h1.1v1.1h-1.1zM384.5 116.8h1.1v1.1h-1.1zM408.2 113.5h1.1v1.1h-1.1zM392.6 93.2h1.1v1.1h-1.1zM404.5 117.3h1.1v1.1h-1.1zM426.8 125.9h1.1v1.1h-1.1zM428.4 117.9h1.1v1.1h-1.1zM424.2 111.8h1.1v1.1h-1.1zM416.8 123.8h1.1v1.1h-1.1zM445.7 116.5h1.1v1.1h-1.1zM390.2 128.5h1.1v1.1h-1.1zM396.9 113.4h1.1v1.1h-1.1zM403.9 104.5h1.1v1.1h-1.1zM426.7 120.3h1.1v1.1h-1.1zM399.4 114.7h1.1v1.1h-1.1zM401.9 120.5h1.1v1.1h-1.1zM402.7 106.0h1.1v1.1h-1.1zM399.0 109.4h1.1v1.1h-1.1zM412.1 104.4h1.1v1.1h-1.1zM406.7 118.7h1.1v1.1h-1.1zM440.7 123.0h1.1v1.1h-1.1zM366.2 108.6h1.1v1.1h-1.1zM402.4 117.4h1.1v1.1h-1.1zM430.0 121.8h1.1v1.1h-1.1zM375.8 117.2h1.1v1.1h-1.1zM409.5 118.3h1.1v1.1h-1.1zM427.0 102.5h1.1v1.1h-1.1zM423.4 96.6h1.1v1.1h-1.1zM408.7 118.0h1.1v1.1h-1.1zM440.0 106.6h1.1v1.1h-1.1zM384.3 121.2h1.1v1.1h-1.1zM398.7 130.4h1.1v1.1h-1.1zM398.1 104.8h1.1v1.1h-1.1zM425.4 114.9h1.1v1.1h-1.1zM422.0 99.0h1.1v1.1h-1.1zM431.1 107.8h1.1v1.1h-1.1zM419.5 103.4h1.1v1.1h-1.1zM386.3 111.3h1.1v1.1h-1.1zM410.4 130.6h1.1v1.1h-1.1zM412.9 121.5h1.1v1.1h-1.1zM417.2 146.7h1.1v1.1h-1.1zM396.5 127.2h1.1v1.1h-1.1zM405.9 116.7h1.1v1.1h-1.1zM400.3 126.2h1.1v1.1h-1.1zM390.4 100.1h1.1v1.1h-1.1zM405.1 101.8h1.1v1.1h-1.1zM417.8 123.7h1.1v1.1h-1.1zM397.5 122.2h1.1v1.1h-1.1zM398.7 113.5h1.1v1.1h-1.1zM408.1 133.7h1.1v1.1h-1.1zM408.0 104.4h1.1v1.1h-1.1zM395.2 126.6h1.1v1.1h-1.1zM384.6 109.1h1.1v1.1h-1.1zM402.7 88.3h1.1v1.1h-1.1zM401.4 124.5h1.1v1.1h-1.1zM411.2 104.5h1.1v1.1h-1.1zM417.7 119.4h1.1v1.1h-1.1zM436.3 106.2h1.1v1.1h-1.1zM402.6 114.4h1.1v1.1h-1.1zM406.1 114.9h1.1v1.1h-1.1zM406.5 106.7h1.1v1.1h-1.1zM385.5 108.1h1.1v1.1h-1.1zM388.5 103.0h1.1v1.1h-1.1zM400.3 119.3h1.1v1.1h-1.1zM419.9 103.0h1.1v1.1h-1.1zM412.2 122.3h1.1v1.1h-1.1zM407.2 96.6h1.1v1.1h-1.1zM377.6 122.2h1.1v1.1h-1.1zM420.6 116.7h1.1v1.1h-1.1zM393.0 129.0h1.1v1.1h-1.1zM424.7 113.3h1.1v1.1h-1.1zM404.5 93.2h1.1v1.1h-1.1zM418.2 96.8h1.1v1.1h-1.1zM417.2 121.4h1.1v1.1h-1.1zM409.0 130.3h1.1v1.1h-1.1zM403.1 119.9h1.1v1.1h-1.1zM418.8 116.3h1.1v1.1h-1.1zM401.8 126.7h1.1v1.1h-1.1zM413.6 111.7h1.1v1.1h-1.1zM405.3 115.1h1.1v1.1h-1.1zM439.6 114.9h1.1v1.1h-1.1zM404.3 102.6h1.1v1.1h-1.1zM390.6 93.8h1.1v1.1h-1.1zM410.9 114.0h1.1v1.1h-1.1zM393.2 98.1h1.1v1.1h-1.1zM403.1 108.2h1.1v1.1h-1.1zM388.9 116.9h1.1v1.1h-1.1zM409.6 113.2h1.1v1.1h-1.1zM418.4 106.8h1.1v1.1h-1.1zM426.6 103.0h1.1v1.1h-1.1zM414.8 120.4h1.1v1.1h-1.1zM403.9 117.4h1.1v1.1h-1.1zM389.6 97.9h1.1v1.1h-1.1zM404.7 106.0h1.1v1.1h-1.1zM415.8 114.0h1.1v1.1h-1.1zM416.2 117.0h1.1v1.1h-1.1zM410.4 114.6h1.1v1.1h-1.1zM402.3 108.8h1.1v1.1h-1.1zM436.0 95.2h1.1v1.1h-1.1zM404.9 124.2h1.1v1.1h-1.1zM413.4 128.4h1.1v1.1h-1.1zM415.2 100.4h1.1v1.1h-1.1zM402.9 98.9h1.1v1.1h-1.1zM421.3 128.8h1.1v1.1h-1.1zM401.3 119.3h1.1v1.1h-1.1zM401.7 98.5h1.1v1.1h-1.1zM401.2 97.0h1.1v1.1h-1.1zM399.5 115.8h1.1v1.1h-1.1zM417.6 127.2h1.1v1.1h-1.1zM402.7 116.0h1.1v1.1h-1.1zM413.3 119.4h1.1v1.1h-1.1zM367.5 105.3h1.1v1.1h-1.1zM418.5 101.7h1.1v1.1h-1.1zM410.8 122.2h1.1v1.1h-1.1zM380.8 111.5h1.1v1.1h-1.1zM410.6 113.6h1.1v1.1h-1.1zM385.8 117.1h1.1v1.1h-1.1zM399.4 122.1h1.1v1.1h-1.1zM413.2 107.6h1.1v1.1h-1.1zM409.6 106.1h1.1v1.1h-1.1zM397.3 96.8h1.1v1.1h-1.1zM403.8 121.8h1.1v1.1h-1.1zM408.6 113.0h1.1v1.1h-1.1zM398.1 107.7h1.1v1.1h-1.1zM417.3 97.4h1.1v1.1h-1.1zM435.7 112.4h1.1v1.1h-1.1zM437.2 125.4h1.1v1.1h-1.1zM400.9 120.7h1.1v1.1h-1.1zM410.3 117.8h1.1v1.1h-1.1zM417.7 107.2h1.1v1.1h-1.1zM397.9 108.5h1.1v1.1h-1.1zM387.4 110.1h1.1v1.1h-1.1zM409.7 115.5h1.1v1.1h-1.1zM409.1 108.6h1.1v1.1h-1.1zM417.4 91.2h1.1v1.1h-1.1zM400.7 109.3h1.1v1.1h-1.1zM418.8 119.6h1.1v1.1h-1.1zM417.4 112.8h1.1v1.1h-1.1zM419.4 102.0h1.1v1.1h-1.1zM407.0 90.3h1.1v1.1h-1.1zM430.0 129.2h1.1v1.1h-1.1zM397.6 103.5h1.1v1.1h-1.1zM376.5 96.3h1.1v1.1h-1.1zM407.6 110.8h1.1v1.1h-1.1zM385.2 107.2h1.1v1.1h-1.1zM396.6 117.4h1.1v1.1h-1.1zM415.8 110.1h1.1v1.1h-1.1zM407.5 112.4h1.1v1.1h-1.1zM376.7 114.3h1.1v1.1h-1.1zM405.0 120.3h1.1v1.1h-1.1zM380.3 120.5h1.1v1.1h-1.1zM397.0 115.3h1.1v1.1h-1.1zM422.9 97.0h1.1v1.1h-1.1zM387.6 122.9h1.1v1.1h-1.1zM390.0 102.4h1.1v1.1h-1.1zM414.4 110.4h1.1v1.1h-1.1zM416.9 115.7h1.1v1.1h-1.1zM405.7 122.9h1.1v1.1h-1.1zM436.7 111.5h1.1v1.1h-1.1zM426.8 124.5h1.1v1.1h-1.1zM407.6 117.4h1.1v1.1h-1.1zM392.9 106.1h1.1v1.1h-1.1zM410.0 112.1h1.1v1.1h-1.1zM424.3 98.9h1.1v1.1h-1.1zM402.0 105.9h1.1v1.1h-1.1zM404.0 124.8h1.1v1.1h-1.1zM389.2 121.5h1.1v1.1h-1.1zM397.9 109.2h1.1v1.1h-1.1zM420.1 109.6h1.1v1.1h-1.1zM415.5 113.8h1.1v1.1h-1.1zM403.7 108.8h1.1v1.1h-1.1zM381.9 104.8h1.1v1.1h-1.1zM408.5 114.8h1.1v1.1h-1.1zM385.3 123.2h1.1v1.1h-1.1zM414.3 99.0h1.1v1.1h-1.1zM391.7 118.0h1.1v1.1h-1.1zM381.6 104.9h1.1v1.1h-1.1zM405.6 111.4h1.1v1.1h-1.1zM405.5 116.9h1.1v1.1h-1.1zM395.2 107.7h1.1v1.1h-1.1zM435.1 98.1h1.1v1.1h-1.1zM400.1 114.0h1.1v1.1h-1.1zM397.4 125.7h1.1v1.1h-1.1zM407.5 120.8h1.1v1.1h-1.1zM369.8 125.4h1.1v1.1h-1.1zM422.6 104.9h1.1v1.1h-1.1zM424.8 115.7h1.1v1.1h-1.1zM419.6 132.0h1.1v1.1h-1.1zM408.0 102.3h1.1v1.1h-1.1zM406.5 99.6h1.1v1.1h-1.1zM395.4 105.0h1.1v1.1h-1.1zM396.7 125.3h1.1v1.1h-1.1zM418.4 103.6h1.1v1.1h-1.1zM422.6 95.4h1.1v1.1h-1.1zM397.6 111.6h1.1v1.1h-1.1zM423.5 120.8h1.1v1.1h-1.1zM413.2 126.9h1.1v1.1h-1.1zM417.0 127.6h1.1v1.1h-1.1zM395.9 95.5h1.1v1.1h-1.1zM401.1 122.0h1.1v1.1h-1.1zM410.7 122.6h1.1v1.1h-1.1zM417.0 118.7h1.1v1.1h-1.1zM418.5 105.8h1.1v1.1h-1.1zM422.4 102.7h1.1v1.1h-1.1zM405.5 98.4h1.1v1.1h-1.1zM414.2 97.0h1.1v1.1h-1.1zM426.8 99.2h1.1v1.1h-1.1zM410.7 111.9h1.1v1.1h-1.1zM394.8 126.5h1.1v1.1h-1.1zM401.1 128.7h1.1v1.1h-1.1zM392.7 104.9h1.1v1.1h-1.1zM379.1 119.1h1.1v1.1h-1.1zM420.0 115.7h1.1v1.1h-1.1zM404.9 103.7h1.1v1.1h-1.1zM440.1 121.2h1.1v1.1h-1.1zM381.3 110.1h1.1v1.1h-1.1zM370.6 130.0h1.1v1.1h-1.1zM434.9 128.7h1.1v1.1h-1.1zM406.4 107.1h1.1v1.1h-1.1zM387.5 119.0h1.1v1.1h-1.1zM396.7 109.4h1.1v1.1h-1.1zM398.2 110.1h1.1v1.1h-1.1zM419.8 131.2h1.1v1.1h-1.1zM409.3 113.6h1.1v1.1h-1.1zM391.6 100.5h1.1v1.1h-1.1zM392.3 122.7h1.1v1.1h-1.1zM410.7 123.6h1.1v1.1h-1.1zM413.2 109.2h1.1v1.1h-1.1zM389.8 109.6h1.1v1.1h-1.1zM387.2 134.6h1.1v1.1h-1.1zM411.1 109.6h1.1v1.1h-1.1zM435.3 109.4h1.1v1.1h-1.1zM415.1 111.8h1.1v1.1h-1.1zM412.4 109.6h1.1v1.1h-1.1zM414.3 128.6h1.1v1.1h-1.1zM389.6 90.0h1.1v1.1h-1.1zM426.4 115.3h1.1v1.1h-1.1zM419.7 110.5h1.1v1.1h-1.1zM429.1 132.8h1.1v1.1h-1.1zM390.8 120.6h1.1v1.1h-1.1zM398.7 96.4h1.1v1.1h-1.1zM403.0 119.5h1.1v1.1h-1.1zM387.9 99.8h1.1v1.1h-1.1zM424.6 113.7h1.1v1.1h-1.1zM412.8 101.2h1.1v1.1h-1.1zM397.8 114.6h1.1v1.1h-1.1zM409.7 114.8h1.1v1.1h-1.1zM429.4 114.9h1.1v1.1h-1.1zM385.2 103.8h1.1v1.1h-1.1zM405.9 126.6h1.1v1.1h-1.1zM396.9 108.8h1.1v1.1h-1.1zM406.2 105.4h1.1v1.1h-1.1zM394.8 110.3h1.1v1.1h-1.1zM420.5 117.9h1.1v1.1h-1.1zM402.3 117.0h1.1v1.1h-1.1zM388.1 123.3h1.1v1.1h-1.1zM416.7 115.9h1.1v1.1h-1.1zM383.2 134.3h1.1v1.1h-1.1zM364.8 102.1h1.1v1.1h-1.1zM393.2 120.0h1.1v1.1h-1.1zM385.0 115.2h1.1v1.1h-1.1zM404.1 109.6h1.1v1.1h-1.1zM418.3 127.8h1.1v1.1h-1.1zM411.8 109.8h1.1v1.1h-1.1zM374.0 128.3h1.1v1.1h-1.1zM402.0 93.0h1.1v1.1h-1.1zM408.5 128.1h1.1v1.1h-1.1zM404.3 100.3h1.1v1.1h-1.1zM438.3 119.3h1.1v1.1h-1.1zM411.3 123.6h1.1v1.1h-1.1zM375.7 112.1h1.1v1.1h-1.1zM404.1 136.9h1.1v1.1h-1.1zM398.5 107.0h1.1v1.1h-1.1zM386.8 104.2h1.1v1.1h-1.1zM403.6 115.7h1.1v1.1h-1.1zM403.7 134.3h1.1v1.1h-1.1zM413.6 119.7h1.1v1.1h-1.1zM426.0 119.7h1.1v1.1h-1.1zM399.2 96.5h1.1v1.1h-1.1zM411.7 104.1h1.1v1.1h-1.1zM425.3 104.8h1.1v1.1h-1.1zM375.0 113.4h1.1v1.1h-1.1zM421.9 110.8h1.1v1.1h-1.1zM409.2 114.6h1.1v1.1h-1.1zM431.1 116.2h1.1v1.1h-1.1zM406.1 106.4h1.1v1.1h-1.1zM383.3 128.0h1.1v1.1h-1.1zM422.9 102.8h1.1v1.1h-1.1zM415.3 116.4h1.1v1.1h-1.1zM401.2 109.6h1.1v1.1h-1.1zM417.3 100.1h1.1v1.1h-1.1zM399.2 112.1h1.1v1.1h-1.1zM406.5 110.7h1.1v1.1h-1.1zM409.7 118.6h1.1v1.1h-1.1zM393.9 113.8h1.1v1.1h-1.1zM399.1 129.0h1.1v1.1h-1.1zM386.6 110.4h1.1v1.1h-1.1zM416.5 109.9h1.1v1.1h-1.1zM401.9 107.2h1.1v1.1h-1.1zM411.1 100.6h1.1v1.1h-1.1zM405.5 111.9h1.1v1.1h-1.1zM385.9 115.9h1.1v1.1h-1.1zM400.1 116.4h1.1v1.1h-1.1zM419.0 116.8h1.1v1.1h-1.1zM390.0 116.6h1.1v1.1h-1.1zM384.1 105.0h1.1v1.1h-1.1zM430.6 113.3h1.1v1.1h-1.1zM429.1 111.3h1.1v1.1h-1.1zM407.1 101.4h1.1v1.1h-1.1zM420.4 111.2h1.1v1.1h-1.1zM416.0 118.0h1.1v1.1h-1.1zM414.7 116.9h1.1v1.1h-1.1zM406.7 113.4h1.1v1.1h-1.1zM397.5 90.9h1.1v1.1h-1.1zM414.3 135.7h1.1v1.1h-1.1zM422.7 138.5h1.1v1.1h-1.1zM414.4 103.5h1.1v1.1h-1.1zM393.6 121.7h1.1v1.1h-1.1zM412.5 112.0h1.1v1.1h-1.1zM418.3 104.5h1.1v1.1h-1.1zM415.2 110.9h1.1v1.1h-1.1zM410.1 126.5h1.1v1.1h-1.1zM406.0 128.6h1.1v1.1h-1.1zM426.8 105.9h1.1v1.1h-1.1zM440.9 100.8h1.1v1.1h-1.1zM406.6 121.9h1.1v1.1h-1.1zM375.7 125.0h1.1v1.1h-1.1zM424.2 112.9h1.1v1.1h-1.1zM412.0 116.4h1.1v1.1h-1.1zM405.2 125.5h1.1v1.1h-1.1zM402.9 113.6h1.1v1.1h-1.1zM413.3 123.2h1.1v1.1h-1.1zM423.8 98.4h1.1v1.1h-1.1zM379.3 112.6h1.1v1.1h-1.1zM407.4 102.6h1.1v1.1h-1.1zM412.5 120.8h1.1v1.1h-1.1zM413.6 131.7h1.1v1.1h-1.1zM393.4 114.3h1.1v1.1h-1.1zM435.5 121.3h1.1v1.1h-1.1zM392.3 116.2h1.1v1.1h-1.1zM424.9 136.3h1.1v1.1h-1.1zM417.5 126.5h1.1v1.1h-1.1zM392.3 111.4h1.1v1.1h-1.1zM425.0 103.8h1.1v1.1h-1.1zM407.2 94.1h1.1v1.1h-1.1zM429.1 112.6h1.1v1.1h-1.1zM416.1 98.0h1.1v1.1h-1.1zM389.4 133.3h1.1v1.1h-1.1zM403.1 108.2h1.1v1.1h-1.1zM415.3 119.9h1.1v1.1h-1.1zM380.1 103.6h1.1v1.1h-1.1zM408.7 114.1h1.1v1.1h-1.1zM413.0 109.4h1.1v1.1h-1.1zM404.0 116.3h1.1v1.1h-1.1zM398.2 105.1h1.1v1.1h-1.1zM400.2 114.1h1.1v1.1h-1.1zM405.9 108.9h1.1v1.1h-1.1zM404.4 113.4h1.1v1.1h-1.1zM412.5 117.8h1.1v1.1h-1.1zM389.7 124.3h1.1v1.1h-1.1zM385.2 119.8h1.1v1.1h-1.1zM397.9 120.1h1.1v1.1h-1.1zM422.9 93.9h1.1v1.1h-1.1zM416.4 116.8h1.1v1.1h-1.1zM401.3 118.0h1.1v1.1h-1.1zM400.8 115.1h1.1v1.1h-1.1zM393.0 122.2h1.1v1.1h-1.1zM416.1 121.7h1.1v1.1h-1.1zM398.6 133.3h1.1v1.1h-1.1zM435.7 112.9h1.1v1.1h-1.1zM401.9 109.5h1.1v1.1h-1.1zM417.5 124.7h1.1v1.1h-1.1zM397.2 92.4h1.1v1.1h-1.1zM414.2 113.4h1.1v1.1h-1.1zM410.2 119.3h1.1v1.1h-1.1zM392.1 114.5h1.1v1.1h-1.1zM403.5 117.8h1.1v1.1h-1.1zM424.9 113.8h1.1v1.1h-1.1zM395.6 126.9h1.1v1.1h-1.1zM417.7 111.6h1.1v1.1h-1.1zM382.2 104.4h1.1v1.1h-1.1zM409.6 119.4h1.1v1.1h-1.1zM400.1 118.2h1.1v1.1h-1.1zM398.5 109.1h1.1v1.1h-1.1zM414.9 110.7h1.1v1.1h-1.1zM409.4 122.8h1.1v1.1h-1.1zM423.3 107.3h1.1v1.1h-1.1zM403.8 99.5h1.1v1.1h-1.1zM389.0 116.6h1.1v1.1h-1.1zM400.0 93.9h1.1v1.1h-1.1zM414.7 104.6h1.1v1.1h-1.1zM402.9 117.8h1.1v1.1h-1.1zM412.8 112.8h1.1v1.1h-1.1zM379.2 119.4h1.1v1.1h-1.1zM398.9 98.5h1.1v1.1h-1.1zM376.2 127.3h1.1v1.1h-1.1zM409.2 114.6h1.1v1.1h-1.1zM415.8 112.6h1.1v1.1h-1.1zM386.5 120.6h1.1v1.1h-1.1zM421.3 118.9h1.1v1.1h-1.1zM428.9 133.5h1.1v1.1h-1.1zM396.1 108.8h1.1v1.1h-1.1zM419.7 115.3h1.1v1.1h-1.1zM410.3 123.3h1.1v1.1h-1.1zM417.7 108.9h1.1v1.1h-1.1zM409.1 106.0h1.1v1.1h-1.1zM404.6 101.8h1.1v1.1h-1.1zM379.8 108.3h1.1v1.1h-1.1zM399.1 122.9h1.1v1.1h-1.1zM429.5 113.8h1.1v1.1h-1.1zM414.0 106.9h1.1v1.1h-1.1zM394.5 110.6h1.1v1.1h-1.1zM403.5 116.7h1.1v1.1h-1.1zM409.1 131.0h1.1v1.1h-1.1zM404.5 96.3h1.1v1.1h-1.1zM409.2 106.7h1.1v1.1h-1.1zM410.4 125.5h1.1v1.1h-1.1zM398.6 112.9h1.1v1.1h-1.1zM414.8 103.8h1.1v1.1h-1.1zM410.6 119.4h1.1v1.1h-1.1zM419.0 125.2h1.1v1.1h-1.1zM415.4 117.8h1.1v1.1h-1.1zM388.2 85.6h1.1v1.1h-1.1zM394.2 128.7h1.1v1.1h-1.1zM409.3 90.1h1.1v1.1h-1.1zM401.8 117.6h1.1v1.1h-1.1zM381.8 119.8h1.1v1.1h-1.1zM391.7 124.7h1.1v1.1h-1.1zM408.2 146.3h1.1v1.1h-1.1zM389.2 116.8h1.1v1.1h-1.1zM387.2 125.9h1.1v1.1h-1.1zM409.6 123.6h1.1v1.1h-1.1zM409.3 101.6h1.1v1.1h-1.1zM398.8 100.9h1.1v1.1h-1.1zM393.3 115.4h1.1v1.1h-1.1zM422.9 122.9h1.1v1.1h-1.1zM415.1 108.0h1.1v1.1h-1.1zM415.0 105.0h1.1v1.1h-1.1zM410.8 122.7h1.1v1.1h-1.1zM405.3 109.0h1.1v1.1h-1.1zM401.9 120.4h1.1v1.1h-1.1zM403.6 99.0h1.1v1.1h-1.1zM402.1 102.8h1.1v1.1h-1.1zM428.9 114.1h1.1v1.1h-1.1zM387.4 116.7h1.1v1.1h-1.1zM418.0 117.9h1.1v1.1h-1.1zM402.9 115.5h1.1v1.1h-1.1zM411.8 124.4h1.1v1.1h-1.1zM413.0 137.7h1.1v1.1h-1.1zM404.9 129.9h1.1v1.1h-1.1zM408.2 96.1h1.1v1.1h-1.1zM391.6 94.9h1.1v1.1h-1.1zM384.0 126.5h1.1v1.1h-1.1zM398.8 120.3h1.1v1.1h-1.1zM395.5 113.8h1.1v1.1h-1.1zM393.3 123.0h1.1v1.1h-1.1zM404.4 109.2h1.1v1.1h-1.1zM405.7 136.7h1.1v1.1h-1.1zM414.2 122.7h1.1v1.1h-1.1zM390.6 107.2h1.1v1.1h-1.1zM412.1 94.5h1.1v1.1h-1.1zM426.6 116.8h1.1v1.1h-1.1zM407.7 111.9h1.1v1.1h-1.1zM404.7 108.7h1.1v1.1h-1.1zM427.4 121.1h1.1v1.1h-1.1zM425.3 110.8h1.1v1.1h-1.1zM395.7 128.2h1.1v1.1h-1.1zM391.0 107.6h1.1v1.1h-1.1zM417.9 125.3h1.1v1.1h-1.1zM389.6 111.1h1.1v1.1h-1.1zM408.3 112.6h1.1v1.1h-1.1zM396.0 121.0h1.1v1.1h-1.1zM400.6 111.4h1.1v1.1h-1.1zM376.6 112.8h1.1v1.1h-1.1zM380.9 121.3h1.1v1.1h-1.1zM414.8 108.6h1.1v1.1h-1.1zM410.2 115.1h1.1v1.1h-1.1zM405.9 117.7h1.1v1.1h-1.1zM406.2 109.0h1.1v1.1h-1.1zM396.9 131.4h1.1v1.1h-1.1zM410.6 113.7h1.1v1.1h-1.1zM418.0 109.9h1.1v1.1h-1.1zM402.6 120.9h1.1v1.1h-1.1zM422.2 120.9h1.1v1.1h-1.1zM387.3 114.5h1.1v1.1h-1.1zM407.6 118.7h1.1v1.1h-1.1zM395.6 103.0h1.1v1.1h-1.1zM406.3 104.7h1.1v1.1h-1.1zM393.1 113.2h1.1v1.1h-1.1zM420.8 115.3h1.1v1.1h-1.1zM423.4 103.5h1.1v1.1h-1.1zM417.7 113.8h1.1v1.1h-1.1zM395.7 109.6h1.1v1.1h-1.1zM396.0 111.7h1.1v1.1h-1.1zM397.5 127.0h1.1v1.1h-1.1zM402.9 99.1h1.1v1.1h-1.1zM405.2 117.9h1.1v1.1h-1.1zM403.5 122.8h1.1v1.1h-1.1zM395.3 105.0h1.1v1.1h-1.1zM430.3 113.9h1.1v1.1h-1.1zM415.4 119.0h1.1v1.1h-1.1zM415.8 114.3h1.1v1.1h-1.1zM405.2 125.1h1.1v1.1h-1.1zM401.1 115.1h1.1v1.1h-1.1zM417.3 109.8h1.1v1.1h-1.1zM386.7 118.7h1.1v1.1h-1.1zM422.8 116.6h1.1v1.1h-1.1zM384.8 120.6h1.1v1.1h-1.1zM435.0 98.0h1.1v1.1h-1.1zM370.6 111.4h1.1v1.1h-1.1zM409.0 122.0h1.1v1.1h-1.1zM419.2 114.9h1.1v1.1h-1.1zM415.4 117.4h1.1v1.1h-1.1zM409.7 113.4h1.1v1.1h-1.1zM405.9 121.2h1.1v1.1h-1.1zM413.5 109.6h1.1v1.1h-1.1zM423.0 106.5h1.1v1.1h-1.1zM404.8 115.4h1.1v1.1h-1.1zM381.9 110.1h1.1v1.1h-1.1zM419.7 122.4h1.1v1.1h-1.1zM391.7 105.5h1.1v1.1h-1.1zM393.3 111.6h1.1v1.1h-1.1zM407.1 97.6h1.1v1.1h-1.1zM412.3 114.7h1.1v1.1h-1.1zM407.0 107.1h1.1v1.1h-1.1zM405.5 95.8h1.1v1.1h-1.1zM411.2 116.2h1.1v1.1h-1.1zM406.6 101.9h1.1v1.1h-1.1zM425.4 125.6h1.1v1.1h-1.1zM382.4 118.2h1.1v1.1h-1.1zM410.1 87.7h1.1v1.1h-1.1zM415.1 120.7h1.1v1.1h-1.1zM417.8 115.7h1.1v1.1h-1.1zM399.1 108.8h1.1v1.1h-1.1zM415.0 126.0h1.1v1.1h-1.1zM401.4 111.2h1.1v1.1h-1.1zM417.5 92.0h1.1v1.1h-1.1zM414.1 111.7h1.1v1.1h-1.1zM378.1 121.9h1.1v1.1h-1.1zM395.6 122.1h1.1v1.1h-1.1zM426.8 101.3h1.1v1.1h-1.1zM391.7 113.9h1.1v1.1h-1.1zM384.2 121.5h1.1v1.1h-1.1zM410.6 124.1h1.1v1.1h-1.1zM383.1 116.2h1.1v1.1h-1.1zM414.4 95.7h1.1v1.1h-1.1zM420.3 100.0h1.1v1.1h-1.1zM410.6 100.7h1.1v1.1h-1.1zM418.9 131.6h1.1v1.1h-1.1zM409.1 114.5h1.1v1.1h-1.1zM426.0 109.7h1.1v1.1h-1.1zM409.0 122.7h1.1v1.1h-1.1zM414.2 130.5h1.1v1.1h-1.1zM424.9 134.1h1.1v1.1h-1.1zM408.4 126.0h1.1v1.1h-1.1zM397.7 123.9h1.1v1.1h-1.1zM432.9 138.8h1.1v1.1h-1.1zM392.0 113.1h1.1v1.1h-1.1zM418.9 105.9h1.1v1.1h-1.1zM416.7 120.5h1.1v1.1h-1.1zM402.6 109.4h1.1v1.1h-1.1zM396.7 118.1h1.1v1.1h-1.1zM426.6 118.0h1.1v1.1h-1.1zM447.2 99.8h1.1v1.1h-1.1zM401.4 121.9h1.1v1.1h-1.1zM393.7 118.6h1.1v1.1h-1.1zM420.5 116.8h1.1v1.1h-1.1zM406.2 124.6h1.1v1.1h-1.1zM415.0 122.4h1.1v1.1h-1.1zM416.8 108.1h1.1v1.1h-1.1zM394.2 111.1h1.1v1.1h-1.1zM411.7 113.0h1.1v1.1h-1.1zM422.3 117.6h1.1v1.1h-1.1zM422.6 116.2h1.1v1.1h-1.1zM399.4 123.6h1.1v1.1h-1.1zM416.1 106.2h1.1v1.1h-1.1zM403.6 143.6h1.1v1.1h-1.1zM362.7 126.5h1.1v1.1h-1.1zM409.9 114.1h1.1v1.1h-1.1zM404.9 109.5h1.1v1.1h-1.1zM441.5 110.1h1.1v1.1h-1.1zM404.7 122.9h1.1v1.1h-1.1zM414.1 112.7h1.1v1.1h-1.1zM404.8 100.8h1.1v1.1h-1.1zM423.7 103.6h1.1v1.1h-1.1zM375.2 125.3h1.1v1.1h-1.1zM419.0 118.0h1.1v1.1h-1.1zM401.4 126.8h1.1v1.1h-1.1zM393.5 91.6h1.1v1.1h-1.1zM410.7 122.7h1.1v1.1h-1.1zM417.0 135.9h1.1v1.1h-1.1zM420.0 111.9h1.1v1.1h-1.1zM405.7 123.6h1.1v1.1h-1.1zM407.5 112.9h1.1v1.1h-1.1zM383.9 111.0h1.1v1.1h-1.1zM390.3 116.7h1.1v1.1h-1.1zM410.2 121.7h1.1v1.1h-1.1zM433.2 112.4h1.1v1.1h-1.1zM428.4 102.4h1.1v1.1h-1.1zM410.5 124.2h1.1v1.1h-1.1zM435.5 102.7h1.1v1.1h-1.1zM404.7 115.7h1.1v1.1h-1.1zM406.9 104.2h1.1v1.1h-1.1zM385.5 101.4h1.1v1.1h-1.1zM407.1 100.2h1.1v1.1h-1.1zM433.0 127.1h1.1v1.1h-1.1zM381.7 109.0h1.1v1.1h-1.1zM426.8 129.4h1.1v1.1h-1.1zM423.9 99.2h1.1v1.1h-1.1zM403.1 127.6h1.1v1.1h-1.1zM409.7 109.4h1.1v1.1h-1.1zM415.3 124.5h1.1v1.1h-1.1zM410.2 116.8h1.1v1.1h-1.1zM423.2 108.3h1.1v1.1h-1.1zM395.5 122.2h1.1v1.1h-1.1zM391.5 119.4h1.1v1.1h-1.1zM398.0 123.0h1.1v1.1h-1.1zM391.6 126.1h1.1v1.1h-1.1zM412.2 111.0h1.1v1.1h-1.1zM396.1 112.5h1.1v1.1h-1.1zM395.3 101.6h1.1v1.1h-1.1zM423.2 120.4h1.1v1.1h-1.1zM425.4 99.9h1.1v1.1h-1.1zM380.9 97.5h1.1v1.1h-1.1zM417.2 122.6h1.1v1.1h-1.1zM382.2 124.8h1.1v1.1h-1.1zM402.0 101.5h1.1v1.1h-1.1zM407.0 120.0h1.1v1.1h-1.1zM405.1 112.2h1.1v1.1h-1.1zM396.3 99.1h1.1v1.1h-1.1zM402.8 96.9h1.1v1.1h-1.1zM416.4 105.0h1.1v1.1h-1.1zM426.4 97.3h1.1v1.1h-1.1zM427.7 104.7h1.1v1.1h-1.1zM395.5 117.1h1.1v1.1h-1.1zM420.6 113.5h1.1v1.1h-1.1zM403.0 134.9h1.1v1.1h-1.1zM415.1 101.3h1.1v1.1h-1.1zM404.3 131.8h1.1v1.1h-1.1zM412.6 122.7h1.1v1.1h-1.1zM436.5 107.7h1.1v1.1h-1.1zM413.2 107.0h1.1v1.1h-1.1zM407.9 119.6h1.1v1.1h-1.1zM389.3 115.5h1.1v1.1h-1.1zM410.0 125.1h1.1v1.1h-1.1zM399.6 100.6h1.1v1.1h-1.1zM413.5 102.1h1.1v1.1h-1.1zM410.5 119.9h1.1v1.1h-1.1zM395.6 112.7h1.1v1.1h-1.1zM393.4 84.1h1.1v1.1h-1.1zM387.5 91.9h1.1v1.1h-1.1zM408.1 102.6h1.1v1.1h-1.1zM405.8 113.3h1.1v1.1h-1.1zM422.7 110.2h1.1v1.1h-1.1zM402.2 119.2h1.1v1.1h-1.1zM430.5 113.0h1.1v1.1h-1.1zM412.6 111.8h1.1v1.1h-1.1zM398.0 97.6h1.1v1.1h-1.1zM406.7 111.0h1.1v1.1h-1.1zM404.3 134.7h1.1v1.1h-1.1zM403.1 117.3h1.1v1.1h-1.1zM402.9 126.3h1.1v1.1h-1.1zM403.8 133.5h1.1v1.1h-1.1zM404.2 122.1h1.1v1.1h-1.1zM422.2 111.4h1.1v1.1h-1.1zM419.9 114.6h1.1v1.1h-1.1zM397.2 106.8h1.1v1.1h-1.1zM412.6 132.7h1.1v1.1h-1.1zM401.0 119.7h1.1v1.1h-1.1zM396.6 116.6h1.1v1.1h-1.1zM389.6 105.6h1.1v1.1h-1.1zM407.8 106.0h1.1v1.1h-1.1zM404.1 124.5h1.1v1.1h-1.1zM406.1 106.4h1.1v1.1h-1.1zM390.6 108.3h1.1v1.1h-1.1zM424.1 113.1h1.1v1.1h-1.1zM405.9 121.5h1.1v1.1h-1.1zM419.7 124.5h1.1v1.1h-1.1zM402.9 104.3h1.1v1.1h-1.1zM384.5 106.7h1.1v1.1h-1.1zM402.7 121.6h1.1v1.1h-1.1zM412.4 108.0h1.1v1.1h-1.1zM420.3 100.7h1.1v1.1h-1.1zM393.1 101.5h1.1v1.1h-1.1zM392.6 111.2h1.1v1.1h-1.1zM396.0 105.9h1.1v1.1h-1.1zM426.6 98.5h1.1v1.1h-1.1zM393.4 111.4h1.1v1.1h-1.1zM414.1 119.0h1.1v1.1h-1.1zM404.1 110.0h1.1v1.1h-1.1zM404.1 121.7h1.1v1.1h-1.1zM394.9 89.2h1.1v1.1h-1.1zM410.4 101.6h1.1v1.1h-1.1zM407.0 128.5h1.1v1.1h-1.1zM409.2 133.2h1.1v1.1h-1.1zM385.6 116.4h1.1v1.1h-1.1zM413.3 122.6h1.1v1.1h-1.1zM397.6 115.6h1.1v1.1h-1.1zM409.6 114.9h1.1v1.1h-1.1zM388.7 95.8h1.1v1.1h-1.1zM415.5 117.6h1.1v1.1h-1.1zM408.5 120.7h1.1v1.1h-1.1zM423.1 101.8h1.1v1.1h-1.1zM418.9 129.7h1.1v1.1h-1.1zM422.4 120.3h1.1v1.1h-1.1zM418.0 98.9h1.1v1.1h-1.1zM401.2 124.9h1.1v1.1h-1.1zM429.0 119.0h1.1v1.1h-1.1zM401.9 112.8h1.1v1.1h-1.1zM420.3 135.5h1.1v1.1h-1.1zM419.5 108.9h1.1v1.1h-1.1zM417.2 118.9h1.1v1.1h-1.1zM442.1 120.7h1.1v1.1h-1.1zM409.1 113.6h1.1v1.1h-1.1zM391.4 103.4h1.1v1.1h-1.1zM401.9 105.9h1.1v1.1h-1.1zM411.3 115.5h1.1v1.1h-1.1zM421.8 130.4h1.1v1.1h-1.1zM410.8 112.4h1.1v1.1h-1.1zM382.6 118.5h1.1v1.1h-1.1zM417.9 106.4h1.1v1.1h-1.1zM403.2 107.1h1.1v1.1h-1.1zM423.5 121.0h1.1v1.1h-1.1zM425.7 101.8h1.1v1.1h-1.1zM445.9 105.5h1.1v1.1h-1.1zM394.3 116.4h1.1v1.1h-1.1zM400.8 133.5h1.1v1.1h-1.1zM402.8 107.2h1.1v1.1h-1.1zM422.2 127.2h1.1v1.1h-1.1zM396.8 109.3h1.1v1.1h-1.1zM403.4 112.6h1.1v1.1h-1.1zM432.4 127.5h1.1v1.1h-1.1zM423.3 127.7h1.1v1.1h-1.1zM408.6 123.4h1.1v1.1h-1.1zM407.3 106.4h1.1v1.1h-1.1zM431.7 95.8h1.1v1.1h-1.1zM408.3 108.2h1.1v1.1h-1.1zM385.0 110.2h1.1v1.1h-1.1zM409.2 119.0h1.1v1.1h-1.1zM396.6 122.0h1.1v1.1h-1.1zM412.4 122.6h1.1v1.1h-1.1zM381.1 109.3h1.1v1.1h-1.1zM399.4 120.1h1.1v1.1h-1.1zM397.7 108.6h1.1v1.1h-1.1zM392.0 101.4h1.1v1.1h-1.1zM394.9 124.1h1.1v1.1h-1.1zM393.1 88.4h1.1v1.1h-1.1zM411.9 109.1h1.1v1.1h-1.1zM415.6 119.5h1.1v1.1h-1.1zM403.4 109.4h1.1v1.1h-1.1zM400.0 113.7h1.1v1.1h-1.1zM396.9 115.9h1.1v1.1h-1.1zM427.1 106.8h1.1v1.1h-1.1zM399.0 107.2h1.1v1.1h-1.1zM416.3 120.7h1.1v1.1h-1.1zM427.9 121.3h1.1v1.1h-1.1zM409.6 118.7h1.1v1.1h-1.1zM389.6 119.8h1.1v1.1h-1.1zM410.3 135.7h1.1v1.1h-1.1zM427.1 105.3h1.1v1.1h-1.1zM400.0 123.2h1.1v1.1h-1.1zM379.0 104.3h1.1v1.1h-1.1zM413.1 120.7h1.1v1.1h-1.1zM410.5 126.2h1.1v1.1h-1.1zM404.2 115.0h1.1v1.1h-1.1zM405.3 102.5h1.1v1.1h-1.1zM408.6 108.2h1.1v1.1h-1.1zM409.1 86.6h1.1v1.1h-1.1zM409.5 108.3h1.1v1.1h-1.1zM399.4 114.5h1.1v1.1h-1.1zM401.4 123.7h1.1v1.1h-1.1zM425.4 123.3h1.1v1.1h-1.1zM421.5 117.8h1.1v1.1h-1.1zM408.5 100.6h1.1v1.1h-1.1zM402.9 126.7h1.1v1.1h-1.1zM418.7 108.9h1.1v1.1h-1.1zM409.5 125.1h1.1v1.1h-1.1zM405.8 131.0h1.1v1.1h-1.1zM397.5 122.3h1.1v1.1h-1.1zM417.8 115.8h1.1v1.1h-1.1zM412.3 119.7h1.1v1.1h-1.1zM376.4 119.0h1.1v1.1h-1.1zM424.1 118.2h1.1v1.1h-1.1zM424.0 101.7h1.1v1.1h-1.1zM407.1 117.5h1.1v1.1h-1.1zM404.4 126.5h1.1v1.1h-1.1zM414.9 108.7h1.1v1.1h-1.1zM419.5 122.6h1.1v1.1h-1.1zM402.0 120.6h1.1v1.1h-1.1zM413.4 117.8h1.1v1.1h-1.1zM390.6 127.4h1.1v1.1h-1.1zM417.1 113.8h1.1v1.1h-1.1zM412.9 117.6h1.1v1.1h-1.1zM403.8 107.9h1.1v1.1h-1.1zM409.4 107.8h1.1v1.1h-1.1zM401.3 101.8h1.1v1.1h-1.1zM404.2 124.6h1.1v1.1h-1.1zM411.0 114.5h1.1v1.1h-1.1zM403.6 109.6h1.1v1.1h-1.1zM387.1 131.4h1.1v1.1h-1.1zM397.9 98.3h1.1v1.1h-1.1zM413.6 116.7h1.1v1.1h-1.1zM400.8 98.5h1.1v1.1h-1.1zM392.6 167.0h1.1v1.1h-1.1zM412.2 149.3h1.1v1.1h-1.1zM442.8 150.1h1.1v1.1h-1.1zM399.7 158.8h1.1v1.1h-1.1zM419.7 167.0h1.1v1.1h-1.1zM389.9 156.8h1.1v1.1h-1.1zM387.7 158.2h1.1v1.1h-1.1zM403.8 150.8h1.1v1.1h-1.1zM402.6 161.2h1.1v1.1h-1.1zM439.1 153.8h1.1v1.1h-1.1zM410.0 150.5h1.1v1.1h-1.1zM422.1 146.2h1.1v1.1h-1.1zM468.9 152.6h1.1v1.1h-1.1zM440.5 155.7h1.1v1.1h-1.1zM392.7 142.0h1.1v1.1h-1.1zM407.4 148.7h1.1v1.1h-1.1zM410.1 145.2h1.1v1.1h-1.1zM450.3 171.5h1.1v1.1h-1.1zM385.8 158.3h1.1v1.1h-1.1zM432.4 151.7h1.1v1.1h-1.1zM410.3 163.1h1.1v1.1h-1.1zM422.2 144.6h1.1v1.1h-1.1zM432.8 150.4h1.1v1.1h-1.1zM442.6 146.7h1.1v1.1h-1.1zM378.1 155.1h1.1v1.1h-1.1zM432.5 158.5h1.1v1.1h-1.1zM416.1 146.9h1.1v1.1h-1.1zM427.9 139.4h1.1v1.1h-1.1zM425.9 144.5h1.1v1.1h-1.1zM404.1 143.6h1.1v1.1h-1.1zM399.1 166.1h1.1v1.1h-1.1zM395.0 155.7h1.1v1.1h-1.1zM400.8 162.4h1.1v1.1h-1.1zM392.0 154.1h1.1v1.1h-1.1zM427.3 172.3h1.1v1.1h-1.1zM394.6 147.0h1.1v1.1h-1.1zM412.3 166.0h1.1v1.1h-1.1zM397.1 160.6h1.1v1.1h-1.1zM403.2 145.6h1.1v1.1h-1.1zM388.1 155.0h1.1v1.1h-1.1zM428.3 153.1h1.1v1.1h-1.1zM379.7 149.4h1.1v1.1h-1.1zM428.1 161.0h1.1v1.1h-1.1zM417.2 165.9h1.1v1.1h-1.1zM392.9 143.9h1.1v1.1h-1.1zM450.3 159.3h1.1v1.1h-1.1zM409.6 149.9h1.1v1.1h-1.1zM372.3 160.7h1.1v1.1h-1.1zM380.3 137.9h1.1v1.1h-1.1zM412.0 166.1h1.1v1.1h-1.1zM406.6 156.9h1.1v1.1h-1.1zM405.9 157.1h1.1v1.1h-1.1zM386.5 171.0h1.1v1.1h-1.1zM397.6 158.4h1.1v1.1h-1.1zM380.5 168.3h1.1v1.1h-1.1zM419.7 170.2h1.1v1.1h-1.1zM402.5 162.4h1.1v1.1h-1.1zM410.1 153.6h1.1v1.1h-1.1zM433.4 146.6h1.1v1.1h-1.1zM424.6 169.8h1.1v1.1h-1.1zM440.6 162.7h1.1v1.1h-1.1zM418.3 146.1h1.1v1.1h-1.1zM435.8 148.5h1.1v1.1h-1.1zM432.2 151.4h1.1v1.1h-1.1zM413.4 154.1h1.1v1.1h-1.1zM422.9 150.5h1.1v1.1h-1.1zM416.1 149.9h1.1v1.1h-1.1zM421.7 156.5h1.1v1.1h-1.1zM420.1 147.2h1.1v1.1h-1.1zM418.4 154.5h1.1v1.1h-1.1zM422.5 154.6h1.1v1.1h-1.1zM398.0 160.0h1.1v1.1h-1.1zM402.7 156.4h1.1v1.1h-1.1zM380.6 158.2h1.1v1.1h-1.1zM423.7 146.6h1.1v1.1h-1.1zM422.4 151.1h1.1v1.1h-1.1zM435.0 159.5h1.1v1.1h-1.1zM393.6 152.4h1.1v1.1h-1.1zM385.4 151.5h1.1v1.1h-1.1zM421.8 160.8h1.1v1.1h-1.1zM411.5 152.2h1.1v1.1h-1.1zM415.8 149.2h1.1v1.1h-1.1zM418.4 163.2h1.1v1.1h-1.1zM416.4 161.2h1.1v1.1h-1.1zM401.1 150.2h1.1v1.1h-1.1zM418.8 170.7h1.1v1.1h-1.1zM429.5 168.2h1.1v1.1h-1.1zM414.4 164.4h1.1v1.1h-1.1zM387.2 158.6h1.1v1.1h-1.1zM380.9 164.4h1.1v1.1h-1.1zM421.4 163.9h1.1v1.1h-1.1zM420.2 150.4h1.1v1.1h-1.1zM402.2 156.0h1.1v1.1h-1.1zM437.5 159.6h1.1v1.1h-1.1zM405.5 149.9h1.1v1.1h-1.1zM402.9 152.8h1.1v1.1h-1.1zM412.6 150.6h1.1v1.1h-1.1zM414.2 141.7h1.1v1.1h-1.1zM438.6 156.5h1.1v1.1h-1.1zM438.1 156.9h1.1v1.1h-1.1zM411.1 155.3h1.1v1.1h-1.1zM417.6 149.2h1.1v1.1h-1.1zM408.3 170.1h1.1v1.1h-1.1zM429.0 150.4h1.1v1.1h-1.1zM422.5 147.9h1.1v1.1h-1.1zM436.3 146.5h1.1v1.1h-1.1zM428.3 154.9h1.1v1.1h-1.1zM414.9 148.1h1.1v1.1h-1.1zM410.3 148.5h1.1v1.1h-1.1zM400.9 158.4h1.1v1.1h-1.1zM453.7 151.9h1.1v1.1h-1.1zM430.0 154.6h1.1v1.1h-1.1zM403.2 165.5h1.1v1.1h-1.1zM424.3 163.9h1.1v1.1h-1.1zM416.2 155.9h1.1v1.1h-1.1zM401.6 152.5h1.1v1.1h-1.1zM440.7 136.3h1.1v1.1h-1.1zM420.5 166.6h1.1v1.1h-1.1zM427.0 161.8h1.1v1.1h-1.1zM410.3 163.9h1.1v1.1h-1.1zM432.6 154.5h1.1v1.1h-1.1zM440.7 150.9h1.1v1.1h-1.1zM375.8 154.7h1.1v1.1h-1.1zM412.8 147.9h1.1v1.1h-1.1zM407.4 150.4h1.1v1.1h-1.1zM386.0 164.7h1.1v1.1h-1.1zM414.6 176.4h1.1v1.1h-1.1zM414.3 158.0h1.1v1.1h-1.1zM391.0 163.0h1.1v1.1h-1.1zM397.5 159.1h1.1v1.1h-1.1zM428.9 160.9h1.1v1.1h-1.1zM401.5 148.3h1.1v1.1h-1.1zM426.3 164.3h1.1v1.1h-1.1zM437.1 154.5h1.1v1.1h-1.1zM412.8 169.2h1.1v1.1h-1.1zM405.2 160.9h1.1v1.1h-1.1zM409.6 143.3h1.1v1.1h-1.1zM397.0 158.4h1.1v1.1h-1.1zM417.9 158.7h1.1v1.1h-1.1zM408.9 150.7h1.1v1.1h-1.1zM418.8 153.2h1.1v1.1h-1.1zM389.3 151.2h1.1v1.1h-1.1zM440.8 148.5h1.1v1.1h-1.1zM422.9 154.0h1.1v1.1h-1.1zM425.7 147.6h1.1v1.1h-1.1zM394.4 158.2h1.1v1.1h-1.1zM403.3 154.3h1.1v1.1h-1.1zM409.3 162.3h1.1v1.1h-1.1zM418.2 155.7h1.1v1.1h-1.1zM399.0 142.0h1.1v1.1h-1.1zM401.1 161.3h1.1v1.1h-1.1zM424.9 159.3h1.1v1.1h-1.1zM407.9 146.3h1.1v1.1h-1.1zM432.0 156.0h1.1v1.1h-1.1zM422.4 147.0h1.1v1.1h-1.1zM403.4 159.7h1.1v1.1h-1.1zM425.5 146.5h1.1v1.1h-1.1zM418.5 145.2h1.1v1.1h-1.1zM433.0 159.8h1.1v1.1h-1.1zM449.3 166.6h1.1v1.1h-1.1zM403.8 156.1h1.1v1.1h-1.1zM406.7 155.6h1.1v1.1h-1.1zM426.2 154.5h1.1v1.1h-1.1zM415.0 143.8h1.1v1.1h-1.1zM423.0 154.4h1.1v1.1h-1.1zM423.7 162.8h1.1v1.1h-1.1zM414.5 160.1h1.1v1.1h-1.1zM404.7 162.1h1.1v1.1h-1.1zM413.7 149.8h1.1v1.1h-1.1zM410.4 143.2h1.1v1.1h-1.1zM403.9 151.1h1.1v1.1h-1.1zM414.4 153.8h1.1v1.1h-1.1zM404.0 153.0h1.1v1.1h-1.1zM380.9 155.2h1.1v1.1h-1.1zM422.6 160.8h1.1v1.1h-1.1zM430.6 152.8h1.1v1.1h-1.1zM412.6 150.6h1.1v1.1h-1.1zM406.4 155.4h1.1v1.1h-1.1zM434.6 141.0h1.1v1.1h-1.1zM406.2 156.6h1.1v1.1h-1.1zM398.4 157.7h1.1v1.1h-1.1zM392.6 151.6h1.1v1.1h-1.1zM388.3 156.5h1.1v1.1h-1.1zM401.6 159.5h1.1v1.1h-1.1zM409.1 146.7h1.1v1.1h-1.1zM407.1 155.3h1.1v1.1h-1.1zM413.4 152.2h1.1v1.1h-1.1zM408.1 154.3h1.1v1.1h-1.1zM426.5 149.7h1.1v1.1h-1.1zM420.2 143.7h1.1v1.1h-1.1zM427.7 157.1h1.1v1.1h-1.1zM408.1 151.6h1.1v1.1h-1.1zM387.4 155.0h1.1v1.1h-1.1zM409.7 143.2h1.1v1.1h-1.1zM406.7 158.8h1.1v1.1h-1.1zM416.2 156.4h1.1v1.1h-1.1zM405.0 161.0h1.1v1.1h-1.1zM413.2 161.0h1.1v1.1h-1.1zM447.6 138.4h1.1v1.1h-1.1zM405.9 154.3h1.1v1.1h-1.1zM402.3 162.5h1.1v1.1h-1.1zM408.3 167.6h1.1v1.1h-1.1zM425.3 157.7h1.1v1.1h-1.1zM413.4 161.1h1.1v1.1h-1.1zM421.3 166.0h1.1v1.1h-1.1zM420.3 162.6h1.1v1.1h-1.1zM420.2 157.1h1.1v1.1h-1.1zM390.1 154.6h1.1v1.1h-1.1zM420.0 145.3h1.1v1.1h-1.1zM392.7 152.1h1.1v1.1h-1.1zM418.5 141.0h1.1v1.1h-1.1zM418.8 162.1h1.1v1.1h-1.1zM410.2 156.4h1.1v1.1h-1.1zM421.2 149.3h1.1v1.1h-1.1zM423.5 158.1h1.1v1.1h-1.1zM395.0 158.6h1.1v1.1h-1.1zM427.5 146.0h1.1v1.1h-1.1zM427.3 152.4h1.1v1.1h-1.1zM393.4 146.3h1.1v1.1h-1.1zM400.4 158.8h1.1v1.1h-1.1zM406.6 151.4h1.1v1.1h-1.1zM394.6 154.7h1.1v1.1h-1.1zM394.9 149.2h1.1v1.1h-1.1zM423.4 159.8h1.1v1.1h-1.1zM405.8 154.1h1.1v1.1h-1.1zM422.2 154.4h1.1v1.1h-1.1zM432.5 165.1h1.1v1.1h-1.1zM412.7 144.7h1.1v1.1h-1.1zM411.7 165.2h1.1v1.1h-1.1zM431.3 163.9h1.1v1.1h-1.1zM431.2 150.4h1.1v1.1h-1.1zM418.3 163.1h1.1v1.1h-1.1zM418.2 161.5h1.1v1.1h-1.1zM398.6 144.9h1.1v1.1h-1.1zM445.1 160.7h1.1v1.1h-1.1zM423.6 166.2h1.1v1.1h-1.1zM448.5 177.5h1.1v1.1h-1.1zM377.1 157.7h1.1v1.1h-1.1zM430.2 139.4h1.1v1.1h-1.1zM386.7 153.2h1.1v1.1h-1.1zM443.4 162.1h1.1v1.1h-1.1zM447.6 156.9h1.1v1.1h-1.1zM430.9 166.8h1.1v1.1h-1.1zM421.4 154.5h1.1v1.1h-1.1zM416.2 125.1h1.1v1.1h-1.1zM419.2 139.7h1.1v1.1h-1.1zM401.5 160.2h1.1v1.1h-1.1zM420.3 138.6h1.1v1.1h-1.1zM422.3 160.6h1.1v1.1h-1.1zM417.2 160.0h1.1v1.1h-1.1zM422.9 140.9h1.1v1.1h-1.1zM410.7 152.1h1.1v1.1h-1.1zM395.1 154.1h1.1v1.1h-1.1zM401.3 153.8h1.1v1.1h-1.1zM400.5 162.8h1.1v1.1h-1.1zM448.3 149.8h1.1v1.1h-1.1zM414.5 154.8h1.1v1.1h-1.1zM420.8 153.0h1.1v1.1h-1.1zM379.2 157.2h1.1v1.1h-1.1zM411.8 145.8h1.1v1.1h-1.1zM410.6 150.3h1.1v1.1h-1.1zM417.4 151.8h1.1v1.1h-1.1zM409.3 155.2h1.1v1.1h-1.1zM417.5 154.5h1.1v1.1h-1.1zM431.9 156.3h1.1v1.1h-1.1zM401.7 168.2h1.1v1.1h-1.1zM415.5 166.9h1.1v1.1h-1.1zM397.1 158.8h1.1v1.1h-1.1zM440.4 164.5h1.1v1.1h-1.1zM415.1 149.6h1.1v1.1h-1.1zM404.3 152.8h1.1v1.1h-1.1zM398.6 148.3h1.1v1.1h-1.1zM398.2 146.3h1.1v1.1h-1.1zM417.3 140.1h1.1v1.1h-1.1zM416.2 159.8h1.1v1.1h-1.1zM399.0 147.0h1.1v1.1h-1.1zM414.0 154.0h1.1v1.1h-1.1zM428.4 138.3h1.1v1.1h-1.1zM412.6 165.6h1.1v1.1h-1.1zM415.0 168.5h1.1v1.1h-1.1zM447.6 149.9h1.1v1.1h-1.1zM437.0 158.5h1.1v1.1h-1.1zM413.5 152.1h1.1v1.1h-1.1zM410.3 147.1h1.1v1.1h-1.1zM411.1 161.9h1.1v1.1h-1.1zM433.3 151.3h1.1v1.1h-1.1zM422.0 158.2h1.1v1.1h-1.1zM377.1 160.1h1.1v1.1h-1.1zM394.6 145.2h1.1v1.1h-1.1zM426.8 167.8h1.1v1.1h-1.1zM396.5 147.3h1.1v1.1h-1.1zM399.0 150.1h1.1v1.1h-1.1zM407.7 147.7h1.1v1.1h-1.1zM388.3 168.5h1.1v1.1h-1.1zM405.9 148.2h1.1v1.1h-1.1zM427.6 151.4h1.1v1.1h-1.1zM430.4 160.6h1.1v1.1h-1.1zM428.9 151.1h1.1v1.1h-1.1zM423.5 141.9h1.1v1.1h-1.1zM392.3 154.8h1.1v1.1h-1.1zM408.9 165.1h1.1v1.1h-1.1zM409.4 140.1h1.1v1.1h-1.1zM414.6 152.0h1.1v1.1h-1.1zM416.6 145.0h1.1v1.1h-1.1zM401.6 154.8h1.1v1.1h-1.1zM425.2 157.7h1.1v1.1h-1.1zM425.4 142.7h1.1v1.1h-1.1zM410.4 156.1h1.1v1.1h-1.1zM428.8 156.5h1.1v1.1h-1.1zM410.1 153.5h1.1v1.1h-1.1zM412.5 143.0h1.1v1.1h-1.1zM414.3 160.9h1.1v1.1h-1.1zM424.9 139.5h1.1v1.1h-1.1zM413.9 142.4h1.1v1.1h-1.1zM430.9 158.8h1.1v1.1h-1.1zM424.9 149.1h1.1v1.1h-1.1zM383.9 146.1h1.1v1.1h-1.1zM408.5 142.5h1.1v1.1h-1.1zM398.3 168.5h1.1v1.1h-1.1zM393.5 158.9h1.1v1.1h-1.1zM385.1 156.5h1.1v1.1h-1.1zM427.0 158.1h1.1v1.1h-1.1zM432.7 168.9h1.1v1.1h-1.1zM392.6 156.6h1.1v1.1h-1.1zM422.1 157.9h1.1v1.1h-1.1zM438.8 156.8h1.1v1.1h-1.1zM432.8 163.9h1.1v1.1h-1.1zM416.6 159.0h1.1v1.1h-1.1zM402.5 157.2h1.1v1.1h-1.1zM417.3 153.5h1.1v1.1h-1.1zM407.3 162.5h1.1v1.1h-1.1zM412.8 173.0h1.1v1.1h-1.1zM434.8 160.9h1.1v1.1h-1.1zM405.6 162.1h1.1v1.1h-1.1zM416.9 155.6h1.1v1.1h-1.1zM397.7 159.5h1.1v1.1h-1.1zM418.6 151.2h1.1v1.1h-1.1zM404.4 152.7h1.1v1.1h-1.1zM394.3 150.5h1.1v1.1h-1.1zM436.2 149.8h1.1v1.1h-1.1zM450.7 144.3h1.1v1.1h-1.1zM431.8 163.6h1.1v1.1h-1.1zM432.9 159.5h1.1v1.1h-1.1zM390.0 164.1h1.1v1.1h-1.1zM431.5 155.3h1.1v1.1h-1.1zM378.3 163.5h1.1v1.1h-1.1zM400.5 152.7h1.1v1.1h-1.1zM434.1 165.5h1.1v1.1h-1.1zM420.8 150.5h1.1v1.1h-1.1zM441.2 164.1h1.1v1.1h-1.1zM412.4 147.2h1.1v1.1h-1.1zM419.2 144.0h1.1v1.1h-1.1zM442.1 158.9h1.1v1.1h-1.1zM409.1 158.1h1.1v1.1h-1.1zM388.7 154.3h1.1v1.1h-1.1zM404.6 142.1h1.1v1.1h-1.1zM404.6 157.5h1.1v1.1h-1.1zM392.2 153.1h1.1v1.1h-1.1zM391.8 156.3h1.1v1.1h-1.1zM387.0 160.4h1.1v1.1h-1.1zM424.6 161.3h1.1v1.1h-1.1zM442.4 156.0h1.1v1.1h-1.1zM416.1 159.5h1.1v1.1h-1.1zM407.0 139.4h1.1v1.1h-1.1zM395.1 144.8h1.1v1.1h-1.1zM417.1 149.4h1.1v1.1h-1.1zM408.0 159.1h1.1v1.1h-1.1zM417.0 170.6h1.1v1.1h-1.1zM413.3 147.0h1.1v1.1h-1.1zM433.8 151.2h1.1v1.1h-1.1zM413.0 162.5h1.1v1.1h-1.1zM416.9 160.2h1.1v1.1h-1.1zM404.5 152.2h1.1v1.1h-1.1zM424.2 150.4h1.1v1.1h-1.1zM408.2 154.4h1.1v1.1h-1.1zM439.2 166.6h1.1v1.1h-1.1zM418.2 155.4h1.1v1.1h-1.1zM403.8 165.5h1.1v1.1h-1.1zM421.2 162.5h1.1v1.1h-1.1zM393.0 161.4h1.1v1.1h-1.1zM417.4 161.1h1.1v1.1h-1.1zM431.2 155.2h1.1v1.1h-1.1zM409.5 160.7h1.1v1.1h-1.1zM396.5 166.6h1.1v1.1h-1.1zM420.7 146.3h1.1v1.1h-1.1zM435.4 163.0h1.1v1.1h-1.1zM439.3 163.3h1.1v1.1h-1.1zM423.3 155.0h1.1v1.1h-1.1zM399.2 161.4h1.1v1.1h-1.1zM425.0 152.0h1.1v1.1h-1.1zM425.0 148.3h1.1v1.1h-1.1zM432.3 156.7h1.1v1.1h-1.1zM419.6 149.6h1.1v1.1h-1.1zM430.5 156.7h1.1v1.1h-1.1zM406.9 158.5h1.1v1.1h-1.1zM412.5 163.7h1.1v1.1h-1.1zM392.1 146.2h1.1v1.1h-1.1zM447.1 151.4h1.1v1.1h-1.1zM423.3 152.1h1.1v1.1h-1.1zM418.9 176.3h1.1v1.1h-1.1zM384.9 159.7h1.1v1.1h-1.1zM416.4 155.5h1.1v1.1h-1.1zM403.2 147.6h1.1v1.1h-1.1zM436.6 159.3h1.1v1.1h-1.1zM396.8 155.3h1.1v1.1h-1.1zM394.6 178.2h1.1v1.1h-1.1zM421.2 140.7h1.1v1.1h-1.1zM429.7 160.2h1.1v1.1h-1.1zM420.2 156.6h1.1v1.1h-1.1zM406.7 153.6h1.1v1.1h-1.1zM383.8 165.6h1.1v1.1h-1.1zM446.4 159.1h1.1v1.1h-1.1zM424.8 144.2h1.1v1.1h-1.1zM408.5 143.7h1.1v1.1h-1.1zM394.8 159.4h1.1v1.1h-1.1zM437.2 154.5h1.1v1.1h-1.1zM453.7 161.7h1.1v1.1h-1.1zM380.0 151.8h1.1v1.1h-1.1zM435.3 156.3h1.1v1.1h-1.1zM431.2 141.5h1.1v1.1h-1.1zM434.9 145.5h1.1v1.1h-1.1zM420.3 172.0h1.1v1.1h-1.1zM416.1 153.1h1.1v1.1h-1.1zM426.8 148.3h1.1v1.1h-1.1zM400.1 162.8h1.1v1.1h-1.1zM391.7 145.0h1.1v1.1h-1.1zM442.2 144.9h1.1v1.1h-1.1zM421.7 163.8h1.1v1.1h-1.1zM413.9 146.4h1.1v1.1h-1.1zM427.6 147.4h1.1v1.1h-1.1zM447.7 172.7h1.1v1.1h-1.1zM398.8 159.6h1.1v1.1h-1.1zM403.8 157.9h1.1v1.1h-1.1zM410.8 147.0h1.1v1.1h-1.1zM422.7 141.6h1.1v1.1h-1.1zM419.5 153.6h1.1v1.1h-1.1zM402.4 162.1h1.1v1.1h-1.1zM415.2 152.0h1.1v1.1h-1.1zM412.0 153.0h1.1v1.1h-1.1zM429.1 152.4h1.1v1.1h-1.1zM369.4 129.8h1.1v1.1h-1.1zM398.1 144.6h1.1v1.1h-1.1zM410.2 143.8h1.1v1.1h-1.1zM401.9 165.3h1.1v1.1h-1.1zM393.6 161.5h1.1v1.1h-1.1zM412.5 165.2h1.1v1.1h-1.1zM428.5 155.3h1.1v1.1h-1.1zM431.4 156.6h1.1v1.1h-1.1zM397.2 158.9h1.1v1.1h-1.1zM422.6 154.0h1.1v1.1h-1.1zM418.9 151.5h1.1v1.1h-1.1zM420.0 152.8h1.1v1.1h-1.1zM391.0 152.9h1.1v1.1h-1.1zM439.8 161.7h1.1v1.1h-1.1zM438.4 155.1h1.1v1.1h-1.1zM408.7 146.5h1.1v1.1h-1.1zM417.4 163.2h1.1v1.1h-1.1zM427.8 161.0h1.1v1.1h-1.1zM407.1 155.9h1.1v1.1h-1.1zM403.0 161.7h1.1v1.1h-1.1zM424.4 149.9h1.1v1.1h-1.1zM417.0 136.8h1.1v1.1h-1.1zM426.0 148.4h1.1v1.1h-1.1zM409.2 159.8h1.1v1.1h-1.1zM425.5 149.6h1.1v1.1h-1.1zM439.7 171.2h1.1v1.1h-1.1zM437.5 165.5h1.1v1.1h-1.1zM415.8 166.1h1.1v1.1h-1.1zM401.3 146.1h1.1v1.1h-1.1zM417.4 157.0h1.1v1.1h-1.1zM401.5 169.3h1.1v1.1h-1.1zM392.2 138.4h1.1v1.1h-1.1zM408.6 168.1h1.1v1.1h-1.1zM426.5 157.7h1.1v1.1h-1.1zM417.0 159.4h1.1v1.1h-1.1zM419.8 155.7h1.1v1.1h-1.1zM412.8 142.0h1.1v1.1h-1.1zM429.8 151.4h1.1v1.1h-1.1zM420.6 158.8h1.1v1.1h-1.1zM430.8 148.5h1.1v1.1h-1.1zM427.5 161.7h1.1v1.1h-1.1zM413.0 154.4h1.1v1.1h-1.1zM417.0 146.6h1.1v1.1h-1.1zM407.5 145.7h1.1v1.1h-1.1zM433.1 148.5h1.1v1.1h-1.1zM397.9 156.0h1.1v1.1h-1.1zM422.9 151.8h1.1v1.1h-1.1zM399.7 158.1h1.1v1.1h-1.1zM427.7 141.6h1.1v1.1h-1.1zM428.6 140.5h1.1v1.1h-1.1zM424.7 151.2h1.1v1.1h-1.1zM410.5 160.5h1.1v1.1h-1.1zM436.8 171.5h1.1v1.1h-1.1zM435.7 160.2h1.1v1.1h-1.1zM393.7 151.5h1.1v1.1h-1.1zM416.5 149.9h1.1v1.1h-1.1zM423.5 152.8h1.1v1.1h-1.1zM442.2 153.2h1.1v1.1h-1.1zM394.7 150.6h1.1v1.1h-1.1zM403.2 160.4h1.1v1.1h-1.1zM436.1 162.9h1.1v1.1h-1.1zM430.3 149.2h1.1v1.1h-1.1zM397.3 148.3h1.1v1.1h-1.1zM415.0 152.0h1.1v1.1h-1.1zM419.0 163.0h1.1v1.1h-1.1zM415.9 168.5h1.1v1.1h-1.1zM402.6 159.9h1.1v1.1h-1.1zM413.8 162.9h1.1v1.1h-1.1zM414.2 150.6h1.1v1.1h-1.1zM412.8 147.8h1.1v1.1h-1.1zM397.6 161.3h1.1v1.1h-1.1zM405.3 164.5h1.1v1.1h-1.1zM453.6 151.8h1.1v1.1h-1.1zM428.1 154.2h1.1v1.1h-1.1zM385.2 154.0h1.1v1.1h-1.1zM437.5 145.0h1.1v1.1h-1.1zM411.9 153.3h1.1v1.1h-1.1zM391.9 157.2h1.1v1.1h-1.1zM412.1 159.3h1.1v1.1h-1.1zM415.1 143.3h1.1v1.1h-1.1zM416.4 159.7h1.1v1.1h-1.1zM410.4 159.1h1.1v1.1h-1.1zM422.7 137.3h1.1v1.1h-1.1zM423.9 138.3h1.1v1.1h-1.1zM394.0 153.4h1.1v1.1h-1.1zM398.7 147.9h1.1v1.1h-1.1zM431.0 145.8h1.1v1.1h-1.1zM432.1 169.0h1.1v1.1h-1.1zM435.5 145.5h1.1v1.1h-1.1zM389.8 154.8h1.1v1.1h-1.1zM446.5 152.5h1.1v1.1h-1.1zM404.8 153.3h1.1v1.1h-1.1zM425.2 163.8h1.1v1.1h-1.1zM413.4 153.2h1.1v1.1h-1.1zM421.4 154.5h1.1v1.1h-1.1zM407.1 140.1h1.1v1.1h-1.1zM415.3 149.4h1.1v1.1h-1.1zM409.8 151.9h1.1v1.1h-1.1zM399.7 158.7h1.1v1.1h-1.1zM430.1 158.5h1.1v1.1h-1.1zM403.3 155.6h1.1v1.1h-1.1zM424.3 153.4h1.1v1.1h-1.1zM424.3 142.9h1.1v1.1h-1.1zM410.1 165.8h1.1v1.1h-1.1zM429.0 153.2h1.1v1.1h-1.1zM415.4 171.5h1.1v1.1h-1.1zM430.6 148.7h1.1v1.1h-1.1zM418.5 150.7h1.1v1.1h-1.1zM404.5 144.7h1.1v1.1h-1.1zM424.8 172.2h1.1v1.1h-1.1zM427.1 143.9h1.1v1.1h-1.1zM422.1 142.7h1.1v1.1h-1.1zM417.4 162.9h1.1v1.1h-1.1zM436.9 155.5h1.1v1.1h-1.1zM419.0 154.6h1.1v1.1h-1.1zM411.3 167.0h1.1v1.1h-1.1zM399.2 141.8h1.1v1.1h-1.1zM441.2 172.6h1.1v1.1h-1.1zM389.3 162.0h1.1v1.1h-1.1zM426.5 151.2h1.1v1.1h-1.1zM399.2 155.8h1.1v1.1h-1.1zM408.9 161.1h1.1v1.1h-1.1zM404.2 164.0h1.1v1.1h-1.1zM404.3 167.6h1.1v1.1h-1.1zM427.8 163.6h1.1v1.1h-1.1zM408.1 152.7h1.1v1.1h-1.1zM412.6 164.0h1.1v1.1h-1.1zM403.8 148.3h1.1v1.1h-1.1zM410.6 157.4h1.1v1.1h-1.1zM412.8 154.0h1.1v1.1h-1.1zM393.7 149.6h1.1v1.1h-1.1zM397.4 162.9h1.1v1.1h-1.1zM413.4 159.9h1.1v1.1h-1.1zM393.6 154.2h1.1v1.1h-1.1zM419.8 146.1h1.1v1.1h-1.1zM404.0 150.4h1.1v1.1h-1.1zM416.3 156.8h1.1v1.1h-1.1zM392.0 157.1h1.1v1.1h-1.1zM417.2 156.8h1.1v1.1h-1.1zM400.5 153.9h1.1v1.1h-1.1zM433.8 163.7h1.1v1.1h-1.1zM404.5 167.3h1.1v1.1h-1.1zM407.4 147.3h1.1v1.1h-1.1zM431.3 157.1h1.1v1.1h-1.1zM449.5 152.6h1.1v1.1h-1.1zM416.0 160.4h1.1v1.1h-1.1zM418.0 151.3h1.1v1.1h-1.1zM414.0 154.3h1.1v1.1h-1.1zM413.7 154.2h1.1v1.1h-1.1zM390.1 161.6h1.1v1.1h-1.1zM404.4 152.5h1.1v1.1h-1.1zM401.7 152.8h1.1v1.1h-1.1zM429.1 164.6h1.1v1.1h-1.1zM419.0 155.8h1.1v1.1h-1.1zM405.9 152.3h1.1v1.1h-1.1zM417.6 153.3h1.1v1.1h-1.1zM398.7 155.0h1.1v1.1h-1.1zM397.8 171.1h1.1v1.1h-1.1zM418.8 150.0h1.1v1.1h-1.1zM421.2 148.5h1.1v1.1h-1.1zM410.1 166.9h1.1v1.1h-1.1zM434.0 145.0h1.1v1.1h-1.1zM396.7 150.4h1.1v1.1h-1.1zM448.9 155.0h1.1v1.1h-1.1zM418.0 150.4h1.1v1.1h-1.1zM434.6 162.2h1.1v1.1h-1.1zM387.2 147.7h1.1v1.1h-1.1zM385.6 145.2h1.1v1.1h-1.1zM401.4 143.8h1.1v1.1h-1.1zM404.1 160.0h1.1v1.1h-1.1zM431.5 155.4h1.1v1.1h-1.1zM425.3 143.6h1.1v1.1h-1.1zM436.8 172.9h1.1v1.1h-1.1zM411.7 159.1h1.1v1.1h-1.1zM419.5 137.1h1.1v1.1h-1.1zM429.8 158.3h1.1v1.1h-1.1zM388.9 151.1h1.1v1.1h-1.1zM431.9 159.1h1.1v1.1h-1.1zM392.6 149.9h1.1v1.1h-1.1zM403.3 155.7h1.1v1.1h-1.1zM403.0 154.9h1.1v1.1h-1.1zM411.3 142.6h1.1v1.1h-1.1zM420.3 156.5h1.1v1.1h-1.1zM403.3 160.4h1.1v1.1h-1.1zM449.5 141.8h1.1v1.1h-1.1zM417.3 161.2h1.1v1.1h-1.1zM414.4 149.8h1.1v1.1h-1.1zM448.1 150.4h1.1v1.1h-1.1zM411.9 149.2h1.1v1.1h-1.1zM432.8 137.3h1.1v1.1h-1.1zM400.0 150.8h1.1v1.1h-1.1zM418.8 157.2h1.1v1.1h-1.1zM429.3 153.5h1.1v1.1h-1.1zM402.5 153.9h1.1v1.1h-1.1zM400.4 150.2h1.1v1.1h-1.1zM406.5 156.9h1.1v1.1h-1.1zM426.8 145.6h1.1v1.1h-1.1zM404.7 154.3h1.1v1.1h-1.1zM414.1 152.4h1.1v1.1h-1.1zM422.9 152.7h1.1v1.1h-1.1zM386.9 165.0h1.1v1.1h-1.1zM394.5 167.5h1.1v1.1h-1.1zM418.0 157.1h1.1v1.1h-1.1zM391.2 156.6h1.1v1.1h-1.1zM410.7 147.8h1.1v1.1h-1.1zM422.4 160.5h1.1v1.1h-1.1zM432.3 144.7h1.1v1.1h-1.1zM401.8 165.6h1.1v1.1h-1.1zM422.1 161.0h1.1v1.1h-1.1zM405.9 157.3h1.1v1.1h-1.1zM426.7 144.8h1.1v1.1h-1.1zM403.6 156.5h1.1v1.1h-1.1zM435.4 151.2h1.1v1.1h-1.1zM424.5 148.0h1.1v1.1h-1.1zM396.0 159.6h1.1v1.1h-1.1zM398.6 155.0h1.1v1.1h-1.1zM405.7 158.7h1.1v1.1h-1.1zM394.9 143.6h1.1v1.1h-1.1zM392.6 153.0h1.1v1.1h-1.1zM433.8 161.1h1.1v1.1h-1.1zM417.2 153.5h1.1v1.1h-1.1zM432.8 153.8h1.1v1.1h-1.1zM430.1 165.3h1.1v1.1h-1.1zM424.5 157.7h1.1v1.1h-1.1zM420.0 153.9h1.1v1.1h-1.1zM418.4 147.6h1.1v1.1h-1.1zM401.2 166.9h1.1v1.1h-1.1zM412.2 141.2h1.1v1.1h-1.1zM434.7 165.2h1.1v1.1h-1.1zM420.9 144.8h1.1v1.1h-1.1zM443.6 163.0h1.1v1.1h-1.1zM432.8 152.6h1.1v1.1h-1.1zM420.4 152.3h1.1v1.1h-1.1zM410.4 145.3h1.1v1.1h-1.1zM402.0 150.5h1.1v1.1h-1.1zM414.5 162.2h1.1v1.1h-1.1zM422.4 140.3h1.1v1.1h-1.1zM429.7 142.6h1.1v1.1h-1.1zM421.3 152.9h1.1v1.1h-1.1zM414.9 150.7h1.1v1.1h-1.1zM397.7 167.2h1.1v1.1h-1.1zM376.5 147.4h1.1v1.1h-1.1zM433.9 154.3h1.1v1.1h-1.1zM414.0 147.6h1.1v1.1h-1.1zM396.4 159.0h1.1v1.1h-1.1zM411.1 157.0h1.1v1.1h-1.1zM425.4 140.8h1.1v1.1h-1.1zM397.8 149.0h1.1v1.1h-1.1zM417.1 159.8h1.1v1.1h-1.1zM397.7 152.6h1.1v1.1h-1.1zM411.9 153.4h1.1v1.1h-1.1zM437.5 148.4h1.1v1.1h-1.1zM416.1 135.9h1.1v1.1h-1.1zM411.8 155.2h1.1v1.1h-1.1zM424.4 150.2h1.1v1.1h-1.1zM405.0 144.7h1.1v1.1h-1.1zM405.9 173.1h1.1v1.1h-1.1zM387.2 140.8h1.1v1.1h-1.1zM415.1 146.8h1.1v1.1h-1.1zM432.7 142.3h1.1v1.1h-1.1zM439.0 150.8h1.1v1.1h-1.1zM388.1 136.7h1.1v1.1h-1.1zM399.7 149.1h1.1v1.1h-1.1zM419.2 144.0h1.1v1.1h-1.1zM460.6 161.0h1.1v1.1h-1.1zM410.8 149.9h1.1v1.1h-1.1zM455.3 148.3h1.1v1.1h-1.1zM425.4 166.2h1.1v1.1h-1.1zM399.4 159.0h1.1v1.1h-1.1zM406.1 165.5h1.1v1.1h-1.1zM436.3 158.8h1.1v1.1h-1.1zM416.4 144.7h1.1v1.1h-1.1zM451.8 166.6h1.1v1.1h-1.1zM425.2 166.5h1.1v1.1h-1.1zM414.3 145.6h1.1v1.1h-1.1zM428.6 146.8h1.1v1.1h-1.1zM405.8 160.5h1.1v1.1h-1.1zM389.7 154.8h1.1v1.1h-1.1zM409.5 145.2h1.1v1.1h-1.1zM395.3 152.8h1.1v1.1h-1.1zM409.5 155.8h1.1v1.1h-1.1zM390.8 155.2h1.1v1.1h-1.1zM394.5 148.0h1.1v1.1h-1.1zM429.0 149.1h1.1v1.1h-1.1zM406.3 148.0h1.1v1.1h-1.1zM413.9 161.2h1.1v1.1h-1.1zM408.6 159.8h1.1v1.1h-1.1zM393.8 158.2h1.1v1.1h-1.1zM412.3 155.1h1.1v1.1h-1.1zM399.7 149.6h1.1v1.1h-1.1zM418.8 145.0h1.1v1.1h-1.1zM425.9 151.0h1.1v1.1h-1.1zM421.0 145.5h1.1v1.1h-1.1zM388.8 159.6h1.1v1.1h-1.1zM424.6 154.2h1.1v1.1h-1.1zM424.1 154.4h1.1v1.1h-1.1zM424.2 155.7h1.1v1.1h-1.1zM399.0 163.3h1.1v1.1h-1.1zM399.1 172.6h1.1v1.1h-1.1zM411.7 147.1h1.1v1.1h-1.1zM410.7 155.0h1.1v1.1h-1.1zM416.2 159.0h1.1v1.1h-1.1zM404.9 138.1h1.1v1.1h-1.1zM400.9 158.1h1.1v1.1h-1.1zM431.5 138.7h1.1v1.1h-1.1zM415.8 163.6h1.1v1.1h-1.1zM392.5 168.3h1.1v1.1h-1.1zM402.3 153.7h1.1v1.1h-1.1zM406.6 168.9h1.1v1.1h-1.1zM428.3 155.8h1.1v1.1h-1.1z" fill="rgb(222,36,88)"/>
<path d="M420.4 169.6h1.1v1.1h-1.1zM397.2 130.6h1.1v1.1h-1.1zM427.5 111.8h1.1v1.1h-1.1zM431.9 135.9h1.1v1.1h-1.1zM421.0 120.8h1.1v1.1h-1.1zM405.7 163.9h1.1v1.1h-1.1zM386.7 159.5h1.1v1.1h-1.1zM434.7 137.6h1.1v1.1h-1.1zM368.0 109.1h1.1v1.1h-1.1zM418.8 160.5h1.1v1.1h-1.1zM379.9 144.0h1.1v1.1h-1.1zM415.5 99.5h1.1v1.1h-1.1zM414.2 117.4h1.1v1.1h-1.1zM377.6 177.8h1.1v1.1h-1.1zM393.8 101.3h1.1v1.1h-1.1zM379.3 181.2h1.1v1.1h-1.1zM431.7 148.3h1.1v1.1h-1.1zM392.1 144.3h1.1v1.1h-1.1zM411.8 152.7h1.1v1.1h-1.1zM378.4 152.5h1.1v1.1h-1.1zM431.7 113.9h1.1v1.1h-1.1zM389.7 132.3h1.1v1.1h-1.1zM380.8 128.2h1.1v1.1h-1.1zM403.7 167.8h1.1v1.1h-1.1zM388.1 127.4h1.1v1.1h-1.1zM438.9 94.1h1.1v1.1h-1.1zM432.6 124.0h1.1v1.1h-1.1zM422.8 134.7h1.1v1.1h-1.1zM423.9 55.3h1.1v1.1h-1.1zM394.4 82.9h1.1v1.1h-1.1zM403.5 119.2h1.1v1.1h-1.1zM411.4 175.1h1.1v1.1h-1.1zM421.7 144.8h1.1v1.1h-1.1zM424.1 129.4h1.1v1.1h-1.1zM443.4 151.3h1.1v1.1h-1.1zM411.3 164.7h1.1v1.1h-1.1zM402.4 123.2h1.1v1.1h-1.1zM391.2 101.6h1.1v1.1h-1.1zM383.8 163.5h1.1v1.1h-1.1zM400.8 134.3h1.1v1.1h-1.1zM426.1 131.5h1.1v1.1h-1.1zM388.6 114.9h1.1v1.1h-1.1zM400.1 159.4h1.1v1.1h-1.1zM398.3 121.2h1.1v1.1h-1.1zM421.4 135.4h1.1v1.1h-1.1zM411.2 140.3h1.1v1.1h-1.1zM447.1 126.8h1.1v1.1h-1.1zM399.7 177.9h1.1v1.1h-1.1zM390.0 93.4h1.1v1.1h-1.1zM428.7 123.3h1.1v1.1h-1.1zM409.4 136.8h1.1v1.1h-1.1zM384.5 146.7h1.1v1.1h-1.1zM383.3 154.8h1.1v1.1h-1.1zM434.7 118.1h1.1v1.1h-1.1zM433.7 139.0h1.1v1.1h-1.1zM450.1 135.4h1.1v1.1h-1.1zM370.3 91.1h1.1v1.1h-1.1zM429.3 123.7h1.1v1.1h-1.1zM418.2 108.0h1.1v1.1h-1.1zM397.0 81.4h1.1v1.1h-1.1zM418.1 153.5h1.1v1.1h-1.1zM392.6 146.5h1.1v1.1h-1.1zM393.5 143.1h1.1v1.1h-1.1zM399.4 113.2h1.1v1.1h-1.1zM419.5 89.3h1.1v1.1h-1.1zM449.2 96.0h1.1v1.1h-1.1zM365.5 140.5h1.1v1.1h-1.1zM386.1 148.5h1.1v1.1h-1.1zM378.2 169.5h1.1v1.1h-1.1zM437.0 108.6h1.1v1.1h-1.1zM452.7 123.5h1.1v1.1h-1.1zM409.1 118.3h1.1v1.1h-1.1zM415.1 143.3h1.1v1.1h-1.1zM406.3 141.3h1.1v1.1h-1.1zM412.0 145.5h1.1v1.1h-1.1zM380.3 123.7h1.1v1.1h-1.1zM383.6 132.7h1.1v1.1h-1.1zM407.6 129.3h1.1v1.1h-1.1zM394.0 177.8h1.1v1.1h-1.1zM387.8 146.5h1.1v1.1h-1.1zM399.2 169.4h1.1v1.1h-1.1zM435.6 144.3h1.1v1.1h-1.1zM424.1 113.8h1.1v1.1h-1.1zM386.6 152.6h1.1v1.1h-1.1zM409.5 97.0h1.1v1.1h-1.1zM405.4 102.8h1.1v1.1h-1.1zM377.5 132.6h1.1v1.1h-1.1zM410.4 126.3h1.1v1.1h-1.1zM398.1 108.8h1.1v1.1h-1.1zM404.5 130.8h1.1v1.1h-1.1zM398.5 190.3h1.1v1.1h-1.1zM402.6 136.6h1.1v1.1h-1.1zM391.9 129.6h1.1v1.1h-1.1zM410.1 147.4h1.1v1.1h-1.1zM342.7 159.2h1.1v1.1h-1.1zM420.9 139.9h1.1v1.1h-1.1zM386.5 91.5h1.1v1.1h-1.1zM384.3 150.5h1.1v1.1h-1.1zM423.4 134.0h1.1v1.1h-1.1zM425.0 112.0h1.1v1.1h-1.1zM385.3 164.3h1.1v1.1h-1.1zM433.7 153.1h1.1v1.1h-1.1zM433.6 133.6h1.1v1.1h-1.1zM359.2 128.2h1.1v1.1h-1.1zM433.7 128.6h1.1v1.1h-1.1zM424.9 149.4h1.1v1.1h-1.1zM389.9 147.0h1.1v1.1h-1.1zM411.6 100.1h1.1v1.1h-1.1zM433.1 109.1h1.1v1.1h-1.1zM419.9 146.7h1.1v1.1h-1.1zM393.0 112.6h1.1v1.1h-1.1zM419.4 140.3h1.1v1.1h-1.1zM436.3 138.9h1.1v1.1h-1.1zM421.0 138.9h1.1v1.1h-1.1zM430.4 111.0h1.1v1.1h-1.1zM368.7 146.6h1.1v1.1h-1.1zM405.4 119.6h1.1v1.1h-1.1zM446.4 101.0h1.1v1.1h-1.1zM403.6 156.4h1.1v1.1h-1.1zM405.5 124.7h1.1v1.1h-1.1zM416.7 125.8h1.1v1.1h-1.1zM372.4 103.2h1.1v1.1h-1.1zM424.6 150.6h1.1v1.1h-1.1zM383.9 141.0h1.1v1.1h-1.1zM423.7 150.6h1.1v1.1h-1.1zM441.3 158.1h1.1v1.1h-1.1zM408.4 129.0h1.1v1.1h-1.1zM424.7 107.6h1.1v1.1h-1.1zM374.4 154.1h1.1v1.1h-1.1zM434.5 149.2h1.1v1.1h-1.1zM416.7 97.4h1.1v1.1h-1.1zM379.1 120.2h1.1v1.1h-1.1zM446.1 128.1h1.1v1.1h-1.1zM413.7 116.2h1.1v1.1h-1.1zM439.0 90.4h1.1v1.1h-1.1zM445.9 135.3h1.1v1.1h-1.1zM352.6 137.1h1.1v1.1h-1.1zM422.8 148.9h1.1v1.1h-1.1zM420.4 128.1h1.1v1.1h-1.1zM404.1 138.0h1.1v1.1h-1.1zM397.0 176.1h1.1v1.1h-1.1zM384.4 138.6h1.1v1.1h-1.1zM404.0 100.7h1.1v1.1h-1.1zM441.2 141.6h1.1v1.1h-1.1zM395.3 114.7h1.1v1.1h-1.1zM404.4 172.7h1.1v1.1h-1.1zM415.1 113.6h1.1v1.1h-1.1zM413.3 118.6h1.1v1.1h-1.1zM421.9 146.0h1.1v1.1h-1.1zM426.9 143.3h1.1v1.1h-1.1zM412.9 105.1h1.1v1.1h-1.1zM416.0 162.3h1.1v1.1h-1.1zM379.4 157.8h1.1v1.1h-1.1zM397.7 120.9h1.1v1.1h-1.1zM397.5 152.8h1.1v1.1h-1.1zM411.8 140.5h1.1v1.1h-1.1zM389.2 173.6h1.1v1.1h-1.1zM390.3 167.2h1.1v1.1h-1.1zM438.2 153.5h1.1v1.1h-1.1zM383.9 137.6h1.1v1.1h-1.1zM394.8 173.3h1.1v1.1h-1.1zM417.2 146.8h1.1v1.1h-1.1zM416.3 142.9h1.1v1.1h-1.1zM434.1 187.5h1.1v1.1h-1.1zM428.3 166.4h1.1v1.1h-1.1zM426.6 147.3h1.1v1.1h-1.1zM386.6 127.8h1.1v1.1h-1.1zM398.8 151.2h1.1v1.1h-1.1zM348.2 85.5h1.1v1.1h-1.1zM401.2 146.8h1.1v1.1h-1.1zM404.4 135.2h1.1v1.1h-1.1zM427.9 171.5h1.1v1.1h-1.1zM448.9 151.6h1.1v1.1h-1.1zM436.4 129.5h1.1v1.1h-1.1zM393.9 153.0h1.1v1.1h-1.1zM447.3 151.7h1.1v1.1h-1.1zM372.3 164.2h1.1v1.1h-1.1zM455.3 156.9h1.1v1.1h-1.1zM408.5 119.7h1.1v1.1h-1.1zM390.1 174.5h1.1v1.1h-1.1zM408.4 134.3h1.1v1.1h-1.1zM410.7 136.8h1.1v1.1h-1.1zM422.6 130.8h1.1v1.1h-1.1zM422.1 127.5h1.1v1.1h-1.1zM398.1 98.7h1.1v1.1h-1.1zM417.3 170.7h1.1v1.1h-1.1zM428.0 166.0h1.1v1.1h-1.1zM406.6 122.2h1.1v1.1h-1.1zM398.0 113.9h1.1v1.1h-1.1zM432.0 169.5h1.1v1.1h-1.1zM399.4 150.2h1.1v1.1h-1.1zM384.2 147.3h1.1v1.1h-1.1zM431.4 120.3h1.1v1.1h-1.1zM441.2 129.4h1.1v1.1h-1.1zM420.0 178.7h1.1v1.1h-1.1zM380.7 150.8h1.1v1.1h-1.1zM408.5 174.5h1.1v1.1h-1.1zM413.3 135.3h1.1v1.1h-1.1zM424.7 180.9h1.1v1.1h-1.1zM401.1 116.9h1.1v1.1h-1.1zM396.9 161.6h1.1v1.1h-1.1zM374.8 111.4h1.1v1.1h-1.1zM399.3 116.7h1.1v1.1h-1.1zM408.9 120.9h1.1v1.1h-1.1zM368.8 191.4h1.1v1.1h-1.1zM434.9 133.4h1.1v1.1h-1.1zM400.1 121.0h1.1v1.1h-1.1zM372.1 110.7h1.1v1.1h-1.1zM416.1 143.8h1.1v1.1h-1.1zM442.9 137.1h1.1v1.1h-1.1zM398.5 159.2h1.1v1.1h-1.1zM425.0 106.8h1.1v1.1h-1.1zM396.6 158.2h1.1v1.1h-1.1zM395.4 139.3h1.1v1.1h-1.1zM390.3 162.0h1.1v1.1h-1.1zM457.0 88.3h1.1v1.1h-1.1zM389.2 153.9h1.1v1.1h-1.1zM418.3 135.5h1.1v1.1h-1.1zM383.5 95.1h1.1v1.1h-1.1zM403.2 160.7h1.1v1.1h-1.1zM433.9 194.4h1.1v1.1h-1.1zM374.3 142.6h1.1v1.1h-1.1zM418.5 184.1h1.1v1.1h-1.1zM397.8 171.2h1.1v1.1h-1.1zM378.1 163.9h1.1v1.1h-1.1zM392.2 112.8h1.1v1.1h-1.1zM420.4 126.4h1.1v1.1h-1.1zM417.8 134.0h1.1v1.1h-1.1zM393.8 156.2h1.1v1.1h-1.1zM405.8 119.8h1.1v1.1h-1.1zM395.6 90.4h1.1v1.1h-1.1zM381.9 143.9h1.1v1.1h-1.1zM415.7 132.8h1.1v1.1h-1.1zM440.1 136.1h1.1v1.1h-1.1zM411.3 149.1h1.1v1.1h-1.1zM418.7 164.5h1.1v1.1h-1.1zM399.5 138.8h1.1v1.1h-1.1zM411.6 128.3h1.1v1.1h-1.1zM409.7 159.1h1.1v1.1h-1.1zM444.9 137.9h1.1v1.1h-1.1zM412.3 143.5h1.1v1.1h-1.1zM437.0 152.2h1.1v1.1h-1.1zM448.6 182.7h1.1v1.1h-1.1zM437.9 124.2h1.1v1.1h-1.1zM404.8 128.7h1.1v1.1h-1.1zM402.5 161.9h1.1v1.1h-1.1zM398.8 150.4h1.1v1.1h-1.1zM403.9 117.5h1.1v1.1h-1.1zM439.9 104.2h1.1v1.1h-1.1zM442.8 104.9h1.1v1.1h-1.1zM424.0 144.7h1.1v1.1h-1.1zM418.8 136.2h1.1v1.1h-1.1zM398.2 132.0h1.1v1.1h-1.1zM442.9 161.4h1.1v1.1h-1.1zM462.3 165.9h1.1v1.1h-1.1zM426.9 144.1h1.1v1.1h-1.1zM410.3 171.9h1.1v1.1h-1.1zM406.4 132.2h1.1v1.1h-1.1zM399.7 151.9h1.1v1.1h-1.1zM484.2 131.2h1.1v1.1h-1.1zM376.4 198.6h1.1v1.1h-1.1zM393.1 174.3h1.1v1.1h-1.1zM376.5 205.0h1.1v1.1h-1.1zM366.4 205.5h1.1v1.1h-1.1zM394.9 189.3h1.1v1.1h-1.1zM390.3 178.2h1.1v1.1h-1.1zM354.7 216.7h1.1v1.1h-1.1zM381.8 187.6h1.1v1.1h-1.1zM372.3 190.7h1.1v1.1h-1.1zM346.2 218.1h1.1v1.1h-1.1zM382.7 186.7h1.1v1.1h-1.1zM369.8 200.2h1.1v1.1h-1.1zM354.0 213.5h1.1v1.1h-1.1zM399.5 176.5h1.1v1.1h-1.1zM366.4 197.8h1.1v1.1h-1.1zM362.2 210.7h1.1v1.1h-1.1zM357.1 209.7h1.1v1.1h-1.1zM389.5 175.6h1.1v1.1h-1.1zM376.8 183.9h1.1v1.1h-1.1zM354.5 216.7h1.1v1.1h-1.1zM383.3 176.5h1.1v1.1h-1.1zM383.5 189.4h1.1v1.1h-1.1zM398.2 180.9h1.1v1.1h-1.1zM399.9 179.8h1.1v1.1h-1.1zM363.0 207.1h1.1v1.1h-1.1zM388.2 175.6h1.1v1.1h-1.1zM372.1 198.2h1.1v1.1h-1.1zM388.1 181.6h1.1v1.1h-1.1zM386.7 181.5h1.1v1.1h-1.1zM359.4 213.3h1.1v1.1h-1.1zM376.3 190.2h1.1v1.1h-1.1zM370.2 215.5h1.1v1.1h-1.1zM352.0 219.0h1.1v1.1h-1.1zM369.5 186.9h1.1v1.1h-1.1zM349.8 206.7h1.1v1.1h-1.1zM366.5 195.5h1.1v1.1h-1.1zM354.4 213.0h1.1v1.1h-1.1zM366.9 193.7h1.1v1.1h-1.1zM385.4 190.7h1.1v1.1h-1.1zM346.6 209.9h1.1v1.1h-1.1zM363.4 197.2h1.1v1.1h-1.1zM346.8 210.0h1.1v1.1h-1.1zM375.9 190.7h1.1v1.1h-1.1zM367.2 197.2h1.1v1.1h-1.1zM357.8 204.2h1.1v1.1h-1.1zM387.9 201.7h1.1v1.1h-1.1zM370.5 186.2h1.1v1.1h-1.1zM346.8 213.3h1.1v1.1h-1.1zM371.8 186.1h1.1v1.1h-1.1zM376.7 192.6h1.1v1.1h-1.1zM381.6 189.0h1.1v1.1h-1.1zM395.4 178.1h1.1v1.1h-1.1zM387.4 175.3h1.1v1.1h-1.1zM354.5 214.3h1.1v1.1h-1.1zM370.4 208.5h1.1v1.1h-1.1zM358.7 209.9h1.1v1.1h-1.1zM398.0 176.6h1.1v1.1h-1.1zM391.4 182.5h1.1v1.1h-1.1zM399.8 172.6h1.1v1.1h-1.1zM347.5 213.0h1.1v1.1h-1.1zM354.9 208.4h1.1v1.1h-1.1zM395.9 173.2h1.1v1.1h-1.1zM357.7 210.3h1.1v1.1h-1.1zM384.8 171.6h1.1v1.1h-1.1zM353.1 219.8h1.1v1.1h-1.1zM374.3 188.6h1.1v1.1h-1.1zM387.2 177.2h1.1v1.1h-1.1zM347.6 210.3h1.1v1.1h-1.1zM350.5 215.1h1.1v1.1h-1.1zM371.3 208.2h1.1v1.1h-1.1zM366.1 211.3h1.1v1.1h-1.1zM373.7 217.7h1.1v1.1h-1.1zM389.0 189.2h1.1v1.1h-1.1zM346.7 208.5h1.1v1.1h-1.1zM350.5 216.2h1.1v1.1h-1.1zM364.7 193.5h1.1v1.1h-1.1zM383.3 167.6h1.1v1.1h-1.1zM401.8 179.2h1.1v1.1h-1.1zM385.0 180.2h1.1v1.1h-1.1zM353.8 210.3h1.1v1.1h-1.1zM359.8 221.4h1.1v1.1h-1.1zM374.1 188.5h1.1v1.1h-1.1zM363.5 207.0h1.1v1.1h-1.1zM348.0 219.1h1.1v1.1h-1.1zM385.0 198.8h1.1v1.1h-1.1zM348.3 205.0h1.1v1.1h-1.1zM366.5 190.3h1.1v1.1h-1.1zM400.2 177.2h1.1v1.1h-1.1zM351.6 218.7h1.1v1.1h-1.1zM398.8 176.2h1.1v1.1h-1.1zM364.2 206.4h1.1v1.1h-1.1zM348.9 206.0h1.1v1.1h-1.1zM364.4 209.9h1.1v1.1h-1.1zM359.9 219.1h1.1v1.1h-1.1zM392.4 166.5h1.1v1.1h-1.1zM396.7 181.9h1.1v1.1h-1.1zM379.1 188.3h1.1v1.1h-1.1zM367.8 207.0h1.1v1.1h-1.1zM387.7 177.9h1.1v1.1h-1.1zM375.8 200.4h1.1v1.1h-1.1zM370.8 204.0h1.1v1.1h-1.1zM380.8 188.0h1.1v1.1h-1.1zM388.6 196.6h1.1v1.1h-1.1zM375.0 175.4h1.1v1.1h-1.1zM382.5 196.8h1.1v1.1h-1.1zM358.8 202.5h1.1v1.1h-1.1zM395.4 180.7h1.1v1.1h-1.1zM351.7 219.5h1.1v1.1h-1.1zM392.9 168.1h1.1v1.1h-1.1zM365.3 215.7h1.1v1.1h-1.1zM377.5 184.2h1.1v1.1h-1.1zM388.4 166.9h1.1v1.1h-1.1zM383.6 177.8h1.1v1.1h-1.1zM378.4 204.8h1.1v1.1h-1.1zM353.9 214.0h1.1v1.1h-1.1zM395.5 179.0h1.1v1.1h-1.1zM352.3 215.6h1.1v1.1h-1.1zM393.3 181.2h1.1v1.1h-1.1zM355.4 220.1h1.1v1.1h-1.1zM376.2 187.3h1.1v1.1h-1.1zM380.3 178.9h1.1v1.1h-1.1zM420.8 181.3h1.1v1.1h-1.1zM399.1 188.7h1.1v1.1h-1.1zM405.3 177.6h1.1v1.1h-1.1zM413.6 176.7h1.1v1.1h-1.1zM404.6 196.6h1.1v1.1h-1.1zM370.5 194.8h1.1v1.1h-1.1zM376.6 185.2h1.1v1.1h-1.1zM372.5 181.5h1.1v1.1h-1.1zM394.2 179.1h1.1v1.1h-1.1zM392.4 194.0h1.1v1.1h-1.1zM421.7 172.6h1.1v1.1h-1.1zM377.8 182.3h1.1v1.1h-1.1zM383.3 197.0h1.1v1.1h-1.1zM428.5 187.7h1.1v1.1h-1.1zM378.0 178.4h1.1v1.1h-1.1zM421.6 176.8h1.1v1.1h-1.1zM417.5 183.7h1.1v1.1h-1.1zM420.9 183.0h1.1v1.1h-1.1zM404.7 174.1h1.1v1.1h-1.1zM403.6 177.2h1.1v1.1h-1.1zM417.1 173.3h1.1v1.1h-1.1zM419.4 190.4h1.1v1.1h-1.1zM416.0 172.6h1.1v1.1h-1.1zM385.2 184.5h1.1v1.1h-1.1zM407.0 180.5h1.1v1.1h-1.1zM401.9 175.6h1.1v1.1h-1.1zM389.0 175.6h1.1v1.1h-1.1zM396.0 182.2h1.1v1.1h-1.1zM399.6 176.5h1.1v1.1h-1.1zM422.0 184.4h1.1v1.1h-1.1zM389.0 201.8h1.1v1.1h-1.1zM364.1 187.4h1.1v1.1h-1.1zM410.4 179.0h1.1v1.1h-1.1zM388.5 182.4h1.1v1.1h-1.1zM422.0 189.3h1.1v1.1h-1.1zM412.8 184.5h1.1v1.1h-1.1zM405.8 189.6h1.1v1.1h-1.1zM407.2 184.7h1.1v1.1h-1.1zM427.0 179.4h1.1v1.1h-1.1zM410.5 182.6h1.1v1.1h-1.1zM391.8 193.2h1.1v1.1h-1.1zM390.0 180.5h1.1v1.1h-1.1zM391.7 186.2h1.1v1.1h-1.1zM414.6 194.6h1.1v1.1h-1.1zM431.6 194.5h1.1v1.1h-1.1zM413.8 190.3h1.1v1.1h-1.1zM401.5 176.3h1.1v1.1h-1.1zM425.0 177.7h1.1v1.1h-1.1zM416.3 193.8h1.1v1.1h-1.1zM405.5 193.2h1.1v1.1h-1.1zM407.2 183.0h1.1v1.1h-1.1zM416.9 196.4h1.1v1.1h-1.1zM386.6 185.5h1.1v1.1h-1.1zM394.9 185.5h1.1v1.1h-1.1zM414.5 173.7h1.1v1.1h-1.1zM389.4 189.8h1.1v1.1h-1.1zM413.1 179.1h1.1v1.1h-1.1zM407.1 190.0h1.1v1.1h-1.1zM420.5 169.0h1.1v1.1h-1.1zM397.5 195.1h1.1v1.1h-1.1zM400.0 180.4h1.1v1.1h-1.1zM408.2 185.8h1.1v1.1h-1.1zM409.7 186.0h1.1v1.1h-1.1zM393.5 186.3h1.1v1.1h-1.1zM418.5 184.1h1.1v1.1h-1.1zM403.5 178.6h1.1v1.1h-1.1zM408.6 174.9h1.1v1.1h-1.1zM398.4 182.0h1.1v1.1h-1.1zM369.0 184.7h1.1v1.1h-1.1zM380.8 176.8h1.1v1.1h-1.1zM390.7 180.1h1.1v1.1h-1.1zM400.7 186.5h1.1v1.1h-1.1zM386.8 179.6h1.1v1.1h-1.1zM410.0 178.5h1.1v1.1h-1.1zM392.3 184.0h1.1v1.1h-1.1zM414.2 186.1h1.1v1.1h-1.1zM383.0 183.3h1.1v1.1h-1.1zM403.0 194.2h1.1v1.1h-1.1zM403.0 180.5h1.1v1.1h-1.1zM425.6 177.5h1.1v1.1h-1.1zM423.7 191.2h1.1v1.1h-1.1zM402.5 184.5h1.1v1.1h-1.1zM414.2 198.0h1.1v1.1h-1.1zM408.4 180.3h1.1v1.1h-1.1zM416.0 184.0h1.1v1.1h-1.1zM393.3 183.5h1.1v1.1h-1.1zM412.0 191.6h1.1v1.1h-1.1zM414.9 187.1h1.1v1.1h-1.1zM397.2 190.4h1.1v1.1h-1.1zM498.8 72.0h1.1v1.1h-1.1zM499.2 71.2h1.1v1.1h-1.1zM500.3 84.3h1.1v1.1h-1.1zM500.2 74.9h1.1v1.1h-1.1zM500.6 73.8h1.1v1.1h-1.1zM502.0 91.3h1.1v1.1h-1.1zM499.6 75.7h1.1v1.1h-1.1zM502.1 98.6h1.1v1.1h-1.1zM499.7 90.6h1.1v1.1h-1.1zM501.2 70.9h1.1v1.1h-1.1zM500.1 81.9h1.1v1.1h-1.1zM499.3 95.6h1.1v1.1h-1.1zM495.5 73.8h1.1v1.1h-1.1zM499.0 71.5h1.1v1.1h-1.1zM498.7 78.5h1.1v1.1h-1.1zM501.0 78.9h1.1v1.1h-1.1zM432.3 208.6h1.1v1.1h-1.1zM491.7 181.8h1.1v1.1h-1.1zM499.2 157.5h1.1v1.1h-1.1zM358.5 200.3h1.1v1.1h-1.1zM458.0 54.8h1.1v1.1h-1.1zM370.5 67.6h1.1v1.1h-1.1zM450.2 128.1h1.1v1.1h-1.1zM489.6 224.7h1.1v1.1h-1.1zM431.0 181.1h1.1v1.1h-1.1zM469.8 104.3h1.1v1.1h-1.1zM381.5 196.4h1.1v1.1h-1.1zM390.5 50.0h1.1v1.1h-1.1zM396.3 55.6h1.1v1.1h-1.1zM504.5 100.5h1.1v1.1h-1.1z" fill="rgb(198,36,86)"/>
<line x1="129.50" y1="49.50" x2="129.50" y2="229.30" stroke="#000" stroke-width="1.5" stroke-linecap="butt"/>
<line x1="86.60" y1="173.50" x2="257.60" y2="173.50" stroke="#000" stroke-width="1.5" stroke-linecap="butt"/>
<rect x="86.60" y="49.50" width="171.00" height="179.80" fill="none" stroke="#000" stroke-width="1.8"/>
<path d="M86.60,229.30v6.3 M99.47,229.30v4.0 M107.00,229.30v4.0 M112.34,229.30v4.0 M116.48,229.30v4.0 M119.87,229.30v4.0 M122.73,229.30v4.0 M125.21,229.30v4.0 M127.39,229.30v4.0 M129.35,229.30v6.3 M142.22,229.30v4.0 M149.75,229.30v4.0 M155.09,229.30v4.0 M159.23,229.30v4.0 M162.62,229.30v4.0 M165.48,229.30v4.0 M167.96,229.30v4.0 M170.14,229.30v4.0 M172.10,229.30v6.3 M184.97,229.30v4.0 M192.50,229.30v4.0 M197.84,229.30v4.0 M201.98,229.30v4.0 M205.37,229.30v4.0 M208.23,229.30v4.0 M210.71,229.30v4.0 M212.89,229.30v4.0 M214.85,229.30v6.3 M227.72,229.30v4.0 M235.25,229.30v4.0 M240.59,229.30v4.0 M244.73,229.30v4.0 M248.12,229.30v4.0 M250.98,229.30v4.0 M253.46,229.30v4.0 M255.64,229.30v4.0 M257.60,229.30v6.3" stroke="#000" stroke-width="1.5" fill="none"/>
<path d="M86.60,229.30h-5.5 M86.60,215.77h-3.5 M86.60,207.85h-3.5 M86.60,202.24h-3.5 M86.60,197.88h-3.5 M86.60,194.32h-3.5 M86.60,191.31h-3.5 M86.60,188.71h-3.5 M86.60,186.41h-3.5 M86.60,184.35h-5.5 M86.60,170.82h-3.5 M86.60,162.90h-3.5 M86.60,157.29h-3.5 M86.60,152.93h-3.5 M86.60,149.37h-3.5 M86.60,146.36h-3.5 M86.60,143.76h-3.5 M86.60,141.46h-3.5 M86.60,139.40h-5.5 M86.60,125.87h-3.5 M86.60,117.95h-3.5 M86.60,112.34h-3.5 M86.60,107.98h-3.5 M86.60,104.42h-3.5 M86.60,101.41h-3.5 M86.60,98.81h-3.5 M86.60,96.51h-3.5 M86.60,94.45h-5.5 M86.60,80.92h-3.5 M86.60,73.00h-3.5 M86.60,67.39h-3.5 M86.60,63.03h-3.5 M86.60,59.47h-3.5 M86.60,56.46h-3.5 M86.60,53.86h-3.5 M86.60,51.56h-3.5 M86.60,49.50h-5.5" stroke="#000" stroke-width="1.5" fill="none"/>
<line x1="380.50" y1="49.00" x2="380.50" y2="227.70" stroke="#000" stroke-width="1.5" stroke-linecap="butt"/>
<line x1="337.30" y1="173.00" x2="508.00" y2="173.00" stroke="#000" stroke-width="1.5" stroke-linecap="butt"/>
<rect x="337.30" y="49.00" width="170.70" height="178.70" fill="none" stroke="#000" stroke-width="1.8"/>
<path d="M337.30,227.70v6.3 M350.15,227.70v4.0 M357.66,227.70v4.0 M362.99,227.70v4.0 M367.13,227.70v4.0 M370.51,227.70v4.0 M373.36,227.70v4.0 M375.84,227.70v4.0 M378.02,227.70v4.0 M379.98,227.70v6.3 M392.82,227.70v4.0 M400.34,227.70v4.0 M405.67,227.70v4.0 M409.80,227.70v4.0 M413.18,227.70v4.0 M416.04,227.70v4.0 M418.51,227.70v4.0 M420.70,227.70v4.0 M422.65,227.70v6.3 M435.50,227.70v4.0 M443.01,227.70v4.0 M448.34,227.70v4.0 M452.48,227.70v4.0 M455.86,227.70v4.0 M458.71,227.70v4.0 M461.19,227.70v4.0 M463.37,227.70v4.0 M465.32,227.70v6.3 M478.17,227.70v4.0 M485.69,227.70v4.0 M491.02,227.70v4.0 M495.15,227.70v4.0 M498.53,227.70v4.0 M501.39,227.70v4.0 M503.86,227.70v4.0 M506.05,227.70v4.0 M508.00,227.70v6.3" stroke="#000" stroke-width="1.5" fill="none"/>
<path d="M337.30,227.70h-5.5 M337.30,214.25h-3.5 M337.30,206.38h-3.5 M337.30,200.80h-3.5 M337.30,196.47h-3.5 M337.30,192.94h-3.5 M337.30,189.95h-3.5 M337.30,187.35h-3.5 M337.30,185.07h-3.5 M337.30,183.02h-5.5 M337.30,169.58h-3.5 M337.30,161.71h-3.5 M337.30,156.13h-3.5 M337.30,151.80h-3.5 M337.30,148.26h-3.5 M337.30,145.27h-3.5 M337.30,142.68h-3.5 M337.30,140.39h-3.5 M337.30,138.35h-5.5 M337.30,124.90h-3.5 M337.30,117.03h-3.5 M337.30,111.45h-3.5 M337.30,107.12h-3.5 M337.30,103.59h-3.5 M337.30,100.60h-3.5 M337.30,98.00h-3.5 M337.30,95.72h-3.5 M337.30,93.68h-5.5 M337.30,80.23h-3.5 M337.30,72.36h-3.5 M337.30,66.78h-3.5 M337.30,62.45h-3.5 M337.30,58.91h-3.5 M337.30,55.92h-3.5 M337.30,53.33h-3.5 M337.30,51.04h-3.5 M337.30,49.00h-5.5" stroke="#000" stroke-width="1.5" fill="none"/>
<text x="77.91" y="248.62" font-size="11.40" font-family='"Liberation Sans", sans-serif' fill="#000" stroke="#000" stroke-width="0.35" stroke-linejoin="round">10</text>
<text x="90.63" y="242.32" font-size="11.40" font-family='"Liberation Sans", sans-serif' fill="#000" stroke="#000" stroke-width="0.35" stroke-linejoin="round">0</text>
<text x="120.66" y="248.62" font-size="11.40" font-family='"Liberation Sans", sans-serif' fill="#000" stroke="#000" stroke-width="0.35" stroke-linejoin="round">10</text>
<text x="132.96" y="242.32" font-size="11.40" font-family='"Liberation Sans", sans-serif' fill="#000" stroke="#000" stroke-width="0.35" stroke-linejoin="round">1</text>
<text x="163.41" y="248.62" font-size="11.40" font-family='"Liberation Sans", sans-serif' fill="#000" stroke="#000" stroke-width="0.35" stroke-linejoin="round">10</text>
<text x="176.00" y="242.32" font-size="11.40" font-family='"Liberation Sans", sans-serif' fill="#000" stroke="#000" stroke-width="0.35" stroke-linejoin="round">2</text>
<text x="206.16" y="248.62" font-size="11.40" font-family='"Liberation Sans", sans-serif' fill="#000" stroke="#000" stroke-width="0.35" stroke-linejoin="round">10</text>
<text x="218.89" y="242.32" font-size="11.40" font-family='"Liberation Sans", sans-serif' fill="#000" stroke="#000" stroke-width="0.35" stroke-linejoin="round">3</text>
<text x="248.91" y="248.62" font-size="11.40" font-family='"Liberation Sans", sans-serif' fill="#000" stroke="#000" stroke-width="0.35" stroke-linejoin="round">10</text>
<text x="261.81" y="242.32" font-size="11.40" font-family='"Liberation Sans", sans-serif' fill="#000" stroke="#000" stroke-width="0.35" stroke-linejoin="round">4</text>
<text x="328.61" y="247.12" font-size="11.40" font-family='"Liberation Sans", sans-serif' fill="#000" stroke="#000" stroke-width="0.35" stroke-linejoin="round">10</text>
<text x="341.33" y="240.82" font-size="11.40" font-family='"Liberation Sans", sans-serif' fill="#000" stroke="#000" stroke-width="0.35" stroke-linejoin="round">0</text>
<text x="371.28" y="247.12" font-size="11.40" font-family='"Liberation Sans", sans-serif' fill="#000" stroke="#000" stroke-width="0.35" stroke-linejoin="round">10</text>
<text x="383.58" y="240.82" font-size="11.40" font-family='"Liberation Sans", sans-serif' fill="#000" stroke="#000" stroke-width="0.35" stroke-linejoin="round">1</text>
<text x="413.96" y="247.12" font-size="11.40" font-family='"Liberation Sans", sans-serif' fill="#000" stroke="#000" stroke-width="0.35" stroke-linejoin="round">10</text>
<text x="426.55" y="240.82" font-size="11.40" font-family='"Liberation Sans", sans-serif' fill="#000" stroke="#000" stroke-width="0.35" stroke-linejoin="round">2</text>
<text x="456.63" y="247.12" font-size="11.40" font-family='"Liberation Sans", sans-serif' fill="#000" stroke="#000" stroke-width="0.35" stroke-linejoin="round">10</text>
<text x="469.37" y="240.82" font-size="11.40" font-family='"Liberation Sans", sans-serif' fill="#000" stroke="#000" stroke-width="0.35" stroke-linejoin="round">3</text>
<text x="499.31" y="247.12" font-size="11.40" font-family='"Liberation Sans", sans-serif' fill="#000" stroke="#000" stroke-width="0.35" stroke-linejoin="round">10</text>
<text x="512.21" y="240.82" font-size="11.40" font-family='"Liberation Sans", sans-serif' fill="#000" stroke="#000" stroke-width="0.35" stroke-linejoin="round">4</text>
<text transform="translate(76.62,237.11) rotate(-90)" font-size="11.40" font-family='"Liberation Sans", sans-serif' fill="#000" stroke="#000" stroke-width="0.35" stroke-linejoin="round" textLength="11.43" lengthAdjust="spacingAndGlyphs">10</text>
<text transform="translate(70.33,224.39) rotate(-90)" font-size="11.40" font-family='"Liberation Sans", sans-serif' fill="#000" stroke="#000" stroke-width="0.35" stroke-linejoin="round" textLength="6.57" lengthAdjust="spacingAndGlyphs">0</text>
<text transform="translate(76.62,192.16) rotate(-90)" font-size="11.40" font-family='"Liberation Sans", sans-serif' fill="#000" stroke="#000" stroke-width="0.35" stroke-linejoin="round" textLength="11.43" lengthAdjust="spacingAndGlyphs">10</text>
<text transform="translate(70.33,179.97) rotate(-90)" font-size="11.40" font-family='"Liberation Sans", sans-serif' fill="#000" stroke="#000" stroke-width="0.35" stroke-linejoin="round" textLength="7.29" lengthAdjust="spacingAndGlyphs">1</text>
<text transform="translate(76.62,147.21) rotate(-90)" font-size="11.40" font-family='"Liberation Sans", sans-serif' fill="#000" stroke="#000" stroke-width="0.35" stroke-linejoin="round" textLength="11.43" lengthAdjust="spacingAndGlyphs">10</text>
<text transform="translate(70.33,134.65) rotate(-90)" font-size="11.40" font-family='"Liberation Sans", sans-serif' fill="#000" stroke="#000" stroke-width="0.35" stroke-linejoin="round" textLength="6.90" lengthAdjust="spacingAndGlyphs">2</text>
<text transform="translate(76.62,102.26) rotate(-90)" font-size="11.40" font-family='"Liberation Sans", sans-serif' fill="#000" stroke="#000" stroke-width="0.35" stroke-linejoin="round" textLength="11.43" lengthAdjust="spacingAndGlyphs">10</text>
<text transform="translate(70.33,89.53) rotate(-90)" font-size="11.40" font-family='"Liberation Sans", sans-serif' fill="#000" stroke="#000" stroke-width="0.35" stroke-linejoin="round" textLength="6.63" lengthAdjust="spacingAndGlyphs">3</text>
<text transform="translate(76.62,57.31) rotate(-90)" font-size="11.40" font-family='"Liberation Sans", sans-serif' fill="#000" stroke="#000" stroke-width="0.35" stroke-linejoin="round" textLength="11.43" lengthAdjust="spacingAndGlyphs">10</text>
<text transform="translate(70.33,44.38) rotate(-90)" font-size="11.40" font-family='"Liberation Sans", sans-serif' fill="#000" stroke="#000" stroke-width="0.35" stroke-linejoin="round" textLength="6.24" lengthAdjust="spacingAndGlyphs">4</text>
<text transform="translate(327.12,234.11) rotate(-90)" font-size="11.40" font-family='"Liberation Sans", sans-serif' fill="#000" stroke="#000" stroke-width="0.35" stroke-linejoin="round" textLength="11.43" lengthAdjust="spacingAndGlyphs">10</text>
<text transform="translate(320.82,221.39) rotate(-90)" font-size="11.40" font-family='"Liberation Sans", sans-serif' fill="#000" stroke="#000" stroke-width="0.35" stroke-linejoin="round" textLength="6.57" lengthAdjust="spacingAndGlyphs">0</text>
<text transform="translate(327.12,189.43) rotate(-90)" font-size="11.40" font-family='"Liberation Sans", sans-serif' fill="#000" stroke="#000" stroke-width="0.35" stroke-linejoin="round" textLength="11.43" lengthAdjust="spacingAndGlyphs">10</text>
<text transform="translate(320.82,177.25) rotate(-90)" font-size="11.40" font-family='"Liberation Sans", sans-serif' fill="#000" stroke="#000" stroke-width="0.35" stroke-linejoin="round" textLength="7.29" lengthAdjust="spacingAndGlyphs">1</text>
<text transform="translate(327.12,144.76) rotate(-90)" font-size="11.40" font-family='"Liberation Sans", sans-serif' fill="#000" stroke="#000" stroke-width="0.35" stroke-linejoin="round" textLength="11.43" lengthAdjust="spacingAndGlyphs">10</text>
<text transform="translate(320.82,132.20) rotate(-90)" font-size="11.40" font-family='"Liberation Sans", sans-serif' fill="#000" stroke="#000" stroke-width="0.35" stroke-linejoin="round" textLength="6.90" lengthAdjust="spacingAndGlyphs">2</text>
<text transform="translate(327.12,100.08) rotate(-90)" font-size="11.40" font-family='"Liberation Sans", sans-serif' fill="#000" stroke="#000" stroke-width="0.35" stroke-linejoin="round" textLength="11.43" lengthAdjust="spacingAndGlyphs">10</text>
<text transform="translate(320.82,87.35) rotate(-90)" font-size="11.40" font-family='"Liberation Sans", sans-serif' fill="#000" stroke="#000" stroke-width="0.35" stroke-linejoin="round" textLength="6.63" lengthAdjust="spacingAndGlyphs">3</text>
<text transform="translate(327.12,55.41) rotate(-90)" font-size="11.40" font-family='"Liberation Sans", sans-serif' fill="#000" stroke="#000" stroke-width="0.35" stroke-linejoin="round" textLength="11.43" lengthAdjust="spacingAndGlyphs">10</text>
<text transform="translate(320.82,42.48) rotate(-90)" font-size="11.40" font-family='"Liberation Sans", sans-serif' fill="#000" stroke="#000" stroke-width="0.35" stroke-linejoin="round" textLength="6.24" lengthAdjust="spacingAndGlyphs">4</text>
<text x="155.44" y="260.22" font-size="11.40" font-family='"Liberation Sans", sans-serif' fill="#000" stroke="#000" stroke-width="0.35" stroke-linejoin="round">FL1-H</text>
<text x="392.74" y="258.32" font-size="11.40" font-family='"Liberation Sans", sans-serif' fill="#000" stroke="#000" stroke-width="0.35" stroke-linejoin="round">FL1-Height</text>
<text transform="translate(59.93,154.46) rotate(-90)" font-size="11.40" font-family='"Liberation Sans", sans-serif' fill="#000" stroke="#000" stroke-width="0.35" stroke-linejoin="round">FL2-H</text>
<text transform="translate(311.72,167.36) rotate(-90)" font-size="11.40" font-family='"Liberation Sans", sans-serif' fill="#000" stroke="#000" stroke-width="0.35" stroke-linejoin="round">FL2-Height</text>
<polygon points="151.5,75.1 168.5,75.1 196.4,88.3 204.9,119.6 181.2,132.7 135.0,138.0 113.5,116.4" fill="none" stroke="#000" stroke-width="2.6" stroke-linejoin="round"/>
<polygon points="135.0,138.0 177.5,135.0 218.8,129.5 227.0,152.5 211.2,177.0 117.5,172.5 122.5,151.2" fill="none" stroke="#000" stroke-width="2.6" stroke-linejoin="round"/>
<polygon points="400.6,74.9 420.3,74.5 447.8,87.2 455.9,119.4 428.5,134.5 384.3,136.9 364.7,115.8" fill="none" stroke="#000" stroke-width="2.6" stroke-linejoin="round"/>
<polygon points="385.0,137.5 430.0,133.2 470.0,129.6 476.2,151.2 461.2,175.0 369.5,170.0 373.8,147.5" fill="none" stroke="#000" stroke-width="2.6" stroke-linejoin="round"/>
<text x="171.97" y="98.03" font-size="11.82" font-family='"Liberation Sans", sans-serif' fill="#000" stroke="#000" stroke-width="0.35" stroke-linejoin="round" textLength="15.67" lengthAdjust="spacingAndGlyphs">R2</text>
<text x="204.81" y="151.52" font-size="11.85" font-family='"Liberation Sans", sans-serif' fill="#000" stroke="#000" stroke-width="0.35" stroke-linejoin="round" textLength="13.42" lengthAdjust="spacingAndGlyphs">R1</text>
<text x="403.42" y="88.42" font-size="12.39" font-family='"Liberation Sans", sans-serif' fill="#000" stroke="#000" stroke-width="0.35" stroke-linejoin="round" textLength="14.89" lengthAdjust="spacingAndGlyphs">R2</text>
<text x="456.79" y="153.62" font-size="11.26" font-family='"Liberation Sans", sans-serif' fill="#000" stroke="#000" stroke-width="0.35" stroke-linejoin="round" textLength="13.76" lengthAdjust="spacingAndGlyphs">R1</text>
<text x="207.31" y="71.25" font-size="14.35" font-family='"Liberation Serif", serif' fill="#000" font-weight="bold" stroke="#000" stroke-width="0.5" stroke-linejoin="round" textLength="35.93" lengthAdjust="spacingAndGlyphs">9.8%</text>
<text x="212.68" y="111.55" font-size="14.80" font-family='"Liberation Serif", serif' fill="#000" font-weight="bold" stroke="#000" stroke-width="0.5" stroke-linejoin="round" textLength="45.62" lengthAdjust="spacingAndGlyphs">69.7%</text>
<text x="458.68" y="73.25" font-size="14.35" font-family='"Liberation Serif", serif' fill="#000" font-weight="bold" stroke="#000" stroke-width="0.5" stroke-linejoin="round" textLength="45.62" lengthAdjust="spacingAndGlyphs">66.2%</text>
<text x="464.15" y="121.25" font-size="14.35" font-family='"Liberation Serif", serif' fill="#000" font-weight="bold" stroke="#000" stroke-width="0.5" stroke-linejoin="round" textLength="44.11" lengthAdjust="spacingAndGlyphs">33.5%</text>
<path d="M127.3,471.6V470.9H128.7V467.4H130.0V464.3H131.3V463.0H132.7V457.6H134.0V449.6H135.4V451.7H136.8V447.7H138.1V441.3H139.4V441.5H140.8V439.6H142.2V436.0H143.5V431.7H144.8V426.5H146.2V425.2H147.5V416.0H148.9V414.6H150.2V414.0H151.6V413.5H152.9V416.0H154.3V410.0H155.7V413.2H157.0V415.0H158.3V409.0H159.7V414.0H161.0V410.8H162.4V407.3H163.8V398.7H165.1V415.0H166.4V418.7H167.8V418.0H169.2V421.1H170.5V421.7H171.8V428.5H173.2V431.2H174.5V436.0H175.9V437.0H177.2V440.0H178.6V440.7H179.9V445.8H181.3V448.7H182.7V450.1H184.0V449.3H185.3V448.7H186.7V454.4H188.0V455.4H189.4V458.4H190.8V459.2H192.1V462.5H193.5V462.0H194.8V464.1H196.2V466.0H197.5V469.7H198.8V470.9H200.2V465.6H201.5V468.0H202.9V468.8H204.2V468.8H205.6V470.7H207.0V470.4H208.3V471.6H209.7V470.8H211.0V471.4H212.3V471.6Z" fill="rgb(50,184,44)" stroke="#000" stroke-width="1.3" stroke-linejoin="round"/>
<path d="M371.5,470.0V469.2H372.9V461.0H374.2V463.0H375.6V463.2H376.9V459.6H378.2V458.3H379.6V453.4H381.0V451.5H382.3V448.7H383.7V450.3H385.0V453.8H386.4V450.8H387.7V448.0H389.1V450.4H390.4V450.7H391.8V451.5H393.1V447.2H394.5V438.8H395.8V441.0H397.2V444.6H398.5V436.7H399.9V430.3H401.2V436.1H402.6V445.8H403.9V433.0H405.2V428.8H406.6V433.0H408.0V434.2H409.3V435.6H410.7V436.5H412.0V432.5H413.4V429.5H414.7V426.2H416.1V432.1H417.4V433.0H418.8V433.7H420.1V437.7H421.5V433.1H422.8V441.3H424.2V438.8H425.5V443.8H426.9V445.8H428.2V443.5H429.6V442.2H430.9V440.8H432.2V444.0H433.6V445.8H435.0V444.0H436.3V444.6H437.7V447.9H439.0V452.7H440.4V454.7H441.7V455.9H443.1V455.0H444.4V451.4H445.8V458.0H447.1V459.6H448.5V457.7H449.8V453.7H451.2V458.5H452.5V459.0H453.9V465.4H455.2V466.9H456.6V467.5H457.9V468.8H459.2V470.0Z" fill="rgb(50,184,44)" stroke="#000" stroke-width="1.3" stroke-linejoin="round"/>
<path d="M133.5,714.2V713.4H134.8V712.0H136.2V710.7H137.5V710.6H138.9V713.2H140.2V711.2H141.6V709.7H142.9V714.2H144.3V707.3H145.7V702.1H147.0V707.3H148.3V704.0H149.7V705.9H151.0V701.0H152.4V697.1H153.8V696.6H155.1V694.2H156.4V695.9H157.8V693.3H159.2V691.9H160.5V690.4H161.8V686.4H163.2V683.7H164.5V681.8H165.9V678.8H167.2V672.2H168.6V677.9H169.9V674.4H171.3V672.0H172.7V677.0H174.0V673.3H175.3V667.3H176.7V671.2H178.0V670.2H179.4V672.6H180.8V676.0H182.1V683.7H183.4V687.0H184.8V688.5H186.2V698.0H187.5V701.2H188.8V704.8H190.2V705.5H191.5V707.7H192.9V712.2H194.2V712.5H195.6V714.2H196.9V714.2Z" fill="rgb(50,184,44)" stroke="#000" stroke-width="1.3" stroke-linejoin="round"/>
<path d="M373.8,712.3V710.1H375.2V708.7H376.5V705.0H377.9V701.5H379.2V702.4H380.6V701.5H381.9V699.0H383.3V698.0H384.6V697.1H386.0V695.3H387.3V694.6H388.7V694.5H390.0V685.4H391.4V683.3H392.7V683.7H394.1V682.0H395.4V682.0H396.8V679.6H398.1V675.0H399.5V670.5H400.8V661.2H402.2V670.4H403.5V679.7H404.9V662.3H406.2V658.9H407.6V652.0H408.9V656.8H410.3V658.8H411.6V655.1H413.0V645.0H414.3V641.9H415.7V647.3H417.0V642.3H418.4V649.6H419.7V653.0H421.1V640.4H422.4V649.6H423.8V652.8H425.1V652.0H426.5V653.0H427.8V658.4H429.2V657.7H430.5V665.7H431.9V668.0H433.2V667.8H434.6V669.2H435.9V675.6H437.3V679.6H438.6V688.8H440.0V680.6H441.3V689.7H442.7V693.5H444.0V699.8H445.4V695.8H446.7V698.0H448.1V697.3H449.4V698.6H450.8V701.5H452.1V697.0H453.5V701.5H454.8V702.5H456.2V703.8H457.5V692.5H458.9V700.0H460.2V702.7H461.6V700.6H462.9V707.2H464.3V707.3H465.6V706.5H467.0V709.7H468.3V711.8H469.7V707.3H471.0V712.3H472.4V705.0H473.7V700.9H475.1V707.7H476.4V709.6H477.8V711.9H479.1V712.3Z" fill="rgb(50,184,44)" stroke="#000" stroke-width="1.3" stroke-linejoin="round"/>
<rect x="84.80" y="293.50" width="173.40" height="178.10" fill="none" stroke="#000" stroke-width="1.8"/>
<path d="M84.80,471.60v6.3 M97.85,471.60v4.0 M105.48,471.60v4.0 M110.90,471.60v4.0 M115.10,471.60v4.0 M118.53,471.60v4.0 M121.44,471.60v4.0 M123.95,471.60v4.0 M126.17,471.60v4.0 M128.15,471.60v6.3 M141.20,471.60v4.0 M148.83,471.60v4.0 M154.25,471.60v4.0 M158.45,471.60v4.0 M161.88,471.60v4.0 M164.79,471.60v4.0 M167.30,471.60v4.0 M169.52,471.60v4.0 M171.50,471.60v6.3 M184.55,471.60v4.0 M192.18,471.60v4.0 M197.60,471.60v4.0 M201.80,471.60v4.0 M205.23,471.60v4.0 M208.14,471.60v4.0 M210.65,471.60v4.0 M212.87,471.60v4.0 M214.85,471.60v6.3 M227.90,471.60v4.0 M235.53,471.60v4.0 M240.95,471.60v4.0 M245.15,471.60v4.0 M248.58,471.60v4.0 M251.49,471.60v4.0 M254.00,471.60v4.0 M256.22,471.60v4.0 M258.20,471.60v6.3" stroke="#000" stroke-width="1.5" fill="none"/>
<path d="M84.80,471.60h-6.0 M84.80,464.48h-4.0 M84.80,457.35h-4.0 M84.80,450.23h-4.0 M84.80,443.10h-4.0 M84.80,435.98h-6.0 M84.80,428.86h-4.0 M84.80,421.73h-4.0 M84.80,414.61h-4.0 M84.80,407.48h-4.0 M84.80,400.36h-6.0 M84.80,393.24h-4.0 M84.80,386.11h-4.0 M84.80,378.99h-4.0 M84.80,371.86h-4.0 M84.80,364.74h-6.0 M84.80,357.62h-4.0 M84.80,350.49h-4.0 M84.80,343.37h-4.0 M84.80,336.24h-4.0 M84.80,329.12h-6.0 M84.80,322.00h-4.0 M84.80,314.87h-4.0 M84.80,307.75h-4.0 M84.80,300.62h-4.0 M84.80,293.50h-6.0" stroke="#000" stroke-width="1.5" fill="none"/>
<text x="76.81" y="491.53" font-size="11.40" font-family='"Liberation Sans", sans-serif' fill="#000" stroke="#000" stroke-width="0.35" stroke-linejoin="round">10</text>
<text x="89.53" y="485.23" font-size="11.40" font-family='"Liberation Sans", sans-serif' fill="#000" stroke="#000" stroke-width="0.35" stroke-linejoin="round">0</text>
<text x="120.16" y="491.53" font-size="11.40" font-family='"Liberation Sans", sans-serif' fill="#000" stroke="#000" stroke-width="0.35" stroke-linejoin="round">10</text>
<text x="132.46" y="485.23" font-size="11.40" font-family='"Liberation Sans", sans-serif' fill="#000" stroke="#000" stroke-width="0.35" stroke-linejoin="round">1</text>
<text x="163.51" y="491.53" font-size="11.40" font-family='"Liberation Sans", sans-serif' fill="#000" stroke="#000" stroke-width="0.35" stroke-linejoin="round">10</text>
<text x="176.10" y="485.23" font-size="11.40" font-family='"Liberation Sans", sans-serif' fill="#000" stroke="#000" stroke-width="0.35" stroke-linejoin="round">2</text>
<text x="206.86" y="491.53" font-size="11.40" font-family='"Liberation Sans", sans-serif' fill="#000" stroke="#000" stroke-width="0.35" stroke-linejoin="round">10</text>
<text x="219.59" y="485.23" font-size="11.40" font-family='"Liberation Sans", sans-serif' fill="#000" stroke="#000" stroke-width="0.35" stroke-linejoin="round">3</text>
<text x="250.21" y="491.53" font-size="11.40" font-family='"Liberation Sans", sans-serif' fill="#000" stroke="#000" stroke-width="0.35" stroke-linejoin="round">10</text>
<text x="263.11" y="485.23" font-size="11.40" font-family='"Liberation Sans", sans-serif' fill="#000" stroke="#000" stroke-width="0.35" stroke-linejoin="round">4</text>
<text transform="translate(74.50,469.30) rotate(-90)" font-size="11.4" font-family='"Liberation Sans", sans-serif' fill="#000" text-anchor="middle" stroke="#000" stroke-width="0.35">0</text>
<text transform="translate(74.50,433.68) rotate(-90)" font-size="11.4" font-family='"Liberation Sans", sans-serif' fill="#000" text-anchor="middle" stroke="#000" stroke-width="0.35">40</text>
<text transform="translate(74.50,398.06) rotate(-90)" font-size="11.4" font-family='"Liberation Sans", sans-serif' fill="#000" text-anchor="middle" stroke="#000" stroke-width="0.35">80</text>
<text transform="translate(74.50,362.44) rotate(-90)" font-size="11.4" font-family='"Liberation Sans", sans-serif' fill="#000" text-anchor="middle" stroke="#000" stroke-width="0.35">120</text>
<text transform="translate(74.50,326.82) rotate(-90)" font-size="11.4" font-family='"Liberation Sans", sans-serif' fill="#000" text-anchor="middle" stroke="#000" stroke-width="0.35">160</text>
<text transform="translate(74.50,291.20) rotate(-90)" font-size="11.4" font-family='"Liberation Sans", sans-serif' fill="#000" text-anchor="middle" stroke="#000" stroke-width="0.35">200</text>
<rect x="335.60" y="291.50" width="172.90" height="178.50" fill="none" stroke="#000" stroke-width="1.8"/>
<path d="M335.60,470.00v6.3 M348.61,470.00v4.0 M356.22,470.00v4.0 M361.62,470.00v4.0 M365.81,470.00v4.0 M369.24,470.00v4.0 M372.13,470.00v4.0 M374.64,470.00v4.0 M376.85,470.00v4.0 M378.83,470.00v6.3 M391.84,470.00v4.0 M399.45,470.00v4.0 M404.85,470.00v4.0 M409.04,470.00v4.0 M412.46,470.00v4.0 M415.35,470.00v4.0 M417.86,470.00v4.0 M420.07,470.00v4.0 M422.05,470.00v6.3 M435.06,470.00v4.0 M442.67,470.00v4.0 M448.07,470.00v4.0 M452.26,470.00v4.0 M455.69,470.00v4.0 M458.58,470.00v4.0 M461.09,470.00v4.0 M463.30,470.00v4.0 M465.27,470.00v6.3 M478.29,470.00v4.0 M485.90,470.00v4.0 M491.30,470.00v4.0 M495.49,470.00v4.0 M498.91,470.00v4.0 M501.80,470.00v4.0 M504.31,470.00v4.0 M506.52,470.00v4.0 M508.50,470.00v6.3" stroke="#000" stroke-width="1.5" fill="none"/>
<path d="M335.60,470.00h-6.0 M335.60,462.86h-4.0 M335.60,455.72h-4.0 M335.60,448.58h-4.0 M335.60,441.44h-4.0 M335.60,434.30h-6.0 M335.60,427.16h-4.0 M335.60,420.02h-4.0 M335.60,412.88h-4.0 M335.60,405.74h-4.0 M335.60,398.60h-6.0 M335.60,391.46h-4.0 M335.60,384.32h-4.0 M335.60,377.18h-4.0 M335.60,370.04h-4.0 M335.60,362.90h-6.0 M335.60,355.76h-4.0 M335.60,348.62h-4.0 M335.60,341.48h-4.0 M335.60,334.34h-4.0 M335.60,327.20h-6.0 M335.60,320.06h-4.0 M335.60,312.92h-4.0 M335.60,305.78h-4.0 M335.60,298.64h-4.0 M335.60,291.50h-6.0" stroke="#000" stroke-width="1.5" fill="none"/>
<text x="327.61" y="489.93" font-size="11.40" font-family='"Liberation Sans", sans-serif' fill="#000" stroke="#000" stroke-width="0.35" stroke-linejoin="round">10</text>
<text x="340.33" y="483.62" font-size="11.40" font-family='"Liberation Sans", sans-serif' fill="#000" stroke="#000" stroke-width="0.35" stroke-linejoin="round">0</text>
<text x="370.83" y="489.93" font-size="11.40" font-family='"Liberation Sans", sans-serif' fill="#000" stroke="#000" stroke-width="0.35" stroke-linejoin="round">10</text>
<text x="383.13" y="483.62" font-size="11.40" font-family='"Liberation Sans", sans-serif' fill="#000" stroke="#000" stroke-width="0.35" stroke-linejoin="round">1</text>
<text x="414.06" y="489.93" font-size="11.40" font-family='"Liberation Sans", sans-serif' fill="#000" stroke="#000" stroke-width="0.35" stroke-linejoin="round">10</text>
<text x="426.65" y="483.62" font-size="11.40" font-family='"Liberation Sans", sans-serif' fill="#000" stroke="#000" stroke-width="0.35" stroke-linejoin="round">2</text>
<text x="457.28" y="489.93" font-size="11.40" font-family='"Liberation Sans", sans-serif' fill="#000" stroke="#000" stroke-width="0.35" stroke-linejoin="round">10</text>
<text x="470.02" y="483.62" font-size="11.40" font-family='"Liberation Sans", sans-serif' fill="#000" stroke="#000" stroke-width="0.35" stroke-linejoin="round">3</text>
<text x="500.51" y="489.93" font-size="11.40" font-family='"Liberation Sans", sans-serif' fill="#000" stroke="#000" stroke-width="0.35" stroke-linejoin="round">10</text>
<text x="513.41" y="483.62" font-size="11.40" font-family='"Liberation Sans", sans-serif' fill="#000" stroke="#000" stroke-width="0.35" stroke-linejoin="round">4</text>
<text transform="translate(325.30,467.70) rotate(-90)" font-size="11.4" font-family='"Liberation Sans", sans-serif' fill="#000" text-anchor="middle" stroke="#000" stroke-width="0.35">0</text>
<text transform="translate(325.30,432.00) rotate(-90)" font-size="11.4" font-family='"Liberation Sans", sans-serif' fill="#000" text-anchor="middle" stroke="#000" stroke-width="0.35">10</text>
<text transform="translate(325.30,396.30) rotate(-90)" font-size="11.4" font-family='"Liberation Sans", sans-serif' fill="#000" text-anchor="middle" stroke="#000" stroke-width="0.35">20</text>
<text transform="translate(325.30,360.60) rotate(-90)" font-size="11.4" font-family='"Liberation Sans", sans-serif' fill="#000" text-anchor="middle" stroke="#000" stroke-width="0.35">30</text>
<text transform="translate(325.30,324.90) rotate(-90)" font-size="11.4" font-family='"Liberation Sans", sans-serif' fill="#000" text-anchor="middle" stroke="#000" stroke-width="0.35">40</text>
<text transform="translate(325.30,289.20) rotate(-90)" font-size="11.4" font-family='"Liberation Sans", sans-serif' fill="#000" text-anchor="middle" stroke="#000" stroke-width="0.35">50</text>
<rect x="85.00" y="535.80" width="173.50" height="178.40" fill="none" stroke="#000" stroke-width="1.8"/>
<path d="M85.00,714.20v6.3 M98.06,714.20v4.0 M105.70,714.20v4.0 M111.11,714.20v4.0 M115.32,714.20v4.0 M118.75,714.20v4.0 M121.66,714.20v4.0 M124.17,714.20v4.0 M126.39,714.20v4.0 M128.38,714.20v6.3 M141.43,714.20v4.0 M149.07,714.20v4.0 M154.49,714.20v4.0 M158.69,714.20v4.0 M162.13,714.20v4.0 M165.03,714.20v4.0 M167.55,714.20v4.0 M169.77,714.20v4.0 M171.75,714.20v6.3 M184.81,714.20v4.0 M192.45,714.20v4.0 M197.86,714.20v4.0 M202.07,714.20v4.0 M205.50,714.20v4.0 M208.41,714.20v4.0 M210.92,714.20v4.0 M213.14,714.20v4.0 M215.12,714.20v6.3 M228.18,714.20v4.0 M235.82,714.20v4.0 M241.24,714.20v4.0 M245.44,714.20v4.0 M248.88,714.20v4.0 M251.78,714.20v4.0 M254.30,714.20v4.0 M256.52,714.20v4.0 M258.50,714.20v6.3" stroke="#000" stroke-width="1.5" fill="none"/>
<path d="M85.00,714.20h-6.0 M85.00,707.06h-4.0 M85.00,699.93h-4.0 M85.00,692.79h-4.0 M85.00,685.66h-4.0 M85.00,678.52h-6.0 M85.00,671.38h-4.0 M85.00,664.25h-4.0 M85.00,657.11h-4.0 M85.00,649.98h-4.0 M85.00,642.84h-6.0 M85.00,635.70h-4.0 M85.00,628.57h-4.0 M85.00,621.43h-4.0 M85.00,614.30h-4.0 M85.00,607.16h-6.0 M85.00,600.02h-4.0 M85.00,592.89h-4.0 M85.00,585.75h-4.0 M85.00,578.62h-4.0 M85.00,571.48h-6.0 M85.00,564.34h-4.0 M85.00,557.21h-4.0 M85.00,550.07h-4.0 M85.00,542.94h-4.0 M85.00,535.80h-6.0" stroke="#000" stroke-width="1.5" fill="none"/>
<text x="77.01" y="734.13" font-size="11.40" font-family='"Liberation Sans", sans-serif' fill="#000" stroke="#000" stroke-width="0.35" stroke-linejoin="round">10</text>
<text x="89.73" y="727.83" font-size="11.40" font-family='"Liberation Sans", sans-serif' fill="#000" stroke="#000" stroke-width="0.35" stroke-linejoin="round">0</text>
<text x="120.38" y="734.13" font-size="11.40" font-family='"Liberation Sans", sans-serif' fill="#000" stroke="#000" stroke-width="0.35" stroke-linejoin="round">10</text>
<text x="132.68" y="727.83" font-size="11.40" font-family='"Liberation Sans", sans-serif' fill="#000" stroke="#000" stroke-width="0.35" stroke-linejoin="round">1</text>
<text x="163.76" y="734.13" font-size="11.40" font-family='"Liberation Sans", sans-serif' fill="#000" stroke="#000" stroke-width="0.35" stroke-linejoin="round">10</text>
<text x="176.35" y="727.83" font-size="11.40" font-family='"Liberation Sans", sans-serif' fill="#000" stroke="#000" stroke-width="0.35" stroke-linejoin="round">2</text>
<text x="207.13" y="734.13" font-size="11.40" font-family='"Liberation Sans", sans-serif' fill="#000" stroke="#000" stroke-width="0.35" stroke-linejoin="round">10</text>
<text x="219.87" y="727.83" font-size="11.40" font-family='"Liberation Sans", sans-serif' fill="#000" stroke="#000" stroke-width="0.35" stroke-linejoin="round">3</text>
<text x="250.51" y="734.13" font-size="11.40" font-family='"Liberation Sans", sans-serif' fill="#000" stroke="#000" stroke-width="0.35" stroke-linejoin="round">10</text>
<text x="263.41" y="727.83" font-size="11.40" font-family='"Liberation Sans", sans-serif' fill="#000" stroke="#000" stroke-width="0.35" stroke-linejoin="round">4</text>
<text transform="translate(74.70,711.90) rotate(-90)" font-size="11.4" font-family='"Liberation Sans", sans-serif' fill="#000" text-anchor="middle" stroke="#000" stroke-width="0.35">0</text>
<text transform="translate(74.70,676.22) rotate(-90)" font-size="11.4" font-family='"Liberation Sans", sans-serif' fill="#000" text-anchor="middle" stroke="#000" stroke-width="0.35">40</text>
<text transform="translate(74.70,640.54) rotate(-90)" font-size="11.4" font-family='"Liberation Sans", sans-serif' fill="#000" text-anchor="middle" stroke="#000" stroke-width="0.35">80</text>
<text transform="translate(74.70,604.86) rotate(-90)" font-size="11.4" font-family='"Liberation Sans", sans-serif' fill="#000" text-anchor="middle" stroke="#000" stroke-width="0.35">120</text>
<text transform="translate(74.70,569.18) rotate(-90)" font-size="11.4" font-family='"Liberation Sans", sans-serif' fill="#000" text-anchor="middle" stroke="#000" stroke-width="0.35">160</text>
<text transform="translate(74.70,533.50) rotate(-90)" font-size="11.4" font-family='"Liberation Sans", sans-serif' fill="#000" text-anchor="middle" stroke="#000" stroke-width="0.35">200</text>
<rect x="335.60" y="534.20" width="173.60" height="178.10" fill="none" stroke="#000" stroke-width="1.8"/>
<path d="M335.60,712.30v6.3 M348.66,712.30v4.0 M356.31,712.30v4.0 M361.73,712.30v4.0 M365.94,712.30v4.0 M369.37,712.30v4.0 M372.28,712.30v4.0 M374.79,712.30v4.0 M377.01,712.30v4.0 M379.00,712.30v6.3 M392.06,712.30v4.0 M399.71,712.30v4.0 M405.13,712.30v4.0 M409.34,712.30v4.0 M412.77,712.30v4.0 M415.68,712.30v4.0 M418.19,712.30v4.0 M420.41,712.30v4.0 M422.40,712.30v6.3 M435.46,712.30v4.0 M443.11,712.30v4.0 M448.53,712.30v4.0 M452.74,712.30v4.0 M456.17,712.30v4.0 M459.08,712.30v4.0 M461.59,712.30v4.0 M463.81,712.30v4.0 M465.80,712.30v6.3 M478.86,712.30v4.0 M486.51,712.30v4.0 M491.93,712.30v4.0 M496.14,712.30v4.0 M499.57,712.30v4.0 M502.48,712.30v4.0 M504.99,712.30v4.0 M507.21,712.30v4.0 M509.20,712.30v6.3" stroke="#000" stroke-width="1.5" fill="none"/>
<path d="M335.60,712.30h-6.0 M335.60,705.18h-4.0 M335.60,698.05h-4.0 M335.60,690.93h-4.0 M335.60,683.80h-4.0 M335.60,676.68h-6.0 M335.60,669.56h-4.0 M335.60,662.43h-4.0 M335.60,655.31h-4.0 M335.60,648.18h-4.0 M335.60,641.06h-6.0 M335.60,633.94h-4.0 M335.60,626.81h-4.0 M335.60,619.69h-4.0 M335.60,612.56h-4.0 M335.60,605.44h-6.0 M335.60,598.32h-4.0 M335.60,591.19h-4.0 M335.60,584.07h-4.0 M335.60,576.94h-4.0 M335.60,569.82h-6.0 M335.60,562.70h-4.0 M335.60,555.57h-4.0 M335.60,548.45h-4.0 M335.60,541.32h-4.0 M335.60,534.20h-6.0" stroke="#000" stroke-width="1.5" fill="none"/>
<text x="327.61" y="732.23" font-size="11.40" font-family='"Liberation Sans", sans-serif' fill="#000" stroke="#000" stroke-width="0.35" stroke-linejoin="round">10</text>
<text x="340.33" y="725.93" font-size="11.40" font-family='"Liberation Sans", sans-serif' fill="#000" stroke="#000" stroke-width="0.35" stroke-linejoin="round">0</text>
<text x="371.01" y="732.23" font-size="11.40" font-family='"Liberation Sans", sans-serif' fill="#000" stroke="#000" stroke-width="0.35" stroke-linejoin="round">10</text>
<text x="383.31" y="725.93" font-size="11.40" font-family='"Liberation Sans", sans-serif' fill="#000" stroke="#000" stroke-width="0.35" stroke-linejoin="round">1</text>
<text x="414.41" y="732.23" font-size="11.40" font-family='"Liberation Sans", sans-serif' fill="#000" stroke="#000" stroke-width="0.35" stroke-linejoin="round">10</text>
<text x="427.00" y="725.93" font-size="11.40" font-family='"Liberation Sans", sans-serif' fill="#000" stroke="#000" stroke-width="0.35" stroke-linejoin="round">2</text>
<text x="457.81" y="732.23" font-size="11.40" font-family='"Liberation Sans", sans-serif' fill="#000" stroke="#000" stroke-width="0.35" stroke-linejoin="round">10</text>
<text x="470.54" y="725.93" font-size="11.40" font-family='"Liberation Sans", sans-serif' fill="#000" stroke="#000" stroke-width="0.35" stroke-linejoin="round">3</text>
<text x="501.21" y="732.23" font-size="11.40" font-family='"Liberation Sans", sans-serif' fill="#000" stroke="#000" stroke-width="0.35" stroke-linejoin="round">10</text>
<text x="514.11" y="725.93" font-size="11.40" font-family='"Liberation Sans", sans-serif' fill="#000" stroke="#000" stroke-width="0.35" stroke-linejoin="round">4</text>
<text transform="translate(325.30,710.00) rotate(-90)" font-size="11.4" font-family='"Liberation Sans", sans-serif' fill="#000" text-anchor="middle" stroke="#000" stroke-width="0.35">0</text>
<text transform="translate(325.30,674.38) rotate(-90)" font-size="11.4" font-family='"Liberation Sans", sans-serif' fill="#000" text-anchor="middle" stroke="#000" stroke-width="0.35">10</text>
<text transform="translate(325.30,638.76) rotate(-90)" font-size="11.4" font-family='"Liberation Sans", sans-serif' fill="#000" text-anchor="middle" stroke="#000" stroke-width="0.35">20</text>
<text transform="translate(325.30,603.14) rotate(-90)" font-size="11.4" font-family='"Liberation Sans", sans-serif' fill="#000" text-anchor="middle" stroke="#000" stroke-width="0.35">30</text>
<text transform="translate(325.30,567.52) rotate(-90)" font-size="11.4" font-family='"Liberation Sans", sans-serif' fill="#000" text-anchor="middle" stroke="#000" stroke-width="0.35">40</text>
<text transform="translate(325.30,531.90) rotate(-90)" font-size="11.4" font-family='"Liberation Sans", sans-serif' fill="#000" text-anchor="middle" stroke="#000" stroke-width="0.35">50</text>
<text transform="translate(61.93,402.30) rotate(-90)" font-size="11.40" font-family='"Liberation Sans", sans-serif' fill="#000" stroke="#000" stroke-width="0.35" stroke-linejoin="round">Counts</text>
<text transform="translate(312.12,399.90) rotate(-90)" font-size="11.40" font-family='"Liberation Sans", sans-serif' fill="#000" stroke="#000" stroke-width="0.35" stroke-linejoin="round">Counts</text>
<text transform="translate(61.93,644.90) rotate(-90)" font-size="11.40" font-family='"Liberation Sans", sans-serif' fill="#000" stroke="#000" stroke-width="0.35" stroke-linejoin="round">Counts</text>
<text transform="translate(312.12,642.20) rotate(-90)" font-size="11.40" font-family='"Liberation Sans", sans-serif' fill="#000" stroke="#000" stroke-width="0.35" stroke-linejoin="round">Counts</text>
<text x="154.54" y="503.12" font-size="11.40" font-family='"Liberation Sans", sans-serif' fill="#000" stroke="#000" stroke-width="0.35" stroke-linejoin="round">FL1-H</text>
<text x="394.24" y="502.12" font-size="11.40" font-family='"Liberation Sans", sans-serif' fill="#000" stroke="#000" stroke-width="0.35" stroke-linejoin="round">FL1-Height</text>
<text x="154.74" y="745.62" font-size="11.40" font-family='"Liberation Sans", sans-serif' fill="#000" stroke="#000" stroke-width="0.35" stroke-linejoin="round">FL1-H</text>
<text x="394.74" y="744.23" font-size="11.40" font-family='"Liberation Sans", sans-serif' fill="#000" stroke="#000" stroke-width="0.35" stroke-linejoin="round">FL1-Height</text>
<text x="86.24" y="283.70" font-size="16.28" font-family='"Liberation Sans", sans-serif' fill="#000" font-weight="bold" stroke="#000" stroke-width="1.0" stroke-linejoin="round" textLength="22.25" lengthAdjust="spacingAndGlyphs">R1</text>
<text x="116.22" y="283.70" font-size="16.28" font-family='"Liberation Sans", sans-serif' fill="#000" font-weight="bold" stroke="#000" stroke-width="1.0" stroke-linejoin="round" textLength="101.31" lengthAdjust="spacingAndGlyphs">populations</text>
<text x="223.73" y="283.90" font-size="11.60" font-family='"Liberation Sans", sans-serif' fill="#000" font-weight="bold" stroke="#000" stroke-width="0.6" stroke-linejoin="round" textLength="28.18" lengthAdjust="spacingAndGlyphs">(GpA</text>
<text x="252.49" y="278.45" font-size="7.33" font-family='"Liberation Sans", sans-serif' fill="#000" font-weight="bold" stroke="#000" stroke-width="0.3" stroke-linejoin="round" textLength="5.01" lengthAdjust="spacingAndGlyphs">+</text>
<text x="259.51" y="278.45" font-size="6.62" font-family='"Liberation Sans", sans-serif' fill="#000" font-weight="bold" font-style="italic" stroke="#000" stroke-width="0.3" stroke-linejoin="round" textLength="14.88" lengthAdjust="spacingAndGlyphs">dim</text>
<text x="277.92" y="283.90" font-size="11.04" font-family='"Liberation Sans", sans-serif' fill="#000" font-weight="bold" stroke="#000" stroke-width="0.6" stroke-linejoin="round" textLength="81.18" lengthAdjust="spacingAndGlyphs">eryhtroblasts)</text>
<text x="87.03" y="524.20" font-size="16.28" font-family='"Liberation Sans", sans-serif' fill="#000" font-weight="bold" stroke="#000" stroke-width="1.0" stroke-linejoin="round" textLength="22.37" lengthAdjust="spacingAndGlyphs">R2</text>
<text x="117.02" y="524.20" font-size="16.28" font-family='"Liberation Sans", sans-serif' fill="#000" font-weight="bold" stroke="#000" stroke-width="1.0" stroke-linejoin="round" textLength="101.62" lengthAdjust="spacingAndGlyphs">populations</text>
<text x="224.66" y="523.90" font-size="10.17" font-family='"Liberation Sans", sans-serif' fill="#000" font-weight="bold" stroke="#000" stroke-width="0.6" stroke-linejoin="round" textLength="26.42" lengthAdjust="spacingAndGlyphs">(GpA</text>
<text x="252.52" y="518.35" font-size="6.31" font-family='"Liberation Sans", sans-serif' fill="#000" font-weight="bold" stroke="#000" stroke-width="0.3" stroke-linejoin="round" textLength="3.26" lengthAdjust="spacingAndGlyphs">+</text>
<text x="260.30" y="519.45" font-size="8.00" font-family='"Liberation Sans", sans-serif' fill="#000" font-weight="bold" font-style="italic" stroke="#000" stroke-width="0.3" stroke-linejoin="round" textLength="24.95" lengthAdjust="spacingAndGlyphs">bright</text>
<text x="287.82" y="523.90" font-size="11.04" font-family='"Liberation Sans", sans-serif' fill="#000" font-weight="bold" stroke="#000" stroke-width="0.6" stroke-linejoin="round" textLength="81.28" lengthAdjust="spacingAndGlyphs">eryhtroblasts)</text>
<path d="M167.9,330V352M213.4,330V352M167.9,341.3H213.4" stroke="#000" stroke-width="1.6" fill="none"/>
<path d="M128.1,362.9V385.1M167.5,362.9V385.1M128.1,373.5H167.5" stroke="#000" stroke-width="1.6" fill="none"/>
<text x="172.04" y="327.25" font-size="14.35" font-family='"Liberation Serif", serif' fill="#000" font-weight="bold" stroke="#000" stroke-width="0.5" stroke-linejoin="round" textLength="46.28" lengthAdjust="spacingAndGlyphs">23.7%</text>
<text x="125.29" y="359.75" font-size="15.27" font-family='"Liberation Serif", serif' fill="#000" font-weight="bold" stroke="#000" stroke-width="0.5" stroke-linejoin="round" textLength="46.03" lengthAdjust="spacingAndGlyphs">76.1%</text>
<text x="183.89" y="355.32" font-size="10.97" font-family='"Liberation Sans", sans-serif' fill="#000" stroke="#000" stroke-width="0.35" stroke-linejoin="round" textLength="18.29" lengthAdjust="spacingAndGlyphs">M2</text>
<text x="139.50" y="387.02" font-size="10.68" font-family='"Liberation Sans", sans-serif' fill="#000" stroke="#000" stroke-width="0.35" stroke-linejoin="round" textLength="18.27" lengthAdjust="spacingAndGlyphs">M1</text>
<path d="M416,329.6V350.8M462.2,329.6V350.8M416,339.8H462.2" stroke="#000" stroke-width="1.6" fill="none"/>
<path d="M377,362.4V382.5M416,362.4V382.5M377,372.3H416" stroke="#000" stroke-width="1.6" fill="none"/>
<text x="421.19" y="324.75" font-size="14.35" font-family='"Liberation Serif", serif' fill="#000" font-weight="bold" stroke="#000" stroke-width="0.5" stroke-linejoin="round" textLength="45.10" lengthAdjust="spacingAndGlyphs">62.4%</text>
<text x="368.13" y="357.25" font-size="15.10" font-family='"Liberation Serif", serif' fill="#000" font-weight="bold" stroke="#000" stroke-width="0.5" stroke-linejoin="round" textLength="45.68" lengthAdjust="spacingAndGlyphs">37.3%</text>
<text x="430.03" y="353.12" font-size="10.68" font-family='"Liberation Sans", sans-serif' fill="#000" stroke="#000" stroke-width="0.35" stroke-linejoin="round" textLength="17.63" lengthAdjust="spacingAndGlyphs">M2</text>
<text x="388.38" y="385.52" font-size="10.68" font-family='"Liberation Sans", sans-serif' fill="#000" stroke="#000" stroke-width="0.35" stroke-linejoin="round" textLength="16.84" lengthAdjust="spacingAndGlyphs">M1</text>
<path d="M168.2,574.3V596M213.7,574.3V596M168.2,584.3H213.7" stroke="#000" stroke-width="1.6" fill="none"/>
<path d="M140,601.8V624M168.2,601.8V624M140,612.8H168.2" stroke="#000" stroke-width="1.6" fill="none"/>
<text x="173.60" y="569.75" font-size="14.51" font-family='"Liberation Serif", serif' fill="#000" font-weight="bold" stroke="#000" stroke-width="0.5" stroke-linejoin="round" textLength="44.67" lengthAdjust="spacingAndGlyphs">57.2%</text>
<text x="121.03" y="594.25" font-size="15.19" font-family='"Liberation Serif", serif' fill="#000" font-weight="bold" stroke="#000" stroke-width="0.5" stroke-linejoin="round" textLength="44.75" lengthAdjust="spacingAndGlyphs">41.7%</text>
<text x="184.19" y="598.53" font-size="10.68" font-family='"Liberation Sans", sans-serif' fill="#000" stroke="#000" stroke-width="0.35" stroke-linejoin="round" textLength="18.29" lengthAdjust="spacingAndGlyphs">M2</text>
<text x="147.23" y="624.93" font-size="10.68" font-family='"Liberation Sans", sans-serif' fill="#000" stroke="#000" stroke-width="0.35" stroke-linejoin="round" textLength="16.06" lengthAdjust="spacingAndGlyphs">M1</text>
<path d="M417.5,571.2V594.4M463.7,571.2V594.4M417.5,582.4H463.7" stroke="#000" stroke-width="1.6" fill="none"/>
<path d="M373.1,604V626.2M417.5,604V626.2M373.1,615H417.5" stroke="#000" stroke-width="1.6" fill="none"/>
<text x="423.09" y="567.25" font-size="14.51" font-family='"Liberation Serif", serif' fill="#000" font-weight="bold" stroke="#000" stroke-width="0.5" stroke-linejoin="round" textLength="45.20" lengthAdjust="spacingAndGlyphs">51.7%</text>
<text x="375.53" y="600.25" font-size="14.43" font-family='"Liberation Serif", serif' fill="#000" font-weight="bold" stroke="#000" stroke-width="0.5" stroke-linejoin="round" textLength="44.75" lengthAdjust="spacingAndGlyphs">48.1%</text>
<text x="433.02" y="595.93" font-size="10.68" font-family='"Liberation Sans", sans-serif' fill="#000" stroke="#000" stroke-width="0.35" stroke-linejoin="round" textLength="19.51" lengthAdjust="spacingAndGlyphs">M2</text>
<text x="387.70" y="628.53" font-size="10.68" font-family='"Liberation Sans", sans-serif' fill="#000" stroke="#000" stroke-width="0.35" stroke-linejoin="round" textLength="18.27" lengthAdjust="spacingAndGlyphs">M1</text>
<line x1="208.80" y1="75.50" x2="203.80" y2="78.50" stroke="#000" stroke-width="2.0" stroke-linecap="round"/>
<polygon points="197.1,84.3 200.8,74.8 206.8,82.2" fill="#000" stroke="#000" stroke-width="0.6" stroke-linejoin="round"/>
<line x1="223.60" y1="114.40" x2="221.00" y2="120.90" stroke="#000" stroke-width="2.0" stroke-linecap="round"/>
<polygon points="217.6,127.8 216.9,119.2 225.2,122.5" fill="#000" stroke="#000" stroke-width="0.6" stroke-linejoin="round"/>
<line x1="461.80" y1="76.60" x2="456.50" y2="79.90" stroke="#000" stroke-width="2.0" stroke-linecap="round"/>
<polygon points="449.3,85.6 453.9,76.2 459.2,83.5" fill="#000" stroke="#000" stroke-width="0.6" stroke-linejoin="round"/>
<line x1="484.50" y1="124.80" x2="482.00" y2="126.50" stroke="#000" stroke-width="2.0" stroke-linecap="round"/>
<polygon points="476.8,133.6 478.3,124.3 485.8,128.7" fill="#000" stroke="#000" stroke-width="0.6" stroke-linejoin="round"/>
</svg>
</body></html>
